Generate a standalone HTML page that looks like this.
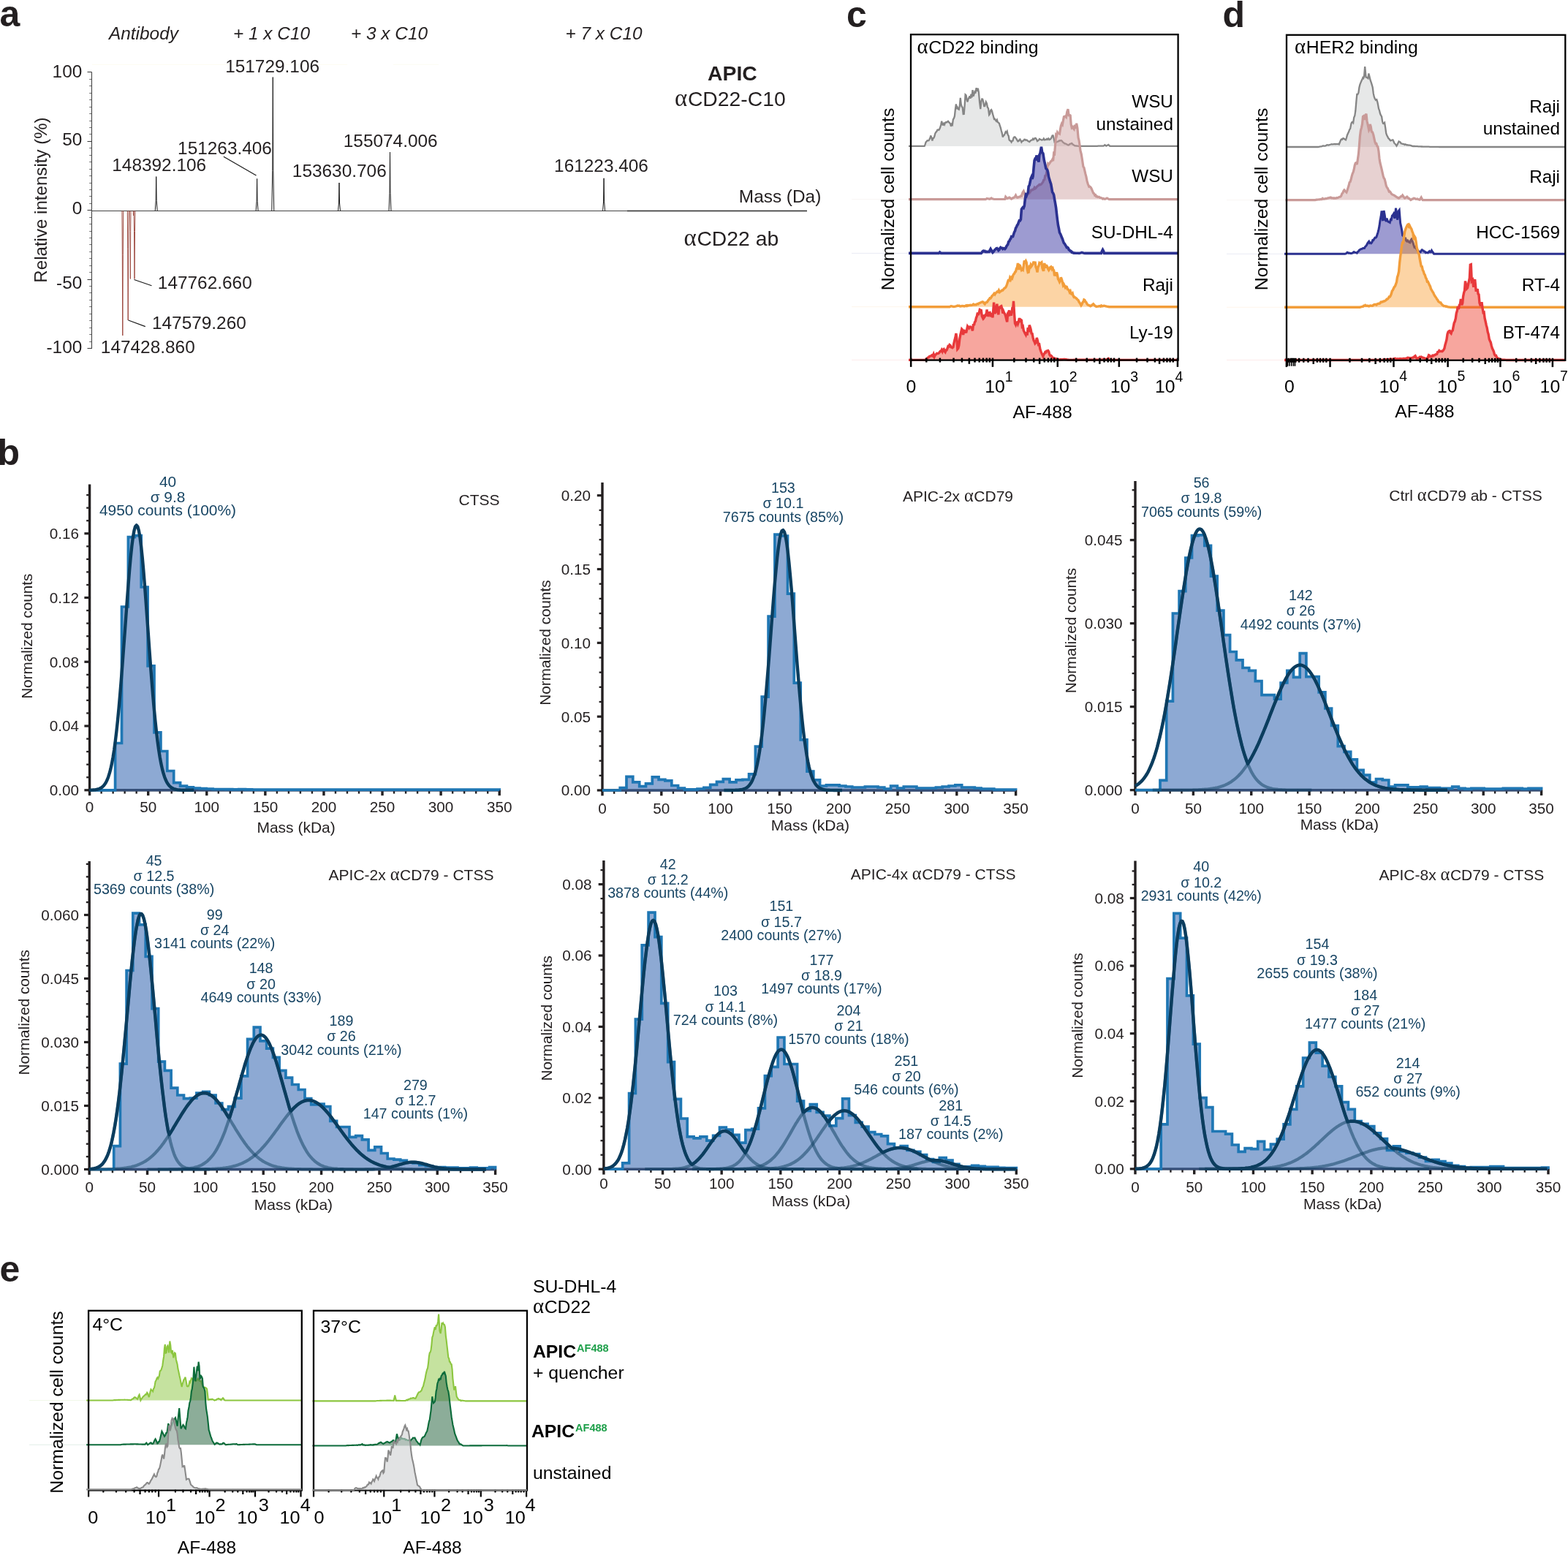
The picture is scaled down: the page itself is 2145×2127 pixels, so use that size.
<!DOCTYPE html>
<html lang="en"><head><meta charset="utf-8"><title>Figure</title>
<style>
html,body{margin:0;padding:0;background:#fff;}
svg{display:block;font-family:"Liberation Sans",sans-serif;}
</style></head>
<body>
<svg width="2145" height="2127" viewBox="0 0 2145 2127" fill="#231f20">
<rect x="0" y="0" width="2145" height="2127" fill="#ffffff"/>
<g id="panel-a">
<text transform="translate(-0.5 36.4) scale(1.00 1)" font-size="50.0" font-weight="bold" fill="#231f20">a</text>
<text x="149.0" y="54.3" font-size="24.40" font-style="italic">Antibody</text>
<text x="319.0" y="54.3" font-size="24.40" font-style="italic">+ 1 x C10</text>
<text x="480.0" y="54.3" font-size="24.40" font-style="italic">+ 3 x C10</text>
<text x="773.5" y="54.3" font-size="24.40" font-style="italic">+ 7 x C10</text>
<line x1="126.00" y1="88.30" x2="475.00" y2="88.30" stroke="#f6f2cf" stroke-width="1.00" stroke-opacity="0.3"/>
<line x1="538.00" y1="88.30" x2="600.00" y2="88.30" stroke="#f6f2cf" stroke-width="1.00" stroke-opacity="0.25"/>
<line x1="125.50" y1="98.50" x2="125.50" y2="477.00" stroke="#3a3a3a" stroke-width="1.00" />
<line x1="119.50" y1="98.50" x2="125.50" y2="98.50" stroke="#3a3a3a" stroke-width="1.00" />
<line x1="122.20" y1="108.50" x2="125.50" y2="108.50" stroke="#3a3a3a" stroke-width="0.90" stroke-opacity="0.8"/>
<line x1="122.20" y1="117.50" x2="125.50" y2="117.50" stroke="#3a3a3a" stroke-width="0.90" stroke-opacity="0.8"/>
<line x1="122.20" y1="127.50" x2="125.50" y2="127.50" stroke="#3a3a3a" stroke-width="0.90" stroke-opacity="0.8"/>
<line x1="122.20" y1="136.50" x2="125.50" y2="136.50" stroke="#3a3a3a" stroke-width="0.90" stroke-opacity="0.8"/>
<line x1="122.20" y1="146.50" x2="125.50" y2="146.50" stroke="#3a3a3a" stroke-width="0.90" stroke-opacity="0.8"/>
<line x1="122.20" y1="155.50" x2="125.50" y2="155.50" stroke="#3a3a3a" stroke-width="0.90" stroke-opacity="0.8"/>
<line x1="122.20" y1="165.50" x2="125.50" y2="165.50" stroke="#3a3a3a" stroke-width="0.90" stroke-opacity="0.8"/>
<line x1="122.20" y1="174.50" x2="125.50" y2="174.50" stroke="#3a3a3a" stroke-width="0.90" stroke-opacity="0.8"/>
<line x1="122.20" y1="183.50" x2="125.50" y2="183.50" stroke="#3a3a3a" stroke-width="0.90" stroke-opacity="0.8"/>
<line x1="119.50" y1="193.50" x2="125.50" y2="193.50" stroke="#3a3a3a" stroke-width="1.00" />
<line x1="122.20" y1="202.50" x2="125.50" y2="202.50" stroke="#3a3a3a" stroke-width="0.90" stroke-opacity="0.8"/>
<line x1="122.20" y1="212.50" x2="125.50" y2="212.50" stroke="#3a3a3a" stroke-width="0.90" stroke-opacity="0.8"/>
<line x1="122.20" y1="221.50" x2="125.50" y2="221.50" stroke="#3a3a3a" stroke-width="0.90" stroke-opacity="0.8"/>
<line x1="122.20" y1="231.50" x2="125.50" y2="231.50" stroke="#3a3a3a" stroke-width="0.90" stroke-opacity="0.8"/>
<line x1="122.20" y1="240.50" x2="125.50" y2="240.50" stroke="#3a3a3a" stroke-width="0.90" stroke-opacity="0.8"/>
<line x1="122.20" y1="250.50" x2="125.50" y2="250.50" stroke="#3a3a3a" stroke-width="0.90" stroke-opacity="0.8"/>
<line x1="122.20" y1="259.50" x2="125.50" y2="259.50" stroke="#3a3a3a" stroke-width="0.90" stroke-opacity="0.8"/>
<line x1="122.20" y1="268.50" x2="125.50" y2="268.50" stroke="#3a3a3a" stroke-width="0.90" stroke-opacity="0.8"/>
<line x1="122.20" y1="278.50" x2="125.50" y2="278.50" stroke="#3a3a3a" stroke-width="0.90" stroke-opacity="0.8"/>
<line x1="119.50" y1="287.50" x2="125.50" y2="287.50" stroke="#3a3a3a" stroke-width="1.00" />
<line x1="122.20" y1="297.50" x2="125.50" y2="297.50" stroke="#3a3a3a" stroke-width="0.90" stroke-opacity="0.8"/>
<line x1="122.20" y1="306.50" x2="125.50" y2="306.50" stroke="#3a3a3a" stroke-width="0.90" stroke-opacity="0.8"/>
<line x1="122.20" y1="316.50" x2="125.50" y2="316.50" stroke="#3a3a3a" stroke-width="0.90" stroke-opacity="0.8"/>
<line x1="122.20" y1="325.50" x2="125.50" y2="325.50" stroke="#3a3a3a" stroke-width="0.90" stroke-opacity="0.8"/>
<line x1="122.20" y1="334.50" x2="125.50" y2="334.50" stroke="#3a3a3a" stroke-width="0.90" stroke-opacity="0.8"/>
<line x1="122.20" y1="344.50" x2="125.50" y2="344.50" stroke="#3a3a3a" stroke-width="0.90" stroke-opacity="0.8"/>
<line x1="122.20" y1="353.50" x2="125.50" y2="353.50" stroke="#3a3a3a" stroke-width="0.90" stroke-opacity="0.8"/>
<line x1="122.20" y1="363.50" x2="125.50" y2="363.50" stroke="#3a3a3a" stroke-width="0.90" stroke-opacity="0.8"/>
<line x1="122.20" y1="372.50" x2="125.50" y2="372.50" stroke="#3a3a3a" stroke-width="0.90" stroke-opacity="0.8"/>
<line x1="119.50" y1="382.50" x2="125.50" y2="382.50" stroke="#3a3a3a" stroke-width="1.00" />
<line x1="122.20" y1="391.50" x2="125.50" y2="391.50" stroke="#3a3a3a" stroke-width="0.90" stroke-opacity="0.8"/>
<line x1="122.20" y1="400.50" x2="125.50" y2="400.50" stroke="#3a3a3a" stroke-width="0.90" stroke-opacity="0.8"/>
<line x1="122.20" y1="410.50" x2="125.50" y2="410.50" stroke="#3a3a3a" stroke-width="0.90" stroke-opacity="0.8"/>
<line x1="122.20" y1="419.50" x2="125.50" y2="419.50" stroke="#3a3a3a" stroke-width="0.90" stroke-opacity="0.8"/>
<line x1="122.20" y1="429.50" x2="125.50" y2="429.50" stroke="#3a3a3a" stroke-width="0.90" stroke-opacity="0.8"/>
<line x1="122.20" y1="438.50" x2="125.50" y2="438.50" stroke="#3a3a3a" stroke-width="0.90" stroke-opacity="0.8"/>
<line x1="122.20" y1="448.50" x2="125.50" y2="448.50" stroke="#3a3a3a" stroke-width="0.90" stroke-opacity="0.8"/>
<line x1="122.20" y1="457.50" x2="125.50" y2="457.50" stroke="#3a3a3a" stroke-width="0.90" stroke-opacity="0.8"/>
<line x1="122.20" y1="467.50" x2="125.50" y2="467.50" stroke="#3a3a3a" stroke-width="0.90" stroke-opacity="0.8"/>
<line x1="119.50" y1="476.50" x2="125.50" y2="476.50" stroke="#3a3a3a" stroke-width="1.00" />
<text x="112.3" y="106.3" font-size="24.40" text-anchor="end">100</text>
<text x="112.3" y="199.3" font-size="24.40" text-anchor="end">50</text>
<text x="112.3" y="293.2" font-size="24.40" text-anchor="end">0</text>
<text x="112.3" y="395.2" font-size="24.40" text-anchor="end">-50</text>
<text x="112.3" y="483.2" font-size="24.40" text-anchor="end">-100</text>
<text x="63.6" y="273.5" font-size="24.10" text-anchor="middle" transform="rotate(-90 63.6 273.5)">Relative intensity (%)</text>
<line x1="125.50" y1="288.50" x2="858.00" y2="288.50" stroke="#444" stroke-width="1.00" />
<line x1="858.00" y1="288.50" x2="1104.00" y2="288.50" stroke="#2a2a2a" stroke-width="1.40" />
<path d="M212.20 288.50 L213.20 274.43 L213.70 241.60 L214.20 274.43 L215.20 288.50" stroke="#1a1a1a" stroke-width="1.00" fill="none" stroke-linejoin="miter"/>
<path d="M350.10 288.50 L351.10 275.30 L351.60 244.50 L352.10 275.30 L353.10 288.50" stroke="#1a1a1a" stroke-width="1.00" fill="none" stroke-linejoin="miter"/>
<path d="M371.80 288.50 L372.80 233.63 L373.30 105.60 L373.80 233.63 L374.80 288.50" stroke="#1a1a1a" stroke-width="1.00" fill="none" stroke-linejoin="miter"/>
<path d="M462.50 288.50 L463.50 276.95 L464.00 250.00 L464.50 276.95 L465.50 288.50" stroke="#1a1a1a" stroke-width="1.00" fill="none" stroke-linejoin="miter"/>
<path d="M532.00 288.50 L533.00 264.35 L533.50 208.00 L534.00 264.35 L535.00 288.50" stroke="#1a1a1a" stroke-width="1.00" fill="none" stroke-linejoin="miter"/>
<path d="M824.60 288.50 L825.60 275.09 L826.10 243.80 L826.60 275.09 L827.60 288.50" stroke="#1a1a1a" stroke-width="1.00" fill="none" stroke-linejoin="miter"/>
<path d="M166.90 288.50 L167.30 348.18 L167.80 459.00 L168.30 348.18 L168.70 288.50" stroke="#963c32" stroke-width="0.90" fill="none" stroke-linejoin="miter"/>
<path d="M174.30 288.50 L174.70 340.82 L175.20 438.00 L175.70 340.82 L176.10 288.50" stroke="#963c32" stroke-width="0.90" fill="none" stroke-linejoin="miter"/>
<path d="M177.50 288.50 L177.90 316.40 L178.30 381.50 L178.70 316.40 L179.10 288.50" stroke="#963c32" stroke-width="0.80" fill="none" stroke-linejoin="miter"/>
<path d="M183.10 288.50 L183.50 316.40 L184.00 381.50 L184.50 316.40 L184.90 288.50" stroke="#963c32" stroke-width="0.90" fill="none" stroke-linejoin="miter"/>
<path d="M181.90 288.50 L182.20 290.45 L182.50 295.00 L182.80 290.45 L183.10 288.50" stroke="#963c32" stroke-width="0.70" fill="none" stroke-linejoin="miter"/>
<line x1="305.90" y1="214.30" x2="350.50" y2="240.00" stroke="#1a1a1a" stroke-width="1.20" />
<line x1="183.50" y1="382.50" x2="207.50" y2="390.70" stroke="#1a1a1a" stroke-width="1.20" />
<line x1="175.50" y1="438.00" x2="198.80" y2="446.60" stroke="#1a1a1a" stroke-width="1.20" />
<text x="372.6" y="98.8" font-size="24.40" text-anchor="middle">151729.106</text>
<text x="307.5" y="210.6" font-size="24.40" text-anchor="middle">151263.406</text>
<text x="217.7" y="233.5" font-size="24.40" text-anchor="middle">148392.106</text>
<text x="464.3" y="241.6" font-size="24.40" text-anchor="middle">153630.706</text>
<text x="534.2" y="201.2" font-size="24.40" text-anchor="middle">155074.006</text>
<text x="822.5" y="235.1" font-size="24.40" text-anchor="middle">161223.406</text>
<text x="280.3" y="395.0" font-size="24.40" text-anchor="middle">147762.660</text>
<text x="272.4" y="449.7" font-size="24.40" text-anchor="middle">147579.260</text>
<text x="202.3" y="482.9" font-size="24.40" text-anchor="middle">147428.860</text>
<text x="1001.9" y="110.2" font-size="28.30" text-anchor="middle" font-weight="bold">APIC</text>
<text x="998.8" y="145.3" font-size="28.30" text-anchor="middle"><tspan font-family="'Liberation Serif',serif" font-size="32.8" letter-spacing="0.8">α</tspan>CD22-C10</text>
<text x="1000.3" y="336.3" font-size="28.30" text-anchor="middle"><tspan font-family="'Liberation Serif',serif" font-size="32.8" letter-spacing="0.8">α</tspan>CD22 ab</text>
<text x="1123.3" y="277.3" font-size="24.40" text-anchor="end">Mass (Da)</text>
</g>
<g id="panel-b">
<text transform="translate(-3.6 636.3) scale(1.00 1)" font-size="50.0" font-weight="bold" fill="#231f20">b</text>
<g>
<line x1="122.60" y1="662.60" x2="122.60" y2="1082.50" stroke="#231f20" stroke-width="3.40" />
<line x1="120.90" y1="1080.80" x2="684.50" y2="1080.80" stroke="#231f20" stroke-width="3.40" />
<line x1="115.40" y1="1080.80" x2="122.60" y2="1080.80" stroke="#231f20" stroke-width="3.20" />
<text x="108.0" y="1088.1" font-size="20.70" text-anchor="end">0.00</text>
<line x1="118.20" y1="1063.25" x2="122.60" y2="1063.25" stroke="#231f20" stroke-width="2.30" />
<line x1="118.20" y1="1045.70" x2="122.60" y2="1045.70" stroke="#231f20" stroke-width="2.30" />
<line x1="118.20" y1="1028.14" x2="122.60" y2="1028.14" stroke="#231f20" stroke-width="2.30" />
<line x1="118.20" y1="1010.59" x2="122.60" y2="1010.59" stroke="#231f20" stroke-width="2.30" />
<line x1="115.40" y1="993.04" x2="122.60" y2="993.04" stroke="#231f20" stroke-width="3.20" />
<text x="108.0" y="1000.3" font-size="20.70" text-anchor="end">0.04</text>
<line x1="118.20" y1="975.49" x2="122.60" y2="975.49" stroke="#231f20" stroke-width="2.30" />
<line x1="118.20" y1="957.94" x2="122.60" y2="957.94" stroke="#231f20" stroke-width="2.30" />
<line x1="118.20" y1="940.38" x2="122.60" y2="940.38" stroke="#231f20" stroke-width="2.30" />
<line x1="118.20" y1="922.83" x2="122.60" y2="922.83" stroke="#231f20" stroke-width="2.30" />
<line x1="115.40" y1="905.28" x2="122.60" y2="905.28" stroke="#231f20" stroke-width="3.20" />
<text x="108.0" y="912.6" font-size="20.70" text-anchor="end">0.08</text>
<line x1="118.20" y1="887.73" x2="122.60" y2="887.73" stroke="#231f20" stroke-width="2.30" />
<line x1="118.20" y1="870.18" x2="122.60" y2="870.18" stroke="#231f20" stroke-width="2.30" />
<line x1="118.20" y1="852.62" x2="122.60" y2="852.62" stroke="#231f20" stroke-width="2.30" />
<line x1="118.20" y1="835.07" x2="122.60" y2="835.07" stroke="#231f20" stroke-width="2.30" />
<line x1="115.40" y1="817.52" x2="122.60" y2="817.52" stroke="#231f20" stroke-width="3.20" />
<text x="108.0" y="824.8" font-size="20.70" text-anchor="end">0.12</text>
<line x1="118.20" y1="799.97" x2="122.60" y2="799.97" stroke="#231f20" stroke-width="2.30" />
<line x1="118.20" y1="782.42" x2="122.60" y2="782.42" stroke="#231f20" stroke-width="2.30" />
<line x1="118.20" y1="764.86" x2="122.60" y2="764.86" stroke="#231f20" stroke-width="2.30" />
<line x1="118.20" y1="747.31" x2="122.60" y2="747.31" stroke="#231f20" stroke-width="2.30" />
<line x1="115.40" y1="729.76" x2="122.60" y2="729.76" stroke="#231f20" stroke-width="3.20" />
<text x="108.0" y="737.1" font-size="20.70" text-anchor="end">0.16</text>
<line x1="118.20" y1="712.21" x2="122.60" y2="712.21" stroke="#231f20" stroke-width="2.30" />
<line x1="118.20" y1="694.66" x2="122.60" y2="694.66" stroke="#231f20" stroke-width="2.30" />
<line x1="118.20" y1="677.10" x2="122.60" y2="677.10" stroke="#231f20" stroke-width="2.30" />
<line x1="122.60" y1="1080.80" x2="122.60" y2="1088.20" stroke="#231f20" stroke-width="3.40" />
<text x="122.6" y="1110.6" font-size="20.70" text-anchor="middle">0</text>
<line x1="138.62" y1="1080.80" x2="138.62" y2="1085.60" stroke="#231f20" stroke-width="2.40" />
<line x1="154.63" y1="1080.80" x2="154.63" y2="1085.60" stroke="#231f20" stroke-width="2.40" />
<line x1="170.65" y1="1080.80" x2="170.65" y2="1085.60" stroke="#231f20" stroke-width="2.40" />
<line x1="186.67" y1="1080.80" x2="186.67" y2="1085.60" stroke="#231f20" stroke-width="2.40" />
<line x1="202.69" y1="1080.80" x2="202.69" y2="1088.20" stroke="#231f20" stroke-width="3.40" />
<text x="202.7" y="1110.6" font-size="20.70" text-anchor="middle">50</text>
<line x1="218.70" y1="1080.80" x2="218.70" y2="1085.60" stroke="#231f20" stroke-width="2.40" />
<line x1="234.72" y1="1080.80" x2="234.72" y2="1085.60" stroke="#231f20" stroke-width="2.40" />
<line x1="250.74" y1="1080.80" x2="250.74" y2="1085.60" stroke="#231f20" stroke-width="2.40" />
<line x1="266.75" y1="1080.80" x2="266.75" y2="1085.60" stroke="#231f20" stroke-width="2.40" />
<line x1="282.77" y1="1080.80" x2="282.77" y2="1088.20" stroke="#231f20" stroke-width="3.40" />
<text x="282.8" y="1110.6" font-size="20.70" text-anchor="middle">100</text>
<line x1="298.79" y1="1080.80" x2="298.79" y2="1085.60" stroke="#231f20" stroke-width="2.40" />
<line x1="314.81" y1="1080.80" x2="314.81" y2="1085.60" stroke="#231f20" stroke-width="2.40" />
<line x1="330.82" y1="1080.80" x2="330.82" y2="1085.60" stroke="#231f20" stroke-width="2.40" />
<line x1="346.84" y1="1080.80" x2="346.84" y2="1085.60" stroke="#231f20" stroke-width="2.40" />
<line x1="362.86" y1="1080.80" x2="362.86" y2="1088.20" stroke="#231f20" stroke-width="3.40" />
<text x="362.9" y="1110.6" font-size="20.70" text-anchor="middle">150</text>
<line x1="378.87" y1="1080.80" x2="378.87" y2="1085.60" stroke="#231f20" stroke-width="2.40" />
<line x1="394.89" y1="1080.80" x2="394.89" y2="1085.60" stroke="#231f20" stroke-width="2.40" />
<line x1="410.91" y1="1080.80" x2="410.91" y2="1085.60" stroke="#231f20" stroke-width="2.40" />
<line x1="426.93" y1="1080.80" x2="426.93" y2="1085.60" stroke="#231f20" stroke-width="2.40" />
<line x1="442.94" y1="1080.80" x2="442.94" y2="1088.20" stroke="#231f20" stroke-width="3.40" />
<text x="442.9" y="1110.6" font-size="20.70" text-anchor="middle">200</text>
<line x1="458.96" y1="1080.80" x2="458.96" y2="1085.60" stroke="#231f20" stroke-width="2.40" />
<line x1="474.98" y1="1080.80" x2="474.98" y2="1085.60" stroke="#231f20" stroke-width="2.40" />
<line x1="490.99" y1="1080.80" x2="490.99" y2="1085.60" stroke="#231f20" stroke-width="2.40" />
<line x1="507.01" y1="1080.80" x2="507.01" y2="1085.60" stroke="#231f20" stroke-width="2.40" />
<line x1="523.03" y1="1080.80" x2="523.03" y2="1088.20" stroke="#231f20" stroke-width="3.40" />
<text x="523.0" y="1110.6" font-size="20.70" text-anchor="middle">250</text>
<line x1="539.05" y1="1080.80" x2="539.05" y2="1085.60" stroke="#231f20" stroke-width="2.40" />
<line x1="555.06" y1="1080.80" x2="555.06" y2="1085.60" stroke="#231f20" stroke-width="2.40" />
<line x1="571.08" y1="1080.80" x2="571.08" y2="1085.60" stroke="#231f20" stroke-width="2.40" />
<line x1="587.10" y1="1080.80" x2="587.10" y2="1085.60" stroke="#231f20" stroke-width="2.40" />
<line x1="603.11" y1="1080.80" x2="603.11" y2="1088.20" stroke="#231f20" stroke-width="3.40" />
<text x="603.1" y="1110.6" font-size="20.70" text-anchor="middle">300</text>
<line x1="619.13" y1="1080.80" x2="619.13" y2="1085.60" stroke="#231f20" stroke-width="2.40" />
<line x1="635.15" y1="1080.80" x2="635.15" y2="1085.60" stroke="#231f20" stroke-width="2.40" />
<line x1="651.17" y1="1080.80" x2="651.17" y2="1085.60" stroke="#231f20" stroke-width="2.40" />
<line x1="667.18" y1="1080.80" x2="667.18" y2="1085.60" stroke="#231f20" stroke-width="2.40" />
<line x1="683.20" y1="1080.80" x2="683.20" y2="1088.20" stroke="#231f20" stroke-width="3.40" />
<text x="683.2" y="1110.6" font-size="20.70" text-anchor="middle">350</text>
<path d="M157.6 1082.5 L157.6 1016.5 L166.5 1016.5 L166.5 830.0 L175.4 830.0 L175.4 734.6 L184.3 734.6 L184.3 732.6 L193.2 732.6 L193.2 803.0 L202.1 803.0 L202.1 910.8 L211.0 910.8 L211.0 1001.8 L219.9 1001.8 L219.9 1027.5 L228.8 1027.5 L228.8 1054.5 L237.7 1054.5 L237.7 1070.7 L246.6 1070.7 L246.6 1075.1 L255.5 1075.1 L255.5 1076.9 L264.4 1076.9 L264.4 1078.2 L273.3 1078.2 L273.3 1078.6 L282.2 1078.6 L282.2 1079.0 L291.1 1079.0 L291.1 1079.5 L300.0 1079.5 L300.0 1079.5 L308.9 1079.5 L308.9 1079.7 L317.8 1079.7 L317.8 1079.9 L326.7 1079.9 L326.7 1079.5 L335.6 1079.5 L335.6 1079.9 L344.5 1079.9 L344.5 1080.1 L353.4 1080.1 L353.4 1080.1 L362.3 1080.1 L362.3 1080.1 L371.2 1080.1 L371.2 1080.1 L380.1 1080.1 L380.1 1080.1 L389.0 1080.1 L389.0 1080.1 L397.9 1080.1 L397.9 1080.1 L406.8 1080.1 L406.8 1080.1 L415.7 1080.1 L415.7 1080.1 L424.6 1080.1 L424.6 1080.1 L433.5 1080.1 L433.5 1080.1 L442.4 1080.1 L442.4 1080.1 L451.3 1080.1 L451.3 1080.1 L460.2 1080.1 L460.2 1080.1 L469.1 1080.1 L469.1 1080.1 L478.0 1080.1 L478.0 1080.1 L486.9 1080.1 L486.9 1080.1 L495.8 1080.1 L495.8 1080.1 L504.7 1080.1 L504.7 1080.1 L513.6 1080.1 L513.6 1080.1 L522.5 1080.1 L522.5 1080.1 L531.4 1080.1 L531.4 1080.1 L540.3 1080.1 L540.3 1080.1 L549.2 1080.1 L549.2 1080.1 L558.1 1080.1 L558.1 1080.1 L567.0 1080.1 L567.0 1080.1 L575.9 1080.1 L575.9 1080.1 L584.8 1080.1 L584.8 1080.1 L593.7 1080.1 L593.7 1080.1 L602.6 1080.1 L602.6 1080.1 L611.5 1080.1 L611.5 1080.1 L620.4 1080.1 L620.4 1080.1 L629.3 1080.1 L629.3 1080.1 L638.2 1080.1 L638.2 1080.1 L647.1 1080.1 L647.1 1080.1 L656.0 1080.1 L656.0 1080.1 L664.9 1080.1 L664.9 1080.1 L673.8 1080.1 L673.8 1080.1 L682.7 1080.1 L682.7 1080.1 L683.2 1080.1 L683.2 1082.5Z" stroke="none" stroke-width="0.00" fill="#4170b6" fill-opacity="0.6"/>
<path d="M122.6 1080.8 L157.6 1080.8 L157.6 1016.5 L166.5 1016.5 L166.5 830.0 L175.4 830.0 L175.4 734.6 L184.3 734.6 L184.3 732.6 L193.2 732.6 L193.2 803.0 L202.1 803.0 L202.1 910.8 L211.0 910.8 L211.0 1001.8 L219.9 1001.8 L219.9 1027.5 L228.8 1027.5 L228.8 1054.5 L237.7 1054.5 L237.7 1070.7 L246.6 1070.7 L246.6 1075.1 L255.5 1075.1 L255.5 1076.9 L264.4 1076.9 L264.4 1078.2 L273.3 1078.2 L273.3 1078.6 L282.2 1078.6 L282.2 1079.0 L291.1 1079.0 L291.1 1079.5 L300.0 1079.5 L300.0 1079.5 L308.9 1079.5 L308.9 1079.7 L317.8 1079.7 L317.8 1079.9 L326.7 1079.9 L326.7 1079.5 L335.6 1079.5 L335.6 1079.9 L344.5 1079.9 L344.5 1080.1 L353.4 1080.1 L353.4 1080.1 L362.3 1080.1 L362.3 1080.1 L371.2 1080.1 L371.2 1080.1 L380.1 1080.1 L380.1 1080.1 L389.0 1080.1 L389.0 1080.1 L397.9 1080.1 L397.9 1080.1 L406.8 1080.1 L406.8 1080.1 L415.7 1080.1 L415.7 1080.1 L424.6 1080.1 L424.6 1080.1 L433.5 1080.1 L433.5 1080.1 L442.4 1080.1 L442.4 1080.1 L451.3 1080.1 L451.3 1080.1 L460.2 1080.1 L460.2 1080.1 L469.1 1080.1 L469.1 1080.1 L478.0 1080.1 L478.0 1080.1 L486.9 1080.1 L486.9 1080.1 L495.8 1080.1 L495.8 1080.1 L504.7 1080.1 L504.7 1080.1 L513.6 1080.1 L513.6 1080.1 L522.5 1080.1 L522.5 1080.1 L531.4 1080.1 L531.4 1080.1 L540.3 1080.1 L540.3 1080.1 L549.2 1080.1 L549.2 1080.1 L558.1 1080.1 L558.1 1080.1 L567.0 1080.1 L567.0 1080.1 L575.9 1080.1 L575.9 1080.1 L584.8 1080.1 L584.8 1080.1 L593.7 1080.1 L593.7 1080.1 L602.6 1080.1 L602.6 1080.1 L611.5 1080.1 L611.5 1080.1 L620.4 1080.1 L620.4 1080.1 L629.3 1080.1 L629.3 1080.1 L638.2 1080.1 L638.2 1080.1 L647.1 1080.1 L647.1 1080.1 L656.0 1080.1 L656.0 1080.1 L664.9 1080.1 L664.9 1080.1 L673.8 1080.1 L673.8 1080.1 L682.7 1080.1 L682.7 1080.1 L683.2 1080.1 L683.2 1080.8" stroke="#1f77b4" stroke-width="3.70" fill="none" stroke-linejoin="miter"/>
<path d="M122.6 1080.7 L124.2 1080.7 L125.8 1080.6 L127.4 1080.5 L129.0 1080.4 L130.6 1080.2 L132.2 1079.9 L133.8 1079.5 L135.4 1079.0 L137.0 1078.4 L138.6 1077.5 L140.2 1076.3 L141.8 1074.7 L143.4 1072.7 L145.0 1070.1 L146.6 1066.8 L148.2 1062.7 L149.8 1057.7 L151.4 1051.6 L153.0 1044.3 L154.6 1035.6 L156.2 1025.5 L157.8 1013.7 L159.4 1000.3 L161.0 985.2 L162.6 968.5 L164.2 950.2 L165.8 930.4 L167.4 909.5 L169.0 887.8 L170.7 865.4 L172.3 843.1 L173.9 821.1 L175.5 800.0 L177.1 780.3 L178.7 762.6 L180.3 747.3 L181.9 734.9 L183.5 725.8 L185.1 720.2 L186.7 718.4 L188.3 720.2 L189.9 725.8 L191.5 734.9 L193.1 747.3 L194.7 762.6 L196.3 780.3 L197.9 800.0 L199.5 821.1 L201.1 843.1 L202.7 865.4 L204.3 887.8 L205.9 909.5 L207.5 930.4 L209.1 950.2 L210.7 968.5 L212.3 985.2 L213.9 1000.3 L215.5 1013.7 L217.1 1025.5 L218.7 1035.6 L220.3 1044.3 L221.9 1051.6 L223.5 1057.7 L225.1 1062.7 L226.7 1066.8 L228.3 1070.1 L229.9 1072.7 L231.5 1074.7 L233.1 1076.3 L234.7 1077.5 L236.3 1078.4 L237.9 1079.0 L239.5 1079.5 L241.1 1079.9 L242.7 1080.2 L244.3 1080.4 L245.9 1080.5 L247.5 1080.6 L249.1 1080.7 L250.7 1080.7 L252.3 1080.7 L253.9 1080.8 L255.5 1080.8 L257.1 1080.8 L258.7 1080.8 L260.3 1080.8 L261.9 1080.8 L263.6 1080.8 L265.2 1080.8" stroke="#0b3d5e" stroke-width="4.40" fill="none" stroke-linejoin="round" stroke-linecap="butt"/>
<text x="229.5" y="665.6" font-size="20.90" text-anchor="middle" fill="#174564">40</text>
<text x="229.5" y="686.9" font-size="20.90" text-anchor="middle" fill="#174564">σ 9.8</text>
<text x="229.5" y="705.0" font-size="20.90" text-anchor="middle" fill="#174564">4950 counts (100%)</text>
<text x="683.5" y="691.3" font-size="21.00" text-anchor="end">CTSS</text>
<text x="44.0" y="870.2" font-size="20.70" text-anchor="middle" transform="rotate(-90 44.0 870.2)">Normalized counts</text>
<text x="405.1" y="1138.6" font-size="21.00" text-anchor="middle">Mass (kDa)</text>
</g>
<g>
<line x1="824.00" y1="660.00" x2="824.00" y2="1082.70" stroke="#231f20" stroke-width="3.40" />
<line x1="822.30" y1="1081.00" x2="1390.90" y2="1081.00" stroke="#231f20" stroke-width="3.40" />
<line x1="816.80" y1="1081.00" x2="824.00" y2="1081.00" stroke="#231f20" stroke-width="3.20" />
<text x="808.0" y="1088.3" font-size="20.70" text-anchor="end">0.00</text>
<line x1="819.60" y1="1060.84" x2="824.00" y2="1060.84" stroke="#231f20" stroke-width="2.30" />
<line x1="819.60" y1="1040.67" x2="824.00" y2="1040.67" stroke="#231f20" stroke-width="2.30" />
<line x1="819.60" y1="1020.50" x2="824.00" y2="1020.50" stroke="#231f20" stroke-width="2.30" />
<line x1="819.60" y1="1000.34" x2="824.00" y2="1000.34" stroke="#231f20" stroke-width="2.30" />
<line x1="816.80" y1="980.17" x2="824.00" y2="980.17" stroke="#231f20" stroke-width="3.20" />
<text x="808.0" y="987.5" font-size="20.70" text-anchor="end">0.05</text>
<line x1="819.60" y1="960.01" x2="824.00" y2="960.01" stroke="#231f20" stroke-width="2.30" />
<line x1="819.60" y1="939.85" x2="824.00" y2="939.85" stroke="#231f20" stroke-width="2.30" />
<line x1="819.60" y1="919.68" x2="824.00" y2="919.68" stroke="#231f20" stroke-width="2.30" />
<line x1="819.60" y1="899.51" x2="824.00" y2="899.51" stroke="#231f20" stroke-width="2.30" />
<line x1="816.80" y1="879.35" x2="824.00" y2="879.35" stroke="#231f20" stroke-width="3.20" />
<text x="808.0" y="886.6" font-size="20.70" text-anchor="end">0.10</text>
<line x1="819.60" y1="859.18" x2="824.00" y2="859.18" stroke="#231f20" stroke-width="2.30" />
<line x1="819.60" y1="839.02" x2="824.00" y2="839.02" stroke="#231f20" stroke-width="2.30" />
<line x1="819.60" y1="818.86" x2="824.00" y2="818.86" stroke="#231f20" stroke-width="2.30" />
<line x1="819.60" y1="798.69" x2="824.00" y2="798.69" stroke="#231f20" stroke-width="2.30" />
<line x1="816.80" y1="778.53" x2="824.00" y2="778.53" stroke="#231f20" stroke-width="3.20" />
<text x="808.0" y="785.8" font-size="20.70" text-anchor="end">0.15</text>
<line x1="819.60" y1="758.36" x2="824.00" y2="758.36" stroke="#231f20" stroke-width="2.30" />
<line x1="819.60" y1="738.19" x2="824.00" y2="738.19" stroke="#231f20" stroke-width="2.30" />
<line x1="819.60" y1="718.03" x2="824.00" y2="718.03" stroke="#231f20" stroke-width="2.30" />
<line x1="819.60" y1="697.87" x2="824.00" y2="697.87" stroke="#231f20" stroke-width="2.30" />
<line x1="816.80" y1="677.70" x2="824.00" y2="677.70" stroke="#231f20" stroke-width="3.20" />
<text x="808.0" y="685.0" font-size="20.70" text-anchor="end">0.20</text>
<line x1="824.00" y1="1081.00" x2="824.00" y2="1088.40" stroke="#231f20" stroke-width="3.40" />
<text x="824.0" y="1112.8" font-size="20.70" text-anchor="middle">0</text>
<line x1="840.16" y1="1081.00" x2="840.16" y2="1085.80" stroke="#231f20" stroke-width="2.40" />
<line x1="856.32" y1="1081.00" x2="856.32" y2="1085.80" stroke="#231f20" stroke-width="2.40" />
<line x1="872.48" y1="1081.00" x2="872.48" y2="1085.80" stroke="#231f20" stroke-width="2.40" />
<line x1="888.64" y1="1081.00" x2="888.64" y2="1085.80" stroke="#231f20" stroke-width="2.40" />
<line x1="904.80" y1="1081.00" x2="904.80" y2="1088.40" stroke="#231f20" stroke-width="3.40" />
<text x="904.8" y="1112.8" font-size="20.70" text-anchor="middle">50</text>
<line x1="920.96" y1="1081.00" x2="920.96" y2="1085.80" stroke="#231f20" stroke-width="2.40" />
<line x1="937.12" y1="1081.00" x2="937.12" y2="1085.80" stroke="#231f20" stroke-width="2.40" />
<line x1="953.28" y1="1081.00" x2="953.28" y2="1085.80" stroke="#231f20" stroke-width="2.40" />
<line x1="969.44" y1="1081.00" x2="969.44" y2="1085.80" stroke="#231f20" stroke-width="2.40" />
<line x1="985.60" y1="1081.00" x2="985.60" y2="1088.40" stroke="#231f20" stroke-width="3.40" />
<text x="985.6" y="1112.8" font-size="20.70" text-anchor="middle">100</text>
<line x1="1001.76" y1="1081.00" x2="1001.76" y2="1085.80" stroke="#231f20" stroke-width="2.40" />
<line x1="1017.92" y1="1081.00" x2="1017.92" y2="1085.80" stroke="#231f20" stroke-width="2.40" />
<line x1="1034.08" y1="1081.00" x2="1034.08" y2="1085.80" stroke="#231f20" stroke-width="2.40" />
<line x1="1050.24" y1="1081.00" x2="1050.24" y2="1085.80" stroke="#231f20" stroke-width="2.40" />
<line x1="1066.40" y1="1081.00" x2="1066.40" y2="1088.40" stroke="#231f20" stroke-width="3.40" />
<text x="1066.4" y="1112.8" font-size="20.70" text-anchor="middle">150</text>
<line x1="1082.56" y1="1081.00" x2="1082.56" y2="1085.80" stroke="#231f20" stroke-width="2.40" />
<line x1="1098.72" y1="1081.00" x2="1098.72" y2="1085.80" stroke="#231f20" stroke-width="2.40" />
<line x1="1114.88" y1="1081.00" x2="1114.88" y2="1085.80" stroke="#231f20" stroke-width="2.40" />
<line x1="1131.04" y1="1081.00" x2="1131.04" y2="1085.80" stroke="#231f20" stroke-width="2.40" />
<line x1="1147.20" y1="1081.00" x2="1147.20" y2="1088.40" stroke="#231f20" stroke-width="3.40" />
<text x="1147.2" y="1112.8" font-size="20.70" text-anchor="middle">200</text>
<line x1="1163.36" y1="1081.00" x2="1163.36" y2="1085.80" stroke="#231f20" stroke-width="2.40" />
<line x1="1179.52" y1="1081.00" x2="1179.52" y2="1085.80" stroke="#231f20" stroke-width="2.40" />
<line x1="1195.68" y1="1081.00" x2="1195.68" y2="1085.80" stroke="#231f20" stroke-width="2.40" />
<line x1="1211.84" y1="1081.00" x2="1211.84" y2="1085.80" stroke="#231f20" stroke-width="2.40" />
<line x1="1228.00" y1="1081.00" x2="1228.00" y2="1088.40" stroke="#231f20" stroke-width="3.40" />
<text x="1228.0" y="1112.8" font-size="20.70" text-anchor="middle">250</text>
<line x1="1244.16" y1="1081.00" x2="1244.16" y2="1085.80" stroke="#231f20" stroke-width="2.40" />
<line x1="1260.32" y1="1081.00" x2="1260.32" y2="1085.80" stroke="#231f20" stroke-width="2.40" />
<line x1="1276.48" y1="1081.00" x2="1276.48" y2="1085.80" stroke="#231f20" stroke-width="2.40" />
<line x1="1292.64" y1="1081.00" x2="1292.64" y2="1085.80" stroke="#231f20" stroke-width="2.40" />
<line x1="1308.80" y1="1081.00" x2="1308.80" y2="1088.40" stroke="#231f20" stroke-width="3.40" />
<text x="1308.8" y="1112.8" font-size="20.70" text-anchor="middle">300</text>
<line x1="1324.96" y1="1081.00" x2="1324.96" y2="1085.80" stroke="#231f20" stroke-width="2.40" />
<line x1="1341.12" y1="1081.00" x2="1341.12" y2="1085.80" stroke="#231f20" stroke-width="2.40" />
<line x1="1357.28" y1="1081.00" x2="1357.28" y2="1085.80" stroke="#231f20" stroke-width="2.40" />
<line x1="1373.44" y1="1081.00" x2="1373.44" y2="1085.80" stroke="#231f20" stroke-width="2.40" />
<line x1="1389.60" y1="1081.00" x2="1389.60" y2="1088.40" stroke="#231f20" stroke-width="3.40" />
<text x="1389.6" y="1112.8" font-size="20.70" text-anchor="middle">350</text>
<path d="M848.2 1082.7 L848.2 1077.6 L857.0 1077.6 L857.0 1062.4 L865.8 1062.4 L865.8 1069.9 L874.7 1069.9 L874.7 1075.6 L883.5 1075.6 L883.5 1071.9 L892.3 1071.9 L892.3 1062.9 L901.1 1062.9 L901.1 1066.3 L909.9 1066.3 L909.9 1067.9 L918.8 1067.9 L918.8 1074.5 L927.6 1074.5 L927.6 1078.0 L936.4 1078.0 L936.4 1079.8 L945.2 1079.8 L945.2 1079.8 L954.0 1079.8 L954.0 1079.0 L962.9 1079.0 L962.9 1077.4 L971.7 1077.4 L971.7 1073.3 L980.5 1073.3 L980.5 1069.3 L989.3 1069.3 L989.3 1065.7 L998.1 1065.7 L998.1 1069.9 L1007.0 1069.9 L1007.0 1066.9 L1015.8 1066.9 L1015.8 1066.3 L1024.6 1066.3 L1024.6 1058.8 L1033.4 1058.8 L1033.4 1021.1 L1042.2 1021.1 L1042.2 953.2 L1051.1 953.2 L1051.1 843.1 L1059.9 843.1 L1059.9 731.1 L1068.7 731.1 L1068.7 733.0 L1077.5 733.0 L1077.5 812.2 L1086.3 812.2 L1086.3 934.2 L1095.2 934.2 L1095.2 1011.8 L1104.0 1011.8 L1104.0 1055.2 L1112.8 1055.2 L1112.8 1066.9 L1121.6 1066.9 L1121.6 1075.0 L1130.4 1075.0 L1130.4 1073.9 L1139.3 1073.9 L1139.3 1073.9 L1148.1 1073.9 L1148.1 1075.0 L1156.9 1075.0 L1156.9 1076.0 L1165.7 1076.0 L1165.7 1077.0 L1174.5 1077.0 L1174.5 1077.0 L1183.4 1077.0 L1183.4 1076.0 L1192.2 1076.0 L1192.2 1076.0 L1201.0 1076.0 L1201.0 1077.0 L1209.8 1077.0 L1209.8 1079.0 L1218.6 1079.0 L1218.6 1075.0 L1227.5 1075.0 L1227.5 1078.0 L1236.3 1078.0 L1236.3 1076.0 L1245.1 1076.0 L1245.1 1076.0 L1253.9 1076.0 L1253.9 1078.0 L1262.7 1078.0 L1262.7 1078.0 L1271.6 1078.0 L1271.6 1078.0 L1280.4 1078.0 L1280.4 1077.0 L1289.2 1077.0 L1289.2 1076.0 L1298.0 1076.0 L1298.0 1075.0 L1306.8 1075.0 L1306.8 1073.9 L1315.7 1073.9 L1315.7 1077.0 L1324.5 1077.0 L1324.5 1077.0 L1333.3 1077.0 L1333.3 1078.0 L1342.1 1078.0 L1342.1 1079.0 L1350.9 1079.0 L1350.9 1079.0 L1359.8 1079.0 L1359.8 1080.0 L1368.6 1080.0 L1368.6 1080.0 L1377.4 1080.0 L1377.4 1080.0 L1386.2 1080.0 L1386.2 1080.0 L1389.6 1080.0 L1389.6 1082.7Z" stroke="none" stroke-width="0.00" fill="#4170b6" fill-opacity="0.6"/>
<path d="M824.0 1081.0 L848.2 1081.0 L848.2 1077.6 L857.0 1077.6 L857.0 1062.4 L865.8 1062.4 L865.8 1069.9 L874.7 1069.9 L874.7 1075.6 L883.5 1075.6 L883.5 1071.9 L892.3 1071.9 L892.3 1062.9 L901.1 1062.9 L901.1 1066.3 L909.9 1066.3 L909.9 1067.9 L918.8 1067.9 L918.8 1074.5 L927.6 1074.5 L927.6 1078.0 L936.4 1078.0 L936.4 1079.8 L945.2 1079.8 L945.2 1079.8 L954.0 1079.8 L954.0 1079.0 L962.9 1079.0 L962.9 1077.4 L971.7 1077.4 L971.7 1073.3 L980.5 1073.3 L980.5 1069.3 L989.3 1069.3 L989.3 1065.7 L998.1 1065.7 L998.1 1069.9 L1007.0 1069.9 L1007.0 1066.9 L1015.8 1066.9 L1015.8 1066.3 L1024.6 1066.3 L1024.6 1058.8 L1033.4 1058.8 L1033.4 1021.1 L1042.2 1021.1 L1042.2 953.2 L1051.1 953.2 L1051.1 843.1 L1059.9 843.1 L1059.9 731.1 L1068.7 731.1 L1068.7 733.0 L1077.5 733.0 L1077.5 812.2 L1086.3 812.2 L1086.3 934.2 L1095.2 934.2 L1095.2 1011.8 L1104.0 1011.8 L1104.0 1055.2 L1112.8 1055.2 L1112.8 1066.9 L1121.6 1066.9 L1121.6 1075.0 L1130.4 1075.0 L1130.4 1073.9 L1139.3 1073.9 L1139.3 1073.9 L1148.1 1073.9 L1148.1 1075.0 L1156.9 1075.0 L1156.9 1076.0 L1165.7 1076.0 L1165.7 1077.0 L1174.5 1077.0 L1174.5 1077.0 L1183.4 1077.0 L1183.4 1076.0 L1192.2 1076.0 L1192.2 1076.0 L1201.0 1076.0 L1201.0 1077.0 L1209.8 1077.0 L1209.8 1079.0 L1218.6 1079.0 L1218.6 1075.0 L1227.5 1075.0 L1227.5 1078.0 L1236.3 1078.0 L1236.3 1076.0 L1245.1 1076.0 L1245.1 1076.0 L1253.9 1076.0 L1253.9 1078.0 L1262.7 1078.0 L1262.7 1078.0 L1271.6 1078.0 L1271.6 1078.0 L1280.4 1078.0 L1280.4 1077.0 L1289.2 1077.0 L1289.2 1076.0 L1298.0 1076.0 L1298.0 1075.0 L1306.8 1075.0 L1306.8 1073.9 L1315.7 1073.9 L1315.7 1077.0 L1324.5 1077.0 L1324.5 1077.0 L1333.3 1077.0 L1333.3 1078.0 L1342.1 1078.0 L1342.1 1079.0 L1350.9 1079.0 L1350.9 1079.0 L1359.8 1079.0 L1359.8 1080.0 L1368.6 1080.0 L1368.6 1080.0 L1377.4 1080.0 L1377.4 1080.0 L1386.2 1080.0 L1386.2 1080.0 L1389.6 1080.0 L1389.6 1081.0" stroke="#1f77b4" stroke-width="3.70" fill="none" stroke-linejoin="miter"/>
<path d="M990.4 1081.0 L992.1 1081.0 L993.7 1081.0 L995.3 1081.0 L996.9 1081.0 L998.5 1081.0 L1000.1 1081.0 L1001.8 1081.0 L1003.4 1080.9 L1005.0 1080.9 L1006.6 1080.8 L1008.2 1080.8 L1009.8 1080.7 L1011.5 1080.5 L1013.1 1080.3 L1014.7 1080.1 L1016.3 1079.7 L1017.9 1079.2 L1019.5 1078.5 L1021.2 1077.6 L1022.8 1076.4 L1024.4 1074.9 L1026.0 1072.9 L1027.6 1070.5 L1029.2 1067.4 L1030.8 1063.5 L1032.5 1058.8 L1034.1 1053.1 L1035.7 1046.3 L1037.3 1038.3 L1038.9 1028.9 L1040.5 1018.0 L1042.2 1005.6 L1043.8 991.7 L1045.4 976.2 L1047.0 959.3 L1048.6 941.0 L1050.2 921.5 L1051.9 901.0 L1053.5 880.0 L1055.1 858.6 L1056.7 837.4 L1058.3 816.7 L1059.9 797.1 L1061.6 779.0 L1063.2 762.9 L1064.8 749.2 L1066.4 738.3 L1068.0 730.5 L1069.6 726.0 L1071.2 725.0 L1072.9 727.4 L1074.5 733.2 L1076.1 742.3 L1077.7 754.4 L1079.3 769.1 L1080.9 786.0 L1082.6 804.8 L1084.2 824.9 L1085.8 845.8 L1087.4 867.1 L1089.0 888.4 L1090.6 909.3 L1092.3 929.4 L1093.9 948.5 L1095.5 966.2 L1097.1 982.6 L1098.7 997.5 L1100.3 1010.8 L1102.0 1022.5 L1103.6 1032.8 L1105.2 1041.7 L1106.8 1049.2 L1108.4 1055.5 L1110.0 1060.8 L1111.6 1065.2 L1113.3 1068.7 L1114.9 1071.5 L1116.5 1073.8 L1118.1 1075.5 L1119.7 1076.9 L1121.3 1078.0 L1123.0 1078.8 L1124.6 1079.4 L1126.2 1079.8 L1127.8 1080.2 L1129.4 1080.4 L1131.0 1080.6 L1132.7 1080.7 L1134.3 1080.8 L1135.9 1080.9 L1137.5 1080.9 L1139.1 1080.9 L1140.7 1081.0 L1142.4 1081.0 L1144.0 1081.0 L1145.6 1081.0 L1147.2 1081.0 L1148.8 1081.0 L1150.4 1081.0 L1152.0 1081.0" stroke="#0b3d5e" stroke-width="4.40" fill="none" stroke-linejoin="round" stroke-linecap="butt"/>
<text x="1071.4" y="674.1" font-size="19.70" text-anchor="middle" fill="#174564">153</text>
<text x="1071.4" y="695.4" font-size="19.70" text-anchor="middle" fill="#174564">σ 10.1</text>
<text x="1071.4" y="713.5" font-size="19.70" text-anchor="middle" fill="#174564">7675 counts (85%)</text>
<text x="1386.0" y="686.0" font-size="21.00" text-anchor="end">APIC-2x <tspan font-family="'Liberation Serif',serif" font-size="24.4" letter-spacing="0.6">α</tspan>CD79</text>
<text x="752.5" y="879.0" font-size="20.70" text-anchor="middle" transform="rotate(-90 752.5 879.0)">Normalized counts</text>
<text x="1108.4" y="1136.4" font-size="21.00" text-anchor="middle">Mass (kDa)</text>
</g>
<g>
<line x1="1553.00" y1="658.00" x2="1553.00" y2="1082.40" stroke="#231f20" stroke-width="3.40" />
<line x1="1551.30" y1="1080.70" x2="2109.90" y2="1080.70" stroke="#231f20" stroke-width="3.40" />
<line x1="1545.80" y1="1080.70" x2="1553.00" y2="1080.70" stroke="#231f20" stroke-width="3.20" />
<text x="1535.6" y="1088.0" font-size="20.70" text-anchor="end">0.000</text>
<line x1="1548.60" y1="1057.90" x2="1553.00" y2="1057.90" stroke="#231f20" stroke-width="2.30" />
<line x1="1548.60" y1="1035.10" x2="1553.00" y2="1035.10" stroke="#231f20" stroke-width="2.30" />
<line x1="1548.60" y1="1012.30" x2="1553.00" y2="1012.30" stroke="#231f20" stroke-width="2.30" />
<line x1="1548.60" y1="989.50" x2="1553.00" y2="989.50" stroke="#231f20" stroke-width="2.30" />
<line x1="1545.80" y1="966.70" x2="1553.00" y2="966.70" stroke="#231f20" stroke-width="3.20" />
<text x="1535.6" y="974.0" font-size="20.70" text-anchor="end">0.015</text>
<line x1="1548.60" y1="943.90" x2="1553.00" y2="943.90" stroke="#231f20" stroke-width="2.30" />
<line x1="1548.60" y1="921.10" x2="1553.00" y2="921.10" stroke="#231f20" stroke-width="2.30" />
<line x1="1548.60" y1="898.30" x2="1553.00" y2="898.30" stroke="#231f20" stroke-width="2.30" />
<line x1="1548.60" y1="875.50" x2="1553.00" y2="875.50" stroke="#231f20" stroke-width="2.30" />
<line x1="1545.80" y1="852.70" x2="1553.00" y2="852.70" stroke="#231f20" stroke-width="3.20" />
<text x="1535.6" y="860.0" font-size="20.70" text-anchor="end">0.030</text>
<line x1="1548.60" y1="829.90" x2="1553.00" y2="829.90" stroke="#231f20" stroke-width="2.30" />
<line x1="1548.60" y1="807.10" x2="1553.00" y2="807.10" stroke="#231f20" stroke-width="2.30" />
<line x1="1548.60" y1="784.30" x2="1553.00" y2="784.30" stroke="#231f20" stroke-width="2.30" />
<line x1="1548.60" y1="761.50" x2="1553.00" y2="761.50" stroke="#231f20" stroke-width="2.30" />
<line x1="1545.80" y1="738.70" x2="1553.00" y2="738.70" stroke="#231f20" stroke-width="3.20" />
<text x="1535.6" y="746.0" font-size="20.70" text-anchor="end">0.045</text>
<line x1="1548.60" y1="715.90" x2="1553.00" y2="715.90" stroke="#231f20" stroke-width="2.30" />
<line x1="1548.60" y1="693.10" x2="1553.00" y2="693.10" stroke="#231f20" stroke-width="2.30" />
<line x1="1548.60" y1="670.30" x2="1553.00" y2="670.30" stroke="#231f20" stroke-width="2.30" />
<line x1="1553.00" y1="1080.70" x2="1553.00" y2="1088.10" stroke="#231f20" stroke-width="3.40" />
<text x="1553.0" y="1112.6" font-size="20.70" text-anchor="middle">0</text>
<line x1="1568.87" y1="1080.70" x2="1568.87" y2="1085.50" stroke="#231f20" stroke-width="2.40" />
<line x1="1584.75" y1="1080.70" x2="1584.75" y2="1085.50" stroke="#231f20" stroke-width="2.40" />
<line x1="1600.62" y1="1080.70" x2="1600.62" y2="1085.50" stroke="#231f20" stroke-width="2.40" />
<line x1="1616.50" y1="1080.70" x2="1616.50" y2="1085.50" stroke="#231f20" stroke-width="2.40" />
<line x1="1632.37" y1="1080.70" x2="1632.37" y2="1088.10" stroke="#231f20" stroke-width="3.40" />
<text x="1632.4" y="1112.6" font-size="20.70" text-anchor="middle">50</text>
<line x1="1648.25" y1="1080.70" x2="1648.25" y2="1085.50" stroke="#231f20" stroke-width="2.40" />
<line x1="1664.12" y1="1080.70" x2="1664.12" y2="1085.50" stroke="#231f20" stroke-width="2.40" />
<line x1="1679.99" y1="1080.70" x2="1679.99" y2="1085.50" stroke="#231f20" stroke-width="2.40" />
<line x1="1695.87" y1="1080.70" x2="1695.87" y2="1085.50" stroke="#231f20" stroke-width="2.40" />
<line x1="1711.74" y1="1080.70" x2="1711.74" y2="1088.10" stroke="#231f20" stroke-width="3.40" />
<text x="1711.7" y="1112.6" font-size="20.70" text-anchor="middle">100</text>
<line x1="1727.62" y1="1080.70" x2="1727.62" y2="1085.50" stroke="#231f20" stroke-width="2.40" />
<line x1="1743.49" y1="1080.70" x2="1743.49" y2="1085.50" stroke="#231f20" stroke-width="2.40" />
<line x1="1759.37" y1="1080.70" x2="1759.37" y2="1085.50" stroke="#231f20" stroke-width="2.40" />
<line x1="1775.24" y1="1080.70" x2="1775.24" y2="1085.50" stroke="#231f20" stroke-width="2.40" />
<line x1="1791.11" y1="1080.70" x2="1791.11" y2="1088.10" stroke="#231f20" stroke-width="3.40" />
<text x="1791.1" y="1112.6" font-size="20.70" text-anchor="middle">150</text>
<line x1="1806.99" y1="1080.70" x2="1806.99" y2="1085.50" stroke="#231f20" stroke-width="2.40" />
<line x1="1822.86" y1="1080.70" x2="1822.86" y2="1085.50" stroke="#231f20" stroke-width="2.40" />
<line x1="1838.74" y1="1080.70" x2="1838.74" y2="1085.50" stroke="#231f20" stroke-width="2.40" />
<line x1="1854.61" y1="1080.70" x2="1854.61" y2="1085.50" stroke="#231f20" stroke-width="2.40" />
<line x1="1870.49" y1="1080.70" x2="1870.49" y2="1088.10" stroke="#231f20" stroke-width="3.40" />
<text x="1870.5" y="1112.6" font-size="20.70" text-anchor="middle">200</text>
<line x1="1886.36" y1="1080.70" x2="1886.36" y2="1085.50" stroke="#231f20" stroke-width="2.40" />
<line x1="1902.23" y1="1080.70" x2="1902.23" y2="1085.50" stroke="#231f20" stroke-width="2.40" />
<line x1="1918.11" y1="1080.70" x2="1918.11" y2="1085.50" stroke="#231f20" stroke-width="2.40" />
<line x1="1933.98" y1="1080.70" x2="1933.98" y2="1085.50" stroke="#231f20" stroke-width="2.40" />
<line x1="1949.86" y1="1080.70" x2="1949.86" y2="1088.10" stroke="#231f20" stroke-width="3.40" />
<text x="1949.9" y="1112.6" font-size="20.70" text-anchor="middle">250</text>
<line x1="1965.73" y1="1080.70" x2="1965.73" y2="1085.50" stroke="#231f20" stroke-width="2.40" />
<line x1="1981.61" y1="1080.70" x2="1981.61" y2="1085.50" stroke="#231f20" stroke-width="2.40" />
<line x1="1997.48" y1="1080.70" x2="1997.48" y2="1085.50" stroke="#231f20" stroke-width="2.40" />
<line x1="2013.35" y1="1080.70" x2="2013.35" y2="1085.50" stroke="#231f20" stroke-width="2.40" />
<line x1="2029.23" y1="1080.70" x2="2029.23" y2="1088.10" stroke="#231f20" stroke-width="3.40" />
<text x="2029.2" y="1112.6" font-size="20.70" text-anchor="middle">300</text>
<line x1="2045.10" y1="1080.70" x2="2045.10" y2="1085.50" stroke="#231f20" stroke-width="2.40" />
<line x1="2060.98" y1="1080.70" x2="2060.98" y2="1085.50" stroke="#231f20" stroke-width="2.40" />
<line x1="2076.85" y1="1080.70" x2="2076.85" y2="1085.50" stroke="#231f20" stroke-width="2.40" />
<line x1="2092.73" y1="1080.70" x2="2092.73" y2="1085.50" stroke="#231f20" stroke-width="2.40" />
<line x1="2108.60" y1="1080.70" x2="2108.60" y2="1088.10" stroke="#231f20" stroke-width="3.40" />
<text x="2108.6" y="1112.6" font-size="20.70" text-anchor="middle">350</text>
<path d="M1587.0 1082.4 L1587.0 1067.3 L1595.7 1067.3 L1595.7 959.1 L1604.4 959.1 L1604.4 839.0 L1613.1 839.0 L1613.1 808.6 L1621.8 808.6 L1621.8 763.0 L1630.5 763.0 L1630.5 732.6 L1639.1 732.6 L1639.1 731.9 L1647.8 731.9 L1647.8 746.3 L1656.5 746.3 L1656.5 788.1 L1665.2 788.1 L1665.2 835.2 L1673.9 835.2 L1673.9 868.7 L1682.6 868.7 L1682.6 891.5 L1691.3 891.5 L1691.3 902.9 L1700.0 902.9 L1700.0 913.5 L1708.7 913.5 L1708.7 917.3 L1717.4 917.3 L1717.3 931.7 L1726.0 931.7 L1726.0 950.7 L1734.7 950.7 L1734.7 950.7 L1743.4 950.7 L1743.4 956.1 L1752.1 956.1 L1752.1 934.0 L1760.8 934.0 L1760.8 917.3 L1769.5 917.3 L1769.5 926.4 L1778.2 926.4 L1778.2 893.7 L1786.9 893.7 L1786.9 925.7 L1795.6 925.7 L1795.6 925.7 L1804.2 925.7 L1804.2 946.9 L1812.9 946.9 L1812.9 969.0 L1821.6 969.0 L1821.6 992.5 L1830.3 992.5 L1830.3 1020.7 L1839.0 1020.7 L1839.0 1028.3 L1847.7 1028.3 L1847.7 1038.9 L1856.4 1038.9 L1856.4 1053.3 L1865.1 1053.3 L1865.1 1060.2 L1873.8 1060.2 L1873.8 1070.1 L1882.5 1070.1 L1882.5 1065.5 L1891.2 1065.5 L1891.2 1067.0 L1899.8 1067.0 L1899.8 1076.1 L1908.5 1076.1 L1908.5 1073.9 L1917.2 1073.9 L1917.2 1073.9 L1925.9 1073.9 L1925.9 1076.9 L1934.6 1076.9 L1934.6 1076.9 L1943.3 1076.9 L1943.3 1076.1 L1952.0 1076.1 L1952.0 1077.7 L1960.7 1077.7 L1960.7 1077.7 L1969.4 1077.7 L1969.4 1078.4 L1978.0 1078.4 L1978.0 1078.4 L1986.7 1078.4 L1986.7 1076.1 L1995.4 1076.1 L1995.4 1078.4 L2004.1 1078.4 L2004.1 1079.2 L2012.8 1079.2 L2012.8 1078.4 L2021.5 1078.4 L2021.5 1078.4 L2030.2 1078.4 L2030.2 1079.2 L2038.9 1079.2 L2038.9 1079.2 L2047.6 1079.2 L2047.6 1079.2 L2056.3 1079.2 L2056.3 1078.4 L2065.0 1078.4 L2064.9 1078.4 L2073.6 1078.4 L2073.6 1078.4 L2082.3 1078.4 L2082.3 1079.2 L2091.0 1079.2 L2091.0 1078.4 L2099.7 1078.4 L2099.7 1078.4 L2108.4 1078.4 L2108.4 1078.4 L2108.6 1078.4 L2108.6 1082.4Z" stroke="none" stroke-width="0.00" fill="#4170b6" fill-opacity="0.6"/>
<path d="M1553.0 1080.7 L1587.0 1080.7 L1587.0 1067.3 L1595.7 1067.3 L1595.7 959.1 L1604.4 959.1 L1604.4 839.0 L1613.1 839.0 L1613.1 808.6 L1621.8 808.6 L1621.8 763.0 L1630.5 763.0 L1630.5 732.6 L1639.1 732.6 L1639.1 731.9 L1647.8 731.9 L1647.8 746.3 L1656.5 746.3 L1656.5 788.1 L1665.2 788.1 L1665.2 835.2 L1673.9 835.2 L1673.9 868.7 L1682.6 868.7 L1682.6 891.5 L1691.3 891.5 L1691.3 902.9 L1700.0 902.9 L1700.0 913.5 L1708.7 913.5 L1708.7 917.3 L1717.4 917.3 L1717.3 931.7 L1726.0 931.7 L1726.0 950.7 L1734.7 950.7 L1734.7 950.7 L1743.4 950.7 L1743.4 956.1 L1752.1 956.1 L1752.1 934.0 L1760.8 934.0 L1760.8 917.3 L1769.5 917.3 L1769.5 926.4 L1778.2 926.4 L1778.2 893.7 L1786.9 893.7 L1786.9 925.7 L1795.6 925.7 L1795.6 925.7 L1804.2 925.7 L1804.2 946.9 L1812.9 946.9 L1812.9 969.0 L1821.6 969.0 L1821.6 992.5 L1830.3 992.5 L1830.3 1020.7 L1839.0 1020.7 L1839.0 1028.3 L1847.7 1028.3 L1847.7 1038.9 L1856.4 1038.9 L1856.4 1053.3 L1865.1 1053.3 L1865.1 1060.2 L1873.8 1060.2 L1873.8 1070.1 L1882.5 1070.1 L1882.5 1065.5 L1891.2 1065.5 L1891.2 1067.0 L1899.8 1067.0 L1899.8 1076.1 L1908.5 1076.1 L1908.5 1073.9 L1917.2 1073.9 L1917.2 1073.9 L1925.9 1073.9 L1925.9 1076.9 L1934.6 1076.9 L1934.6 1076.9 L1943.3 1076.9 L1943.3 1076.1 L1952.0 1076.1 L1952.0 1077.7 L1960.7 1077.7 L1960.7 1077.7 L1969.4 1077.7 L1969.4 1078.4 L1978.0 1078.4 L1978.0 1078.4 L1986.7 1078.4 L1986.7 1076.1 L1995.4 1076.1 L1995.4 1078.4 L2004.1 1078.4 L2004.1 1079.2 L2012.8 1079.2 L2012.8 1078.4 L2021.5 1078.4 L2021.5 1078.4 L2030.2 1078.4 L2030.2 1079.2 L2038.9 1079.2 L2038.9 1079.2 L2047.6 1079.2 L2047.6 1079.2 L2056.3 1079.2 L2056.3 1078.4 L2065.0 1078.4 L2064.9 1078.4 L2073.6 1078.4 L2073.6 1078.4 L2082.3 1078.4 L2082.3 1079.2 L2091.0 1079.2 L2091.0 1078.4 L2099.7 1078.4 L2099.7 1078.4 L2108.4 1078.4 L2108.4 1078.4 L2108.6 1078.4 L2108.6 1080.7" stroke="#1f77b4" stroke-width="3.70" fill="none" stroke-linejoin="miter"/>
<path d="M1553.0 1075.1 L1554.6 1074.2 L1556.2 1073.1 L1557.8 1072.0 L1559.3 1070.7 L1560.9 1069.2 L1562.5 1067.6 L1564.1 1065.7 L1565.7 1063.6 L1567.3 1061.3 L1568.9 1058.8 L1570.5 1056.0 L1572.0 1052.9 L1573.6 1049.4 L1575.2 1045.7 L1576.8 1041.6 L1578.4 1037.2 L1580.0 1032.4 L1581.6 1027.2 L1583.2 1021.5 L1584.7 1015.5 L1586.3 1009.1 L1587.9 1002.2 L1589.5 994.9 L1591.1 987.2 L1592.7 979.1 L1594.3 970.5 L1595.9 961.6 L1597.4 952.2 L1599.0 942.5 L1600.6 932.5 L1602.2 922.2 L1603.8 911.6 L1605.4 900.7 L1607.0 889.7 L1608.6 878.6 L1610.1 867.4 L1611.7 856.2 L1613.3 845.0 L1614.9 833.9 L1616.5 823.0 L1618.1 812.4 L1619.7 802.0 L1621.3 792.1 L1622.8 782.5 L1624.4 773.5 L1626.0 765.1 L1627.6 757.3 L1629.2 750.1 L1630.8 743.8 L1632.4 738.2 L1634.0 733.5 L1635.5 729.7 L1637.1 726.7 L1638.7 724.7 L1640.3 723.7 L1641.9 723.6 L1643.5 724.4 L1645.1 726.3 L1646.7 729.0 L1648.2 732.7 L1649.8 737.2 L1651.4 742.6 L1653.0 748.8 L1654.6 755.8 L1656.2 763.5 L1657.8 771.8 L1659.4 780.7 L1660.9 790.1 L1662.5 800.0 L1664.1 810.3 L1665.7 820.9 L1667.3 831.7 L1668.9 842.8 L1670.5 854.0 L1672.1 865.2 L1673.6 876.4 L1675.2 887.5 L1676.8 898.6 L1678.4 909.4 L1680.0 920.1 L1681.6 930.5 L1683.2 940.5 L1684.8 950.3 L1686.3 959.7 L1687.9 968.8 L1689.5 977.4 L1691.1 985.6 L1692.7 993.4 L1694.3 1000.8 L1695.9 1007.7 L1697.5 1014.3 L1699.0 1020.4 L1700.6 1026.1 L1702.2 1031.3 L1703.8 1036.2 L1705.4 1040.8 L1707.0 1044.9 L1708.6 1048.7 L1710.2 1052.2 L1711.7 1055.4 L1713.3 1058.2 L1714.9 1060.8 L1716.5 1063.2 L1718.1 1065.3 L1719.7 1067.2 L1721.3 1068.9 L1722.9 1070.4 L1724.4 1071.7 L1726.0 1072.9 L1727.6 1074.0 L1729.2 1074.9 L1730.8 1075.7 L1732.4 1076.4 L1734.0 1077.0 L1735.6 1077.6 L1737.1 1078.0 L1738.7 1078.4 L1740.3 1078.8 L1741.9 1079.1 L1743.5 1079.3 L1745.1 1079.6 L1746.7 1079.7 L1748.3 1079.9 L1749.8 1080.0 L1751.4 1080.1 L1753.0 1080.2 L1754.6 1080.3 L1756.2 1080.4 L1757.8 1080.4 L1759.4 1080.5 L1761.0 1080.5 L1762.5 1080.6 L1764.1 1080.6 L1765.7 1080.6 L1767.3 1080.6 L1768.9 1080.6 L1770.5 1080.7 L1772.1 1080.7 L1773.7 1080.7 L1775.2 1080.7 L1776.8 1080.7 L1778.4 1080.7 L1780.0 1080.7 L1781.6 1080.7 L1783.2 1080.7 L1784.8 1080.7 L1786.4 1080.7 L1787.9 1080.7 L1789.5 1080.7 L1791.1 1080.7 L1792.7 1080.7 L1794.3 1080.7" stroke="#0b3d5e" stroke-width="4.20" fill="none" stroke-opacity="0.5" stroke-linejoin="round"/>
<path d="M1576.8 1080.7 L1578.4 1080.7 L1580.0 1080.7 L1581.6 1080.7 L1583.2 1080.7 L1584.7 1080.7 L1586.3 1080.7 L1587.9 1080.7 L1589.5 1080.7 L1591.1 1080.7 L1592.7 1080.7 L1594.3 1080.7 L1595.9 1080.7 L1597.4 1080.7 L1599.0 1080.7 L1600.6 1080.7 L1602.2 1080.7 L1603.8 1080.7 L1605.4 1080.7 L1607.0 1080.7 L1608.6 1080.7 L1610.1 1080.7 L1611.7 1080.7 L1613.3 1080.7 L1614.9 1080.7 L1616.5 1080.6 L1618.1 1080.6 L1619.7 1080.6 L1621.3 1080.6 L1622.8 1080.6 L1624.4 1080.6 L1626.0 1080.6 L1627.6 1080.5 L1629.2 1080.5 L1630.8 1080.5 L1632.4 1080.4 L1634.0 1080.4 L1635.5 1080.4 L1637.1 1080.3 L1638.7 1080.3 L1640.3 1080.2 L1641.9 1080.1 L1643.5 1080.0 L1645.1 1079.9 L1646.7 1079.8 L1648.2 1079.7 L1649.8 1079.6 L1651.4 1079.5 L1653.0 1079.3 L1654.6 1079.1 L1656.2 1078.9 L1657.8 1078.7 L1659.4 1078.4 L1660.9 1078.2 L1662.5 1077.9 L1664.1 1077.5 L1665.7 1077.2 L1667.3 1076.7 L1668.9 1076.3 L1670.5 1075.8 L1672.1 1075.3 L1673.6 1074.7 L1675.2 1074.1 L1676.8 1073.4 L1678.4 1072.6 L1680.0 1071.8 L1681.6 1070.9 L1683.2 1070.0 L1684.8 1068.9 L1686.3 1067.8 L1687.9 1066.6 L1689.5 1065.4 L1691.1 1064.0 L1692.7 1062.5 L1694.3 1061.0 L1695.9 1059.3 L1697.5 1057.6 L1699.0 1055.7 L1700.6 1053.7 L1702.2 1051.6 L1703.8 1049.4 L1705.4 1047.1 L1707.0 1044.7 L1708.6 1042.1 L1710.2 1039.4 L1711.7 1036.7 L1713.3 1033.7 L1714.9 1030.7 L1716.5 1027.6 L1718.1 1024.4 L1719.7 1021.0 L1721.3 1017.6 L1722.9 1014.0 L1724.4 1010.4 L1726.0 1006.7 L1727.6 1002.9 L1729.2 999.0 L1730.8 995.1 L1732.4 991.1 L1734.0 987.1 L1735.6 983.1 L1737.1 979.0 L1738.7 974.9 L1740.3 970.9 L1741.9 966.8 L1743.5 962.8 L1745.1 958.9 L1746.7 955.0 L1748.3 951.1 L1749.8 947.4 L1751.4 943.8 L1753.0 940.3 L1754.6 936.9 L1756.2 933.6 L1757.8 930.5 L1759.4 927.6 L1761.0 924.9 L1762.5 922.4 L1764.1 920.0 L1765.7 917.9 L1767.3 916.0 L1768.9 914.4 L1770.5 913.0 L1772.1 911.8 L1773.7 910.9 L1775.2 910.2 L1776.8 909.8 L1778.4 909.7 L1780.0 909.8 L1781.6 910.2 L1783.2 910.9 L1784.8 911.8 L1786.4 913.0 L1787.9 914.4 L1789.5 916.0 L1791.1 917.9 L1792.7 920.0 L1794.3 922.4 L1795.9 924.9 L1797.5 927.6 L1799.1 930.5 L1800.6 933.6 L1802.2 936.9 L1803.8 940.3 L1805.4 943.8 L1807.0 947.4 L1808.6 951.1 L1810.2 955.0 L1811.8 958.9 L1813.3 962.8 L1814.9 966.8 L1816.5 970.9 L1818.1 974.9 L1819.7 979.0 L1821.3 983.1 L1822.9 987.1 L1824.5 991.1 L1826.0 995.1 L1827.6 999.0 L1829.2 1002.9 L1830.8 1006.7 L1832.4 1010.4 L1834.0 1014.0 L1835.6 1017.6 L1837.1 1021.0 L1838.7 1024.4 L1840.3 1027.6 L1841.9 1030.7 L1843.5 1033.7 L1845.1 1036.7 L1846.7 1039.4 L1848.3 1042.1 L1849.8 1044.7 L1851.4 1047.1 L1853.0 1049.4 L1854.6 1051.6 L1856.2 1053.7 L1857.8 1055.7 L1859.4 1057.6 L1861.0 1059.3 L1862.5 1061.0 L1864.1 1062.5 L1865.7 1064.0 L1867.3 1065.4 L1868.9 1066.6 L1870.5 1067.8 L1872.1 1068.9 L1873.7 1070.0 L1875.2 1070.9 L1876.8 1071.8 L1878.4 1072.6 L1880.0 1073.4 L1881.6 1074.1 L1883.2 1074.7 L1884.8 1075.3 L1886.4 1075.8 L1887.9 1076.3 L1889.5 1076.7 L1891.1 1077.2 L1892.7 1077.5 L1894.3 1077.9 L1895.9 1078.2 L1897.5 1078.4 L1899.1 1078.7 L1900.6 1078.9 L1902.2 1079.1 L1903.8 1079.3 L1905.4 1079.5 L1907.0 1079.6 L1908.6 1079.7 L1910.2 1079.8 L1911.8 1079.9 L1913.3 1080.0 L1914.9 1080.1 L1916.5 1080.2 L1918.1 1080.3 L1919.7 1080.3 L1921.3 1080.4 L1922.9 1080.4 L1924.5 1080.4 L1926.0 1080.5 L1927.6 1080.5 L1929.2 1080.5 L1930.8 1080.6 L1932.4 1080.6 L1934.0 1080.6 L1935.6 1080.6 L1937.2 1080.6 L1938.7 1080.6 L1940.3 1080.6 L1941.9 1080.7 L1943.5 1080.7 L1945.1 1080.7 L1946.7 1080.7 L1948.3 1080.7 L1949.9 1080.7 L1951.4 1080.7 L1953.0 1080.7 L1954.6 1080.7 L1956.2 1080.7 L1957.8 1080.7 L1959.4 1080.7 L1961.0 1080.7 L1962.6 1080.7 L1964.1 1080.7 L1965.7 1080.7 L1967.3 1080.7 L1968.9 1080.7 L1970.5 1080.7 L1972.1 1080.7 L1973.7 1080.7 L1975.3 1080.7 L1976.8 1080.7 L1978.4 1080.7 L1980.0 1080.7" stroke="#0b3d5e" stroke-width="4.20" fill="none" stroke-opacity="0.5" stroke-linejoin="round"/>
<path d="M1553.0 1075.1 L1554.6 1074.2 L1556.2 1073.1 L1557.8 1072.0 L1559.3 1070.7 L1560.9 1069.2 L1562.5 1067.6 L1564.1 1065.7 L1565.7 1063.6 L1567.3 1061.3 L1568.9 1058.8 L1570.5 1056.0 L1572.0 1052.9 L1573.6 1049.4 L1575.2 1045.7 L1576.8 1041.6 L1578.4 1037.2 L1580.0 1032.4 L1581.6 1027.2 L1583.2 1021.5 L1584.7 1015.5 L1586.3 1009.1 L1587.9 1002.2 L1589.5 994.9 L1591.1 987.2 L1592.7 979.1 L1594.3 970.5 L1595.9 961.6 L1597.4 952.2 L1599.0 942.5 L1600.6 932.5 L1602.2 922.2 L1603.8 911.6 L1605.4 900.7 L1607.0 889.7 L1608.6 878.6 L1610.1 867.4 L1611.7 856.2 L1613.3 845.0 L1614.9 833.9 L1616.5 823.0 L1618.1 812.4 L1619.7 802.0 L1621.3 792.1 L1622.8 782.5 L1624.4 773.5 L1626.0 765.1 L1627.6 757.3 L1629.2 750.1 L1630.8 743.8 L1632.4 738.2 L1634.0 733.5 L1635.5 729.7 L1637.1 726.7 L1638.7 724.7 L1640.3 723.7 L1641.9 723.6 L1643.5 724.4 L1645.1 726.3 L1646.7 729.0 L1648.2 732.7 L1649.8 737.2 L1651.4 742.6 L1653.0 748.8 L1654.6 755.8 L1656.2 763.5 L1657.8 771.8 L1659.4 780.7 L1660.9 790.1 L1662.5 800.0 L1664.1 810.3 L1665.7 820.9 L1667.3 831.7 L1668.9 842.8 L1670.5 854.0 L1672.1 865.2 L1673.6 876.4 L1675.2 887.5 L1676.8 898.6 L1678.4 909.4 L1680.0 920.1 L1681.6 930.5 L1683.2 940.5 L1684.8 950.3 L1686.3 959.7 L1687.9 968.8 L1689.5 977.4 L1691.1 985.6 L1692.7 993.4 L1694.3 1000.8 L1695.9 1007.7 L1697.5 1014.3 L1699.0 1020.4 L1700.6 1026.1 L1702.2 1031.3 L1703.8 1036.2 L1705.4 1040.8 L1707.0 1044.7 L1708.6 1042.1 L1710.2 1039.4 L1711.7 1036.7 L1713.3 1033.7 L1714.9 1030.7 L1716.5 1027.6 L1718.1 1024.4 L1719.7 1021.0 L1721.3 1017.6 L1722.9 1014.0 L1724.4 1010.4 L1726.0 1006.7 L1727.6 1002.9 L1729.2 999.0 L1730.8 995.1 L1732.4 991.1 L1734.0 987.1 L1735.6 983.1 L1737.1 979.0 L1738.7 974.9 L1740.3 970.9 L1741.9 966.8 L1743.5 962.8 L1745.1 958.9 L1746.7 955.0 L1748.3 951.1 L1749.8 947.4 L1751.4 943.8 L1753.0 940.3 L1754.6 936.9 L1756.2 933.6 L1757.8 930.5 L1759.4 927.6 L1761.0 924.9 L1762.5 922.4 L1764.1 920.0 L1765.7 917.9 L1767.3 916.0 L1768.9 914.4 L1770.5 913.0 L1772.1 911.8 L1773.7 910.9 L1775.2 910.2 L1776.8 909.8 L1778.4 909.7 L1780.0 909.8 L1781.6 910.2 L1783.2 910.9 L1784.8 911.8 L1786.4 913.0 L1787.9 914.4 L1789.5 916.0 L1791.1 917.9 L1792.7 920.0 L1794.3 922.4 L1795.9 924.9 L1797.5 927.6 L1799.1 930.5 L1800.6 933.6 L1802.2 936.9 L1803.8 940.3 L1805.4 943.8 L1807.0 947.4 L1808.6 951.1 L1810.2 955.0 L1811.8 958.9 L1813.3 962.8 L1814.9 966.8 L1816.5 970.9 L1818.1 974.9 L1819.7 979.0 L1821.3 983.1 L1822.9 987.1 L1824.5 991.1 L1826.0 995.1 L1827.6 999.0 L1829.2 1002.9 L1830.8 1006.7 L1832.4 1010.4 L1834.0 1014.0 L1835.6 1017.6 L1837.1 1021.0 L1838.7 1024.4 L1840.3 1027.6 L1841.9 1030.7 L1843.5 1033.7 L1845.1 1036.7 L1846.7 1039.4 L1848.3 1042.1 L1849.8 1044.7 L1851.4 1047.1 L1853.0 1049.4 L1854.6 1051.6 L1856.2 1053.7 L1857.8 1055.7 L1859.4 1057.6 L1861.0 1059.3 L1862.5 1061.0 L1864.1 1062.5 L1865.7 1064.0 L1867.3 1065.4 L1868.9 1066.6 L1870.5 1067.8 L1872.1 1068.9 L1873.7 1070.0 L1875.2 1070.9 L1876.8 1071.8 L1878.4 1072.6 L1880.0 1073.4 L1881.6 1074.1 L1883.2 1074.7 L1884.8 1075.3 L1886.4 1075.8 L1887.9 1076.3 L1889.5 1076.7 L1891.1 1077.2 L1892.7 1077.5 L1894.3 1077.9 L1895.9 1078.2 L1897.5 1078.4 L1899.1 1078.7 L1900.6 1078.9 L1902.2 1079.1 L1903.8 1079.3 L1905.4 1079.5 L1907.0 1079.6 L1908.6 1079.7 L1910.2 1079.8 L1911.8 1079.9 L1913.3 1080.0 L1914.9 1080.1 L1916.5 1080.2 L1918.1 1080.3 L1919.7 1080.3 L1921.3 1080.4 L1922.9 1080.4 L1924.5 1080.4 L1926.0 1080.5 L1927.6 1080.5 L1929.2 1080.5 L1930.8 1080.6 L1932.4 1080.6 L1934.0 1080.6 L1935.6 1080.6 L1937.2 1080.6 L1938.7 1080.6 L1940.3 1080.6 L1941.9 1080.7 L1943.5 1080.7 L1945.1 1080.7 L1946.7 1080.7 L1948.3 1080.7 L1949.9 1080.7 L1951.4 1080.7 L1953.0 1080.7 L1954.6 1080.7 L1956.2 1080.7 L1957.8 1080.7 L1959.4 1080.7 L1961.0 1080.7 L1962.6 1080.7 L1964.1 1080.7 L1965.7 1080.7 L1967.3 1080.7 L1968.9 1080.7 L1970.5 1080.7 L1972.1 1080.7 L1973.7 1080.7 L1975.3 1080.7 L1976.8 1080.7 L1978.4 1080.7 L1980.0 1080.7" stroke="#0b3d5e" stroke-width="4.40" fill="none" stroke-linejoin="round" stroke-linecap="butt"/>
<text x="1643.6" y="667.1" font-size="19.70" text-anchor="middle" fill="#174564">56</text>
<text x="1643.6" y="688.4" font-size="19.70" text-anchor="middle" fill="#174564">σ 19.8</text>
<text x="1643.6" y="706.5" font-size="19.70" text-anchor="middle" fill="#174564">7065 counts (59%)</text>
<text x="1779.4" y="821.1" font-size="19.70" text-anchor="middle" fill="#174564">142</text>
<text x="1779.4" y="842.4" font-size="19.70" text-anchor="middle" fill="#174564">σ 26</text>
<text x="1779.4" y="860.5" font-size="19.70" text-anchor="middle" fill="#174564">4492 counts (37%)</text>
<text x="2109.7" y="684.5" font-size="21.00" text-anchor="end">Ctrl <tspan font-family="'Liberation Serif',serif" font-size="24.4" letter-spacing="0.6">α</tspan>CD79 ab - CTSS</text>
<text x="1472.0" y="862.6" font-size="20.70" text-anchor="middle" transform="rotate(-90 1472.0 862.6)">Normalized counts</text>
<text x="1832.3" y="1135.3" font-size="21.00" text-anchor="middle">Mass (kDa)</text>
</g>
<g>
<line x1="122.20" y1="1178.00" x2="122.20" y2="1601.20" stroke="#231f20" stroke-width="3.40" />
<line x1="120.50" y1="1599.50" x2="678.90" y2="1599.50" stroke="#231f20" stroke-width="3.40" />
<line x1="115.00" y1="1599.50" x2="122.20" y2="1599.50" stroke="#231f20" stroke-width="3.20" />
<text x="108.0" y="1606.8" font-size="20.70" text-anchor="end">0.000</text>
<line x1="117.80" y1="1582.10" x2="122.20" y2="1582.10" stroke="#231f20" stroke-width="2.30" />
<line x1="117.80" y1="1564.70" x2="122.20" y2="1564.70" stroke="#231f20" stroke-width="2.30" />
<line x1="117.80" y1="1547.30" x2="122.20" y2="1547.30" stroke="#231f20" stroke-width="2.30" />
<line x1="117.80" y1="1529.90" x2="122.20" y2="1529.90" stroke="#231f20" stroke-width="2.30" />
<line x1="115.00" y1="1512.50" x2="122.20" y2="1512.50" stroke="#231f20" stroke-width="3.20" />
<text x="108.0" y="1519.8" font-size="20.70" text-anchor="end">0.015</text>
<line x1="117.80" y1="1495.10" x2="122.20" y2="1495.10" stroke="#231f20" stroke-width="2.30" />
<line x1="117.80" y1="1477.70" x2="122.20" y2="1477.70" stroke="#231f20" stroke-width="2.30" />
<line x1="117.80" y1="1460.30" x2="122.20" y2="1460.30" stroke="#231f20" stroke-width="2.30" />
<line x1="117.80" y1="1442.90" x2="122.20" y2="1442.90" stroke="#231f20" stroke-width="2.30" />
<line x1="115.00" y1="1425.50" x2="122.20" y2="1425.50" stroke="#231f20" stroke-width="3.20" />
<text x="108.0" y="1432.8" font-size="20.70" text-anchor="end">0.030</text>
<line x1="117.80" y1="1408.10" x2="122.20" y2="1408.10" stroke="#231f20" stroke-width="2.30" />
<line x1="117.80" y1="1390.70" x2="122.20" y2="1390.70" stroke="#231f20" stroke-width="2.30" />
<line x1="117.80" y1="1373.30" x2="122.20" y2="1373.30" stroke="#231f20" stroke-width="2.30" />
<line x1="117.80" y1="1355.90" x2="122.20" y2="1355.90" stroke="#231f20" stroke-width="2.30" />
<line x1="115.00" y1="1338.50" x2="122.20" y2="1338.50" stroke="#231f20" stroke-width="3.20" />
<text x="108.0" y="1345.8" font-size="20.70" text-anchor="end">0.045</text>
<line x1="117.80" y1="1321.10" x2="122.20" y2="1321.10" stroke="#231f20" stroke-width="2.30" />
<line x1="117.80" y1="1303.70" x2="122.20" y2="1303.70" stroke="#231f20" stroke-width="2.30" />
<line x1="117.80" y1="1286.30" x2="122.20" y2="1286.30" stroke="#231f20" stroke-width="2.30" />
<line x1="117.80" y1="1268.90" x2="122.20" y2="1268.90" stroke="#231f20" stroke-width="2.30" />
<line x1="115.00" y1="1251.50" x2="122.20" y2="1251.50" stroke="#231f20" stroke-width="3.20" />
<text x="108.0" y="1258.8" font-size="20.70" text-anchor="end">0.060</text>
<line x1="117.80" y1="1234.10" x2="122.20" y2="1234.10" stroke="#231f20" stroke-width="2.30" />
<line x1="117.80" y1="1216.70" x2="122.20" y2="1216.70" stroke="#231f20" stroke-width="2.30" />
<line x1="117.80" y1="1199.30" x2="122.20" y2="1199.30" stroke="#231f20" stroke-width="2.30" />
<line x1="117.80" y1="1181.90" x2="122.20" y2="1181.90" stroke="#231f20" stroke-width="2.30" />
<line x1="122.20" y1="1599.50" x2="122.20" y2="1606.90" stroke="#231f20" stroke-width="3.40" />
<text x="122.2" y="1630.8" font-size="20.70" text-anchor="middle">0</text>
<line x1="138.07" y1="1599.50" x2="138.07" y2="1604.30" stroke="#231f20" stroke-width="2.40" />
<line x1="153.94" y1="1599.50" x2="153.94" y2="1604.30" stroke="#231f20" stroke-width="2.40" />
<line x1="169.81" y1="1599.50" x2="169.81" y2="1604.30" stroke="#231f20" stroke-width="2.40" />
<line x1="185.67" y1="1599.50" x2="185.67" y2="1604.30" stroke="#231f20" stroke-width="2.40" />
<line x1="201.54" y1="1599.50" x2="201.54" y2="1606.90" stroke="#231f20" stroke-width="3.40" />
<text x="201.5" y="1630.8" font-size="20.70" text-anchor="middle">50</text>
<line x1="217.41" y1="1599.50" x2="217.41" y2="1604.30" stroke="#231f20" stroke-width="2.40" />
<line x1="233.28" y1="1599.50" x2="233.28" y2="1604.30" stroke="#231f20" stroke-width="2.40" />
<line x1="249.15" y1="1599.50" x2="249.15" y2="1604.30" stroke="#231f20" stroke-width="2.40" />
<line x1="265.02" y1="1599.50" x2="265.02" y2="1604.30" stroke="#231f20" stroke-width="2.40" />
<line x1="280.89" y1="1599.50" x2="280.89" y2="1606.90" stroke="#231f20" stroke-width="3.40" />
<text x="280.9" y="1630.8" font-size="20.70" text-anchor="middle">100</text>
<line x1="296.75" y1="1599.50" x2="296.75" y2="1604.30" stroke="#231f20" stroke-width="2.40" />
<line x1="312.62" y1="1599.50" x2="312.62" y2="1604.30" stroke="#231f20" stroke-width="2.40" />
<line x1="328.49" y1="1599.50" x2="328.49" y2="1604.30" stroke="#231f20" stroke-width="2.40" />
<line x1="344.36" y1="1599.50" x2="344.36" y2="1604.30" stroke="#231f20" stroke-width="2.40" />
<line x1="360.23" y1="1599.50" x2="360.23" y2="1606.90" stroke="#231f20" stroke-width="3.40" />
<text x="360.2" y="1630.8" font-size="20.70" text-anchor="middle">150</text>
<line x1="376.10" y1="1599.50" x2="376.10" y2="1604.30" stroke="#231f20" stroke-width="2.40" />
<line x1="391.97" y1="1599.50" x2="391.97" y2="1604.30" stroke="#231f20" stroke-width="2.40" />
<line x1="407.83" y1="1599.50" x2="407.83" y2="1604.30" stroke="#231f20" stroke-width="2.40" />
<line x1="423.70" y1="1599.50" x2="423.70" y2="1604.30" stroke="#231f20" stroke-width="2.40" />
<line x1="439.57" y1="1599.50" x2="439.57" y2="1606.90" stroke="#231f20" stroke-width="3.40" />
<text x="439.6" y="1630.8" font-size="20.70" text-anchor="middle">200</text>
<line x1="455.44" y1="1599.50" x2="455.44" y2="1604.30" stroke="#231f20" stroke-width="2.40" />
<line x1="471.31" y1="1599.50" x2="471.31" y2="1604.30" stroke="#231f20" stroke-width="2.40" />
<line x1="487.18" y1="1599.50" x2="487.18" y2="1604.30" stroke="#231f20" stroke-width="2.40" />
<line x1="503.05" y1="1599.50" x2="503.05" y2="1604.30" stroke="#231f20" stroke-width="2.40" />
<line x1="518.91" y1="1599.50" x2="518.91" y2="1606.90" stroke="#231f20" stroke-width="3.40" />
<text x="518.9" y="1630.8" font-size="20.70" text-anchor="middle">250</text>
<line x1="534.78" y1="1599.50" x2="534.78" y2="1604.30" stroke="#231f20" stroke-width="2.40" />
<line x1="550.65" y1="1599.50" x2="550.65" y2="1604.30" stroke="#231f20" stroke-width="2.40" />
<line x1="566.52" y1="1599.50" x2="566.52" y2="1604.30" stroke="#231f20" stroke-width="2.40" />
<line x1="582.39" y1="1599.50" x2="582.39" y2="1604.30" stroke="#231f20" stroke-width="2.40" />
<line x1="598.26" y1="1599.50" x2="598.26" y2="1606.90" stroke="#231f20" stroke-width="3.40" />
<text x="598.3" y="1630.8" font-size="20.70" text-anchor="middle">300</text>
<line x1="614.13" y1="1599.50" x2="614.13" y2="1604.30" stroke="#231f20" stroke-width="2.40" />
<line x1="629.99" y1="1599.50" x2="629.99" y2="1604.30" stroke="#231f20" stroke-width="2.40" />
<line x1="645.86" y1="1599.50" x2="645.86" y2="1604.30" stroke="#231f20" stroke-width="2.40" />
<line x1="661.73" y1="1599.50" x2="661.73" y2="1604.30" stroke="#231f20" stroke-width="2.40" />
<line x1="677.60" y1="1599.50" x2="677.60" y2="1606.90" stroke="#231f20" stroke-width="3.40" />
<text x="677.6" y="1630.8" font-size="20.70" text-anchor="middle">350</text>
<path d="M155.7 1601.2 L155.7 1567.6 L164.4 1567.6 L164.4 1455.1 L173.1 1455.1 L173.1 1327.5 L181.8 1327.5 L181.8 1249.2 L190.5 1249.2 L190.5 1264.8 L199.2 1264.8 L199.2 1308.3 L208.0 1308.3 L208.0 1379.7 L216.7 1379.7 L216.7 1452.2 L225.4 1452.2 L225.4 1464.4 L234.1 1464.4 L234.1 1488.1 L242.8 1488.1 L242.8 1498.0 L251.5 1498.0 L251.5 1502.6 L260.2 1502.6 L260.2 1502.1 L268.9 1502.1 L268.9 1495.1 L277.6 1495.1 L277.6 1493.4 L286.3 1493.4 L286.4 1498.0 L295.1 1498.0 L295.1 1509.0 L303.8 1509.0 L303.8 1517.7 L312.5 1517.7 L312.5 1513.7 L321.2 1513.7 L321.2 1502.1 L329.9 1502.1 L329.9 1471.9 L338.6 1471.9 L338.6 1421.4 L347.3 1421.4 L347.3 1405.2 L356.0 1405.2 L356.0 1423.8 L364.7 1423.8 L364.7 1434.2 L373.4 1434.2 L373.5 1446.4 L382.2 1446.4 L382.2 1464.4 L390.9 1464.4 L390.9 1474.2 L399.6 1474.2 L399.6 1483.5 L408.3 1483.5 L408.3 1490.5 L417.0 1490.5 L417.0 1502.6 L425.7 1502.6 L425.7 1510.8 L434.4 1510.8 L434.4 1510.2 L443.1 1510.2 L443.1 1513.7 L451.8 1513.7 L451.8 1533.4 L460.6 1533.4 L460.6 1541.5 L469.3 1541.5 L469.3 1541.5 L478.0 1541.5 L478.0 1555.4 L486.7 1555.4 L486.7 1553.7 L495.4 1553.7 L495.4 1558.9 L504.1 1558.9 L504.1 1573.4 L512.8 1573.4 L512.8 1568.8 L521.5 1568.8 L521.5 1577.5 L530.2 1577.5 L530.2 1585.0 L538.9 1585.0 L538.9 1586.2 L547.7 1586.2 L547.7 1587.3 L556.4 1587.3 L556.4 1590.2 L565.1 1590.2 L565.1 1590.8 L573.8 1590.8 L573.8 1593.7 L582.5 1593.7 L582.5 1594.9 L591.2 1594.9 L591.2 1596.6 L599.9 1596.6 L599.9 1596.6 L608.6 1596.6 L608.6 1597.2 L617.3 1597.2 L617.3 1597.2 L626.0 1597.2 L626.0 1597.8 L634.8 1597.8 L634.8 1597.8 L643.5 1597.8 L643.5 1597.2 L652.2 1597.2 L652.2 1597.8 L660.9 1597.8 L660.9 1597.8 L669.6 1597.8 L669.6 1596.6 L677.6 1596.6 L677.6 1601.2Z" stroke="none" stroke-width="0.00" fill="#4170b6" fill-opacity="0.6"/>
<path d="M122.2 1599.5 L155.7 1599.5 L155.7 1567.6 L164.4 1567.6 L164.4 1455.1 L173.1 1455.1 L173.1 1327.5 L181.8 1327.5 L181.8 1249.2 L190.5 1249.2 L190.5 1264.8 L199.2 1264.8 L199.2 1308.3 L208.0 1308.3 L208.0 1379.7 L216.7 1379.7 L216.7 1452.2 L225.4 1452.2 L225.4 1464.4 L234.1 1464.4 L234.1 1488.1 L242.8 1488.1 L242.8 1498.0 L251.5 1498.0 L251.5 1502.6 L260.2 1502.6 L260.2 1502.1 L268.9 1502.1 L268.9 1495.1 L277.6 1495.1 L277.6 1493.4 L286.3 1493.4 L286.4 1498.0 L295.1 1498.0 L295.1 1509.0 L303.8 1509.0 L303.8 1517.7 L312.5 1517.7 L312.5 1513.7 L321.2 1513.7 L321.2 1502.1 L329.9 1502.1 L329.9 1471.9 L338.6 1471.9 L338.6 1421.4 L347.3 1421.4 L347.3 1405.2 L356.0 1405.2 L356.0 1423.8 L364.7 1423.8 L364.7 1434.2 L373.4 1434.2 L373.5 1446.4 L382.2 1446.4 L382.2 1464.4 L390.9 1464.4 L390.9 1474.2 L399.6 1474.2 L399.6 1483.5 L408.3 1483.5 L408.3 1490.5 L417.0 1490.5 L417.0 1502.6 L425.7 1502.6 L425.7 1510.8 L434.4 1510.8 L434.4 1510.2 L443.1 1510.2 L443.1 1513.7 L451.8 1513.7 L451.8 1533.4 L460.6 1533.4 L460.6 1541.5 L469.3 1541.5 L469.3 1541.5 L478.0 1541.5 L478.0 1555.4 L486.7 1555.4 L486.7 1553.7 L495.4 1553.7 L495.4 1558.9 L504.1 1558.9 L504.1 1573.4 L512.8 1573.4 L512.8 1568.8 L521.5 1568.8 L521.5 1577.5 L530.2 1577.5 L530.2 1585.0 L538.9 1585.0 L538.9 1586.2 L547.7 1586.2 L547.7 1587.3 L556.4 1587.3 L556.4 1590.2 L565.1 1590.2 L565.1 1590.8 L573.8 1590.8 L573.8 1593.7 L582.5 1593.7 L582.5 1594.9 L591.2 1594.9 L591.2 1596.6 L599.9 1596.6 L599.9 1596.6 L608.6 1596.6 L608.6 1597.2 L617.3 1597.2 L617.3 1597.2 L626.0 1597.2 L626.0 1597.8 L634.8 1597.8 L634.8 1597.8 L643.5 1597.8 L643.5 1597.2 L652.2 1597.2 L652.2 1597.8 L660.9 1597.8 L660.9 1597.8 L669.6 1597.8 L669.6 1596.6 L677.6 1596.6 L677.6 1599.5" stroke="#1f77b4" stroke-width="3.70" fill="none" stroke-linejoin="miter"/>
<path d="M122.2 1599.1 L123.8 1599.0 L125.4 1598.9 L127.0 1598.6 L128.5 1598.4 L130.1 1598.0 L131.7 1597.5 L133.3 1596.9 L134.9 1596.2 L136.5 1595.2 L138.1 1594.0 L139.7 1592.6 L141.2 1590.8 L142.8 1588.6 L144.4 1586.0 L146.0 1582.8 L147.6 1579.1 L149.2 1574.7 L150.8 1569.5 L152.4 1563.6 L153.9 1556.7 L155.5 1548.9 L157.1 1540.1 L158.7 1530.3 L160.3 1519.4 L161.9 1507.4 L163.5 1494.3 L165.0 1480.2 L166.6 1465.2 L168.2 1449.3 L169.8 1432.7 L171.4 1415.5 L173.0 1398.0 L174.6 1380.3 L176.2 1362.7 L177.7 1345.5 L179.3 1329.0 L180.9 1313.3 L182.5 1298.9 L184.1 1285.8 L185.7 1274.5 L187.3 1265.1 L188.8 1257.9 L190.4 1252.9 L192.0 1250.2 L193.6 1250.0 L195.2 1252.1 L196.8 1256.7 L198.4 1263.5 L200.0 1272.5 L201.5 1283.4 L203.1 1296.1 L204.7 1310.3 L206.3 1325.8 L207.9 1342.2 L209.5 1359.3 L211.1 1376.8 L212.7 1394.4 L214.2 1412.0 L215.8 1429.3 L217.4 1446.0 L219.0 1462.0 L220.6 1477.3 L222.2 1491.6 L223.8 1504.8 L225.3 1517.1 L226.9 1528.2 L228.5 1538.2 L230.1 1547.3 L231.7 1555.2 L233.3 1562.3 L234.9 1568.4 L236.5 1573.7 L238.0 1578.2 L239.6 1582.1 L241.2 1585.4 L242.8 1588.1 L244.4 1590.4 L246.0 1592.2 L247.6 1593.8 L249.1 1595.0 L250.7 1596.0 L252.3 1596.8 L253.9 1597.4 L255.5 1597.9 L257.1 1598.3 L258.7 1598.6 L260.3 1598.8 L261.8 1599.0 L263.4 1599.1 L265.0 1599.2 L266.6 1599.3 L268.2 1599.4 L269.8 1599.4 L271.4 1599.4 L273.0 1599.4 L274.5 1599.5 L276.1 1599.5 L277.7 1599.5 L279.3 1599.5 L280.9 1599.5 L282.5 1599.5 L284.1 1599.5 L285.6 1599.5 L287.2 1599.5" stroke="#0b3d5e" stroke-width="4.20" fill="none" stroke-opacity="0.5" stroke-linejoin="round"/>
<path d="M122.2 1599.5 L123.8 1599.5 L125.4 1599.5 L127.0 1599.5 L128.5 1599.5 L130.1 1599.5 L131.7 1599.4 L133.3 1599.4 L134.9 1599.4 L136.5 1599.4 L138.1 1599.4 L139.7 1599.4 L141.2 1599.4 L142.8 1599.3 L144.4 1599.3 L146.0 1599.3 L147.6 1599.2 L149.2 1599.2 L150.8 1599.1 L152.4 1599.1 L153.9 1599.0 L155.5 1599.0 L157.1 1598.9 L158.7 1598.8 L160.3 1598.7 L161.9 1598.6 L163.5 1598.5 L165.0 1598.3 L166.6 1598.2 L168.2 1598.0 L169.8 1597.8 L171.4 1597.6 L173.0 1597.4 L174.6 1597.1 L176.2 1596.8 L177.7 1596.5 L179.3 1596.2 L180.9 1595.8 L182.5 1595.4 L184.1 1594.9 L185.7 1594.4 L187.3 1593.9 L188.8 1593.3 L190.4 1592.6 L192.0 1591.9 L193.6 1591.2 L195.2 1590.4 L196.8 1589.5 L198.4 1588.6 L200.0 1587.6 L201.5 1586.5 L203.1 1585.4 L204.7 1584.2 L206.3 1582.9 L207.9 1581.5 L209.5 1580.1 L211.1 1578.5 L212.7 1576.9 L214.2 1575.2 L215.8 1573.5 L217.4 1571.6 L219.0 1569.7 L220.6 1567.7 L222.2 1565.6 L223.8 1563.5 L225.3 1561.2 L226.9 1558.9 L228.5 1556.6 L230.1 1554.2 L231.7 1551.7 L233.3 1549.2 L234.9 1546.6 L236.5 1544.1 L238.0 1541.4 L239.6 1538.8 L241.2 1536.2 L242.8 1533.5 L244.4 1530.9 L246.0 1528.3 L247.6 1525.7 L249.1 1523.2 L250.7 1520.7 L252.3 1518.3 L253.9 1515.9 L255.5 1513.6 L257.1 1511.4 L258.7 1509.3 L260.3 1507.4 L261.8 1505.5 L263.4 1503.8 L265.0 1502.2 L266.6 1500.7 L268.2 1499.4 L269.8 1498.3 L271.4 1497.3 L273.0 1496.5 L274.5 1495.9 L276.1 1495.5 L277.7 1495.2 L279.3 1495.1 L280.9 1495.2 L282.5 1495.5 L284.1 1495.9 L285.6 1496.5 L287.2 1497.3 L288.8 1498.3 L290.4 1499.4 L292.0 1500.7 L293.6 1502.2 L295.2 1503.8 L296.8 1505.5 L298.3 1507.4 L299.9 1509.3 L301.5 1511.4 L303.1 1513.6 L304.7 1515.9 L306.3 1518.3 L307.9 1520.7 L309.4 1523.2 L311.0 1525.7 L312.6 1528.3 L314.2 1530.9 L315.8 1533.5 L317.4 1536.2 L319.0 1538.8 L320.6 1541.4 L322.1 1544.1 L323.7 1546.6 L325.3 1549.2 L326.9 1551.7 L328.5 1554.2 L330.1 1556.6 L331.7 1558.9 L333.3 1561.2 L334.8 1563.5 L336.4 1565.6 L338.0 1567.7 L339.6 1569.7 L341.2 1571.6 L342.8 1573.5 L344.4 1575.2 L345.9 1576.9 L347.5 1578.5 L349.1 1580.1 L350.7 1581.5 L352.3 1582.9 L353.9 1584.2 L355.5 1585.4 L357.1 1586.5 L358.6 1587.6 L360.2 1588.6 L361.8 1589.5 L363.4 1590.4 L365.0 1591.2 L366.6 1591.9 L368.2 1592.6 L369.7 1593.3 L371.3 1593.9 L372.9 1594.4 L374.5 1594.9 L376.1 1595.4 L377.7 1595.8 L379.3 1596.2 L380.9 1596.5 L382.4 1596.8 L384.0 1597.1 L385.6 1597.4 L387.2 1597.6 L388.8 1597.8 L390.4 1598.0 L392.0 1598.2 L393.6 1598.3 L395.1 1598.5 L396.7 1598.6 L398.3 1598.7 L399.9 1598.8 L401.5 1598.9 L403.1 1599.0 L404.7 1599.0 L406.2 1599.1 L407.8 1599.1 L409.4 1599.2 L411.0 1599.2 L412.6 1599.3 L414.2 1599.3 L415.8 1599.3 L417.4 1599.4 L418.9 1599.4 L420.5 1599.4 L422.1 1599.4 L423.7 1599.4 L425.3 1599.4 L426.9 1599.4 L428.5 1599.5 L430.1 1599.5 L431.6 1599.5 L433.2 1599.5 L434.8 1599.5 L436.4 1599.5 L438.0 1599.5 L439.6 1599.5 L441.2 1599.5 L442.7 1599.5 L444.3 1599.5 L445.9 1599.5 L447.5 1599.5 L449.1 1599.5 L450.7 1599.5 L452.3 1599.5 L453.9 1599.5 L455.4 1599.5 L457.0 1599.5 L458.6 1599.5 L460.2 1599.5 L461.8 1599.5 L463.4 1599.5 L465.0 1599.5 L466.5 1599.5 L468.1 1599.5 L469.7 1599.5" stroke="#0b3d5e" stroke-width="4.20" fill="none" stroke-opacity="0.5" stroke-linejoin="round"/>
<path d="M201.5 1599.5 L203.1 1599.5 L204.7 1599.5 L206.3 1599.5 L207.9 1599.5 L209.5 1599.5 L211.1 1599.5 L212.7 1599.5 L214.2 1599.5 L215.8 1599.5 L217.4 1599.5 L219.0 1599.5 L220.6 1599.5 L222.2 1599.5 L223.8 1599.5 L225.3 1599.5 L226.9 1599.5 L228.5 1599.5 L230.1 1599.5 L231.7 1599.4 L233.3 1599.4 L234.9 1599.4 L236.5 1599.4 L238.0 1599.4 L239.6 1599.4 L241.2 1599.3 L242.8 1599.3 L244.4 1599.2 L246.0 1599.2 L247.6 1599.1 L249.1 1599.1 L250.7 1599.0 L252.3 1598.9 L253.9 1598.7 L255.5 1598.6 L257.1 1598.5 L258.7 1598.3 L260.3 1598.1 L261.8 1597.8 L263.4 1597.5 L265.0 1597.2 L266.6 1596.8 L268.2 1596.4 L269.8 1595.9 L271.4 1595.4 L273.0 1594.7 L274.5 1594.1 L276.1 1593.3 L277.7 1592.4 L279.3 1591.4 L280.9 1590.3 L282.5 1589.1 L284.1 1587.8 L285.6 1586.3 L287.2 1584.7 L288.8 1582.9 L290.4 1581.0 L292.0 1578.9 L293.6 1576.6 L295.2 1574.1 L296.8 1571.4 L298.3 1568.6 L299.9 1565.5 L301.5 1562.2 L303.1 1558.7 L304.7 1554.9 L306.3 1551.0 L307.9 1546.9 L309.4 1542.5 L311.0 1538.0 L312.6 1533.2 L314.2 1528.3 L315.8 1523.2 L317.4 1518.0 L319.0 1512.6 L320.6 1507.1 L322.1 1501.6 L323.7 1495.9 L325.3 1490.3 L326.9 1484.6 L328.5 1478.9 L330.1 1473.3 L331.7 1467.7 L333.3 1462.3 L334.8 1457.0 L336.4 1451.9 L338.0 1447.1 L339.6 1442.4 L341.2 1438.1 L342.8 1434.0 L344.4 1430.3 L345.9 1427.0 L347.5 1424.1 L349.1 1421.5 L350.7 1419.4 L352.3 1417.8 L353.9 1416.6 L355.5 1415.9 L357.1 1415.6 L358.6 1415.9 L360.2 1416.6 L361.8 1417.8 L363.4 1419.4 L365.0 1421.5 L366.6 1424.1 L368.2 1427.0 L369.7 1430.3 L371.3 1434.0 L372.9 1438.1 L374.5 1442.4 L376.1 1447.1 L377.7 1451.9 L379.3 1457.0 L380.9 1462.3 L382.4 1467.7 L384.0 1473.3 L385.6 1478.9 L387.2 1484.6 L388.8 1490.3 L390.4 1495.9 L392.0 1501.6 L393.6 1507.1 L395.1 1512.6 L396.7 1518.0 L398.3 1523.2 L399.9 1528.3 L401.5 1533.2 L403.1 1538.0 L404.7 1542.5 L406.2 1546.9 L407.8 1551.0 L409.4 1554.9 L411.0 1558.7 L412.6 1562.2 L414.2 1565.5 L415.8 1568.6 L417.4 1571.4 L418.9 1574.1 L420.5 1576.6 L422.1 1578.9 L423.7 1581.0 L425.3 1582.9 L426.9 1584.7 L428.5 1586.3 L430.1 1587.8 L431.6 1589.1 L433.2 1590.3 L434.8 1591.4 L436.4 1592.4 L438.0 1593.3 L439.6 1594.1 L441.2 1594.7 L442.7 1595.4 L444.3 1595.9 L445.9 1596.4 L447.5 1596.8 L449.1 1597.2 L450.7 1597.5 L452.3 1597.8 L453.9 1598.1 L455.4 1598.3 L457.0 1598.5 L458.6 1598.6 L460.2 1598.7 L461.8 1598.9 L463.4 1599.0 L465.0 1599.1 L466.5 1599.1 L468.1 1599.2 L469.7 1599.2 L471.3 1599.3 L472.9 1599.3 L474.5 1599.4 L476.1 1599.4 L477.7 1599.4 L479.2 1599.4 L480.8 1599.4 L482.4 1599.4 L484.0 1599.5 L485.6 1599.5 L487.2 1599.5 L488.8 1599.5 L490.4 1599.5 L491.9 1599.5 L493.5 1599.5 L495.1 1599.5 L496.7 1599.5 L498.3 1599.5 L499.9 1599.5 L501.5 1599.5 L503.0 1599.5 L504.6 1599.5 L506.2 1599.5 L507.8 1599.5 L509.4 1599.5 L511.0 1599.5 L512.6 1599.5" stroke="#0b3d5e" stroke-width="4.20" fill="none" stroke-opacity="0.5" stroke-linejoin="round"/>
<path d="M215.8 1599.5 L217.4 1599.5 L219.0 1599.5 L220.6 1599.5 L222.2 1599.5 L223.8 1599.5 L225.3 1599.5 L226.9 1599.5 L228.5 1599.5 L230.1 1599.5 L231.7 1599.5 L233.3 1599.5 L234.9 1599.5 L236.5 1599.5 L238.0 1599.5 L239.6 1599.5 L241.2 1599.5 L242.8 1599.5 L244.4 1599.5 L246.0 1599.5 L247.6 1599.5 L249.1 1599.5 L250.7 1599.5 L252.3 1599.5 L253.9 1599.5 L255.5 1599.5 L257.1 1599.5 L258.7 1599.5 L260.3 1599.5 L261.8 1599.5 L263.4 1599.4 L265.0 1599.4 L266.6 1599.4 L268.2 1599.4 L269.8 1599.4 L271.4 1599.4 L273.0 1599.4 L274.5 1599.3 L276.1 1599.3 L277.7 1599.3 L279.3 1599.3 L280.9 1599.2 L282.5 1599.2 L284.1 1599.1 L285.6 1599.1 L287.2 1599.0 L288.8 1599.0 L290.4 1598.9 L292.0 1598.8 L293.6 1598.8 L295.2 1598.7 L296.8 1598.6 L298.3 1598.4 L299.9 1598.3 L301.5 1598.2 L303.1 1598.0 L304.7 1597.9 L306.3 1597.7 L307.9 1597.5 L309.4 1597.2 L311.0 1597.0 L312.6 1596.7 L314.2 1596.4 L315.8 1596.1 L317.4 1595.7 L319.0 1595.3 L320.6 1594.9 L322.1 1594.5 L323.7 1594.0 L325.3 1593.5 L326.9 1592.9 L328.5 1592.3 L330.1 1591.6 L331.7 1591.0 L333.3 1590.2 L334.8 1589.4 L336.4 1588.6 L338.0 1587.7 L339.6 1586.7 L341.2 1585.7 L342.8 1584.6 L344.4 1583.5 L345.9 1582.3 L347.5 1581.0 L349.1 1579.7 L350.7 1578.4 L352.3 1576.9 L353.9 1575.4 L355.5 1573.9 L357.1 1572.2 L358.6 1570.5 L360.2 1568.8 L361.8 1567.0 L363.4 1565.2 L365.0 1563.2 L366.6 1561.3 L368.2 1559.3 L369.7 1557.3 L371.3 1555.2 L372.9 1553.1 L374.5 1550.9 L376.1 1548.7 L377.7 1546.6 L379.3 1544.4 L380.9 1542.2 L382.4 1540.0 L384.0 1537.8 L385.6 1535.6 L387.2 1533.4 L388.8 1531.3 L390.4 1529.2 L392.0 1527.1 L393.6 1525.1 L395.1 1523.2 L396.7 1521.3 L398.3 1519.5 L399.9 1517.7 L401.5 1516.1 L403.1 1514.5 L404.7 1513.1 L406.2 1511.7 L407.8 1510.5 L409.4 1509.3 L411.0 1508.3 L412.6 1507.4 L414.2 1506.7 L415.8 1506.1 L417.4 1505.6 L418.9 1505.2 L420.5 1505.0 L422.1 1505.0 L423.7 1505.0 L425.3 1505.2 L426.9 1505.6 L428.5 1506.1 L430.1 1506.7 L431.6 1507.4 L433.2 1508.3 L434.8 1509.3 L436.4 1510.5 L438.0 1511.7 L439.6 1513.1 L441.2 1514.5 L442.7 1516.1 L444.3 1517.7 L445.9 1519.5 L447.5 1521.3 L449.1 1523.2 L450.7 1525.1 L452.3 1527.1 L453.9 1529.2 L455.4 1531.3 L457.0 1533.4 L458.6 1535.6 L460.2 1537.8 L461.8 1540.0 L463.4 1542.2 L465.0 1544.4 L466.5 1546.6 L468.1 1548.7 L469.7 1550.9 L471.3 1553.1 L472.9 1555.2 L474.5 1557.3 L476.1 1559.3 L477.7 1561.3 L479.2 1563.2 L480.8 1565.2 L482.4 1567.0 L484.0 1568.8 L485.6 1570.5 L487.2 1572.2 L488.8 1573.9 L490.4 1575.4 L491.9 1576.9 L493.5 1578.4 L495.1 1579.7 L496.7 1581.0 L498.3 1582.3 L499.9 1583.5 L501.5 1584.6 L503.0 1585.7 L504.6 1586.7 L506.2 1587.7 L507.8 1588.6 L509.4 1589.4 L511.0 1590.2 L512.6 1591.0 L514.2 1591.6 L515.7 1592.3 L517.3 1592.9 L518.9 1593.5 L520.5 1594.0 L522.1 1594.5 L523.7 1594.9 L525.3 1595.3 L526.8 1595.7 L528.4 1596.1 L530.0 1596.4 L531.6 1596.7 L533.2 1597.0 L534.8 1597.2 L536.4 1597.5 L538.0 1597.7 L539.5 1597.9 L541.1 1598.0 L542.7 1598.2 L544.3 1598.3 L545.9 1598.4 L547.5 1598.6 L549.1 1598.7 L550.7 1598.8 L552.2 1598.8 L553.8 1598.9 L555.4 1599.0 L557.0 1599.0 L558.6 1599.1 L560.2 1599.1 L561.8 1599.2 L563.3 1599.2 L564.9 1599.3 L566.5 1599.3 L568.1 1599.3 L569.7 1599.3 L571.3 1599.4 L572.9 1599.4 L574.5 1599.4 L576.0 1599.4 L577.6 1599.4 L579.2 1599.4 L580.8 1599.4 L582.4 1599.5 L584.0 1599.5 L585.6 1599.5 L587.1 1599.5 L588.7 1599.5 L590.3 1599.5 L591.9 1599.5 L593.5 1599.5 L595.1 1599.5 L596.7 1599.5 L598.3 1599.5 L599.8 1599.5 L601.4 1599.5 L603.0 1599.5 L604.6 1599.5 L606.2 1599.5 L607.8 1599.5 L609.4 1599.5 L611.0 1599.5 L612.5 1599.5 L614.1 1599.5 L615.7 1599.5 L617.3 1599.5 L618.9 1599.5 L620.5 1599.5 L622.1 1599.5 L623.6 1599.5 L625.2 1599.5 L626.8 1599.5 L628.4 1599.5" stroke="#0b3d5e" stroke-width="4.20" fill="none" stroke-opacity="0.5" stroke-linejoin="round"/>
<path d="M465.0 1599.5 L466.5 1599.5 L468.1 1599.5 L469.7 1599.5 L471.3 1599.5 L472.9 1599.5 L474.5 1599.5 L476.1 1599.5 L477.7 1599.5 L479.2 1599.5 L480.8 1599.5 L482.4 1599.5 L484.0 1599.5 L485.6 1599.5 L487.2 1599.5 L488.8 1599.5 L490.4 1599.5 L491.9 1599.5 L493.5 1599.5 L495.1 1599.5 L496.7 1599.5 L498.3 1599.5 L499.9 1599.4 L501.5 1599.4 L503.0 1599.4 L504.6 1599.4 L506.2 1599.4 L507.8 1599.3 L509.4 1599.3 L511.0 1599.2 L512.6 1599.2 L514.2 1599.1 L515.7 1599.0 L517.3 1598.9 L518.9 1598.8 L520.5 1598.6 L522.1 1598.5 L523.7 1598.3 L525.3 1598.1 L526.8 1597.8 L528.4 1597.6 L530.0 1597.3 L531.6 1597.0 L533.2 1596.6 L534.8 1596.3 L536.4 1595.9 L538.0 1595.5 L539.5 1595.0 L541.1 1594.6 L542.7 1594.1 L544.3 1593.7 L545.9 1593.2 L547.5 1592.7 L549.1 1592.3 L550.7 1591.8 L552.2 1591.4 L553.8 1591.0 L555.4 1590.7 L557.0 1590.4 L558.6 1590.1 L560.2 1589.9 L561.8 1589.8 L563.3 1589.7 L564.9 1589.6 L566.5 1589.7 L568.1 1589.8 L569.7 1589.9 L571.3 1590.1 L572.9 1590.4 L574.5 1590.7 L576.0 1591.0 L577.6 1591.4 L579.2 1591.8 L580.8 1592.3 L582.4 1592.7 L584.0 1593.2 L585.6 1593.7 L587.1 1594.1 L588.7 1594.6 L590.3 1595.0 L591.9 1595.5 L593.5 1595.9 L595.1 1596.3 L596.7 1596.6 L598.3 1597.0 L599.8 1597.3 L601.4 1597.6 L603.0 1597.8 L604.6 1598.1 L606.2 1598.3 L607.8 1598.5 L609.4 1598.6 L611.0 1598.8 L612.5 1598.9 L614.1 1599.0 L615.7 1599.1 L617.3 1599.2 L618.9 1599.2 L620.5 1599.3 L622.1 1599.3 L623.6 1599.4 L625.2 1599.4 L626.8 1599.4 L628.4 1599.4 L630.0 1599.4 L631.6 1599.5 L633.2 1599.5 L634.8 1599.5 L636.3 1599.5 L637.9 1599.5 L639.5 1599.5 L641.1 1599.5 L642.7 1599.5 L644.3 1599.5 L645.9 1599.5 L647.4 1599.5 L649.0 1599.5 L650.6 1599.5 L652.2 1599.5 L653.8 1599.5 L655.4 1599.5 L657.0 1599.5 L658.6 1599.5 L660.1 1599.5 L661.7 1599.5 L663.3 1599.5 L664.9 1599.5" stroke="#0b3d5e" stroke-width="4.20" fill="none" stroke-opacity="0.5" stroke-linejoin="round"/>
<path d="M122.2 1599.1 L123.8 1599.0 L125.4 1598.9 L127.0 1598.6 L128.5 1598.4 L130.1 1598.0 L131.7 1597.5 L133.3 1596.9 L134.9 1596.2 L136.5 1595.2 L138.1 1594.0 L139.7 1592.6 L141.2 1590.8 L142.8 1588.6 L144.4 1586.0 L146.0 1582.8 L147.6 1579.1 L149.2 1574.7 L150.8 1569.5 L152.4 1563.6 L153.9 1556.7 L155.5 1548.9 L157.1 1540.1 L158.7 1530.3 L160.3 1519.4 L161.9 1507.4 L163.5 1494.3 L165.0 1480.2 L166.6 1465.2 L168.2 1449.3 L169.8 1432.7 L171.4 1415.5 L173.0 1398.0 L174.6 1380.3 L176.2 1362.7 L177.7 1345.5 L179.3 1329.0 L180.9 1313.3 L182.5 1298.9 L184.1 1285.8 L185.7 1274.5 L187.3 1265.1 L188.8 1257.9 L190.4 1252.9 L192.0 1250.2 L193.6 1250.0 L195.2 1252.1 L196.8 1256.7 L198.4 1263.5 L200.0 1272.5 L201.5 1283.4 L203.1 1296.1 L204.7 1310.3 L206.3 1325.8 L207.9 1342.2 L209.5 1359.3 L211.1 1376.8 L212.7 1394.4 L214.2 1412.0 L215.8 1429.3 L217.4 1446.0 L219.0 1462.0 L220.6 1477.3 L222.2 1491.6 L223.8 1504.8 L225.3 1517.1 L226.9 1528.2 L228.5 1538.2 L230.1 1547.3 L231.7 1551.7 L233.3 1549.2 L234.9 1546.6 L236.5 1544.1 L238.0 1541.4 L239.6 1538.8 L241.2 1536.2 L242.8 1533.5 L244.4 1530.9 L246.0 1528.3 L247.6 1525.7 L249.1 1523.2 L250.7 1520.7 L252.3 1518.3 L253.9 1515.9 L255.5 1513.6 L257.1 1511.4 L258.7 1509.3 L260.3 1507.4 L261.8 1505.5 L263.4 1503.8 L265.0 1502.2 L266.6 1500.7 L268.2 1499.4 L269.8 1498.3 L271.4 1497.3 L273.0 1496.5 L274.5 1495.9 L276.1 1495.5 L277.7 1495.2 L279.3 1495.1 L280.9 1495.2 L282.5 1495.5 L284.1 1495.9 L285.6 1496.5 L287.2 1497.3 L288.8 1498.3 L290.4 1499.4 L292.0 1500.7 L293.6 1502.2 L295.2 1503.8 L296.8 1505.5 L298.3 1507.4 L299.9 1509.3 L301.5 1511.4 L303.1 1513.6 L304.7 1515.9 L306.3 1518.3 L307.9 1520.7 L309.4 1523.2 L311.0 1525.7 L312.6 1528.3 L314.2 1528.3 L315.8 1523.2 L317.4 1518.0 L319.0 1512.6 L320.6 1507.1 L322.1 1501.6 L323.7 1495.9 L325.3 1490.3 L326.9 1484.6 L328.5 1478.9 L330.1 1473.3 L331.7 1467.7 L333.3 1462.3 L334.8 1457.0 L336.4 1451.9 L338.0 1447.1 L339.6 1442.4 L341.2 1438.1 L342.8 1434.0 L344.4 1430.3 L345.9 1427.0 L347.5 1424.1 L349.1 1421.5 L350.7 1419.4 L352.3 1417.8 L353.9 1416.6 L355.5 1415.9 L357.1 1415.6 L358.6 1415.9 L360.2 1416.6 L361.8 1417.8 L363.4 1419.4 L365.0 1421.5 L366.6 1424.1 L368.2 1427.0 L369.7 1430.3 L371.3 1434.0 L372.9 1438.1 L374.5 1442.4 L376.1 1447.1 L377.7 1451.9 L379.3 1457.0 L380.9 1462.3 L382.4 1467.7 L384.0 1473.3 L385.6 1478.9 L387.2 1484.6 L388.8 1490.3 L390.4 1495.9 L392.0 1501.6 L393.6 1507.1 L395.1 1512.6 L396.7 1518.0 L398.3 1519.5 L399.9 1517.7 L401.5 1516.1 L403.1 1514.5 L404.7 1513.1 L406.2 1511.7 L407.8 1510.5 L409.4 1509.3 L411.0 1508.3 L412.6 1507.4 L414.2 1506.7 L415.8 1506.1 L417.4 1505.6 L418.9 1505.2 L420.5 1505.0 L422.1 1505.0 L423.7 1505.0 L425.3 1505.2 L426.9 1505.6 L428.5 1506.1 L430.1 1506.7 L431.6 1507.4 L433.2 1508.3 L434.8 1509.3 L436.4 1510.5 L438.0 1511.7 L439.6 1513.1 L441.2 1514.5 L442.7 1516.1 L444.3 1517.7 L445.9 1519.5 L447.5 1521.3 L449.1 1523.2 L450.7 1525.1 L452.3 1527.1 L453.9 1529.2 L455.4 1531.3 L457.0 1533.4 L458.6 1535.6 L460.2 1537.8 L461.8 1540.0 L463.4 1542.2 L465.0 1544.4 L466.5 1546.6 L468.1 1548.7 L469.7 1550.9 L471.3 1553.1 L472.9 1555.2 L474.5 1557.3 L476.1 1559.3 L477.7 1561.3 L479.2 1563.2 L480.8 1565.2 L482.4 1567.0 L484.0 1568.8 L485.6 1570.5 L487.2 1572.2 L488.8 1573.9 L490.4 1575.4 L491.9 1576.9 L493.5 1578.4 L495.1 1579.7 L496.7 1581.0 L498.3 1582.3 L499.9 1583.5 L501.5 1584.6 L503.0 1585.7 L504.6 1586.7 L506.2 1587.7 L507.8 1588.6 L509.4 1589.4 L511.0 1590.2 L512.6 1591.0 L514.2 1591.6 L515.7 1592.3 L517.3 1592.9 L518.9 1593.5 L520.5 1594.0 L522.1 1594.5 L523.7 1594.9 L525.3 1595.3 L526.8 1595.7 L528.4 1596.1 L530.0 1596.4 L531.6 1596.7 L533.2 1596.6 L534.8 1596.3 L536.4 1595.9 L538.0 1595.5 L539.5 1595.0 L541.1 1594.6 L542.7 1594.1 L544.3 1593.7 L545.9 1593.2 L547.5 1592.7 L549.1 1592.3 L550.7 1591.8 L552.2 1591.4 L553.8 1591.0 L555.4 1590.7 L557.0 1590.4 L558.6 1590.1 L560.2 1589.9 L561.8 1589.8 L563.3 1589.7 L564.9 1589.6 L566.5 1589.7 L568.1 1589.8 L569.7 1589.9 L571.3 1590.1 L572.9 1590.4 L574.5 1590.7 L576.0 1591.0 L577.6 1591.4 L579.2 1591.8 L580.8 1592.3 L582.4 1592.7 L584.0 1593.2 L585.6 1593.7 L587.1 1594.1 L588.7 1594.6 L590.3 1595.0 L591.9 1595.5 L593.5 1595.9 L595.1 1596.3 L596.7 1596.6 L598.3 1597.0 L599.8 1597.3 L601.4 1597.6 L603.0 1597.8 L604.6 1598.1 L606.2 1598.3 L607.8 1598.5 L609.4 1598.6 L611.0 1598.8 L612.5 1598.9 L614.1 1599.0 L615.7 1599.1 L617.3 1599.2 L618.9 1599.2 L620.5 1599.3 L622.1 1599.3 L623.6 1599.4 L625.2 1599.4 L626.8 1599.4 L628.4 1599.4 L630.0 1599.4 L631.6 1599.5 L633.2 1599.5 L634.8 1599.5 L636.3 1599.5 L637.9 1599.5 L639.5 1599.5 L641.1 1599.5 L642.7 1599.5 L644.3 1599.5 L645.9 1599.5 L647.4 1599.5 L649.0 1599.5 L650.6 1599.5 L652.2 1599.5 L653.8 1599.5 L655.4 1599.5 L657.0 1599.5 L658.6 1599.5 L660.1 1599.5 L661.7 1599.5 L663.3 1599.5 L664.9 1599.5" stroke="#0b3d5e" stroke-width="4.40" fill="none" stroke-linejoin="round" stroke-linecap="butt"/>
<text x="210.6" y="1184.0" font-size="19.70" text-anchor="middle" fill="#174564">45</text>
<text x="210.6" y="1205.3" font-size="19.70" text-anchor="middle" fill="#174564">σ 12.5</text>
<text x="210.6" y="1223.4" font-size="19.70" text-anchor="middle" fill="#174564">5369 counts (38%)</text>
<text x="293.7" y="1257.8" font-size="19.70" text-anchor="middle" fill="#174564">99</text>
<text x="293.7" y="1279.1" font-size="19.70" text-anchor="middle" fill="#174564">σ 24</text>
<text x="293.7" y="1297.2" font-size="19.70" text-anchor="middle" fill="#174564">3141 counts (22%)</text>
<text x="357.1" y="1331.2" font-size="19.70" text-anchor="middle" fill="#174564">148</text>
<text x="357.1" y="1352.5" font-size="19.70" text-anchor="middle" fill="#174564">σ 20</text>
<text x="357.1" y="1370.6" font-size="19.70" text-anchor="middle" fill="#174564">4649 counts (33%)</text>
<text x="467.0" y="1403.1" font-size="19.70" text-anchor="middle" fill="#174564">189</text>
<text x="467.0" y="1424.4" font-size="19.70" text-anchor="middle" fill="#174564">σ 26</text>
<text x="467.0" y="1442.5" font-size="19.70" text-anchor="middle" fill="#174564">3042 counts (21%)</text>
<text x="568.4" y="1490.7" font-size="19.70" text-anchor="middle" fill="#174564">279</text>
<text x="568.4" y="1512.0" font-size="19.70" text-anchor="middle" fill="#174564">σ 12.7</text>
<text x="568.4" y="1530.1" font-size="19.70" text-anchor="middle" fill="#174564">147 counts (1%)</text>
<text x="675.4" y="1204.0" font-size="21.00" text-anchor="end">APIC-2x <tspan font-family="'Liberation Serif',serif" font-size="24.4" letter-spacing="0.6">α</tspan>CD79 - CTSS</text>
<text x="40.0" y="1384.8" font-size="20.70" text-anchor="middle" transform="rotate(-90 40.0 1384.8)">Normalized counts</text>
<text x="401.4" y="1655.0" font-size="21.00" text-anchor="middle">Mass (kDa)</text>
</g>
<g>
<line x1="825.90" y1="1177.00" x2="825.90" y2="1600.90" stroke="#231f20" stroke-width="3.40" />
<line x1="824.20" y1="1599.20" x2="1391.60" y2="1599.20" stroke="#231f20" stroke-width="3.40" />
<line x1="818.70" y1="1599.20" x2="825.90" y2="1599.20" stroke="#231f20" stroke-width="3.20" />
<text x="809.5" y="1606.5" font-size="20.70" text-anchor="end">0.00</text>
<line x1="821.50" y1="1579.72" x2="825.90" y2="1579.72" stroke="#231f20" stroke-width="2.30" />
<line x1="821.50" y1="1560.24" x2="825.90" y2="1560.24" stroke="#231f20" stroke-width="2.30" />
<line x1="821.50" y1="1540.76" x2="825.90" y2="1540.76" stroke="#231f20" stroke-width="2.30" />
<line x1="821.50" y1="1521.28" x2="825.90" y2="1521.28" stroke="#231f20" stroke-width="2.30" />
<line x1="818.70" y1="1501.80" x2="825.90" y2="1501.80" stroke="#231f20" stroke-width="3.20" />
<text x="809.5" y="1509.1" font-size="20.70" text-anchor="end">0.02</text>
<line x1="821.50" y1="1482.32" x2="825.90" y2="1482.32" stroke="#231f20" stroke-width="2.30" />
<line x1="821.50" y1="1462.84" x2="825.90" y2="1462.84" stroke="#231f20" stroke-width="2.30" />
<line x1="821.50" y1="1443.36" x2="825.90" y2="1443.36" stroke="#231f20" stroke-width="2.30" />
<line x1="821.50" y1="1423.88" x2="825.90" y2="1423.88" stroke="#231f20" stroke-width="2.30" />
<line x1="818.70" y1="1404.40" x2="825.90" y2="1404.40" stroke="#231f20" stroke-width="3.20" />
<text x="809.5" y="1411.7" font-size="20.70" text-anchor="end">0.04</text>
<line x1="821.50" y1="1384.92" x2="825.90" y2="1384.92" stroke="#231f20" stroke-width="2.30" />
<line x1="821.50" y1="1365.44" x2="825.90" y2="1365.44" stroke="#231f20" stroke-width="2.30" />
<line x1="821.50" y1="1345.96" x2="825.90" y2="1345.96" stroke="#231f20" stroke-width="2.30" />
<line x1="821.50" y1="1326.48" x2="825.90" y2="1326.48" stroke="#231f20" stroke-width="2.30" />
<line x1="818.70" y1="1307.00" x2="825.90" y2="1307.00" stroke="#231f20" stroke-width="3.20" />
<text x="809.5" y="1314.3" font-size="20.70" text-anchor="end">0.06</text>
<line x1="821.50" y1="1287.52" x2="825.90" y2="1287.52" stroke="#231f20" stroke-width="2.30" />
<line x1="821.50" y1="1268.04" x2="825.90" y2="1268.04" stroke="#231f20" stroke-width="2.30" />
<line x1="821.50" y1="1248.56" x2="825.90" y2="1248.56" stroke="#231f20" stroke-width="2.30" />
<line x1="821.50" y1="1229.08" x2="825.90" y2="1229.08" stroke="#231f20" stroke-width="2.30" />
<line x1="818.70" y1="1209.60" x2="825.90" y2="1209.60" stroke="#231f20" stroke-width="3.20" />
<text x="809.5" y="1216.9" font-size="20.70" text-anchor="end">0.08</text>
<line x1="821.50" y1="1190.12" x2="825.90" y2="1190.12" stroke="#231f20" stroke-width="2.30" />
<line x1="825.90" y1="1599.20" x2="825.90" y2="1606.60" stroke="#231f20" stroke-width="3.40" />
<text x="825.9" y="1626.4" font-size="20.70" text-anchor="middle">0</text>
<line x1="842.03" y1="1599.20" x2="842.03" y2="1604.00" stroke="#231f20" stroke-width="2.40" />
<line x1="858.15" y1="1599.20" x2="858.15" y2="1604.00" stroke="#231f20" stroke-width="2.40" />
<line x1="874.28" y1="1599.20" x2="874.28" y2="1604.00" stroke="#231f20" stroke-width="2.40" />
<line x1="890.40" y1="1599.20" x2="890.40" y2="1604.00" stroke="#231f20" stroke-width="2.40" />
<line x1="906.53" y1="1599.20" x2="906.53" y2="1606.60" stroke="#231f20" stroke-width="3.40" />
<text x="906.5" y="1626.4" font-size="20.70" text-anchor="middle">50</text>
<line x1="922.65" y1="1599.20" x2="922.65" y2="1604.00" stroke="#231f20" stroke-width="2.40" />
<line x1="938.78" y1="1599.20" x2="938.78" y2="1604.00" stroke="#231f20" stroke-width="2.40" />
<line x1="954.91" y1="1599.20" x2="954.91" y2="1604.00" stroke="#231f20" stroke-width="2.40" />
<line x1="971.03" y1="1599.20" x2="971.03" y2="1604.00" stroke="#231f20" stroke-width="2.40" />
<line x1="987.16" y1="1599.20" x2="987.16" y2="1606.60" stroke="#231f20" stroke-width="3.40" />
<text x="987.2" y="1626.4" font-size="20.70" text-anchor="middle">100</text>
<line x1="1003.28" y1="1599.20" x2="1003.28" y2="1604.00" stroke="#231f20" stroke-width="2.40" />
<line x1="1019.41" y1="1599.20" x2="1019.41" y2="1604.00" stroke="#231f20" stroke-width="2.40" />
<line x1="1035.53" y1="1599.20" x2="1035.53" y2="1604.00" stroke="#231f20" stroke-width="2.40" />
<line x1="1051.66" y1="1599.20" x2="1051.66" y2="1604.00" stroke="#231f20" stroke-width="2.40" />
<line x1="1067.79" y1="1599.20" x2="1067.79" y2="1606.60" stroke="#231f20" stroke-width="3.40" />
<text x="1067.8" y="1626.4" font-size="20.70" text-anchor="middle">150</text>
<line x1="1083.91" y1="1599.20" x2="1083.91" y2="1604.00" stroke="#231f20" stroke-width="2.40" />
<line x1="1100.04" y1="1599.20" x2="1100.04" y2="1604.00" stroke="#231f20" stroke-width="2.40" />
<line x1="1116.16" y1="1599.20" x2="1116.16" y2="1604.00" stroke="#231f20" stroke-width="2.40" />
<line x1="1132.29" y1="1599.20" x2="1132.29" y2="1604.00" stroke="#231f20" stroke-width="2.40" />
<line x1="1148.41" y1="1599.20" x2="1148.41" y2="1606.60" stroke="#231f20" stroke-width="3.40" />
<text x="1148.4" y="1626.4" font-size="20.70" text-anchor="middle">200</text>
<line x1="1164.54" y1="1599.20" x2="1164.54" y2="1604.00" stroke="#231f20" stroke-width="2.40" />
<line x1="1180.67" y1="1599.20" x2="1180.67" y2="1604.00" stroke="#231f20" stroke-width="2.40" />
<line x1="1196.79" y1="1599.20" x2="1196.79" y2="1604.00" stroke="#231f20" stroke-width="2.40" />
<line x1="1212.92" y1="1599.20" x2="1212.92" y2="1604.00" stroke="#231f20" stroke-width="2.40" />
<line x1="1229.04" y1="1599.20" x2="1229.04" y2="1606.60" stroke="#231f20" stroke-width="3.40" />
<text x="1229.0" y="1626.4" font-size="20.70" text-anchor="middle">250</text>
<line x1="1245.17" y1="1599.20" x2="1245.17" y2="1604.00" stroke="#231f20" stroke-width="2.40" />
<line x1="1261.29" y1="1599.20" x2="1261.29" y2="1604.00" stroke="#231f20" stroke-width="2.40" />
<line x1="1277.42" y1="1599.20" x2="1277.42" y2="1604.00" stroke="#231f20" stroke-width="2.40" />
<line x1="1293.55" y1="1599.20" x2="1293.55" y2="1604.00" stroke="#231f20" stroke-width="2.40" />
<line x1="1309.67" y1="1599.20" x2="1309.67" y2="1606.60" stroke="#231f20" stroke-width="3.40" />
<text x="1309.7" y="1626.4" font-size="20.70" text-anchor="middle">300</text>
<line x1="1325.80" y1="1599.20" x2="1325.80" y2="1604.00" stroke="#231f20" stroke-width="2.40" />
<line x1="1341.92" y1="1599.20" x2="1341.92" y2="1604.00" stroke="#231f20" stroke-width="2.40" />
<line x1="1358.05" y1="1599.20" x2="1358.05" y2="1604.00" stroke="#231f20" stroke-width="2.40" />
<line x1="1374.17" y1="1599.20" x2="1374.17" y2="1604.00" stroke="#231f20" stroke-width="2.40" />
<line x1="1390.30" y1="1599.20" x2="1390.30" y2="1606.60" stroke="#231f20" stroke-width="3.40" />
<text x="1390.3" y="1626.4" font-size="20.70" text-anchor="middle">350</text>
<path d="M851.7 1600.9 L851.7 1590.9 L860.6 1590.9 L860.6 1495.5 L869.4 1495.5 L869.4 1394.2 L878.3 1394.2 L878.2 1292.9 L887.1 1292.9 L887.1 1248.1 L896.0 1248.1 L896.0 1281.7 L904.8 1281.7 L904.8 1372.3 L913.7 1372.3 L913.7 1452.6 L922.5 1452.6 L922.5 1503.3 L931.4 1503.3 L931.4 1530.0 L940.2 1530.0 L940.2 1554.9 L949.1 1554.9 L949.1 1556.8 L957.9 1556.8 L957.9 1554.9 L966.8 1554.9 L966.8 1560.2 L975.6 1560.2 L975.6 1553.4 L984.5 1553.4 L984.5 1542.2 L993.3 1542.2 L993.3 1545.1 L1002.2 1545.1 L1002.2 1552.4 L1011.0 1552.4 L1011.0 1563.2 L1019.9 1563.2 L1019.9 1545.6 L1028.7 1545.6 L1028.7 1544.2 L1037.5 1544.2 L1037.5 1515.9 L1046.4 1515.9 L1046.4 1471.6 L1055.2 1471.6 L1055.2 1459.4 L1064.1 1459.4 L1064.1 1419.0 L1072.9 1419.0 L1073.0 1455.5 L1081.8 1455.5 L1081.8 1455.5 L1090.6 1455.5 L1090.7 1506.2 L1099.5 1506.2 L1099.5 1519.3 L1108.3 1519.3 L1108.3 1510.6 L1117.2 1510.6 L1117.2 1521.3 L1126.0 1521.3 L1126.0 1526.2 L1134.9 1526.2 L1134.9 1539.8 L1143.8 1539.8 L1143.8 1529.6 L1152.6 1529.6 L1152.6 1502.8 L1161.4 1502.8 L1161.5 1525.7 L1170.3 1525.7 L1170.3 1535.4 L1179.1 1535.4 L1179.2 1541.2 L1188.0 1541.2 L1188.0 1548.6 L1196.8 1548.6 L1196.8 1551.5 L1205.7 1551.5 L1205.7 1553.9 L1214.5 1553.9 L1214.5 1564.6 L1223.4 1564.6 L1223.4 1570.0 L1232.2 1570.0 L1232.2 1567.5 L1241.1 1567.5 L1241.1 1573.4 L1249.9 1573.4 L1250.0 1575.3 L1258.8 1575.3 L1258.8 1579.7 L1267.6 1579.7 L1267.7 1585.6 L1276.5 1585.6 L1276.5 1589.5 L1285.3 1589.5 L1285.3 1583.6 L1294.2 1583.6 L1294.2 1587.0 L1303.0 1587.0 L1303.0 1592.4 L1311.9 1592.4 L1311.9 1595.8 L1320.8 1595.8 L1320.8 1595.8 L1329.6 1595.8 L1329.6 1594.3 L1338.4 1594.3 L1338.5 1595.3 L1347.3 1595.3 L1347.3 1596.3 L1356.1 1596.3 L1356.2 1596.3 L1365.0 1596.3 L1365.0 1597.3 L1373.8 1597.3 L1373.8 1597.7 L1382.7 1597.7 L1382.7 1597.7 L1390.3 1597.7 L1390.3 1600.9Z" stroke="none" stroke-width="0.00" fill="#4170b6" fill-opacity="0.6"/>
<path d="M825.9 1599.2 L851.7 1599.2 L851.7 1590.9 L860.6 1590.9 L860.6 1495.5 L869.4 1495.5 L869.4 1394.2 L878.3 1394.2 L878.2 1292.9 L887.1 1292.9 L887.1 1248.1 L896.0 1248.1 L896.0 1281.7 L904.8 1281.7 L904.8 1372.3 L913.7 1372.3 L913.7 1452.6 L922.5 1452.6 L922.5 1503.3 L931.4 1503.3 L931.4 1530.0 L940.2 1530.0 L940.2 1554.9 L949.1 1554.9 L949.1 1556.8 L957.9 1556.8 L957.9 1554.9 L966.8 1554.9 L966.8 1560.2 L975.6 1560.2 L975.6 1553.4 L984.5 1553.4 L984.5 1542.2 L993.3 1542.2 L993.3 1545.1 L1002.2 1545.1 L1002.2 1552.4 L1011.0 1552.4 L1011.0 1563.2 L1019.9 1563.2 L1019.9 1545.6 L1028.7 1545.6 L1028.7 1544.2 L1037.5 1544.2 L1037.5 1515.9 L1046.4 1515.9 L1046.4 1471.6 L1055.2 1471.6 L1055.2 1459.4 L1064.1 1459.4 L1064.1 1419.0 L1072.9 1419.0 L1073.0 1455.5 L1081.8 1455.5 L1081.8 1455.5 L1090.6 1455.5 L1090.7 1506.2 L1099.5 1506.2 L1099.5 1519.3 L1108.3 1519.3 L1108.3 1510.6 L1117.2 1510.6 L1117.2 1521.3 L1126.0 1521.3 L1126.0 1526.2 L1134.9 1526.2 L1134.9 1539.8 L1143.8 1539.8 L1143.8 1529.6 L1152.6 1529.6 L1152.6 1502.8 L1161.4 1502.8 L1161.5 1525.7 L1170.3 1525.7 L1170.3 1535.4 L1179.1 1535.4 L1179.2 1541.2 L1188.0 1541.2 L1188.0 1548.6 L1196.8 1548.6 L1196.8 1551.5 L1205.7 1551.5 L1205.7 1553.9 L1214.5 1553.9 L1214.5 1564.6 L1223.4 1564.6 L1223.4 1570.0 L1232.2 1570.0 L1232.2 1567.5 L1241.1 1567.5 L1241.1 1573.4 L1249.9 1573.4 L1250.0 1575.3 L1258.8 1575.3 L1258.8 1579.7 L1267.6 1579.7 L1267.7 1585.6 L1276.5 1585.6 L1276.5 1589.5 L1285.3 1589.5 L1285.3 1583.6 L1294.2 1583.6 L1294.2 1587.0 L1303.0 1587.0 L1303.0 1592.4 L1311.9 1592.4 L1311.9 1595.8 L1320.8 1595.8 L1320.8 1595.8 L1329.6 1595.8 L1329.6 1594.3 L1338.4 1594.3 L1338.5 1595.3 L1347.3 1595.3 L1347.3 1596.3 L1356.1 1596.3 L1356.2 1596.3 L1365.0 1596.3 L1365.0 1597.3 L1373.8 1597.3 L1373.8 1597.7 L1382.7 1597.7 L1382.7 1597.7 L1390.3 1597.7 L1390.3 1599.2" stroke="#1f77b4" stroke-width="3.70" fill="none" stroke-linejoin="miter"/>
<path d="M825.9 1598.7 L827.5 1598.5 L829.1 1598.3 L830.7 1598.0 L832.4 1597.6 L834.0 1597.1 L835.6 1596.4 L837.2 1595.6 L838.8 1594.6 L840.4 1593.2 L842.0 1591.6 L843.6 1589.6 L845.3 1587.2 L846.9 1584.2 L848.5 1580.7 L850.1 1576.5 L851.7 1571.6 L853.3 1565.8 L854.9 1559.2 L856.5 1551.5 L858.2 1542.8 L859.8 1533.1 L861.4 1522.2 L863.0 1510.2 L864.6 1497.1 L866.2 1482.9 L867.8 1467.7 L869.4 1451.7 L871.1 1434.9 L872.7 1417.5 L874.3 1399.8 L875.9 1382.1 L877.5 1364.4 L879.1 1347.3 L880.7 1330.8 L882.3 1315.5 L884.0 1301.4 L885.6 1289.0 L887.2 1278.4 L888.8 1270.0 L890.4 1263.8 L892.0 1260.0 L893.6 1258.8 L895.2 1260.0 L896.9 1263.8 L898.5 1270.0 L900.1 1278.4 L901.7 1289.0 L903.3 1301.4 L904.9 1315.5 L906.5 1330.8 L908.1 1347.3 L909.8 1364.4 L911.4 1382.1 L913.0 1399.8 L914.6 1417.5 L916.2 1434.9 L917.8 1451.7 L919.4 1467.7 L921.0 1482.9 L922.7 1497.1 L924.3 1510.2 L925.9 1522.2 L927.5 1533.1 L929.1 1542.8 L930.7 1551.5 L932.3 1559.2 L933.9 1565.8 L935.6 1571.6 L937.2 1576.5 L938.8 1580.7 L940.4 1584.2 L942.0 1587.2 L943.6 1589.6 L945.2 1591.6 L946.8 1593.2 L948.5 1594.6 L950.1 1595.6 L951.7 1596.4 L953.3 1597.1 L954.9 1597.6 L956.5 1598.0 L958.1 1598.3 L959.7 1598.5 L961.4 1598.7 L963.0 1598.8 L964.6 1598.9 L966.2 1599.0 L967.8 1599.1 L969.4 1599.1 L971.0 1599.1 L972.6 1599.2 L974.3 1599.2 L975.9 1599.2 L977.5 1599.2 L979.1 1599.2 L980.7 1599.2 L982.3 1599.2 L983.9 1599.2 L985.5 1599.2 L987.2 1599.2" stroke="#0b3d5e" stroke-width="4.20" fill="none" stroke-opacity="0.5" stroke-linejoin="round"/>
<path d="M882.3 1599.2 L884.0 1599.2 L885.6 1599.2 L887.2 1599.2 L888.8 1599.2 L890.4 1599.2 L892.0 1599.2 L893.6 1599.2 L895.2 1599.2 L896.9 1599.2 L898.5 1599.2 L900.1 1599.2 L901.7 1599.2 L903.3 1599.2 L904.9 1599.2 L906.5 1599.2 L908.1 1599.2 L909.8 1599.2 L911.4 1599.1 L913.0 1599.1 L914.6 1599.1 L916.2 1599.1 L917.8 1599.0 L919.4 1599.0 L921.0 1598.9 L922.7 1598.8 L924.3 1598.7 L925.9 1598.6 L927.5 1598.5 L929.1 1598.3 L930.7 1598.1 L932.3 1597.9 L933.9 1597.6 L935.6 1597.2 L937.2 1596.8 L938.8 1596.3 L940.4 1595.8 L942.0 1595.1 L943.6 1594.4 L945.2 1593.6 L946.8 1592.7 L948.5 1591.6 L950.1 1590.4 L951.7 1589.2 L953.3 1587.7 L954.9 1586.2 L956.5 1584.5 L958.1 1582.7 L959.7 1580.8 L961.4 1578.8 L963.0 1576.7 L964.6 1574.5 L966.2 1572.2 L967.8 1569.9 L969.4 1567.6 L971.0 1565.3 L972.6 1562.9 L974.3 1560.7 L975.9 1558.5 L977.5 1556.5 L979.1 1554.5 L980.7 1552.8 L982.3 1551.2 L983.9 1549.9 L985.5 1548.8 L987.2 1548.0 L988.8 1547.4 L990.4 1547.1 L992.0 1547.1 L993.6 1547.4 L995.2 1548.0 L996.8 1548.8 L998.4 1549.9 L1000.1 1551.2 L1001.7 1552.8 L1003.3 1554.5 L1004.9 1556.5 L1006.5 1558.5 L1008.1 1560.7 L1009.7 1562.9 L1011.3 1565.3 L1013.0 1567.6 L1014.6 1569.9 L1016.2 1572.2 L1017.8 1574.5 L1019.4 1576.7 L1021.0 1578.8 L1022.6 1580.8 L1024.2 1582.7 L1025.9 1584.5 L1027.5 1586.2 L1029.1 1587.7 L1030.7 1589.2 L1032.3 1590.4 L1033.9 1591.6 L1035.5 1592.7 L1037.1 1593.6 L1038.8 1594.4 L1040.4 1595.1 L1042.0 1595.8 L1043.6 1596.3 L1045.2 1596.8 L1046.8 1597.2 L1048.4 1597.6 L1050.0 1597.9 L1051.7 1598.1 L1053.3 1598.3 L1054.9 1598.5 L1056.5 1598.6 L1058.1 1598.7 L1059.7 1598.8 L1061.3 1598.9 L1062.9 1599.0 L1064.6 1599.0 L1066.2 1599.1 L1067.8 1599.1 L1069.4 1599.1 L1071.0 1599.1 L1072.6 1599.2 L1074.2 1599.2 L1075.8 1599.2 L1077.5 1599.2 L1079.1 1599.2 L1080.7 1599.2 L1082.3 1599.2 L1083.9 1599.2 L1085.5 1599.2 L1087.1 1599.2 L1088.7 1599.2 L1090.4 1599.2 L1092.0 1599.2 L1093.6 1599.2 L1095.2 1599.2 L1096.8 1599.2 L1098.4 1599.2 L1100.0 1599.2" stroke="#0b3d5e" stroke-width="4.20" fill="none" stroke-opacity="0.5" stroke-linejoin="round"/>
<path d="M946.8 1599.2 L948.5 1599.2 L950.1 1599.2 L951.7 1599.2 L953.3 1599.2 L954.9 1599.2 L956.5 1599.2 L958.1 1599.2 L959.7 1599.2 L961.4 1599.2 L963.0 1599.2 L964.6 1599.2 L966.2 1599.2 L967.8 1599.2 L969.4 1599.2 L971.0 1599.1 L972.6 1599.1 L974.3 1599.1 L975.9 1599.1 L977.5 1599.0 L979.1 1599.0 L980.7 1598.9 L982.3 1598.9 L983.9 1598.8 L985.5 1598.7 L987.2 1598.6 L988.8 1598.4 L990.4 1598.2 L992.0 1598.0 L993.6 1597.7 L995.2 1597.4 L996.8 1597.0 L998.4 1596.5 L1000.1 1596.0 L1001.7 1595.3 L1003.3 1594.6 L1004.9 1593.7 L1006.5 1592.7 L1008.1 1591.5 L1009.7 1590.2 L1011.3 1588.7 L1013.0 1586.9 L1014.6 1585.0 L1016.2 1582.8 L1017.8 1580.3 L1019.4 1577.6 L1021.0 1574.6 L1022.6 1571.3 L1024.2 1567.7 L1025.9 1563.8 L1027.5 1559.6 L1029.1 1555.0 L1030.7 1550.2 L1032.3 1545.0 L1033.9 1539.6 L1035.5 1533.9 L1037.1 1527.9 L1038.8 1521.8 L1040.4 1515.5 L1042.0 1509.1 L1043.6 1502.6 L1045.2 1496.0 L1046.8 1489.5 L1048.4 1483.1 L1050.0 1476.9 L1051.7 1470.9 L1053.3 1465.2 L1054.9 1459.8 L1056.5 1454.8 L1058.1 1450.3 L1059.7 1446.3 L1061.3 1442.9 L1062.9 1440.1 L1064.6 1437.9 L1066.2 1436.5 L1067.8 1435.7 L1069.4 1435.6 L1071.0 1436.3 L1072.6 1437.6 L1074.2 1439.6 L1075.8 1442.3 L1077.5 1445.6 L1079.1 1449.4 L1080.7 1453.9 L1082.3 1458.7 L1083.9 1464.0 L1085.5 1469.7 L1087.1 1475.7 L1088.7 1481.9 L1090.4 1488.3 L1092.0 1494.7 L1093.6 1501.3 L1095.2 1507.8 L1096.8 1514.2 L1098.4 1520.6 L1100.0 1526.7 L1101.6 1532.7 L1103.3 1538.5 L1104.9 1544.0 L1106.5 1549.2 L1108.1 1554.1 L1109.7 1558.7 L1111.3 1563.0 L1112.9 1567.0 L1114.6 1570.6 L1116.2 1574.0 L1117.8 1577.1 L1119.4 1579.8 L1121.0 1582.3 L1122.6 1584.6 L1124.2 1586.6 L1125.8 1588.3 L1127.5 1589.9 L1129.1 1591.3 L1130.7 1592.5 L1132.3 1593.5 L1133.9 1594.4 L1135.5 1595.2 L1137.1 1595.9 L1138.7 1596.4 L1140.4 1596.9 L1142.0 1597.3 L1143.6 1597.6 L1145.2 1597.9 L1146.8 1598.2 L1148.4 1598.4 L1150.0 1598.5 L1151.6 1598.7 L1153.3 1598.8 L1154.9 1598.9 L1156.5 1598.9 L1158.1 1599.0 L1159.7 1599.0 L1161.3 1599.1 L1162.9 1599.1 L1164.5 1599.1 L1166.2 1599.1 L1167.8 1599.2 L1169.4 1599.2 L1171.0 1599.2 L1172.6 1599.2 L1174.2 1599.2 L1175.8 1599.2 L1177.4 1599.2 L1179.1 1599.2 L1180.7 1599.2 L1182.3 1599.2 L1183.9 1599.2 L1185.5 1599.2 L1187.1 1599.2 L1188.7 1599.2 L1190.3 1599.2" stroke="#0b3d5e" stroke-width="4.20" fill="none" stroke-opacity="0.5" stroke-linejoin="round"/>
<path d="M966.2 1599.2 L967.8 1599.2 L969.4 1599.2 L971.0 1599.2 L972.6 1599.2 L974.3 1599.2 L975.9 1599.2 L977.5 1599.2 L979.1 1599.2 L980.7 1599.2 L982.3 1599.2 L983.9 1599.2 L985.5 1599.2 L987.2 1599.2 L988.8 1599.2 L990.4 1599.2 L992.0 1599.2 L993.6 1599.2 L995.2 1599.2 L996.8 1599.2 L998.4 1599.2 L1000.1 1599.1 L1001.7 1599.1 L1003.3 1599.1 L1004.9 1599.1 L1006.5 1599.1 L1008.1 1599.0 L1009.7 1599.0 L1011.3 1599.0 L1013.0 1598.9 L1014.6 1598.9 L1016.2 1598.8 L1017.8 1598.7 L1019.4 1598.6 L1021.0 1598.5 L1022.6 1598.4 L1024.2 1598.3 L1025.9 1598.1 L1027.5 1597.9 L1029.1 1597.7 L1030.7 1597.4 L1032.3 1597.1 L1033.9 1596.8 L1035.5 1596.4 L1037.1 1596.0 L1038.8 1595.5 L1040.4 1595.0 L1042.0 1594.3 L1043.6 1593.7 L1045.2 1592.9 L1046.8 1592.1 L1048.4 1591.1 L1050.0 1590.1 L1051.7 1589.0 L1053.3 1587.8 L1054.9 1586.5 L1056.5 1585.0 L1058.1 1583.5 L1059.7 1581.9 L1061.3 1580.1 L1062.9 1578.2 L1064.6 1576.2 L1066.2 1574.1 L1067.8 1571.8 L1069.4 1569.5 L1071.0 1567.1 L1072.6 1564.6 L1074.2 1562.0 L1075.8 1559.3 L1077.5 1556.5 L1079.1 1553.8 L1080.7 1550.9 L1082.3 1548.1 L1083.9 1545.3 L1085.5 1542.4 L1087.1 1539.7 L1088.7 1536.9 L1090.4 1534.3 L1092.0 1531.7 L1093.6 1529.3 L1095.2 1527.0 L1096.8 1524.8 L1098.4 1522.9 L1100.0 1521.1 L1101.6 1519.5 L1103.3 1518.1 L1104.9 1517.0 L1106.5 1516.1 L1108.1 1515.5 L1109.7 1515.1 L1111.3 1514.9 L1112.9 1515.1 L1114.6 1515.5 L1116.2 1516.1 L1117.8 1517.0 L1119.4 1518.1 L1121.0 1519.5 L1122.6 1521.1 L1124.2 1522.9 L1125.8 1524.8 L1127.5 1527.0 L1129.1 1529.3 L1130.7 1531.7 L1132.3 1534.3 L1133.9 1536.9 L1135.5 1539.7 L1137.1 1542.4 L1138.7 1545.3 L1140.4 1548.1 L1142.0 1550.9 L1143.6 1553.8 L1145.2 1556.5 L1146.8 1559.3 L1148.4 1562.0 L1150.0 1564.6 L1151.6 1567.1 L1153.3 1569.5 L1154.9 1571.8 L1156.5 1574.1 L1158.1 1576.2 L1159.7 1578.2 L1161.3 1580.1 L1162.9 1581.9 L1164.5 1583.5 L1166.2 1585.0 L1167.8 1586.5 L1169.4 1587.8 L1171.0 1589.0 L1172.6 1590.1 L1174.2 1591.1 L1175.8 1592.1 L1177.4 1592.9 L1179.1 1593.7 L1180.7 1594.3 L1182.3 1595.0 L1183.9 1595.5 L1185.5 1596.0 L1187.1 1596.4 L1188.7 1596.8 L1190.3 1597.1 L1192.0 1597.4 L1193.6 1597.7 L1195.2 1597.9 L1196.8 1598.1 L1198.4 1598.3 L1200.0 1598.4 L1201.6 1598.5 L1203.2 1598.6 L1204.9 1598.7 L1206.5 1598.8 L1208.1 1598.9 L1209.7 1598.9 L1211.3 1599.0 L1212.9 1599.0 L1214.5 1599.0 L1216.1 1599.1 L1217.8 1599.1 L1219.4 1599.1 L1221.0 1599.1 L1222.6 1599.1 L1224.2 1599.2 L1225.8 1599.2 L1227.4 1599.2 L1229.0 1599.2 L1230.7 1599.2 L1232.3 1599.2 L1233.9 1599.2 L1235.5 1599.2 L1237.1 1599.2 L1238.7 1599.2 L1240.3 1599.2 L1241.9 1599.2 L1243.6 1599.2 L1245.2 1599.2 L1246.8 1599.2 L1248.4 1599.2 L1250.0 1599.2 L1251.6 1599.2 L1253.2 1599.2 L1254.8 1599.2 L1256.5 1599.2" stroke="#0b3d5e" stroke-width="4.20" fill="none" stroke-opacity="0.5" stroke-linejoin="round"/>
<path d="M990.4 1599.2 L992.0 1599.2 L993.6 1599.2 L995.2 1599.2 L996.8 1599.2 L998.4 1599.2 L1000.1 1599.2 L1001.7 1599.2 L1003.3 1599.2 L1004.9 1599.2 L1006.5 1599.2 L1008.1 1599.2 L1009.7 1599.2 L1011.3 1599.2 L1013.0 1599.2 L1014.6 1599.2 L1016.2 1599.2 L1017.8 1599.2 L1019.4 1599.2 L1021.0 1599.2 L1022.6 1599.2 L1024.2 1599.2 L1025.9 1599.2 L1027.5 1599.2 L1029.1 1599.1 L1030.7 1599.1 L1032.3 1599.1 L1033.9 1599.1 L1035.5 1599.1 L1037.1 1599.1 L1038.8 1599.0 L1040.4 1599.0 L1042.0 1599.0 L1043.6 1598.9 L1045.2 1598.9 L1046.8 1598.8 L1048.4 1598.8 L1050.0 1598.7 L1051.7 1598.6 L1053.3 1598.5 L1054.9 1598.4 L1056.5 1598.2 L1058.1 1598.1 L1059.7 1597.9 L1061.3 1597.7 L1062.9 1597.5 L1064.6 1597.3 L1066.2 1597.0 L1067.8 1596.7 L1069.4 1596.4 L1071.0 1596.0 L1072.6 1595.6 L1074.2 1595.1 L1075.8 1594.6 L1077.5 1594.0 L1079.1 1593.4 L1080.7 1592.8 L1082.3 1592.0 L1083.9 1591.2 L1085.5 1590.3 L1087.1 1589.4 L1088.7 1588.4 L1090.4 1587.3 L1092.0 1586.1 L1093.6 1584.9 L1095.2 1583.5 L1096.8 1582.1 L1098.4 1580.6 L1100.0 1579.0 L1101.6 1577.3 L1103.3 1575.6 L1104.9 1573.7 L1106.5 1571.8 L1108.1 1569.8 L1109.7 1567.8 L1111.3 1565.7 L1112.9 1563.5 L1114.6 1561.2 L1116.2 1559.0 L1117.8 1556.6 L1119.4 1554.3 L1121.0 1551.9 L1122.6 1549.6 L1124.2 1547.2 L1125.8 1544.9 L1127.5 1542.6 L1129.1 1540.3 L1130.7 1538.1 L1132.3 1535.9 L1133.9 1533.9 L1135.5 1531.9 L1137.1 1530.0 L1138.7 1528.3 L1140.4 1526.7 L1142.0 1525.2 L1143.6 1523.9 L1145.2 1522.7 L1146.8 1521.7 L1148.4 1520.8 L1150.0 1520.2 L1151.6 1519.7 L1153.3 1519.4 L1154.9 1519.3 L1156.5 1519.4 L1158.1 1519.7 L1159.7 1520.2 L1161.3 1520.8 L1162.9 1521.7 L1164.5 1522.7 L1166.2 1523.9 L1167.8 1525.2 L1169.4 1526.7 L1171.0 1528.3 L1172.6 1530.0 L1174.2 1531.9 L1175.8 1533.9 L1177.4 1535.9 L1179.1 1538.1 L1180.7 1540.3 L1182.3 1542.6 L1183.9 1544.9 L1185.5 1547.2 L1187.1 1549.6 L1188.7 1551.9 L1190.3 1554.3 L1192.0 1556.6 L1193.6 1559.0 L1195.2 1561.2 L1196.8 1563.5 L1198.4 1565.7 L1200.0 1567.8 L1201.6 1569.8 L1203.2 1571.8 L1204.9 1573.7 L1206.5 1575.6 L1208.1 1577.3 L1209.7 1579.0 L1211.3 1580.6 L1212.9 1582.1 L1214.5 1583.5 L1216.1 1584.9 L1217.8 1586.1 L1219.4 1587.3 L1221.0 1588.4 L1222.6 1589.4 L1224.2 1590.3 L1225.8 1591.2 L1227.4 1592.0 L1229.0 1592.8 L1230.7 1593.4 L1232.3 1594.0 L1233.9 1594.6 L1235.5 1595.1 L1237.1 1595.6 L1238.7 1596.0 L1240.3 1596.4 L1241.9 1596.7 L1243.6 1597.0 L1245.2 1597.3 L1246.8 1597.5 L1248.4 1597.7 L1250.0 1597.9 L1251.6 1598.1 L1253.2 1598.2 L1254.8 1598.4 L1256.5 1598.5 L1258.1 1598.6 L1259.7 1598.7 L1261.3 1598.8 L1262.9 1598.8 L1264.5 1598.9 L1266.1 1598.9 L1267.7 1599.0 L1269.4 1599.0 L1271.0 1599.0 L1272.6 1599.1 L1274.2 1599.1 L1275.8 1599.1 L1277.4 1599.1 L1279.0 1599.1 L1280.6 1599.1 L1282.3 1599.2 L1283.9 1599.2 L1285.5 1599.2 L1287.1 1599.2 L1288.7 1599.2 L1290.3 1599.2 L1291.9 1599.2 L1293.5 1599.2 L1295.2 1599.2 L1296.8 1599.2 L1298.4 1599.2 L1300.0 1599.2 L1301.6 1599.2 L1303.2 1599.2 L1304.8 1599.2 L1306.4 1599.2 L1308.1 1599.2 L1309.7 1599.2 L1311.3 1599.2 L1312.9 1599.2 L1314.5 1599.2 L1316.1 1599.2 L1317.7 1599.2 L1319.3 1599.2" stroke="#0b3d5e" stroke-width="4.20" fill="none" stroke-opacity="0.5" stroke-linejoin="round"/>
<path d="M1069.4 1599.2 L1071.0 1599.2 L1072.6 1599.2 L1074.2 1599.2 L1075.8 1599.2 L1077.5 1599.2 L1079.1 1599.2 L1080.7 1599.2 L1082.3 1599.2 L1083.9 1599.2 L1085.5 1599.2 L1087.1 1599.2 L1088.7 1599.2 L1090.4 1599.2 L1092.0 1599.2 L1093.6 1599.2 L1095.2 1599.2 L1096.8 1599.2 L1098.4 1599.2 L1100.0 1599.2 L1101.6 1599.2 L1103.3 1599.2 L1104.9 1599.2 L1106.5 1599.2 L1108.1 1599.2 L1109.7 1599.2 L1111.3 1599.2 L1112.9 1599.2 L1114.6 1599.2 L1116.2 1599.1 L1117.8 1599.1 L1119.4 1599.1 L1121.0 1599.1 L1122.6 1599.1 L1124.2 1599.1 L1125.8 1599.1 L1127.5 1599.0 L1129.1 1599.0 L1130.7 1599.0 L1132.3 1598.9 L1133.9 1598.9 L1135.5 1598.8 L1137.1 1598.8 L1138.7 1598.7 L1140.4 1598.6 L1142.0 1598.5 L1143.6 1598.4 L1145.2 1598.3 L1146.8 1598.2 L1148.4 1598.1 L1150.0 1597.9 L1151.6 1597.7 L1153.3 1597.6 L1154.9 1597.4 L1156.5 1597.1 L1158.1 1596.9 L1159.7 1596.6 L1161.3 1596.3 L1162.9 1596.0 L1164.5 1595.6 L1166.2 1595.2 L1167.8 1594.8 L1169.4 1594.4 L1171.0 1593.9 L1172.6 1593.4 L1174.2 1592.9 L1175.8 1592.3 L1177.4 1591.7 L1179.1 1591.1 L1180.7 1590.4 L1182.3 1589.7 L1183.9 1589.0 L1185.5 1588.2 L1187.1 1587.5 L1188.7 1586.6 L1190.3 1585.8 L1192.0 1585.0 L1193.6 1584.1 L1195.2 1583.2 L1196.8 1582.4 L1198.4 1581.5 L1200.0 1580.6 L1201.6 1579.7 L1203.2 1578.8 L1204.9 1578.0 L1206.5 1577.1 L1208.1 1576.3 L1209.7 1575.5 L1211.3 1574.8 L1212.9 1574.1 L1214.5 1573.4 L1216.1 1572.8 L1217.8 1572.2 L1219.4 1571.7 L1221.0 1571.3 L1222.6 1570.9 L1224.2 1570.6 L1225.8 1570.3 L1227.4 1570.1 L1229.0 1570.0 L1230.7 1570.0 L1232.3 1570.0 L1233.9 1570.1 L1235.5 1570.3 L1237.1 1570.6 L1238.7 1570.9 L1240.3 1571.3 L1241.9 1571.7 L1243.6 1572.2 L1245.2 1572.8 L1246.8 1573.4 L1248.4 1574.1 L1250.0 1574.8 L1251.6 1575.5 L1253.2 1576.3 L1254.8 1577.1 L1256.5 1578.0 L1258.1 1578.8 L1259.7 1579.7 L1261.3 1580.6 L1262.9 1581.5 L1264.5 1582.4 L1266.1 1583.2 L1267.7 1584.1 L1269.4 1585.0 L1271.0 1585.8 L1272.6 1586.6 L1274.2 1587.5 L1275.8 1588.2 L1277.4 1589.0 L1279.0 1589.7 L1280.6 1590.4 L1282.3 1591.1 L1283.9 1591.7 L1285.5 1592.3 L1287.1 1592.9 L1288.7 1593.4 L1290.3 1593.9 L1291.9 1594.4 L1293.5 1594.8 L1295.2 1595.2 L1296.8 1595.6 L1298.4 1596.0 L1300.0 1596.3 L1301.6 1596.6 L1303.2 1596.9 L1304.8 1597.1 L1306.4 1597.4 L1308.1 1597.6 L1309.7 1597.7 L1311.3 1597.9 L1312.9 1598.1 L1314.5 1598.2 L1316.1 1598.3 L1317.7 1598.4 L1319.3 1598.5 L1321.0 1598.6 L1322.6 1598.7 L1324.2 1598.8 L1325.8 1598.8 L1327.4 1598.9 L1329.0 1598.9 L1330.6 1599.0 L1332.2 1599.0 L1333.9 1599.0 L1335.5 1599.1 L1337.1 1599.1 L1338.7 1599.1 L1340.3 1599.1 L1341.9 1599.1 L1343.5 1599.1 L1345.1 1599.1 L1346.8 1599.2 L1348.4 1599.2 L1350.0 1599.2 L1351.6 1599.2 L1353.2 1599.2 L1354.8 1599.2 L1356.4 1599.2 L1358.0 1599.2 L1359.7 1599.2 L1361.3 1599.2 L1362.9 1599.2 L1364.5 1599.2 L1366.1 1599.2 L1367.7 1599.2 L1369.3 1599.2 L1370.9 1599.2 L1372.6 1599.2 L1374.2 1599.2 L1375.8 1599.2 L1377.4 1599.2 L1379.0 1599.2 L1380.6 1599.2 L1382.2 1599.2 L1383.8 1599.2 L1385.5 1599.2 L1387.1 1599.2 L1388.7 1599.2 L1390.3 1599.2" stroke="#0b3d5e" stroke-width="4.20" fill="none" stroke-opacity="0.5" stroke-linejoin="round"/>
<path d="M1162.9 1599.2 L1164.5 1599.2 L1166.2 1599.2 L1167.8 1599.2 L1169.4 1599.2 L1171.0 1599.2 L1172.6 1599.2 L1174.2 1599.2 L1175.8 1599.2 L1177.4 1599.2 L1179.1 1599.2 L1180.7 1599.2 L1182.3 1599.2 L1183.9 1599.2 L1185.5 1599.2 L1187.1 1599.2 L1188.7 1599.2 L1190.3 1599.2 L1192.0 1599.2 L1193.6 1599.2 L1195.2 1599.2 L1196.8 1599.2 L1198.4 1599.2 L1200.0 1599.2 L1201.6 1599.1 L1203.2 1599.1 L1204.9 1599.1 L1206.5 1599.1 L1208.1 1599.1 L1209.7 1599.1 L1211.3 1599.0 L1212.9 1599.0 L1214.5 1598.9 L1216.1 1598.9 L1217.8 1598.8 L1219.4 1598.7 L1221.0 1598.6 L1222.6 1598.5 L1224.2 1598.4 L1225.8 1598.3 L1227.4 1598.1 L1229.0 1598.0 L1230.7 1597.8 L1232.3 1597.6 L1233.9 1597.3 L1235.5 1597.0 L1237.1 1596.8 L1238.7 1596.4 L1240.3 1596.1 L1241.9 1595.7 L1243.6 1595.3 L1245.2 1594.9 L1246.8 1594.5 L1248.4 1594.0 L1250.0 1593.6 L1251.6 1593.1 L1253.2 1592.6 L1254.8 1592.1 L1256.5 1591.6 L1258.1 1591.1 L1259.7 1590.6 L1261.3 1590.1 L1262.9 1589.6 L1264.5 1589.2 L1266.1 1588.7 L1267.7 1588.4 L1269.4 1588.0 L1271.0 1587.7 L1272.6 1587.5 L1274.2 1587.3 L1275.8 1587.1 L1277.4 1587.1 L1279.0 1587.0 L1280.6 1587.1 L1282.3 1587.1 L1283.9 1587.3 L1285.5 1587.5 L1287.1 1587.7 L1288.7 1588.0 L1290.3 1588.4 L1291.9 1588.7 L1293.5 1589.2 L1295.2 1589.6 L1296.8 1590.1 L1298.4 1590.6 L1300.0 1591.1 L1301.6 1591.6 L1303.2 1592.1 L1304.8 1592.6 L1306.4 1593.1 L1308.1 1593.6 L1309.7 1594.0 L1311.3 1594.5 L1312.9 1594.9 L1314.5 1595.3 L1316.1 1595.7 L1317.7 1596.1 L1319.3 1596.4 L1321.0 1596.8 L1322.6 1597.0 L1324.2 1597.3 L1325.8 1597.6 L1327.4 1597.8 L1329.0 1598.0 L1330.6 1598.1 L1332.2 1598.3 L1333.9 1598.4 L1335.5 1598.5 L1337.1 1598.6 L1338.7 1598.7 L1340.3 1598.8 L1341.9 1598.9 L1343.5 1598.9 L1345.1 1599.0 L1346.8 1599.0 L1348.4 1599.1 L1350.0 1599.1 L1351.6 1599.1 L1353.2 1599.1 L1354.8 1599.1 L1356.4 1599.1 L1358.0 1599.2 L1359.7 1599.2 L1361.3 1599.2 L1362.9 1599.2 L1364.5 1599.2 L1366.1 1599.2 L1367.7 1599.2 L1369.3 1599.2 L1370.9 1599.2 L1372.6 1599.2 L1374.2 1599.2 L1375.8 1599.2 L1377.4 1599.2 L1379.0 1599.2 L1380.6 1599.2 L1382.2 1599.2 L1383.8 1599.2 L1385.5 1599.2 L1387.1 1599.2 L1388.7 1599.2 L1390.3 1599.2" stroke="#0b3d5e" stroke-width="4.20" fill="none" stroke-opacity="0.5" stroke-linejoin="round"/>
<path d="M825.9 1598.7 L827.5 1598.5 L829.1 1598.3 L830.7 1598.0 L832.4 1597.6 L834.0 1597.1 L835.6 1596.4 L837.2 1595.6 L838.8 1594.6 L840.4 1593.2 L842.0 1591.6 L843.6 1589.6 L845.3 1587.2 L846.9 1584.2 L848.5 1580.7 L850.1 1576.5 L851.7 1571.6 L853.3 1565.8 L854.9 1559.2 L856.5 1551.5 L858.2 1542.8 L859.8 1533.1 L861.4 1522.2 L863.0 1510.2 L864.6 1497.1 L866.2 1482.9 L867.8 1467.7 L869.4 1451.7 L871.1 1434.9 L872.7 1417.5 L874.3 1399.8 L875.9 1382.1 L877.5 1364.4 L879.1 1347.3 L880.7 1330.8 L882.3 1315.5 L884.0 1301.4 L885.6 1289.0 L887.2 1278.4 L888.8 1270.0 L890.4 1263.8 L892.0 1260.0 L893.6 1258.8 L895.2 1260.0 L896.9 1263.8 L898.5 1270.0 L900.1 1278.4 L901.7 1289.0 L903.3 1301.4 L904.9 1315.5 L906.5 1330.8 L908.1 1347.3 L909.8 1364.4 L911.4 1382.1 L913.0 1399.8 L914.6 1417.5 L916.2 1434.9 L917.8 1451.7 L919.4 1467.7 L921.0 1482.9 L922.7 1497.1 L924.3 1510.2 L925.9 1522.2 L927.5 1533.1 L929.1 1542.8 L930.7 1551.5 L932.3 1559.2 L933.9 1565.8 L935.6 1571.6 L937.2 1576.5 L938.8 1580.7 L940.4 1584.2 L942.0 1587.2 L943.6 1589.6 L945.2 1591.6 L946.8 1592.7 L948.5 1591.6 L950.1 1590.4 L951.7 1589.2 L953.3 1587.7 L954.9 1586.2 L956.5 1584.5 L958.1 1582.7 L959.7 1580.8 L961.4 1578.8 L963.0 1576.7 L964.6 1574.5 L966.2 1572.2 L967.8 1569.9 L969.4 1567.6 L971.0 1565.3 L972.6 1562.9 L974.3 1560.7 L975.9 1558.5 L977.5 1556.5 L979.1 1554.5 L980.7 1552.8 L982.3 1551.2 L983.9 1549.9 L985.5 1548.8 L987.2 1548.0 L988.8 1547.4 L990.4 1547.1 L992.0 1547.1 L993.6 1547.4 L995.2 1548.0 L996.8 1548.8 L998.4 1549.9 L1000.1 1551.2 L1001.7 1552.8 L1003.3 1554.5 L1004.9 1556.5 L1006.5 1558.5 L1008.1 1560.7 L1009.7 1562.9 L1011.3 1565.3 L1013.0 1567.6 L1014.6 1569.9 L1016.2 1572.2 L1017.8 1574.5 L1019.4 1576.7 L1021.0 1574.6 L1022.6 1571.3 L1024.2 1567.7 L1025.9 1563.8 L1027.5 1559.6 L1029.1 1555.0 L1030.7 1550.2 L1032.3 1545.0 L1033.9 1539.6 L1035.5 1533.9 L1037.1 1527.9 L1038.8 1521.8 L1040.4 1515.5 L1042.0 1509.1 L1043.6 1502.6 L1045.2 1496.0 L1046.8 1489.5 L1048.4 1483.1 L1050.0 1476.9 L1051.7 1470.9 L1053.3 1465.2 L1054.9 1459.8 L1056.5 1454.8 L1058.1 1450.3 L1059.7 1446.3 L1061.3 1442.9 L1062.9 1440.1 L1064.6 1437.9 L1066.2 1436.5 L1067.8 1435.7 L1069.4 1435.6 L1071.0 1436.3 L1072.6 1437.6 L1074.2 1439.6 L1075.8 1442.3 L1077.5 1445.6 L1079.1 1449.4 L1080.7 1453.9 L1082.3 1458.7 L1083.9 1464.0 L1085.5 1469.7 L1087.1 1475.7 L1088.7 1481.9 L1090.4 1488.3 L1092.0 1494.7 L1093.6 1501.3 L1095.2 1507.8 L1096.8 1514.2 L1098.4 1520.6 L1100.0 1521.1 L1101.6 1519.5 L1103.3 1518.1 L1104.9 1517.0 L1106.5 1516.1 L1108.1 1515.5 L1109.7 1515.1 L1111.3 1514.9 L1112.9 1515.1 L1114.6 1515.5 L1116.2 1516.1 L1117.8 1517.0 L1119.4 1518.1 L1121.0 1519.5 L1122.6 1521.1 L1124.2 1522.9 L1125.8 1524.8 L1127.5 1527.0 L1129.1 1529.3 L1130.7 1531.7 L1132.3 1534.3 L1133.9 1533.9 L1135.5 1531.9 L1137.1 1530.0 L1138.7 1528.3 L1140.4 1526.7 L1142.0 1525.2 L1143.6 1523.9 L1145.2 1522.7 L1146.8 1521.7 L1148.4 1520.8 L1150.0 1520.2 L1151.6 1519.7 L1153.3 1519.4 L1154.9 1519.3 L1156.5 1519.4 L1158.1 1519.7 L1159.7 1520.2 L1161.3 1520.8 L1162.9 1521.7 L1164.5 1522.7 L1166.2 1523.9 L1167.8 1525.2 L1169.4 1526.7 L1171.0 1528.3 L1172.6 1530.0 L1174.2 1531.9 L1175.8 1533.9 L1177.4 1535.9 L1179.1 1538.1 L1180.7 1540.3 L1182.3 1542.6 L1183.9 1544.9 L1185.5 1547.2 L1187.1 1549.6 L1188.7 1551.9 L1190.3 1554.3 L1192.0 1556.6 L1193.6 1559.0 L1195.2 1561.2 L1196.8 1563.5 L1198.4 1565.7 L1200.0 1567.8 L1201.6 1569.8 L1203.2 1571.8 L1204.9 1573.7 L1206.5 1575.6 L1208.1 1576.3 L1209.7 1575.5 L1211.3 1574.8 L1212.9 1574.1 L1214.5 1573.4 L1216.1 1572.8 L1217.8 1572.2 L1219.4 1571.7 L1221.0 1571.3 L1222.6 1570.9 L1224.2 1570.6 L1225.8 1570.3 L1227.4 1570.1 L1229.0 1570.0 L1230.7 1570.0 L1232.3 1570.0 L1233.9 1570.1 L1235.5 1570.3 L1237.1 1570.6 L1238.7 1570.9 L1240.3 1571.3 L1241.9 1571.7 L1243.6 1572.2 L1245.2 1572.8 L1246.8 1573.4 L1248.4 1574.1 L1250.0 1574.8 L1251.6 1575.5 L1253.2 1576.3 L1254.8 1577.1 L1256.5 1578.0 L1258.1 1578.8 L1259.7 1579.7 L1261.3 1580.6 L1262.9 1581.5 L1264.5 1582.4 L1266.1 1583.2 L1267.7 1584.1 L1269.4 1585.0 L1271.0 1585.8 L1272.6 1586.6 L1274.2 1587.3 L1275.8 1587.1 L1277.4 1587.1 L1279.0 1587.0 L1280.6 1587.1 L1282.3 1587.1 L1283.9 1587.3 L1285.5 1587.5 L1287.1 1587.7 L1288.7 1588.0 L1290.3 1588.4 L1291.9 1588.7 L1293.5 1589.2 L1295.2 1589.6 L1296.8 1590.1 L1298.4 1590.6 L1300.0 1591.1 L1301.6 1591.6 L1303.2 1592.1 L1304.8 1592.6 L1306.4 1593.1 L1308.1 1593.6 L1309.7 1594.0 L1311.3 1594.5 L1312.9 1594.9 L1314.5 1595.3 L1316.1 1595.7 L1317.7 1596.1 L1319.3 1596.4 L1321.0 1596.8 L1322.6 1597.0 L1324.2 1597.3 L1325.8 1597.6 L1327.4 1597.8 L1329.0 1598.0 L1330.6 1598.1 L1332.2 1598.3 L1333.9 1598.4 L1335.5 1598.5 L1337.1 1598.6 L1338.7 1598.7 L1340.3 1598.8 L1341.9 1598.9 L1343.5 1598.9 L1345.1 1599.0 L1346.8 1599.0 L1348.4 1599.1 L1350.0 1599.1 L1351.6 1599.1 L1353.2 1599.1 L1354.8 1599.1 L1356.4 1599.1 L1358.0 1599.2 L1359.7 1599.2 L1361.3 1599.2 L1362.9 1599.2 L1364.5 1599.2 L1366.1 1599.2 L1367.7 1599.2 L1369.3 1599.2 L1370.9 1599.2 L1372.6 1599.2 L1374.2 1599.2 L1375.8 1599.2 L1377.4 1599.2 L1379.0 1599.2 L1380.6 1599.2 L1382.2 1599.2 L1383.8 1599.2 L1385.5 1599.2 L1387.1 1599.2 L1388.7 1599.2 L1390.3 1599.2" stroke="#0b3d5e" stroke-width="4.40" fill="none" stroke-linejoin="round" stroke-linecap="butt"/>
<text x="913.8" y="1188.5" font-size="19.70" text-anchor="middle" fill="#174564">42</text>
<text x="913.8" y="1209.8" font-size="19.70" text-anchor="middle" fill="#174564">σ 12.2</text>
<text x="913.8" y="1227.9" font-size="19.70" text-anchor="middle" fill="#174564">3878 counts (44%)</text>
<text x="1068.9" y="1246.4" font-size="19.70" text-anchor="middle" fill="#174564">151</text>
<text x="1068.9" y="1267.7" font-size="19.70" text-anchor="middle" fill="#174564">σ 15.7</text>
<text x="1068.9" y="1285.8" font-size="19.70" text-anchor="middle" fill="#174564">2400 counts (27%)</text>
<text x="1124.0" y="1320.0" font-size="19.70" text-anchor="middle" fill="#174564">177</text>
<text x="1124.0" y="1341.3" font-size="19.70" text-anchor="middle" fill="#174564">σ 18.9</text>
<text x="1124.0" y="1359.4" font-size="19.70" text-anchor="middle" fill="#174564">1497 counts (17%)</text>
<text x="992.5" y="1362.4" font-size="19.70" text-anchor="middle" fill="#174564">103</text>
<text x="992.5" y="1383.7" font-size="19.70" text-anchor="middle" fill="#174564">σ 14.1</text>
<text x="992.5" y="1401.8" font-size="19.70" text-anchor="middle" fill="#174564">724 counts (8%)</text>
<text x="1161.0" y="1388.8" font-size="19.70" text-anchor="middle" fill="#174564">204</text>
<text x="1161.0" y="1410.1" font-size="19.70" text-anchor="middle" fill="#174564">σ 21</text>
<text x="1161.0" y="1428.2" font-size="19.70" text-anchor="middle" fill="#174564">1570 counts (18%)</text>
<text x="1239.9" y="1457.7" font-size="19.70" text-anchor="middle" fill="#174564">251</text>
<text x="1239.9" y="1479.0" font-size="19.70" text-anchor="middle" fill="#174564">σ 20</text>
<text x="1239.9" y="1497.1" font-size="19.70" text-anchor="middle" fill="#174564">546 counts (6%)</text>
<text x="1300.8" y="1518.5" font-size="19.70" text-anchor="middle" fill="#174564">281</text>
<text x="1300.8" y="1539.8" font-size="19.70" text-anchor="middle" fill="#174564">σ 14.5</text>
<text x="1300.8" y="1557.9" font-size="19.70" text-anchor="middle" fill="#174564">187 counts (2%)</text>
<text x="1389.6" y="1203.3" font-size="21.00" text-anchor="end">APIC-4x <tspan font-family="'Liberation Serif',serif" font-size="24.4" letter-spacing="0.6">α</tspan>CD79 - CTSS</text>
<text x="755.0" y="1392.8" font-size="20.70" text-anchor="middle" transform="rotate(-90 755.0 1392.8)">Normalized counts</text>
<text x="1109.5" y="1650.0" font-size="21.00" text-anchor="middle">Mass (kDa)</text>
</g>
<g>
<line x1="1553.00" y1="1177.40" x2="1553.00" y2="1600.60" stroke="#231f20" stroke-width="3.40" />
<line x1="1551.30" y1="1598.90" x2="2119.30" y2="1598.90" stroke="#231f20" stroke-width="3.40" />
<line x1="1545.80" y1="1598.90" x2="1553.00" y2="1598.90" stroke="#231f20" stroke-width="3.20" />
<text x="1537.8" y="1606.2" font-size="20.70" text-anchor="end">0.00</text>
<line x1="1548.60" y1="1580.38" x2="1553.00" y2="1580.38" stroke="#231f20" stroke-width="2.30" />
<line x1="1548.60" y1="1561.86" x2="1553.00" y2="1561.86" stroke="#231f20" stroke-width="2.30" />
<line x1="1548.60" y1="1543.34" x2="1553.00" y2="1543.34" stroke="#231f20" stroke-width="2.30" />
<line x1="1548.60" y1="1524.82" x2="1553.00" y2="1524.82" stroke="#231f20" stroke-width="2.30" />
<line x1="1545.80" y1="1506.30" x2="1553.00" y2="1506.30" stroke="#231f20" stroke-width="3.20" />
<text x="1537.8" y="1513.6" font-size="20.70" text-anchor="end">0.02</text>
<line x1="1548.60" y1="1487.78" x2="1553.00" y2="1487.78" stroke="#231f20" stroke-width="2.30" />
<line x1="1548.60" y1="1469.26" x2="1553.00" y2="1469.26" stroke="#231f20" stroke-width="2.30" />
<line x1="1548.60" y1="1450.74" x2="1553.00" y2="1450.74" stroke="#231f20" stroke-width="2.30" />
<line x1="1548.60" y1="1432.22" x2="1553.00" y2="1432.22" stroke="#231f20" stroke-width="2.30" />
<line x1="1545.80" y1="1413.70" x2="1553.00" y2="1413.70" stroke="#231f20" stroke-width="3.20" />
<text x="1537.8" y="1421.0" font-size="20.70" text-anchor="end">0.04</text>
<line x1="1548.60" y1="1395.18" x2="1553.00" y2="1395.18" stroke="#231f20" stroke-width="2.30" />
<line x1="1548.60" y1="1376.66" x2="1553.00" y2="1376.66" stroke="#231f20" stroke-width="2.30" />
<line x1="1548.60" y1="1358.14" x2="1553.00" y2="1358.14" stroke="#231f20" stroke-width="2.30" />
<line x1="1548.60" y1="1339.62" x2="1553.00" y2="1339.62" stroke="#231f20" stroke-width="2.30" />
<line x1="1545.80" y1="1321.10" x2="1553.00" y2="1321.10" stroke="#231f20" stroke-width="3.20" />
<text x="1537.8" y="1328.4" font-size="20.70" text-anchor="end">0.06</text>
<line x1="1548.60" y1="1302.58" x2="1553.00" y2="1302.58" stroke="#231f20" stroke-width="2.30" />
<line x1="1548.60" y1="1284.06" x2="1553.00" y2="1284.06" stroke="#231f20" stroke-width="2.30" />
<line x1="1548.60" y1="1265.54" x2="1553.00" y2="1265.54" stroke="#231f20" stroke-width="2.30" />
<line x1="1548.60" y1="1247.02" x2="1553.00" y2="1247.02" stroke="#231f20" stroke-width="2.30" />
<line x1="1545.80" y1="1228.50" x2="1553.00" y2="1228.50" stroke="#231f20" stroke-width="3.20" />
<text x="1537.8" y="1235.8" font-size="20.70" text-anchor="end">0.08</text>
<line x1="1548.60" y1="1209.98" x2="1553.00" y2="1209.98" stroke="#231f20" stroke-width="2.30" />
<line x1="1548.60" y1="1191.46" x2="1553.00" y2="1191.46" stroke="#231f20" stroke-width="2.30" />
<line x1="1553.00" y1="1598.90" x2="1553.00" y2="1606.30" stroke="#231f20" stroke-width="3.40" />
<text x="1553.0" y="1630.7" font-size="20.70" text-anchor="middle">0</text>
<line x1="1569.14" y1="1598.90" x2="1569.14" y2="1603.70" stroke="#231f20" stroke-width="2.40" />
<line x1="1585.29" y1="1598.90" x2="1585.29" y2="1603.70" stroke="#231f20" stroke-width="2.40" />
<line x1="1601.43" y1="1598.90" x2="1601.43" y2="1603.70" stroke="#231f20" stroke-width="2.40" />
<line x1="1617.57" y1="1598.90" x2="1617.57" y2="1603.70" stroke="#231f20" stroke-width="2.40" />
<line x1="1633.71" y1="1598.90" x2="1633.71" y2="1606.30" stroke="#231f20" stroke-width="3.40" />
<text x="1633.7" y="1630.7" font-size="20.70" text-anchor="middle">50</text>
<line x1="1649.86" y1="1598.90" x2="1649.86" y2="1603.70" stroke="#231f20" stroke-width="2.40" />
<line x1="1666.00" y1="1598.90" x2="1666.00" y2="1603.70" stroke="#231f20" stroke-width="2.40" />
<line x1="1682.14" y1="1598.90" x2="1682.14" y2="1603.70" stroke="#231f20" stroke-width="2.40" />
<line x1="1698.29" y1="1598.90" x2="1698.29" y2="1603.70" stroke="#231f20" stroke-width="2.40" />
<line x1="1714.43" y1="1598.90" x2="1714.43" y2="1606.30" stroke="#231f20" stroke-width="3.40" />
<text x="1714.4" y="1630.7" font-size="20.70" text-anchor="middle">100</text>
<line x1="1730.57" y1="1598.90" x2="1730.57" y2="1603.70" stroke="#231f20" stroke-width="2.40" />
<line x1="1746.71" y1="1598.90" x2="1746.71" y2="1603.70" stroke="#231f20" stroke-width="2.40" />
<line x1="1762.86" y1="1598.90" x2="1762.86" y2="1603.70" stroke="#231f20" stroke-width="2.40" />
<line x1="1779.00" y1="1598.90" x2="1779.00" y2="1603.70" stroke="#231f20" stroke-width="2.40" />
<line x1="1795.14" y1="1598.90" x2="1795.14" y2="1606.30" stroke="#231f20" stroke-width="3.40" />
<text x="1795.1" y="1630.7" font-size="20.70" text-anchor="middle">150</text>
<line x1="1811.29" y1="1598.90" x2="1811.29" y2="1603.70" stroke="#231f20" stroke-width="2.40" />
<line x1="1827.43" y1="1598.90" x2="1827.43" y2="1603.70" stroke="#231f20" stroke-width="2.40" />
<line x1="1843.57" y1="1598.90" x2="1843.57" y2="1603.70" stroke="#231f20" stroke-width="2.40" />
<line x1="1859.71" y1="1598.90" x2="1859.71" y2="1603.70" stroke="#231f20" stroke-width="2.40" />
<line x1="1875.86" y1="1598.90" x2="1875.86" y2="1606.30" stroke="#231f20" stroke-width="3.40" />
<text x="1875.9" y="1630.7" font-size="20.70" text-anchor="middle">200</text>
<line x1="1892.00" y1="1598.90" x2="1892.00" y2="1603.70" stroke="#231f20" stroke-width="2.40" />
<line x1="1908.14" y1="1598.90" x2="1908.14" y2="1603.70" stroke="#231f20" stroke-width="2.40" />
<line x1="1924.29" y1="1598.90" x2="1924.29" y2="1603.70" stroke="#231f20" stroke-width="2.40" />
<line x1="1940.43" y1="1598.90" x2="1940.43" y2="1603.70" stroke="#231f20" stroke-width="2.40" />
<line x1="1956.57" y1="1598.90" x2="1956.57" y2="1606.30" stroke="#231f20" stroke-width="3.40" />
<text x="1956.6" y="1630.7" font-size="20.70" text-anchor="middle">250</text>
<line x1="1972.71" y1="1598.90" x2="1972.71" y2="1603.70" stroke="#231f20" stroke-width="2.40" />
<line x1="1988.86" y1="1598.90" x2="1988.86" y2="1603.70" stroke="#231f20" stroke-width="2.40" />
<line x1="2005.00" y1="1598.90" x2="2005.00" y2="1603.70" stroke="#231f20" stroke-width="2.40" />
<line x1="2021.14" y1="1598.90" x2="2021.14" y2="1603.70" stroke="#231f20" stroke-width="2.40" />
<line x1="2037.29" y1="1598.90" x2="2037.29" y2="1606.30" stroke="#231f20" stroke-width="3.40" />
<text x="2037.3" y="1630.7" font-size="20.70" text-anchor="middle">300</text>
<line x1="2053.43" y1="1598.90" x2="2053.43" y2="1603.70" stroke="#231f20" stroke-width="2.40" />
<line x1="2069.57" y1="1598.90" x2="2069.57" y2="1603.70" stroke="#231f20" stroke-width="2.40" />
<line x1="2085.71" y1="1598.90" x2="2085.71" y2="1603.70" stroke="#231f20" stroke-width="2.40" />
<line x1="2101.86" y1="1598.90" x2="2101.86" y2="1603.70" stroke="#231f20" stroke-width="2.40" />
<line x1="2118.00" y1="1598.90" x2="2118.00" y2="1606.30" stroke="#231f20" stroke-width="3.40" />
<text x="2118.0" y="1630.7" font-size="20.70" text-anchor="middle">350</text>
<path d="M1588.2 1600.6 L1588.2 1537.8 L1597.0 1537.8 L1597.0 1338.7 L1605.9 1338.7 L1605.9 1249.3 L1614.7 1249.3 L1614.7 1283.1 L1623.5 1283.1 L1623.5 1361.8 L1632.4 1361.8 L1632.4 1428.1 L1641.2 1428.1 L1641.2 1501.7 L1650.1 1501.7 L1650.1 1514.6 L1658.9 1514.6 L1658.9 1547.5 L1667.7 1547.5 L1667.7 1547.5 L1676.6 1547.5 L1676.6 1551.2 L1685.4 1551.2 L1685.4 1566.0 L1694.2 1566.0 L1694.2 1575.3 L1703.1 1575.3 L1703.1 1570.7 L1711.9 1570.7 L1711.9 1571.6 L1720.7 1571.6 L1720.7 1561.4 L1729.6 1561.4 L1729.6 1572.5 L1738.4 1572.5 L1738.4 1565.1 L1747.2 1565.1 L1747.2 1558.2 L1756.1 1558.2 L1756.1 1537.8 L1764.9 1537.8 L1764.9 1517.4 L1773.8 1517.4 L1773.8 1485.9 L1782.6 1485.9 L1782.6 1447.0 L1791.4 1447.0 L1791.4 1426.2 L1800.3 1426.2 L1800.3 1440.1 L1809.1 1440.1 L1809.1 1458.1 L1817.9 1458.1 L1817.9 1473.0 L1826.8 1473.0 L1826.8 1485.9 L1835.6 1485.9 L1835.6 1507.7 L1844.4 1507.7 L1844.4 1517.4 L1853.3 1517.4 L1853.3 1533.6 L1862.1 1533.6 L1862.1 1537.3 L1871.0 1537.3 L1871.0 1540.6 L1879.8 1540.6 L1879.8 1549.8 L1888.6 1549.8 L1888.6 1557.7 L1897.5 1557.7 L1897.5 1573.4 L1906.3 1573.4 L1906.3 1567.9 L1915.1 1567.9 L1915.1 1574.8 L1924.0 1574.8 L1924.0 1577.1 L1932.8 1577.1 L1932.8 1578.5 L1941.6 1578.5 L1941.6 1583.2 L1950.5 1583.2 L1950.5 1588.3 L1959.3 1588.3 L1959.3 1586.4 L1968.1 1586.4 L1968.1 1588.7 L1977.0 1588.7 L1977.0 1591.0 L1985.8 1591.0 L1985.8 1594.3 L1994.7 1594.3 L1994.7 1595.7 L2003.5 1595.7 L2003.5 1597.0 L2012.3 1597.0 L2012.3 1596.6 L2021.2 1596.6 L2021.2 1596.6 L2030.0 1596.6 L2030.0 1596.6 L2038.8 1596.6 L2038.8 1595.7 L2047.7 1595.7 L2047.7 1595.7 L2056.5 1595.7 L2056.5 1597.5 L2065.3 1597.5 L2065.3 1597.5 L2074.2 1597.5 L2074.2 1597.5 L2083.0 1597.5 L2083.0 1597.5 L2091.9 1597.5 L2091.9 1597.5 L2100.7 1597.5 L2100.7 1597.5 L2109.5 1597.5 L2109.5 1597.0 L2118.0 1597.0 L2118.0 1600.6Z" stroke="none" stroke-width="0.00" fill="#4170b6" fill-opacity="0.6"/>
<path d="M1553.0 1598.9 L1588.2 1598.9 L1588.2 1537.8 L1597.0 1537.8 L1597.0 1338.7 L1605.9 1338.7 L1605.9 1249.3 L1614.7 1249.3 L1614.7 1283.1 L1623.5 1283.1 L1623.5 1361.8 L1632.4 1361.8 L1632.4 1428.1 L1641.2 1428.1 L1641.2 1501.7 L1650.1 1501.7 L1650.1 1514.6 L1658.9 1514.6 L1658.9 1547.5 L1667.7 1547.5 L1667.7 1547.5 L1676.6 1547.5 L1676.6 1551.2 L1685.4 1551.2 L1685.4 1566.0 L1694.2 1566.0 L1694.2 1575.3 L1703.1 1575.3 L1703.1 1570.7 L1711.9 1570.7 L1711.9 1571.6 L1720.7 1571.6 L1720.7 1561.4 L1729.6 1561.4 L1729.6 1572.5 L1738.4 1572.5 L1738.4 1565.1 L1747.2 1565.1 L1747.2 1558.2 L1756.1 1558.2 L1756.1 1537.8 L1764.9 1537.8 L1764.9 1517.4 L1773.8 1517.4 L1773.8 1485.9 L1782.6 1485.9 L1782.6 1447.0 L1791.4 1447.0 L1791.4 1426.2 L1800.3 1426.2 L1800.3 1440.1 L1809.1 1440.1 L1809.1 1458.1 L1817.9 1458.1 L1817.9 1473.0 L1826.8 1473.0 L1826.8 1485.9 L1835.6 1485.9 L1835.6 1507.7 L1844.4 1507.7 L1844.4 1517.4 L1853.3 1517.4 L1853.3 1533.6 L1862.1 1533.6 L1862.1 1537.3 L1871.0 1537.3 L1871.0 1540.6 L1879.8 1540.6 L1879.8 1549.8 L1888.6 1549.8 L1888.6 1557.7 L1897.5 1557.7 L1897.5 1573.4 L1906.3 1573.4 L1906.3 1567.9 L1915.1 1567.9 L1915.1 1574.8 L1924.0 1574.8 L1924.0 1577.1 L1932.8 1577.1 L1932.8 1578.5 L1941.6 1578.5 L1941.6 1583.2 L1950.5 1583.2 L1950.5 1588.3 L1959.3 1588.3 L1959.3 1586.4 L1968.1 1586.4 L1968.1 1588.7 L1977.0 1588.7 L1977.0 1591.0 L1985.8 1591.0 L1985.8 1594.3 L1994.7 1594.3 L1994.7 1595.7 L2003.5 1595.7 L2003.5 1597.0 L2012.3 1597.0 L2012.3 1596.6 L2021.2 1596.6 L2021.2 1596.6 L2030.0 1596.6 L2030.0 1596.6 L2038.8 1596.6 L2038.8 1595.7 L2047.7 1595.7 L2047.7 1595.7 L2056.5 1595.7 L2056.5 1597.5 L2065.3 1597.5 L2065.3 1597.5 L2074.2 1597.5 L2074.2 1597.5 L2083.0 1597.5 L2083.0 1597.5 L2091.9 1597.5 L2091.9 1597.5 L2100.7 1597.5 L2100.7 1597.5 L2109.5 1597.5 L2109.5 1597.0 L2118.0 1597.0 L2118.0 1598.9" stroke="#1f77b4" stroke-width="3.70" fill="none" stroke-linejoin="miter"/>
<path d="M1553.0 1598.8 L1554.6 1598.7 L1556.2 1598.7 L1557.8 1598.6 L1559.5 1598.4 L1561.1 1598.2 L1562.7 1597.9 L1564.3 1597.5 L1565.9 1596.9 L1567.5 1596.1 L1569.1 1595.1 L1570.8 1593.8 L1572.4 1592.1 L1574.0 1589.9 L1575.6 1587.1 L1577.2 1583.6 L1578.8 1579.3 L1580.4 1574.0 L1582.1 1567.6 L1583.7 1560.0 L1585.3 1551.1 L1586.9 1540.7 L1588.5 1528.7 L1590.1 1515.2 L1591.7 1500.2 L1593.4 1483.6 L1595.0 1465.6 L1596.6 1446.5 L1598.2 1426.4 L1599.8 1405.6 L1601.4 1384.7 L1603.0 1363.9 L1604.7 1343.7 L1606.3 1324.7 L1607.9 1307.3 L1609.5 1292.1 L1611.1 1279.3 L1612.7 1269.5 L1614.3 1263.0 L1616.0 1259.8 L1617.6 1260.2 L1619.2 1264.0 L1620.8 1271.3 L1622.4 1281.7 L1624.0 1294.9 L1625.6 1310.6 L1627.3 1328.4 L1628.9 1347.7 L1630.5 1368.0 L1632.1 1388.9 L1633.7 1409.8 L1635.3 1430.5 L1636.9 1450.4 L1638.6 1469.3 L1640.2 1487.0 L1641.8 1503.3 L1643.4 1518.1 L1645.0 1531.2 L1646.6 1542.9 L1648.2 1553.0 L1649.9 1561.6 L1651.5 1569.0 L1653.1 1575.1 L1654.7 1580.2 L1656.3 1584.4 L1657.9 1587.7 L1659.5 1590.4 L1661.2 1592.5 L1662.8 1594.1 L1664.4 1595.4 L1666.0 1596.3 L1667.6 1597.0 L1669.2 1597.6 L1670.8 1597.9 L1672.5 1598.2 L1674.1 1598.4 L1675.7 1598.6 L1677.3 1598.7 L1678.9 1598.8 L1680.5 1598.8 L1682.1 1598.8 L1683.8 1598.9 L1685.4 1598.9 L1687.0 1598.9 L1688.6 1598.9 L1690.2 1598.9 L1691.8 1598.9 L1693.4 1598.9 L1695.1 1598.9" stroke="#0b3d5e" stroke-width="4.20" fill="none" stroke-opacity="0.5" stroke-linejoin="round"/>
<path d="M1648.2 1598.9 L1649.9 1598.9 L1651.5 1598.9 L1653.1 1598.9 L1654.7 1598.9 L1656.3 1598.9 L1657.9 1598.9 L1659.5 1598.9 L1661.2 1598.9 L1662.8 1598.9 L1664.4 1598.9 L1666.0 1598.9 L1667.6 1598.9 L1669.2 1598.9 L1670.8 1598.9 L1672.5 1598.9 L1674.1 1598.9 L1675.7 1598.9 L1677.3 1598.9 L1678.9 1598.8 L1680.5 1598.8 L1682.1 1598.8 L1683.8 1598.8 L1685.4 1598.8 L1687.0 1598.7 L1688.6 1598.7 L1690.2 1598.7 L1691.8 1598.6 L1693.4 1598.6 L1695.1 1598.5 L1696.7 1598.4 L1698.3 1598.3 L1699.9 1598.2 L1701.5 1598.1 L1703.1 1598.0 L1704.7 1597.8 L1706.4 1597.6 L1708.0 1597.4 L1709.6 1597.1 L1711.2 1596.8 L1712.8 1596.4 L1714.4 1596.0 L1716.0 1595.6 L1717.7 1595.0 L1719.3 1594.5 L1720.9 1593.8 L1722.5 1593.0 L1724.1 1592.2 L1725.7 1591.3 L1727.3 1590.2 L1729.0 1589.0 L1730.6 1587.7 L1732.2 1586.3 L1733.8 1584.7 L1735.4 1583.0 L1737.0 1581.1 L1738.6 1579.1 L1740.3 1576.8 L1741.9 1574.4 L1743.5 1571.8 L1745.1 1569.0 L1746.7 1566.0 L1748.3 1562.8 L1749.9 1559.4 L1751.6 1555.8 L1753.2 1552.0 L1754.8 1548.1 L1756.4 1543.9 L1758.0 1539.5 L1759.6 1535.0 L1761.2 1530.3 L1762.9 1525.5 L1764.5 1520.6 L1766.1 1515.5 L1767.7 1510.4 L1769.3 1505.2 L1770.9 1500.1 L1772.5 1494.9 L1774.2 1489.7 L1775.8 1484.6 L1777.4 1479.6 L1779.0 1474.7 L1780.6 1469.9 L1782.2 1465.4 L1783.8 1461.1 L1785.5 1457.0 L1787.1 1453.2 L1788.7 1449.7 L1790.3 1446.6 L1791.9 1443.9 L1793.5 1441.5 L1795.1 1439.5 L1796.8 1437.9 L1798.4 1436.8 L1800.0 1436.1 L1801.6 1435.9 L1803.2 1436.1 L1804.8 1436.8 L1806.4 1437.9 L1808.1 1439.5 L1809.7 1441.5 L1811.3 1443.9 L1812.9 1446.6 L1814.5 1449.7 L1816.1 1453.2 L1817.7 1457.0 L1819.4 1461.1 L1821.0 1465.4 L1822.6 1469.9 L1824.2 1474.7 L1825.8 1479.6 L1827.4 1484.6 L1829.0 1489.7 L1830.7 1494.9 L1832.3 1500.1 L1833.9 1505.2 L1835.5 1510.4 L1837.1 1515.5 L1838.7 1520.6 L1840.3 1525.5 L1842.0 1530.3 L1843.6 1535.0 L1845.2 1539.5 L1846.8 1543.9 L1848.4 1548.1 L1850.0 1552.0 L1851.6 1555.8 L1853.3 1559.4 L1854.9 1562.8 L1856.5 1566.0 L1858.1 1569.0 L1859.7 1571.8 L1861.3 1574.4 L1862.9 1576.8 L1864.6 1579.1 L1866.2 1581.1 L1867.8 1583.0 L1869.4 1584.7 L1871.0 1586.3 L1872.6 1587.7 L1874.2 1589.0 L1875.9 1590.2 L1877.5 1591.3 L1879.1 1592.2 L1880.7 1593.0 L1882.3 1593.8 L1883.9 1594.5 L1885.5 1595.0 L1887.2 1595.6 L1888.8 1596.0 L1890.4 1596.4 L1892.0 1596.8 L1893.6 1597.1 L1895.2 1597.4 L1896.8 1597.6 L1898.5 1597.8 L1900.1 1598.0 L1901.7 1598.1 L1903.3 1598.2 L1904.9 1598.3 L1906.5 1598.4 L1908.1 1598.5 L1909.8 1598.6 L1911.4 1598.6 L1913.0 1598.7 L1914.6 1598.7 L1916.2 1598.7 L1917.8 1598.8 L1919.4 1598.8 L1921.1 1598.8 L1922.7 1598.8 L1924.3 1598.8 L1925.9 1598.9 L1927.5 1598.9 L1929.1 1598.9 L1930.7 1598.9 L1932.4 1598.9 L1934.0 1598.9 L1935.6 1598.9 L1937.2 1598.9 L1938.8 1598.9 L1940.4 1598.9 L1942.0 1598.9 L1943.7 1598.9 L1945.3 1598.9 L1946.9 1598.9 L1948.5 1598.9 L1950.1 1598.9 L1951.7 1598.9 L1953.3 1598.9 L1955.0 1598.9" stroke="#0b3d5e" stroke-width="4.20" fill="none" stroke-opacity="0.5" stroke-linejoin="round"/>
<path d="M1640.2 1598.9 L1641.8 1598.9 L1643.4 1598.9 L1645.0 1598.9 L1646.6 1598.9 L1648.2 1598.9 L1649.9 1598.9 L1651.5 1598.9 L1653.1 1598.9 L1654.7 1598.9 L1656.3 1598.9 L1657.9 1598.9 L1659.5 1598.9 L1661.2 1598.9 L1662.8 1598.9 L1664.4 1598.9 L1666.0 1598.9 L1667.6 1598.9 L1669.2 1598.9 L1670.8 1598.9 L1672.5 1598.9 L1674.1 1598.9 L1675.7 1598.9 L1677.3 1598.9 L1678.9 1598.9 L1680.5 1598.9 L1682.1 1598.9 L1683.8 1598.9 L1685.4 1598.9 L1687.0 1598.9 L1688.6 1598.9 L1690.2 1598.9 L1691.8 1598.8 L1693.4 1598.8 L1695.1 1598.8 L1696.7 1598.8 L1698.3 1598.8 L1699.9 1598.8 L1701.5 1598.8 L1703.1 1598.8 L1704.7 1598.7 L1706.4 1598.7 L1708.0 1598.7 L1709.6 1598.7 L1711.2 1598.6 L1712.8 1598.6 L1714.4 1598.5 L1716.0 1598.5 L1717.7 1598.4 L1719.3 1598.4 L1720.9 1598.3 L1722.5 1598.3 L1724.1 1598.2 L1725.7 1598.1 L1727.3 1598.0 L1729.0 1597.9 L1730.6 1597.8 L1732.2 1597.6 L1733.8 1597.5 L1735.4 1597.3 L1737.0 1597.2 L1738.6 1597.0 L1740.3 1596.8 L1741.9 1596.5 L1743.5 1596.3 L1745.1 1596.0 L1746.7 1595.7 L1748.3 1595.4 L1749.9 1595.1 L1751.6 1594.7 L1753.2 1594.3 L1754.8 1593.9 L1756.4 1593.5 L1758.0 1593.0 L1759.6 1592.5 L1761.2 1591.9 L1762.9 1591.3 L1764.5 1590.7 L1766.1 1590.1 L1767.7 1589.4 L1769.3 1588.6 L1770.9 1587.8 L1772.5 1587.0 L1774.2 1586.2 L1775.8 1585.3 L1777.4 1584.3 L1779.0 1583.3 L1780.6 1582.3 L1782.2 1581.2 L1783.8 1580.1 L1785.5 1578.9 L1787.1 1577.7 L1788.7 1576.5 L1790.3 1575.2 L1791.9 1573.9 L1793.5 1572.5 L1795.1 1571.1 L1796.8 1569.7 L1798.4 1568.3 L1800.0 1566.8 L1801.6 1565.3 L1803.2 1563.9 L1804.8 1562.3 L1806.4 1560.8 L1808.1 1559.3 L1809.7 1557.8 L1811.3 1556.3 L1812.9 1554.8 L1814.5 1553.3 L1816.1 1551.8 L1817.7 1550.3 L1819.4 1548.9 L1821.0 1547.5 L1822.6 1546.2 L1824.2 1544.9 L1825.8 1543.6 L1827.4 1542.4 L1829.0 1541.3 L1830.7 1540.2 L1832.3 1539.2 L1833.9 1538.3 L1835.5 1537.4 L1837.1 1536.6 L1838.7 1535.9 L1840.3 1535.3 L1842.0 1534.8 L1843.6 1534.4 L1845.2 1534.1 L1846.8 1533.8 L1848.4 1533.7 L1850.0 1533.6 L1851.6 1533.7 L1853.3 1533.8 L1854.9 1534.1 L1856.5 1534.4 L1858.1 1534.8 L1859.7 1535.3 L1861.3 1535.9 L1862.9 1536.6 L1864.6 1537.4 L1866.2 1538.3 L1867.8 1539.2 L1869.4 1540.2 L1871.0 1541.3 L1872.6 1542.4 L1874.2 1543.6 L1875.9 1544.9 L1877.5 1546.2 L1879.1 1547.5 L1880.7 1548.9 L1882.3 1550.3 L1883.9 1551.8 L1885.5 1553.3 L1887.2 1554.8 L1888.8 1556.3 L1890.4 1557.8 L1892.0 1559.3 L1893.6 1560.8 L1895.2 1562.3 L1896.8 1563.9 L1898.5 1565.3 L1900.1 1566.8 L1901.7 1568.3 L1903.3 1569.7 L1904.9 1571.1 L1906.5 1572.5 L1908.1 1573.9 L1909.8 1575.2 L1911.4 1576.5 L1913.0 1577.7 L1914.6 1578.9 L1916.2 1580.1 L1917.8 1581.2 L1919.4 1582.3 L1921.1 1583.3 L1922.7 1584.3 L1924.3 1585.3 L1925.9 1586.2 L1927.5 1587.0 L1929.1 1587.8 L1930.7 1588.6 L1932.4 1589.4 L1934.0 1590.1 L1935.6 1590.7 L1937.2 1591.3 L1938.8 1591.9 L1940.4 1592.5 L1942.0 1593.0 L1943.7 1593.5 L1945.3 1593.9 L1946.9 1594.3 L1948.5 1594.7 L1950.1 1595.1 L1951.7 1595.4 L1953.3 1595.7 L1955.0 1596.0 L1956.6 1596.3 L1958.2 1596.5 L1959.8 1596.8 L1961.4 1597.0 L1963.0 1597.2 L1964.6 1597.3 L1966.3 1597.5 L1967.9 1597.6 L1969.5 1597.8 L1971.1 1597.9 L1972.7 1598.0 L1974.3 1598.1 L1975.9 1598.2 L1977.6 1598.3 L1979.2 1598.3 L1980.8 1598.4 L1982.4 1598.4 L1984.0 1598.5 L1985.6 1598.5 L1987.2 1598.6 L1988.9 1598.6 L1990.5 1598.7 L1992.1 1598.7 L1993.7 1598.7 L1995.3 1598.7 L1996.9 1598.8 L1998.5 1598.8 L2000.2 1598.8 L2001.8 1598.8 L2003.4 1598.8 L2005.0 1598.8 L2006.6 1598.8 L2008.2 1598.8 L2009.8 1598.9 L2011.5 1598.9 L2013.1 1598.9 L2014.7 1598.9 L2016.3 1598.9 L2017.9 1598.9 L2019.5 1598.9 L2021.1 1598.9 L2022.8 1598.9 L2024.4 1598.9 L2026.0 1598.9 L2027.6 1598.9 L2029.2 1598.9 L2030.8 1598.9 L2032.4 1598.9 L2034.1 1598.9 L2035.7 1598.9 L2037.3 1598.9 L2038.9 1598.9 L2040.5 1598.9 L2042.1 1598.9 L2043.7 1598.9 L2045.4 1598.9 L2047.0 1598.9 L2048.6 1598.9 L2050.2 1598.9 L2051.8 1598.9 L2053.4 1598.9 L2055.0 1598.9 L2056.7 1598.9 L2058.3 1598.9 L2059.9 1598.9" stroke="#0b3d5e" stroke-width="4.20" fill="none" stroke-opacity="0.5" stroke-linejoin="round"/>
<path d="M1680.5 1598.9 L1682.1 1598.9 L1683.8 1598.9 L1685.4 1598.9 L1687.0 1598.9 L1688.6 1598.9 L1690.2 1598.9 L1691.8 1598.9 L1693.4 1598.9 L1695.1 1598.9 L1696.7 1598.9 L1698.3 1598.9 L1699.9 1598.9 L1701.5 1598.9 L1703.1 1598.9 L1704.7 1598.9 L1706.4 1598.9 L1708.0 1598.9 L1709.6 1598.9 L1711.2 1598.9 L1712.8 1598.9 L1714.4 1598.9 L1716.0 1598.9 L1717.7 1598.9 L1719.3 1598.9 L1720.9 1598.9 L1722.5 1598.9 L1724.1 1598.9 L1725.7 1598.9 L1727.3 1598.9 L1729.0 1598.9 L1730.6 1598.9 L1732.2 1598.9 L1733.8 1598.9 L1735.4 1598.9 L1737.0 1598.9 L1738.6 1598.9 L1740.3 1598.9 L1741.9 1598.9 L1743.5 1598.8 L1745.1 1598.8 L1746.7 1598.8 L1748.3 1598.8 L1749.9 1598.8 L1751.6 1598.8 L1753.2 1598.8 L1754.8 1598.8 L1756.4 1598.8 L1758.0 1598.7 L1759.6 1598.7 L1761.2 1598.7 L1762.9 1598.7 L1764.5 1598.6 L1766.1 1598.6 L1767.7 1598.6 L1769.3 1598.5 L1770.9 1598.5 L1772.5 1598.5 L1774.2 1598.4 L1775.8 1598.4 L1777.4 1598.3 L1779.0 1598.2 L1780.6 1598.2 L1782.2 1598.1 L1783.8 1598.0 L1785.5 1597.9 L1787.1 1597.8 L1788.7 1597.7 L1790.3 1597.6 L1791.9 1597.5 L1793.5 1597.3 L1795.1 1597.2 L1796.8 1597.0 L1798.4 1596.8 L1800.0 1596.7 L1801.6 1596.5 L1803.2 1596.3 L1804.8 1596.0 L1806.4 1595.8 L1808.1 1595.6 L1809.7 1595.3 L1811.3 1595.0 L1812.9 1594.7 L1814.5 1594.4 L1816.1 1594.1 L1817.7 1593.7 L1819.4 1593.4 L1821.0 1593.0 L1822.6 1592.6 L1824.2 1592.2 L1825.8 1591.7 L1827.4 1591.3 L1829.0 1590.8 L1830.7 1590.3 L1832.3 1589.8 L1833.9 1589.3 L1835.5 1588.8 L1837.1 1588.2 L1838.7 1587.7 L1840.3 1587.1 L1842.0 1586.5 L1843.6 1585.9 L1845.2 1585.3 L1846.8 1584.7 L1848.4 1584.1 L1850.0 1583.4 L1851.6 1582.8 L1853.3 1582.1 L1854.9 1581.5 L1856.5 1580.8 L1858.1 1580.2 L1859.7 1579.6 L1861.3 1578.9 L1862.9 1578.3 L1864.6 1577.7 L1866.2 1577.1 L1867.8 1576.5 L1869.4 1575.9 L1871.0 1575.4 L1872.6 1574.8 L1874.2 1574.3 L1875.9 1573.8 L1877.5 1573.3 L1879.1 1572.9 L1880.7 1572.5 L1882.3 1572.1 L1883.9 1571.7 L1885.5 1571.4 L1887.2 1571.1 L1888.8 1570.9 L1890.4 1570.7 L1892.0 1570.5 L1893.6 1570.4 L1895.2 1570.3 L1896.8 1570.2 L1898.5 1570.2 L1900.1 1570.2 L1901.7 1570.3 L1903.3 1570.4 L1904.9 1570.5 L1906.5 1570.7 L1908.1 1570.9 L1909.8 1571.1 L1911.4 1571.4 L1913.0 1571.7 L1914.6 1572.1 L1916.2 1572.5 L1917.8 1572.9 L1919.4 1573.3 L1921.1 1573.8 L1922.7 1574.3 L1924.3 1574.8 L1925.9 1575.4 L1927.5 1575.9 L1929.1 1576.5 L1930.7 1577.1 L1932.4 1577.7 L1934.0 1578.3 L1935.6 1578.9 L1937.2 1579.6 L1938.8 1580.2 L1940.4 1580.8 L1942.0 1581.5 L1943.7 1582.1 L1945.3 1582.8 L1946.9 1583.4 L1948.5 1584.1 L1950.1 1584.7 L1951.7 1585.3 L1953.3 1585.9 L1955.0 1586.5 L1956.6 1587.1 L1958.2 1587.7 L1959.8 1588.2 L1961.4 1588.8 L1963.0 1589.3 L1964.6 1589.8 L1966.3 1590.3 L1967.9 1590.8 L1969.5 1591.3 L1971.1 1591.7 L1972.7 1592.2 L1974.3 1592.6 L1975.9 1593.0 L1977.6 1593.4 L1979.2 1593.7 L1980.8 1594.1 L1982.4 1594.4 L1984.0 1594.7 L1985.6 1595.0 L1987.2 1595.3 L1988.9 1595.6 L1990.5 1595.8 L1992.1 1596.0 L1993.7 1596.3 L1995.3 1596.5 L1996.9 1596.7 L1998.5 1596.8 L2000.2 1597.0 L2001.8 1597.2 L2003.4 1597.3 L2005.0 1597.5 L2006.6 1597.6 L2008.2 1597.7 L2009.8 1597.8 L2011.5 1597.9 L2013.1 1598.0 L2014.7 1598.1 L2016.3 1598.2 L2017.9 1598.2 L2019.5 1598.3 L2021.1 1598.4 L2022.8 1598.4 L2024.4 1598.5 L2026.0 1598.5 L2027.6 1598.5 L2029.2 1598.6 L2030.8 1598.6 L2032.4 1598.6 L2034.1 1598.7 L2035.7 1598.7 L2037.3 1598.7 L2038.9 1598.7 L2040.5 1598.8 L2042.1 1598.8 L2043.7 1598.8 L2045.4 1598.8 L2047.0 1598.8 L2048.6 1598.8 L2050.2 1598.8 L2051.8 1598.8 L2053.4 1598.8 L2055.0 1598.9 L2056.7 1598.9 L2058.3 1598.9 L2059.9 1598.9 L2061.5 1598.9 L2063.1 1598.9 L2064.7 1598.9 L2066.3 1598.9 L2068.0 1598.9 L2069.6 1598.9 L2071.2 1598.9 L2072.8 1598.9 L2074.4 1598.9 L2076.0 1598.9 L2077.6 1598.9 L2079.3 1598.9 L2080.9 1598.9 L2082.5 1598.9 L2084.1 1598.9 L2085.7 1598.9 L2087.3 1598.9 L2088.9 1598.9 L2090.6 1598.9 L2092.2 1598.9 L2093.8 1598.9 L2095.4 1598.9 L2097.0 1598.9 L2098.6 1598.9 L2100.2 1598.9 L2101.9 1598.9 L2103.5 1598.9 L2105.1 1598.9 L2106.7 1598.9 L2108.3 1598.9 L2109.9 1598.9 L2111.5 1598.9 L2113.2 1598.9 L2114.8 1598.9 L2116.4 1598.9" stroke="#0b3d5e" stroke-width="4.20" fill="none" stroke-opacity="0.5" stroke-linejoin="round"/>
<path d="M1553.0 1598.8 L1554.6 1598.7 L1556.2 1598.7 L1557.8 1598.6 L1559.5 1598.4 L1561.1 1598.2 L1562.7 1597.9 L1564.3 1597.5 L1565.9 1596.9 L1567.5 1596.1 L1569.1 1595.1 L1570.8 1593.8 L1572.4 1592.1 L1574.0 1589.9 L1575.6 1587.1 L1577.2 1583.6 L1578.8 1579.3 L1580.4 1574.0 L1582.1 1567.6 L1583.7 1560.0 L1585.3 1551.1 L1586.9 1540.7 L1588.5 1528.7 L1590.1 1515.2 L1591.7 1500.2 L1593.4 1483.6 L1595.0 1465.6 L1596.6 1446.5 L1598.2 1426.4 L1599.8 1405.6 L1601.4 1384.7 L1603.0 1363.9 L1604.7 1343.7 L1606.3 1324.7 L1607.9 1307.3 L1609.5 1292.1 L1611.1 1279.3 L1612.7 1269.5 L1614.3 1263.0 L1616.0 1259.8 L1617.6 1260.2 L1619.2 1264.0 L1620.8 1271.3 L1622.4 1281.7 L1624.0 1294.9 L1625.6 1310.6 L1627.3 1328.4 L1628.9 1347.7 L1630.5 1368.0 L1632.1 1388.9 L1633.7 1409.8 L1635.3 1430.5 L1636.9 1450.4 L1638.6 1469.3 L1640.2 1487.0 L1641.8 1503.3 L1643.4 1518.1 L1645.0 1531.2 L1646.6 1542.9 L1648.2 1553.0 L1649.9 1561.6 L1651.5 1569.0 L1653.1 1575.1 L1654.7 1580.2 L1656.3 1584.4 L1657.9 1587.7 L1659.5 1590.4 L1661.2 1592.5 L1662.8 1594.1 L1664.4 1595.4 L1666.0 1596.3 L1667.6 1597.0 L1669.2 1597.6 L1670.8 1597.9 L1672.5 1598.2 L1674.1 1598.4 L1675.7 1598.6 L1677.3 1598.7 L1678.9 1598.8 L1680.5 1598.8 L1682.1 1598.8 L1683.8 1598.8 L1685.4 1598.8 L1687.0 1598.7 L1688.6 1598.7 L1690.2 1598.7 L1691.8 1598.6 L1693.4 1598.6 L1695.1 1598.5 L1696.7 1598.4 L1698.3 1598.3 L1699.9 1598.2 L1701.5 1598.1 L1703.1 1598.0 L1704.7 1597.8 L1706.4 1597.6 L1708.0 1597.4 L1709.6 1597.1 L1711.2 1596.8 L1712.8 1596.4 L1714.4 1596.0 L1716.0 1595.6 L1717.7 1595.0 L1719.3 1594.5 L1720.9 1593.8 L1722.5 1593.0 L1724.1 1592.2 L1725.7 1591.3 L1727.3 1590.2 L1729.0 1589.0 L1730.6 1587.7 L1732.2 1586.3 L1733.8 1584.7 L1735.4 1583.0 L1737.0 1581.1 L1738.6 1579.1 L1740.3 1576.8 L1741.9 1574.4 L1743.5 1571.8 L1745.1 1569.0 L1746.7 1566.0 L1748.3 1562.8 L1749.9 1559.4 L1751.6 1555.8 L1753.2 1552.0 L1754.8 1548.1 L1756.4 1543.9 L1758.0 1539.5 L1759.6 1535.0 L1761.2 1530.3 L1762.9 1525.5 L1764.5 1520.6 L1766.1 1515.5 L1767.7 1510.4 L1769.3 1505.2 L1770.9 1500.1 L1772.5 1494.9 L1774.2 1489.7 L1775.8 1484.6 L1777.4 1479.6 L1779.0 1474.7 L1780.6 1469.9 L1782.2 1465.4 L1783.8 1461.1 L1785.5 1457.0 L1787.1 1453.2 L1788.7 1449.7 L1790.3 1446.6 L1791.9 1443.9 L1793.5 1441.5 L1795.1 1439.5 L1796.8 1437.9 L1798.4 1436.8 L1800.0 1436.1 L1801.6 1435.9 L1803.2 1436.1 L1804.8 1436.8 L1806.4 1437.9 L1808.1 1439.5 L1809.7 1441.5 L1811.3 1443.9 L1812.9 1446.6 L1814.5 1449.7 L1816.1 1453.2 L1817.7 1457.0 L1819.4 1461.1 L1821.0 1465.4 L1822.6 1469.9 L1824.2 1474.7 L1825.8 1479.6 L1827.4 1484.6 L1829.0 1489.7 L1830.7 1494.9 L1832.3 1500.1 L1833.9 1505.2 L1835.5 1510.4 L1837.1 1515.5 L1838.7 1520.6 L1840.3 1525.5 L1842.0 1530.3 L1843.6 1534.4 L1845.2 1534.1 L1846.8 1533.8 L1848.4 1533.7 L1850.0 1533.6 L1851.6 1533.7 L1853.3 1533.8 L1854.9 1534.1 L1856.5 1534.4 L1858.1 1534.8 L1859.7 1535.3 L1861.3 1535.9 L1862.9 1536.6 L1864.6 1537.4 L1866.2 1538.3 L1867.8 1539.2 L1869.4 1540.2 L1871.0 1541.3 L1872.6 1542.4 L1874.2 1543.6 L1875.9 1544.9 L1877.5 1546.2 L1879.1 1547.5 L1880.7 1548.9 L1882.3 1550.3 L1883.9 1551.8 L1885.5 1553.3 L1887.2 1554.8 L1888.8 1556.3 L1890.4 1557.8 L1892.0 1559.3 L1893.6 1560.8 L1895.2 1562.3 L1896.8 1563.9 L1898.5 1565.3 L1900.1 1566.8 L1901.7 1568.3 L1903.3 1569.7 L1904.9 1570.5 L1906.5 1570.7 L1908.1 1570.9 L1909.8 1571.1 L1911.4 1571.4 L1913.0 1571.7 L1914.6 1572.1 L1916.2 1572.5 L1917.8 1572.9 L1919.4 1573.3 L1921.1 1573.8 L1922.7 1574.3 L1924.3 1574.8 L1925.9 1575.4 L1927.5 1575.9 L1929.1 1576.5 L1930.7 1577.1 L1932.4 1577.7 L1934.0 1578.3 L1935.6 1578.9 L1937.2 1579.6 L1938.8 1580.2 L1940.4 1580.8 L1942.0 1581.5 L1943.7 1582.1 L1945.3 1582.8 L1946.9 1583.4 L1948.5 1584.1 L1950.1 1584.7 L1951.7 1585.3 L1953.3 1585.9 L1955.0 1586.5 L1956.6 1587.1 L1958.2 1587.7 L1959.8 1588.2 L1961.4 1588.8 L1963.0 1589.3 L1964.6 1589.8 L1966.3 1590.3 L1967.9 1590.8 L1969.5 1591.3 L1971.1 1591.7 L1972.7 1592.2 L1974.3 1592.6 L1975.9 1593.0 L1977.6 1593.4 L1979.2 1593.7 L1980.8 1594.1 L1982.4 1594.4 L1984.0 1594.7 L1985.6 1595.0 L1987.2 1595.3 L1988.9 1595.6 L1990.5 1595.8 L1992.1 1596.0 L1993.7 1596.3 L1995.3 1596.5 L1996.9 1596.7 L1998.5 1596.8 L2000.2 1597.0 L2001.8 1597.2 L2003.4 1597.3 L2005.0 1597.5 L2006.6 1597.6 L2008.2 1597.7 L2009.8 1597.8 L2011.5 1597.9 L2013.1 1598.0 L2014.7 1598.1 L2016.3 1598.2 L2017.9 1598.2 L2019.5 1598.3 L2021.1 1598.4 L2022.8 1598.4 L2024.4 1598.5 L2026.0 1598.5 L2027.6 1598.5 L2029.2 1598.6 L2030.8 1598.6 L2032.4 1598.6 L2034.1 1598.7 L2035.7 1598.7 L2037.3 1598.7 L2038.9 1598.7 L2040.5 1598.8 L2042.1 1598.8 L2043.7 1598.8 L2045.4 1598.8 L2047.0 1598.8 L2048.6 1598.8 L2050.2 1598.8 L2051.8 1598.8 L2053.4 1598.8 L2055.0 1598.9 L2056.7 1598.9 L2058.3 1598.9 L2059.9 1598.9 L2061.5 1598.9 L2063.1 1598.9 L2064.7 1598.9 L2066.3 1598.9 L2068.0 1598.9 L2069.6 1598.9 L2071.2 1598.9 L2072.8 1598.9 L2074.4 1598.9 L2076.0 1598.9 L2077.6 1598.9 L2079.3 1598.9 L2080.9 1598.9 L2082.5 1598.9 L2084.1 1598.9 L2085.7 1598.9 L2087.3 1598.9 L2088.9 1598.9 L2090.6 1598.9 L2092.2 1598.9 L2093.8 1598.9 L2095.4 1598.9 L2097.0 1598.9 L2098.6 1598.9 L2100.2 1598.9 L2101.9 1598.9 L2103.5 1598.9 L2105.1 1598.9 L2106.7 1598.9 L2108.3 1598.9 L2109.9 1598.9 L2111.5 1598.9 L2113.2 1598.9 L2114.8 1598.9 L2116.4 1598.9" stroke="#0b3d5e" stroke-width="4.40" fill="none" stroke-linejoin="round" stroke-linecap="butt"/>
<text x="1643.3" y="1192.4" font-size="19.70" text-anchor="middle" fill="#174564">40</text>
<text x="1643.3" y="1213.7" font-size="19.70" text-anchor="middle" fill="#174564">σ 10.2</text>
<text x="1643.3" y="1231.8" font-size="19.70" text-anchor="middle" fill="#174564">2931 counts (42%)</text>
<text x="1802.0" y="1298.2" font-size="19.70" text-anchor="middle" fill="#174564">154</text>
<text x="1802.0" y="1319.5" font-size="19.70" text-anchor="middle" fill="#174564">σ 19.3</text>
<text x="1802.0" y="1337.6" font-size="19.70" text-anchor="middle" fill="#174564">2655 counts (38%)</text>
<text x="1867.7" y="1367.9" font-size="19.70" text-anchor="middle" fill="#174564">184</text>
<text x="1867.7" y="1389.2" font-size="19.70" text-anchor="middle" fill="#174564">σ 27</text>
<text x="1867.7" y="1407.3" font-size="19.70" text-anchor="middle" fill="#174564">1477 counts (21%)</text>
<text x="1926.1" y="1461.0" font-size="19.70" text-anchor="middle" fill="#174564">214</text>
<text x="1926.1" y="1482.3" font-size="19.70" text-anchor="middle" fill="#174564">σ 27</text>
<text x="1926.1" y="1500.4" font-size="19.70" text-anchor="middle" fill="#174564">652 counts (9%)</text>
<text x="2112.3" y="1203.6" font-size="21.00" text-anchor="end">APIC-8x <tspan font-family="'Liberation Serif',serif" font-size="24.4" letter-spacing="0.6">α</tspan>CD79 - CTSS</text>
<text x="1481.0" y="1389.0" font-size="20.70" text-anchor="middle" transform="rotate(-90 1481.0 1389.0)">Normalized counts</text>
<text x="1836.7" y="1653.6" font-size="21.00" text-anchor="middle">Mass (kDa)</text>
</g>
</g>
<g id="panel-c" fill="#000">
<text transform="translate(1158.0 36.6) scale(1.00 1)" font-size="50.0" font-weight="bold" fill="#231f20">c</text>
<line x1="1165.00" y1="272.70" x2="1246.00" y2="272.70" stroke="#c99a98" stroke-width="1.00" stroke-opacity="0.10"/>
<line x1="1165.00" y1="346.40" x2="1246.00" y2="346.40" stroke="#2b3190" stroke-width="1.00" stroke-opacity="0.10"/>
<line x1="1165.00" y1="419.70" x2="1246.00" y2="419.70" stroke="#f29d3a" stroke-width="1.00" stroke-opacity="0.10"/>
<line x1="1165.00" y1="492.40" x2="1246.00" y2="492.40" stroke="#e8393b" stroke-width="1.00" stroke-opacity="0.10"/>
<path d="M1264.6 199.9 L1264.6 199.9 L1265.6 197.6 L1266.6 194.4 L1267.5 193.4 L1268.5 192.2 L1269.5 192.4 L1270.5 192.2 L1271.5 190.5 L1272.5 188.1 L1273.4 185.5 L1274.4 188.6 L1275.4 192.4 L1276.4 189.1 L1277.4 188.6 L1278.4 186.3 L1279.3 182.6 L1280.3 180.8 L1281.3 180.0 L1282.3 177.7 L1283.3 177.4 L1284.3 177.8 L1285.2 176.7 L1286.2 174.2 L1287.2 170.8 L1288.2 165.8 L1289.2 170.3 L1290.2 170.7 L1291.1 168.8 L1292.1 170.4 L1293.1 167.7 L1294.1 167.1 L1295.1 167.5 L1296.1 166.5 L1297.0 165.9 L1298.0 167.1 L1299.0 168.1 L1300.0 169.2 L1301.0 172.8 L1302.0 169.7 L1302.9 170.7 L1303.9 163.2 L1304.9 161.9 L1305.9 158.9 L1306.9 149.3 L1307.9 142.3 L1308.8 149.0 L1309.8 146.9 L1310.8 149.2 L1311.8 149.7 L1312.8 145.1 L1313.8 133.9 L1314.7 142.3 L1315.7 145.9 L1316.7 146.8 L1317.7 156.1 L1318.7 156.0 L1319.7 143.7 L1320.6 129.5 L1321.6 130.4 L1322.6 136.4 L1323.6 139.3 L1324.6 135.4 L1325.6 133.7 L1326.5 131.4 L1327.5 134.8 L1328.5 128.7 L1329.5 133.5 L1330.5 123.1 L1331.5 131.7 L1332.4 129.5 L1333.5 125.1 L1334.6 125.9 L1335.6 120.3 L1336.7 124.9 L1337.8 120.6 L1338.9 126.4 L1340.1 140.0 L1341.3 149.2 L1342.3 138.3 L1343.3 135.4 L1344.2 135.7 L1345.2 139.8 L1346.2 145.2 L1347.2 145.2 L1348.8 139.3 L1349.9 141.4 L1350.9 146.8 L1352.0 148.3 L1353.1 157.0 L1354.1 155.7 L1355.1 151.0 L1356.1 150.1 L1357.0 152.0 L1358.0 155.8 L1359.0 159.3 L1360.0 162.9 L1361.0 162.8 L1362.0 164.7 L1362.9 165.8 L1363.9 163.9 L1364.9 167.1 L1365.9 167.8 L1366.9 168.7 L1367.9 172.2 L1368.8 174.7 L1369.8 178.7 L1370.8 182.2 L1371.8 187.5 L1372.8 185.5 L1373.8 184.7 L1374.7 182.8 L1375.7 180.3 L1376.7 181.3 L1377.7 179.6 L1378.7 184.3 L1379.7 185.8 L1380.6 191.4 L1381.6 192.3 L1382.6 192.9 L1383.6 194.4 L1384.6 192.5 L1385.6 192.4 L1386.5 188.5 L1387.5 187.5 L1388.5 187.5 L1389.5 188.8 L1390.5 189.9 L1391.5 191.9 L1392.4 193.4 L1393.4 193.0 L1394.4 191.5 L1395.4 190.5 L1396.4 192.2 L1397.4 194.4 L1398.3 193.1 L1399.3 192.6 L1400.3 192.2 L1401.3 190.7 L1402.3 190.9 L1403.3 191.9 L1404.2 191.4 L1405.2 191.7 L1406.2 193.1 L1407.2 193.4 L1408.2 194.1 L1409.2 193.2 L1410.1 192.1 L1411.1 191.5 L1412.1 191.4 L1413.1 189.7 L1414.1 190.9 L1415.1 189.5 L1416.0 188.9 L1417.0 189.3 L1418.0 190.8 L1419.0 193.1 L1420.0 192.4 L1421.0 191.5 L1421.9 190.1 L1422.9 190.6 L1423.9 190.9 L1424.9 191.6 L1425.9 191.4 L1426.9 191.1 L1427.8 189.6 L1428.8 191.4 L1430.0 190.9 L1431.1 191.1 L1432.2 189.9 L1433.3 190.9 L1434.4 189.4 L1435.6 191.1 L1436.7 190.5 L1437.7 189.6 L1438.7 187.4 L1439.6 185.5 L1440.6 185.5 L1441.6 189.5 L1442.6 194.4 L1443.7 193.9 L1444.8 194.8 L1445.9 193.9 L1447.0 193.6 L1448.1 193.2 L1449.2 192.3 L1450.3 192.5 L1451.4 192.0 L1452.4 192.4 L1453.4 193.7 L1454.4 194.8 L1455.4 195.4 L1456.4 196.4 L1457.3 196.5 L1458.3 196.7 L1459.3 197.5 L1460.3 197.8 L1461.3 198.5 L1462.3 198.3 L1463.2 197.2 L1464.2 196.6 L1465.2 196.6 L1466.2 196.0 L1467.2 197.0 L1468.2 198.1 L1469.2 198.4 L1470.1 199.3 L1471.1 199.4 L1472.1 199.5 L1473.1 199.6 L1474.1 199.7 L1475.1 199.8 L1476.0 199.9 L1477.1 199.9 L1478.1 199.9 L1479.2 199.9 L1480.2 199.9 L1481.3 199.9 L1482.3 199.9 L1483.3 199.9 L1484.4 199.9 L1485.4 199.8 L1486.5 199.8 L1487.5 199.8 L1488.6 199.8 L1489.6 199.8 L1490.7 199.8 L1491.7 199.8 L1492.8 199.8 L1493.8 199.8 L1494.8 199.8 L1495.9 199.8 L1496.9 199.8 L1498.0 199.8 L1499.0 199.8 L1500.1 199.8 L1501.1 199.8 L1502.2 199.7 L1503.2 199.7 L1504.2 199.7 L1505.3 199.7 L1506.3 199.7 L1507.4 199.7 L1508.4 199.7 L1509.5 199.7 L1510.5 199.0 L1511.4 198.3 L1512.4 199.0 L1513.4 199.7 L1514.4 199.1 L1515.4 198.5 L1516.4 197.9 L1517.3 198.9 L1518.3 199.9 L1518.3 199.9Z" stroke="none" stroke-width="0.00" fill="#cfd1d2" fill-opacity="0.50"/>
<path d="M1243.0 199.9 L1264.6 199.9 L1265.6 197.6 L1266.6 194.4 L1267.5 193.4 L1268.5 192.2 L1269.5 192.4 L1270.5 192.2 L1271.5 190.5 L1272.5 188.1 L1273.4 185.5 L1274.4 188.6 L1275.4 192.4 L1276.4 189.1 L1277.4 188.6 L1278.4 186.3 L1279.3 182.6 L1280.3 180.8 L1281.3 180.0 L1282.3 177.7 L1283.3 177.4 L1284.3 177.8 L1285.2 176.7 L1286.2 174.2 L1287.2 170.8 L1288.2 165.8 L1289.2 170.3 L1290.2 170.7 L1291.1 168.8 L1292.1 170.4 L1293.1 167.7 L1294.1 167.1 L1295.1 167.5 L1296.1 166.5 L1297.0 165.9 L1298.0 167.1 L1299.0 168.1 L1300.0 169.2 L1301.0 172.8 L1302.0 169.7 L1302.9 170.7 L1303.9 163.2 L1304.9 161.9 L1305.9 158.9 L1306.9 149.3 L1307.9 142.3 L1308.8 149.0 L1309.8 146.9 L1310.8 149.2 L1311.8 149.7 L1312.8 145.1 L1313.8 133.9 L1314.7 142.3 L1315.7 145.9 L1316.7 146.8 L1317.7 156.1 L1318.7 156.0 L1319.7 143.7 L1320.6 129.5 L1321.6 130.4 L1322.6 136.4 L1323.6 139.3 L1324.6 135.4 L1325.6 133.7 L1326.5 131.4 L1327.5 134.8 L1328.5 128.7 L1329.5 133.5 L1330.5 123.1 L1331.5 131.7 L1332.4 129.5 L1333.5 125.1 L1334.6 125.9 L1335.6 120.3 L1336.7 124.9 L1337.8 120.6 L1338.9 126.4 L1340.1 140.0 L1341.3 149.2 L1342.3 138.3 L1343.3 135.4 L1344.2 135.7 L1345.2 139.8 L1346.2 145.2 L1347.2 145.2 L1348.8 139.3 L1349.9 141.4 L1350.9 146.8 L1352.0 148.3 L1353.1 157.0 L1354.1 155.7 L1355.1 151.0 L1356.1 150.1 L1357.0 152.0 L1358.0 155.8 L1359.0 159.3 L1360.0 162.9 L1361.0 162.8 L1362.0 164.7 L1362.9 165.8 L1363.9 163.9 L1364.9 167.1 L1365.9 167.8 L1366.9 168.7 L1367.9 172.2 L1368.8 174.7 L1369.8 178.7 L1370.8 182.2 L1371.8 187.5 L1372.8 185.5 L1373.8 184.7 L1374.7 182.8 L1375.7 180.3 L1376.7 181.3 L1377.7 179.6 L1378.7 184.3 L1379.7 185.8 L1380.6 191.4 L1381.6 192.3 L1382.6 192.9 L1383.6 194.4 L1384.6 192.5 L1385.6 192.4 L1386.5 188.5 L1387.5 187.5 L1388.5 187.5 L1389.5 188.8 L1390.5 189.9 L1391.5 191.9 L1392.4 193.4 L1393.4 193.0 L1394.4 191.5 L1395.4 190.5 L1396.4 192.2 L1397.4 194.4 L1398.3 193.1 L1399.3 192.6 L1400.3 192.2 L1401.3 190.7 L1402.3 190.9 L1403.3 191.9 L1404.2 191.4 L1405.2 191.7 L1406.2 193.1 L1407.2 193.4 L1408.2 194.1 L1409.2 193.2 L1410.1 192.1 L1411.1 191.5 L1412.1 191.4 L1413.1 189.7 L1414.1 190.9 L1415.1 189.5 L1416.0 188.9 L1417.0 189.3 L1418.0 190.8 L1419.0 193.1 L1420.0 192.4 L1421.0 191.5 L1421.9 190.1 L1422.9 190.6 L1423.9 190.9 L1424.9 191.6 L1425.9 191.4 L1426.9 191.1 L1427.8 189.6 L1428.8 191.4 L1430.0 190.9 L1431.1 191.1 L1432.2 189.9 L1433.3 190.9 L1434.4 189.4 L1435.6 191.1 L1436.7 190.5 L1437.7 189.6 L1438.7 187.4 L1439.6 185.5 L1440.6 185.5 L1441.6 189.5 L1442.6 194.4 L1443.7 193.9 L1444.8 194.8 L1445.9 193.9 L1447.0 193.6 L1448.1 193.2 L1449.2 192.3 L1450.3 192.5 L1451.4 192.0 L1452.4 192.4 L1453.4 193.7 L1454.4 194.8 L1455.4 195.4 L1456.4 196.4 L1457.3 196.5 L1458.3 196.7 L1459.3 197.5 L1460.3 197.8 L1461.3 198.5 L1462.3 198.3 L1463.2 197.2 L1464.2 196.6 L1465.2 196.6 L1466.2 196.0 L1467.2 197.0 L1468.2 198.1 L1469.2 198.4 L1470.1 199.3 L1471.1 199.4 L1472.1 199.5 L1473.1 199.6 L1474.1 199.7 L1475.1 199.8 L1476.0 199.9 L1477.1 199.9 L1478.1 199.9 L1479.2 199.9 L1480.2 199.9 L1481.3 199.9 L1482.3 199.9 L1483.3 199.9 L1484.4 199.9 L1485.4 199.8 L1486.5 199.8 L1487.5 199.8 L1488.6 199.8 L1489.6 199.8 L1490.7 199.8 L1491.7 199.8 L1492.8 199.8 L1493.8 199.8 L1494.8 199.8 L1495.9 199.8 L1496.9 199.8 L1498.0 199.8 L1499.0 199.8 L1500.1 199.8 L1501.1 199.8 L1502.2 199.7 L1503.2 199.7 L1504.2 199.7 L1505.3 199.7 L1506.3 199.7 L1507.4 199.7 L1508.4 199.7 L1509.5 199.7 L1510.5 199.0 L1511.4 198.3 L1512.4 199.0 L1513.4 199.7 L1514.4 199.1 L1515.4 198.5 L1516.4 197.9 L1517.3 198.9 L1518.3 199.9 L1611.6 199.9" stroke="#858585" stroke-width="2.30" fill="none" stroke-linejoin="miter" stroke-miterlimit="3"/>
<path d="M1348.2 272.7 L1348.2 272.7 L1349.2 272.1 L1350.1 271.5 L1351.1 271.7 L1352.1 271.9 L1353.1 272.1 L1354.1 272.3 L1355.1 271.7 L1356.1 271.1 L1357.0 271.9 L1358.0 271.8 L1359.0 272.2 L1360.0 272.5 L1361.0 272.5 L1362.1 272.5 L1363.1 272.5 L1364.2 272.5 L1365.3 272.5 L1366.3 272.5 L1367.4 272.5 L1368.4 272.5 L1369.5 272.5 L1370.5 272.5 L1371.6 272.5 L1372.6 272.5 L1373.7 272.5 L1374.7 272.5 L1375.7 269.2 L1376.7 270.3 L1377.7 271.5 L1378.7 271.1 L1379.7 270.8 L1380.6 270.1 L1381.6 270.5 L1382.6 271.4 L1383.6 272.1 L1384.6 271.7 L1385.6 270.7 L1386.5 270.7 L1387.5 269.7 L1388.5 268.9 L1389.5 267.2 L1390.5 269.2 L1391.5 270.1 L1392.4 270.1 L1393.4 269.4 L1394.4 269.1 L1395.4 269.2 L1396.4 268.2 L1397.4 268.2 L1398.3 265.0 L1399.3 262.7 L1400.3 261.3 L1401.3 263.9 L1402.3 267.2 L1403.3 266.2 L1404.2 266.1 L1405.2 266.3 L1406.2 265.2 L1407.2 265.2 L1408.2 263.9 L1409.2 262.9 L1410.1 260.3 L1411.1 260.3 L1412.1 259.3 L1413.1 259.6 L1414.1 258.8 L1415.1 256.7 L1416.0 258.0 L1417.0 257.4 L1418.0 255.8 L1419.0 254.9 L1420.0 254.0 L1421.0 253.4 L1421.9 252.4 L1422.9 252.8 L1423.9 252.3 L1424.9 251.5 L1425.9 250.1 L1426.9 248.8 L1427.8 246.1 L1428.8 245.6 L1429.8 240.4 L1430.8 240.1 L1431.8 235.7 L1432.8 228.9 L1433.7 223.9 L1434.7 224.8 L1435.7 223.5 L1436.7 221.9 L1437.7 220.5 L1438.7 220.0 L1439.6 218.3 L1440.6 220.2 L1441.6 209.6 L1442.6 210.2 L1443.6 197.9 L1444.6 184.6 L1445.5 185.6 L1446.5 181.1 L1447.5 182.6 L1448.5 182.3 L1449.5 183.0 L1450.5 176.7 L1451.4 172.0 L1452.4 169.2 L1453.4 170.5 L1454.4 164.9 L1455.4 159.7 L1456.4 159.4 L1457.3 159.0 L1458.5 160.2 L1459.7 153.1 L1461.0 149.2 L1462.3 159.0 L1463.2 157.3 L1464.2 158.0 L1465.2 170.2 L1466.2 174.7 L1467.2 173.8 L1468.2 175.5 L1469.2 176.7 L1470.3 170.8 L1471.5 175.8 L1472.7 168.8 L1473.9 175.3 L1475.1 188.5 L1476.0 191.8 L1477.0 198.5 L1478.0 206.2 L1479.2 210.7 L1480.4 218.0 L1481.9 227.9 L1482.9 229.2 L1483.9 233.7 L1484.9 237.9 L1485.9 241.6 L1487.0 247.4 L1488.2 251.5 L1489.8 255.4 L1490.8 255.2 L1491.8 255.9 L1492.8 257.4 L1493.7 259.4 L1494.7 261.8 L1495.7 264.2 L1496.7 264.8 L1497.7 267.1 L1498.7 266.7 L1499.6 268.8 L1500.6 268.6 L1501.6 269.6 L1502.6 269.4 L1503.6 269.4 L1504.6 270.4 L1505.5 270.3 L1506.5 270.7 L1507.5 271.1 L1508.5 272.0 L1509.5 271.5 L1510.5 272.0 L1511.4 272.3 L1512.4 271.9 L1513.4 271.5 L1514.4 271.1 L1515.4 271.6 L1516.4 272.2 L1517.3 272.7 L1517.3 272.7Z" stroke="none" stroke-width="0.00" fill="#c99a98" fill-opacity="0.45"/>
<path d="M1243.0 272.7 L1348.2 272.7 L1349.2 272.1 L1350.1 271.5 L1351.1 271.7 L1352.1 271.9 L1353.1 272.1 L1354.1 272.3 L1355.1 271.7 L1356.1 271.1 L1357.0 271.9 L1358.0 271.8 L1359.0 272.2 L1360.0 272.5 L1361.0 272.5 L1362.1 272.5 L1363.1 272.5 L1364.2 272.5 L1365.3 272.5 L1366.3 272.5 L1367.4 272.5 L1368.4 272.5 L1369.5 272.5 L1370.5 272.5 L1371.6 272.5 L1372.6 272.5 L1373.7 272.5 L1374.7 272.5 L1375.7 269.2 L1376.7 270.3 L1377.7 271.5 L1378.7 271.1 L1379.7 270.8 L1380.6 270.1 L1381.6 270.5 L1382.6 271.4 L1383.6 272.1 L1384.6 271.7 L1385.6 270.7 L1386.5 270.7 L1387.5 269.7 L1388.5 268.9 L1389.5 267.2 L1390.5 269.2 L1391.5 270.1 L1392.4 270.1 L1393.4 269.4 L1394.4 269.1 L1395.4 269.2 L1396.4 268.2 L1397.4 268.2 L1398.3 265.0 L1399.3 262.7 L1400.3 261.3 L1401.3 263.9 L1402.3 267.2 L1403.3 266.2 L1404.2 266.1 L1405.2 266.3 L1406.2 265.2 L1407.2 265.2 L1408.2 263.9 L1409.2 262.9 L1410.1 260.3 L1411.1 260.3 L1412.1 259.3 L1413.1 259.6 L1414.1 258.8 L1415.1 256.7 L1416.0 258.0 L1417.0 257.4 L1418.0 255.8 L1419.0 254.9 L1420.0 254.0 L1421.0 253.4 L1421.9 252.4 L1422.9 252.8 L1423.9 252.3 L1424.9 251.5 L1425.9 250.1 L1426.9 248.8 L1427.8 246.1 L1428.8 245.6 L1429.8 240.4 L1430.8 240.1 L1431.8 235.7 L1432.8 228.9 L1433.7 223.9 L1434.7 224.8 L1435.7 223.5 L1436.7 221.9 L1437.7 220.5 L1438.7 220.0 L1439.6 218.3 L1440.6 220.2 L1441.6 209.6 L1442.6 210.2 L1443.6 197.9 L1444.6 184.6 L1445.5 185.6 L1446.5 181.1 L1447.5 182.6 L1448.5 182.3 L1449.5 183.0 L1450.5 176.7 L1451.4 172.0 L1452.4 169.2 L1453.4 170.5 L1454.4 164.9 L1455.4 159.7 L1456.4 159.4 L1457.3 159.0 L1458.5 160.2 L1459.7 153.1 L1461.0 149.2 L1462.3 159.0 L1463.2 157.3 L1464.2 158.0 L1465.2 170.2 L1466.2 174.7 L1467.2 173.8 L1468.2 175.5 L1469.2 176.7 L1470.3 170.8 L1471.5 175.8 L1472.7 168.8 L1473.9 175.3 L1475.1 188.5 L1476.0 191.8 L1477.0 198.5 L1478.0 206.2 L1479.2 210.7 L1480.4 218.0 L1481.9 227.9 L1482.9 229.2 L1483.9 233.7 L1484.9 237.9 L1485.9 241.6 L1487.0 247.4 L1488.2 251.5 L1489.8 255.4 L1490.8 255.2 L1491.8 255.9 L1492.8 257.4 L1493.7 259.4 L1494.7 261.8 L1495.7 264.2 L1496.7 264.8 L1497.7 267.1 L1498.7 266.7 L1499.6 268.8 L1500.6 268.6 L1501.6 269.6 L1502.6 269.4 L1503.6 269.4 L1504.6 270.4 L1505.5 270.3 L1506.5 270.7 L1507.5 271.1 L1508.5 272.0 L1509.5 271.5 L1510.5 272.0 L1511.4 272.3 L1512.4 271.9 L1513.4 271.5 L1514.4 271.1 L1515.4 271.6 L1516.4 272.2 L1517.3 272.7 L1611.6 272.7" stroke="#c99a98" stroke-width="3.20" fill="none" stroke-linejoin="miter" stroke-miterlimit="3"/>
<path d="M1284.3 346.4 L1284.3 346.4 L1285.6 345.0 L1287.2 346.4 L1288.3 346.4 L1289.3 346.4 L1290.4 346.4 L1291.4 346.4 L1292.5 346.4 L1293.6 346.4 L1294.6 346.4 L1295.7 346.4 L1296.7 346.4 L1297.8 346.4 L1298.9 346.4 L1299.9 346.4 L1301.0 346.4 L1302.0 346.4 L1303.1 346.4 L1304.2 346.4 L1305.2 346.4 L1306.3 346.4 L1307.3 346.4 L1308.4 346.4 L1309.4 346.4 L1310.5 346.4 L1311.6 346.4 L1312.6 346.4 L1313.7 346.4 L1314.7 346.4 L1315.8 346.4 L1316.9 346.4 L1317.9 346.4 L1319.0 346.4 L1320.0 346.4 L1321.1 346.4 L1322.2 346.4 L1323.2 346.4 L1324.3 346.4 L1325.3 346.4 L1326.4 346.4 L1327.5 346.4 L1328.5 346.4 L1329.6 346.4 L1330.6 346.4 L1331.7 346.4 L1332.7 346.4 L1333.8 346.4 L1334.9 346.4 L1335.9 346.4 L1337.0 346.4 L1338.0 346.4 L1339.1 346.4 L1340.2 346.4 L1341.2 346.4 L1342.3 346.4 L1343.3 345.1 L1344.2 343.8 L1345.2 343.2 L1346.2 343.8 L1347.2 343.4 L1348.2 344.4 L1349.2 344.1 L1350.1 344.6 L1351.1 344.4 L1352.1 344.4 L1353.1 344.4 L1354.1 342.3 L1355.1 340.5 L1356.1 342.2 L1357.0 343.9 L1358.0 345.4 L1359.0 344.3 L1360.0 342.8 L1361.0 341.5 L1362.0 340.9 L1362.9 339.8 L1363.9 339.5 L1364.9 340.7 L1365.9 342.5 L1366.9 341.6 L1367.9 339.5 L1368.8 338.5 L1369.8 339.2 L1370.8 339.3 L1371.8 340.5 L1372.8 339.6 L1373.8 339.7 L1374.7 340.5 L1375.7 339.5 L1376.7 337.2 L1377.7 335.6 L1378.7 334.4 L1379.7 330.6 L1380.6 330.1 L1381.6 327.7 L1382.6 326.5 L1383.6 323.6 L1384.6 323.8 L1385.6 323.7 L1386.5 320.8 L1387.5 317.7 L1388.5 315.9 L1389.5 312.0 L1390.5 310.5 L1391.5 308.0 L1392.4 307.0 L1393.4 304.1 L1394.4 301.7 L1395.4 301.8 L1396.4 300.2 L1397.4 286.4 L1398.3 284.9 L1399.3 283.7 L1400.3 284.4 L1401.3 281.7 L1402.3 272.6 L1403.3 266.7 L1404.2 267.7 L1405.2 264.8 L1406.2 263.6 L1407.2 254.9 L1408.2 253.4 L1409.2 249.0 L1410.1 244.3 L1411.1 242.0 L1412.1 244.8 L1413.1 241.2 L1414.1 229.7 L1415.1 219.5 L1416.0 217.3 L1417.0 217.6 L1418.0 212.5 L1419.0 215.6 L1420.0 218.6 L1421.0 221.5 L1421.9 211.7 L1422.9 209.7 L1424.5 200.8 L1425.7 208.3 L1426.9 209.7 L1428.4 219.5 L1429.8 225.4 L1430.8 230.4 L1431.8 231.3 L1432.8 232.5 L1433.7 236.0 L1434.7 242.2 L1435.7 245.4 L1436.7 249.0 L1437.7 251.7 L1438.7 257.4 L1439.6 262.8 L1440.6 264.1 L1441.6 266.5 L1442.6 272.6 L1443.6 278.0 L1444.6 284.1 L1445.5 292.3 L1446.5 300.6 L1447.5 308.0 L1448.5 312.5 L1449.5 318.2 L1450.5 319.8 L1451.4 321.9 L1452.4 324.6 L1453.4 326.7 L1454.4 329.7 L1455.4 332.5 L1456.4 333.3 L1457.3 335.1 L1458.3 336.6 L1459.3 338.5 L1460.3 338.4 L1461.3 339.4 L1462.3 341.6 L1463.2 342.1 L1464.2 343.4 L1465.2 343.5 L1466.2 345.1 L1467.2 345.1 L1468.2 346.0 L1469.3 346.1 L1470.4 346.1 L1471.5 346.2 L1472.7 346.2 L1473.8 346.3 L1474.9 346.3 L1476.0 346.4 L1477.0 346.2 L1478.0 345.9 L1479.0 345.7 L1480.0 345.4 L1481.0 345.7 L1481.9 345.9 L1482.9 346.2 L1483.9 346.4 L1484.9 346.4 L1486.0 346.4 L1487.0 346.4 L1488.0 346.4 L1489.0 346.4 L1490.1 346.4 L1491.1 346.4 L1492.1 346.4 L1493.2 346.4 L1494.2 346.4 L1495.2 346.4 L1496.2 346.4 L1497.3 346.4 L1498.3 346.4 L1499.3 346.4 L1500.4 346.4 L1501.4 346.4 L1502.4 346.4 L1503.4 346.4 L1504.5 346.4 L1505.5 346.4 L1506.5 346.4 L1507.5 343.4 L1508.5 341.5 L1509.5 343.3 L1510.5 346.4 L1510.5 346.4Z" stroke="none" stroke-width="0.00" fill="#2e2a9e" fill-opacity="0.47"/>
<path d="M1243.0 346.4 L1284.3 346.4 L1285.6 345.0 L1287.2 346.4 L1288.3 346.4 L1289.3 346.4 L1290.4 346.4 L1291.4 346.4 L1292.5 346.4 L1293.6 346.4 L1294.6 346.4 L1295.7 346.4 L1296.7 346.4 L1297.8 346.4 L1298.9 346.4 L1299.9 346.4 L1301.0 346.4 L1302.0 346.4 L1303.1 346.4 L1304.2 346.4 L1305.2 346.4 L1306.3 346.4 L1307.3 346.4 L1308.4 346.4 L1309.4 346.4 L1310.5 346.4 L1311.6 346.4 L1312.6 346.4 L1313.7 346.4 L1314.7 346.4 L1315.8 346.4 L1316.9 346.4 L1317.9 346.4 L1319.0 346.4 L1320.0 346.4 L1321.1 346.4 L1322.2 346.4 L1323.2 346.4 L1324.3 346.4 L1325.3 346.4 L1326.4 346.4 L1327.5 346.4 L1328.5 346.4 L1329.6 346.4 L1330.6 346.4 L1331.7 346.4 L1332.7 346.4 L1333.8 346.4 L1334.9 346.4 L1335.9 346.4 L1337.0 346.4 L1338.0 346.4 L1339.1 346.4 L1340.2 346.4 L1341.2 346.4 L1342.3 346.4 L1343.3 345.1 L1344.2 343.8 L1345.2 343.2 L1346.2 343.8 L1347.2 343.4 L1348.2 344.4 L1349.2 344.1 L1350.1 344.6 L1351.1 344.4 L1352.1 344.4 L1353.1 344.4 L1354.1 342.3 L1355.1 340.5 L1356.1 342.2 L1357.0 343.9 L1358.0 345.4 L1359.0 344.3 L1360.0 342.8 L1361.0 341.5 L1362.0 340.9 L1362.9 339.8 L1363.9 339.5 L1364.9 340.7 L1365.9 342.5 L1366.9 341.6 L1367.9 339.5 L1368.8 338.5 L1369.8 339.2 L1370.8 339.3 L1371.8 340.5 L1372.8 339.6 L1373.8 339.7 L1374.7 340.5 L1375.7 339.5 L1376.7 337.2 L1377.7 335.6 L1378.7 334.4 L1379.7 330.6 L1380.6 330.1 L1381.6 327.7 L1382.6 326.5 L1383.6 323.6 L1384.6 323.8 L1385.6 323.7 L1386.5 320.8 L1387.5 317.7 L1388.5 315.9 L1389.5 312.0 L1390.5 310.5 L1391.5 308.0 L1392.4 307.0 L1393.4 304.1 L1394.4 301.7 L1395.4 301.8 L1396.4 300.2 L1397.4 286.4 L1398.3 284.9 L1399.3 283.7 L1400.3 284.4 L1401.3 281.7 L1402.3 272.6 L1403.3 266.7 L1404.2 267.7 L1405.2 264.8 L1406.2 263.6 L1407.2 254.9 L1408.2 253.4 L1409.2 249.0 L1410.1 244.3 L1411.1 242.0 L1412.1 244.8 L1413.1 241.2 L1414.1 229.7 L1415.1 219.5 L1416.0 217.3 L1417.0 217.6 L1418.0 212.5 L1419.0 215.6 L1420.0 218.6 L1421.0 221.5 L1421.9 211.7 L1422.9 209.7 L1424.5 200.8 L1425.7 208.3 L1426.9 209.7 L1428.4 219.5 L1429.8 225.4 L1430.8 230.4 L1431.8 231.3 L1432.8 232.5 L1433.7 236.0 L1434.7 242.2 L1435.7 245.4 L1436.7 249.0 L1437.7 251.7 L1438.7 257.4 L1439.6 262.8 L1440.6 264.1 L1441.6 266.5 L1442.6 272.6 L1443.6 278.0 L1444.6 284.1 L1445.5 292.3 L1446.5 300.6 L1447.5 308.0 L1448.5 312.5 L1449.5 318.2 L1450.5 319.8 L1451.4 321.9 L1452.4 324.6 L1453.4 326.7 L1454.4 329.7 L1455.4 332.5 L1456.4 333.3 L1457.3 335.1 L1458.3 336.6 L1459.3 338.5 L1460.3 338.4 L1461.3 339.4 L1462.3 341.6 L1463.2 342.1 L1464.2 343.4 L1465.2 343.5 L1466.2 345.1 L1467.2 345.1 L1468.2 346.0 L1469.3 346.1 L1470.4 346.1 L1471.5 346.2 L1472.7 346.2 L1473.8 346.3 L1474.9 346.3 L1476.0 346.4 L1477.0 346.2 L1478.0 345.9 L1479.0 345.7 L1480.0 345.4 L1481.0 345.7 L1481.9 345.9 L1482.9 346.2 L1483.9 346.4 L1484.9 346.4 L1486.0 346.4 L1487.0 346.4 L1488.0 346.4 L1489.0 346.4 L1490.1 346.4 L1491.1 346.4 L1492.1 346.4 L1493.2 346.4 L1494.2 346.4 L1495.2 346.4 L1496.2 346.4 L1497.3 346.4 L1498.3 346.4 L1499.3 346.4 L1500.4 346.4 L1501.4 346.4 L1502.4 346.4 L1503.4 346.4 L1504.5 346.4 L1505.5 346.4 L1506.5 346.4 L1507.5 343.4 L1508.5 341.5 L1509.5 343.3 L1510.5 346.4 L1611.6 346.4" stroke="#2b3190" stroke-width="3.60" fill="none" stroke-linejoin="miter" stroke-miterlimit="3"/>
<path d="M1299.0 419.7 L1299.0 419.7 L1300.0 419.2 L1301.0 418.7 L1302.0 418.9 L1302.9 419.1 L1303.9 419.3 L1304.9 419.5 L1305.9 419.3 L1306.9 419.1 L1307.9 418.9 L1308.8 418.7 L1309.8 418.1 L1310.8 418.3 L1311.9 418.1 L1313.1 418.9 L1314.2 419.1 L1315.3 418.6 L1316.4 418.4 L1317.6 418.7 L1318.7 418.7 L1319.7 419.0 L1320.6 418.6 L1321.6 417.9 L1322.6 418.6 L1323.6 417.7 L1324.6 417.9 L1325.6 417.6 L1326.5 417.5 L1327.5 417.3 L1328.5 417.6 L1329.5 417.3 L1330.5 417.1 L1331.6 416.2 L1332.7 416.9 L1333.9 416.7 L1335.0 416.9 L1336.1 416.4 L1337.2 415.6 L1338.3 415.8 L1339.3 414.7 L1340.3 414.5 L1341.3 414.0 L1342.3 413.5 L1343.3 413.1 L1344.2 412.8 L1345.2 413.3 L1346.2 414.9 L1347.2 415.8 L1348.2 414.1 L1349.2 413.6 L1350.1 413.4 L1351.1 412.1 L1352.1 410.3 L1353.1 409.4 L1354.1 407.9 L1355.1 408.0 L1356.1 406.6 L1357.0 404.8 L1358.0 404.0 L1359.0 402.8 L1360.0 401.5 L1361.0 402.7 L1362.0 401.0 L1363.1 400.1 L1364.2 398.9 L1365.3 399.3 L1366.4 397.1 L1367.6 399.5 L1368.7 398.5 L1369.8 398.1 L1370.8 397.0 L1371.8 397.0 L1372.8 395.7 L1373.8 394.4 L1374.7 394.0 L1375.7 393.1 L1376.7 391.3 L1377.7 388.5 L1378.7 385.2 L1379.7 382.3 L1380.6 384.8 L1381.6 380.3 L1382.6 382.3 L1383.6 379.6 L1384.6 380.7 L1385.6 377.4 L1386.5 375.2 L1387.5 374.4 L1388.5 372.2 L1389.5 371.5 L1390.5 367.2 L1391.5 365.6 L1392.4 359.9 L1393.4 369.0 L1394.4 362.7 L1395.4 363.4 L1396.4 366.6 L1397.4 369.5 L1398.3 368.6 L1399.3 369.3 L1400.3 363.6 L1401.3 356.4 L1402.3 358.4 L1403.3 356.8 L1404.2 358.9 L1405.2 368.3 L1406.2 372.5 L1407.2 372.2 L1408.2 364.9 L1409.2 365.6 L1410.1 362.2 L1411.1 364.0 L1412.1 362.6 L1413.1 360.7 L1414.1 357.7 L1415.1 361.3 L1416.0 357.7 L1417.0 365.2 L1418.0 367.7 L1419.0 372.5 L1420.0 365.3 L1421.0 363.6 L1421.9 359.7 L1422.9 360.4 L1423.9 359.7 L1424.9 358.9 L1425.9 366.7 L1426.9 369.5 L1427.8 369.4 L1428.8 359.9 L1429.8 366.5 L1430.8 363.6 L1431.8 363.4 L1432.8 365.0 L1433.7 367.7 L1434.7 369.5 L1435.7 367.9 L1436.7 365.6 L1437.7 365.0 L1438.7 367.3 L1439.6 364.6 L1440.6 368.9 L1441.6 369.6 L1442.6 377.4 L1443.6 374.0 L1444.6 375.2 L1445.5 372.5 L1446.5 375.9 L1447.5 381.9 L1448.5 383.3 L1449.5 385.7 L1450.5 383.9 L1451.4 379.3 L1452.4 382.3 L1453.4 385.7 L1454.4 390.4 L1455.4 389.1 L1456.4 391.2 L1457.3 393.2 L1458.3 392.0 L1459.3 392.3 L1460.3 395.6 L1461.3 395.9 L1462.3 397.1 L1463.2 399.5 L1464.2 398.2 L1465.2 401.8 L1466.2 402.3 L1467.2 401.2 L1468.2 404.9 L1469.2 406.5 L1470.1 406.3 L1471.1 407.2 L1472.1 407.9 L1473.1 408.8 L1474.1 410.0 L1475.1 410.6 L1476.0 412.8 L1477.0 414.2 L1478.0 415.8 L1479.0 417.7 L1480.0 416.3 L1481.0 413.6 L1481.9 412.7 L1482.9 409.9 L1483.9 410.4 L1484.9 412.6 L1485.9 413.5 L1486.9 415.6 L1487.8 416.7 L1488.8 417.2 L1489.8 417.7 L1490.8 418.0 L1491.8 418.7 L1492.8 418.0 L1493.7 417.4 L1494.7 416.6 L1495.7 415.8 L1496.7 416.9 L1497.7 417.9 L1498.7 418.8 L1499.6 419.3 L1500.6 419.2 L1501.6 419.1 L1502.6 419.0 L1503.6 418.8 L1504.6 418.7 L1505.5 419.1 L1506.5 418.0 L1507.5 418.7 L1508.5 418.7 L1509.5 418.3 L1510.6 418.2 L1511.7 418.7 L1512.8 418.9 L1514.0 419.1 L1515.1 419.3 L1516.2 419.5 L1517.3 419.7 L1517.3 419.7Z" stroke="none" stroke-width="0.00" fill="#f7941d" fill-opacity="0.40"/>
<path d="M1243.0 419.7 L1299.0 419.7 L1300.0 419.2 L1301.0 418.7 L1302.0 418.9 L1302.9 419.1 L1303.9 419.3 L1304.9 419.5 L1305.9 419.3 L1306.9 419.1 L1307.9 418.9 L1308.8 418.7 L1309.8 418.1 L1310.8 418.3 L1311.9 418.1 L1313.1 418.9 L1314.2 419.1 L1315.3 418.6 L1316.4 418.4 L1317.6 418.7 L1318.7 418.7 L1319.7 419.0 L1320.6 418.6 L1321.6 417.9 L1322.6 418.6 L1323.6 417.7 L1324.6 417.9 L1325.6 417.6 L1326.5 417.5 L1327.5 417.3 L1328.5 417.6 L1329.5 417.3 L1330.5 417.1 L1331.6 416.2 L1332.7 416.9 L1333.9 416.7 L1335.0 416.9 L1336.1 416.4 L1337.2 415.6 L1338.3 415.8 L1339.3 414.7 L1340.3 414.5 L1341.3 414.0 L1342.3 413.5 L1343.3 413.1 L1344.2 412.8 L1345.2 413.3 L1346.2 414.9 L1347.2 415.8 L1348.2 414.1 L1349.2 413.6 L1350.1 413.4 L1351.1 412.1 L1352.1 410.3 L1353.1 409.4 L1354.1 407.9 L1355.1 408.0 L1356.1 406.6 L1357.0 404.8 L1358.0 404.0 L1359.0 402.8 L1360.0 401.5 L1361.0 402.7 L1362.0 401.0 L1363.1 400.1 L1364.2 398.9 L1365.3 399.3 L1366.4 397.1 L1367.6 399.5 L1368.7 398.5 L1369.8 398.1 L1370.8 397.0 L1371.8 397.0 L1372.8 395.7 L1373.8 394.4 L1374.7 394.0 L1375.7 393.1 L1376.7 391.3 L1377.7 388.5 L1378.7 385.2 L1379.7 382.3 L1380.6 384.8 L1381.6 380.3 L1382.6 382.3 L1383.6 379.6 L1384.6 380.7 L1385.6 377.4 L1386.5 375.2 L1387.5 374.4 L1388.5 372.2 L1389.5 371.5 L1390.5 367.2 L1391.5 365.6 L1392.4 359.9 L1393.4 369.0 L1394.4 362.7 L1395.4 363.4 L1396.4 366.6 L1397.4 369.5 L1398.3 368.6 L1399.3 369.3 L1400.3 363.6 L1401.3 356.4 L1402.3 358.4 L1403.3 356.8 L1404.2 358.9 L1405.2 368.3 L1406.2 372.5 L1407.2 372.2 L1408.2 364.9 L1409.2 365.6 L1410.1 362.2 L1411.1 364.0 L1412.1 362.6 L1413.1 360.7 L1414.1 357.7 L1415.1 361.3 L1416.0 357.7 L1417.0 365.2 L1418.0 367.7 L1419.0 372.5 L1420.0 365.3 L1421.0 363.6 L1421.9 359.7 L1422.9 360.4 L1423.9 359.7 L1424.9 358.9 L1425.9 366.7 L1426.9 369.5 L1427.8 369.4 L1428.8 359.9 L1429.8 366.5 L1430.8 363.6 L1431.8 363.4 L1432.8 365.0 L1433.7 367.7 L1434.7 369.5 L1435.7 367.9 L1436.7 365.6 L1437.7 365.0 L1438.7 367.3 L1439.6 364.6 L1440.6 368.9 L1441.6 369.6 L1442.6 377.4 L1443.6 374.0 L1444.6 375.2 L1445.5 372.5 L1446.5 375.9 L1447.5 381.9 L1448.5 383.3 L1449.5 385.7 L1450.5 383.9 L1451.4 379.3 L1452.4 382.3 L1453.4 385.7 L1454.4 390.4 L1455.4 389.1 L1456.4 391.2 L1457.3 393.2 L1458.3 392.0 L1459.3 392.3 L1460.3 395.6 L1461.3 395.9 L1462.3 397.1 L1463.2 399.5 L1464.2 398.2 L1465.2 401.8 L1466.2 402.3 L1467.2 401.2 L1468.2 404.9 L1469.2 406.5 L1470.1 406.3 L1471.1 407.2 L1472.1 407.9 L1473.1 408.8 L1474.1 410.0 L1475.1 410.6 L1476.0 412.8 L1477.0 414.2 L1478.0 415.8 L1479.0 417.7 L1480.0 416.3 L1481.0 413.6 L1481.9 412.7 L1482.9 409.9 L1483.9 410.4 L1484.9 412.6 L1485.9 413.5 L1486.9 415.6 L1487.8 416.7 L1488.8 417.2 L1489.8 417.7 L1490.8 418.0 L1491.8 418.7 L1492.8 418.0 L1493.7 417.4 L1494.7 416.6 L1495.7 415.8 L1496.7 416.9 L1497.7 417.9 L1498.7 418.8 L1499.6 419.3 L1500.6 419.2 L1501.6 419.1 L1502.6 419.0 L1503.6 418.8 L1504.6 418.7 L1505.5 419.1 L1506.5 418.0 L1507.5 418.7 L1508.5 418.7 L1509.5 418.3 L1510.6 418.2 L1511.7 418.7 L1512.8 418.9 L1514.0 419.1 L1515.1 419.3 L1516.2 419.5 L1517.3 419.7 L1611.6 419.7" stroke="#f29d3a" stroke-width="3.40" fill="none" stroke-linejoin="miter" stroke-miterlimit="3"/>
<path d="M1265.6 492.4 L1265.6 492.4 L1266.6 491.6 L1267.5 490.7 L1268.5 490.0 L1269.5 489.1 L1270.5 488.6 L1271.5 487.5 L1272.6 487.1 L1273.7 486.9 L1274.8 486.0 L1276.0 487.0 L1277.1 484.4 L1278.2 487.9 L1279.3 485.5 L1280.5 484.8 L1281.6 483.4 L1282.7 483.6 L1283.8 483.4 L1285.0 482.1 L1286.1 480.6 L1287.2 480.6 L1288.2 478.6 L1289.2 480.8 L1290.2 478.2 L1291.1 477.6 L1292.1 480.3 L1293.1 481.6 L1294.1 478.9 L1295.1 478.9 L1296.1 476.5 L1297.0 473.6 L1298.0 473.9 L1299.0 471.7 L1300.0 472.5 L1301.0 474.9 L1302.0 475.2 L1302.9 475.7 L1303.9 474.9 L1304.9 469.5 L1305.9 465.1 L1306.9 461.7 L1307.9 456.0 L1308.8 463.0 L1309.8 477.6 L1310.8 476.5 L1311.8 472.5 L1312.8 463.6 L1313.8 458.1 L1314.7 454.5 L1315.7 450.1 L1316.7 451.2 L1317.7 458.0 L1318.7 450.9 L1319.7 455.5 L1320.6 452.1 L1321.6 455.3 L1322.6 451.2 L1323.6 446.4 L1324.6 447.8 L1325.6 448.9 L1326.5 447.2 L1327.5 447.1 L1328.5 447.9 L1329.5 449.1 L1330.5 452.4 L1331.5 443.2 L1332.4 445.1 L1333.4 440.7 L1334.4 439.4 L1335.4 434.8 L1336.4 432.4 L1337.4 427.6 L1338.3 431.0 L1339.3 428.1 L1340.3 423.6 L1341.3 424.2 L1342.3 424.5 L1343.3 432.6 L1344.2 434.4 L1345.2 430.6 L1346.2 434.4 L1347.2 432.9 L1348.2 430.4 L1349.2 429.4 L1350.1 423.5 L1351.1 432.9 L1352.1 430.5 L1353.1 427.7 L1354.1 427.5 L1355.1 433.1 L1356.1 430.8 L1357.0 427.9 L1358.0 434.4 L1359.6 413.7 L1360.8 429.0 L1362.0 426.5 L1362.9 421.3 L1363.9 415.7 L1364.9 426.7 L1365.9 430.4 L1366.9 419.0 L1367.9 422.2 L1368.8 419.1 L1369.8 418.6 L1370.8 422.0 L1371.8 428.6 L1372.8 426.0 L1373.8 428.5 L1374.7 429.3 L1375.7 432.4 L1376.7 436.5 L1377.7 440.3 L1378.7 428.4 L1379.7 426.9 L1380.6 424.5 L1381.6 430.7 L1382.6 430.4 L1383.6 430.4 L1384.6 423.2 L1385.6 424.2 L1386.5 411.8 L1387.5 428.1 L1388.5 442.2 L1389.5 444.2 L1390.5 441.1 L1391.5 440.8 L1392.4 443.1 L1393.4 440.3 L1394.4 435.0 L1395.4 440.7 L1396.4 437.3 L1397.4 438.1 L1398.3 446.9 L1399.3 446.2 L1400.3 452.1 L1401.3 454.0 L1402.3 456.2 L1403.3 458.0 L1404.2 454.3 L1405.2 458.5 L1406.2 448.2 L1407.2 454.4 L1408.2 444.7 L1409.2 447.2 L1410.1 450.5 L1411.1 456.0 L1412.1 456.4 L1413.1 461.9 L1414.1 465.6 L1415.1 467.3 L1416.0 469.8 L1417.2 468.5 L1418.3 462.0 L1419.4 465.8 L1420.6 471.5 L1421.7 471.1 L1422.9 477.6 L1423.9 480.5 L1424.9 483.2 L1425.9 485.4 L1426.9 487.5 L1427.8 484.7 L1428.8 483.8 L1429.8 481.6 L1430.8 481.9 L1431.8 480.0 L1432.8 479.9 L1433.7 479.6 L1434.7 481.0 L1435.7 485.1 L1436.7 486.5 L1437.7 486.3 L1438.7 487.2 L1439.6 488.9 L1440.6 489.3 L1441.6 489.6 L1442.6 490.4 L1443.6 490.8 L1444.6 490.7 L1445.5 491.0 L1446.5 491.5 L1447.5 491.7 L1448.5 492.0 L1449.6 491.9 L1450.7 491.8 L1451.9 491.8 L1453.0 491.7 L1454.1 491.6 L1455.2 491.5 L1456.4 491.4 L1457.3 491.6 L1458.3 491.7 L1459.3 491.9 L1460.3 492.1 L1461.3 492.2 L1462.3 492.4 L1463.3 492.4 L1464.4 492.4 L1465.4 492.4 L1466.4 492.4 L1467.5 492.4 L1468.5 492.4 L1469.6 492.3 L1470.6 492.3 L1471.7 492.3 L1472.7 492.3 L1473.7 492.3 L1474.8 492.3 L1475.8 492.3 L1476.9 492.3 L1477.9 492.3 L1479.0 492.3 L1480.0 492.3 L1481.1 492.3 L1482.1 492.2 L1483.1 492.2 L1484.2 492.2 L1485.2 492.2 L1486.3 492.2 L1487.3 492.2 L1488.4 492.2 L1489.4 492.2 L1490.4 492.2 L1491.5 492.2 L1492.5 492.2 L1493.6 492.2 L1494.6 492.2 L1495.7 492.1 L1496.7 492.1 L1497.8 492.1 L1498.8 492.1 L1499.8 492.1 L1500.9 492.1 L1501.9 492.1 L1503.0 492.1 L1504.0 492.1 L1505.1 492.1 L1506.1 492.1 L1507.1 492.1 L1508.2 492.0 L1509.2 492.0 L1510.3 492.0 L1511.3 492.0 L1512.4 492.0 L1513.4 492.0 L1514.4 491.5 L1515.4 491.0 L1516.4 490.4 L1517.3 491.5 L1518.3 491.7 L1519.3 492.4 L1519.3 492.4Z" stroke="none" stroke-width="0.00" fill="#ef4130" fill-opacity="0.47"/>
<path d="M1243.0 492.4 L1265.6 492.4 L1266.6 491.6 L1267.5 490.7 L1268.5 490.0 L1269.5 489.1 L1270.5 488.6 L1271.5 487.5 L1272.6 487.1 L1273.7 486.9 L1274.8 486.0 L1276.0 487.0 L1277.1 484.4 L1278.2 487.9 L1279.3 485.5 L1280.5 484.8 L1281.6 483.4 L1282.7 483.6 L1283.8 483.4 L1285.0 482.1 L1286.1 480.6 L1287.2 480.6 L1288.2 478.6 L1289.2 480.8 L1290.2 478.2 L1291.1 477.6 L1292.1 480.3 L1293.1 481.6 L1294.1 478.9 L1295.1 478.9 L1296.1 476.5 L1297.0 473.6 L1298.0 473.9 L1299.0 471.7 L1300.0 472.5 L1301.0 474.9 L1302.0 475.2 L1302.9 475.7 L1303.9 474.9 L1304.9 469.5 L1305.9 465.1 L1306.9 461.7 L1307.9 456.0 L1308.8 463.0 L1309.8 477.6 L1310.8 476.5 L1311.8 472.5 L1312.8 463.6 L1313.8 458.1 L1314.7 454.5 L1315.7 450.1 L1316.7 451.2 L1317.7 458.0 L1318.7 450.9 L1319.7 455.5 L1320.6 452.1 L1321.6 455.3 L1322.6 451.2 L1323.6 446.4 L1324.6 447.8 L1325.6 448.9 L1326.5 447.2 L1327.5 447.1 L1328.5 447.9 L1329.5 449.1 L1330.5 452.4 L1331.5 443.2 L1332.4 445.1 L1333.4 440.7 L1334.4 439.4 L1335.4 434.8 L1336.4 432.4 L1337.4 427.6 L1338.3 431.0 L1339.3 428.1 L1340.3 423.6 L1341.3 424.2 L1342.3 424.5 L1343.3 432.6 L1344.2 434.4 L1345.2 430.6 L1346.2 434.4 L1347.2 432.9 L1348.2 430.4 L1349.2 429.4 L1350.1 423.5 L1351.1 432.9 L1352.1 430.5 L1353.1 427.7 L1354.1 427.5 L1355.1 433.1 L1356.1 430.8 L1357.0 427.9 L1358.0 434.4 L1359.6 413.7 L1360.8 429.0 L1362.0 426.5 L1362.9 421.3 L1363.9 415.7 L1364.9 426.7 L1365.9 430.4 L1366.9 419.0 L1367.9 422.2 L1368.8 419.1 L1369.8 418.6 L1370.8 422.0 L1371.8 428.6 L1372.8 426.0 L1373.8 428.5 L1374.7 429.3 L1375.7 432.4 L1376.7 436.5 L1377.7 440.3 L1378.7 428.4 L1379.7 426.9 L1380.6 424.5 L1381.6 430.7 L1382.6 430.4 L1383.6 430.4 L1384.6 423.2 L1385.6 424.2 L1386.5 411.8 L1387.5 428.1 L1388.5 442.2 L1389.5 444.2 L1390.5 441.1 L1391.5 440.8 L1392.4 443.1 L1393.4 440.3 L1394.4 435.0 L1395.4 440.7 L1396.4 437.3 L1397.4 438.1 L1398.3 446.9 L1399.3 446.2 L1400.3 452.1 L1401.3 454.0 L1402.3 456.2 L1403.3 458.0 L1404.2 454.3 L1405.2 458.5 L1406.2 448.2 L1407.2 454.4 L1408.2 444.7 L1409.2 447.2 L1410.1 450.5 L1411.1 456.0 L1412.1 456.4 L1413.1 461.9 L1414.1 465.6 L1415.1 467.3 L1416.0 469.8 L1417.2 468.5 L1418.3 462.0 L1419.4 465.8 L1420.6 471.5 L1421.7 471.1 L1422.9 477.6 L1423.9 480.5 L1424.9 483.2 L1425.9 485.4 L1426.9 487.5 L1427.8 484.7 L1428.8 483.8 L1429.8 481.6 L1430.8 481.9 L1431.8 480.0 L1432.8 479.9 L1433.7 479.6 L1434.7 481.0 L1435.7 485.1 L1436.7 486.5 L1437.7 486.3 L1438.7 487.2 L1439.6 488.9 L1440.6 489.3 L1441.6 489.6 L1442.6 490.4 L1443.6 490.8 L1444.6 490.7 L1445.5 491.0 L1446.5 491.5 L1447.5 491.7 L1448.5 492.0 L1449.6 491.9 L1450.7 491.8 L1451.9 491.8 L1453.0 491.7 L1454.1 491.6 L1455.2 491.5 L1456.4 491.4 L1457.3 491.6 L1458.3 491.7 L1459.3 491.9 L1460.3 492.1 L1461.3 492.2 L1462.3 492.4 L1463.3 492.4 L1464.4 492.4 L1465.4 492.4 L1466.4 492.4 L1467.5 492.4 L1468.5 492.4 L1469.6 492.3 L1470.6 492.3 L1471.7 492.3 L1472.7 492.3 L1473.7 492.3 L1474.8 492.3 L1475.8 492.3 L1476.9 492.3 L1477.9 492.3 L1479.0 492.3 L1480.0 492.3 L1481.1 492.3 L1482.1 492.2 L1483.1 492.2 L1484.2 492.2 L1485.2 492.2 L1486.3 492.2 L1487.3 492.2 L1488.4 492.2 L1489.4 492.2 L1490.4 492.2 L1491.5 492.2 L1492.5 492.2 L1493.6 492.2 L1494.6 492.2 L1495.7 492.1 L1496.7 492.1 L1497.8 492.1 L1498.8 492.1 L1499.8 492.1 L1500.9 492.1 L1501.9 492.1 L1503.0 492.1 L1504.0 492.1 L1505.1 492.1 L1506.1 492.1 L1507.1 492.1 L1508.2 492.0 L1509.2 492.0 L1510.3 492.0 L1511.3 492.0 L1512.4 492.0 L1513.4 492.0 L1514.4 491.5 L1515.4 491.0 L1516.4 490.4 L1517.3 491.5 L1518.3 491.7 L1519.3 492.4 L1611.6 492.4" stroke="#e8393b" stroke-width="3.40" fill="none" stroke-linejoin="miter" stroke-miterlimit="3"/>
<rect x="1246.0" y="47.2" width="365.6" height="445.4" fill="none" stroke="#000" stroke-width="2.3"/>
<line x1="1246.15" y1="489.60" x2="1246.15" y2="501.90" stroke="#000" stroke-width="2.50" />
<line x1="1357.95" y1="489.60" x2="1357.95" y2="501.90" stroke="#000" stroke-width="2.50" />
<line x1="1446.77" y1="489.60" x2="1446.77" y2="501.90" stroke="#000" stroke-width="2.50" />
<line x1="1530.83" y1="489.60" x2="1530.83" y2="501.90" stroke="#000" stroke-width="2.50" />
<line x1="1610.95" y1="489.60" x2="1610.95" y2="501.90" stroke="#000" stroke-width="2.50" />
<line x1="1325.86" y1="489.60" x2="1325.86" y2="497.80" stroke="#000" stroke-width="2.50" />
<line x1="1422.13" y1="489.60" x2="1422.13" y2="497.80" stroke="#000" stroke-width="2.50" />
<line x1="1504.33" y1="489.60" x2="1504.33" y2="497.80" stroke="#000" stroke-width="2.50" />
<line x1="1586.11" y1="489.60" x2="1586.11" y2="497.80" stroke="#000" stroke-width="2.50" />
<line x1="1267.27" y1="489.60" x2="1267.27" y2="495.60" stroke="#000" stroke-width="2.50" />
<line x1="1285.90" y1="489.60" x2="1285.90" y2="495.60" stroke="#000" stroke-width="2.50" />
<line x1="1304.53" y1="489.60" x2="1304.53" y2="495.60" stroke="#000" stroke-width="2.50" />
<line x1="1315.92" y1="489.60" x2="1315.92" y2="495.60" stroke="#000" stroke-width="2.50" />
<line x1="1333.52" y1="489.60" x2="1333.52" y2="495.60" stroke="#000" stroke-width="2.50" />
<line x1="1339.73" y1="489.60" x2="1339.73" y2="495.60" stroke="#000" stroke-width="2.50" />
<line x1="1344.91" y1="489.60" x2="1344.91" y2="495.60" stroke="#000" stroke-width="2.50" />
<line x1="1349.67" y1="489.60" x2="1349.67" y2="495.60" stroke="#000" stroke-width="2.50" />
<line x1="1353.81" y1="489.60" x2="1353.81" y2="495.60" stroke="#000" stroke-width="2.50" />
<line x1="1387.35" y1="489.60" x2="1387.35" y2="495.60" stroke="#000" stroke-width="2.50" />
<line x1="1403.50" y1="489.60" x2="1403.50" y2="495.60" stroke="#000" stroke-width="2.50" />
<line x1="1414.27" y1="489.60" x2="1414.27" y2="495.60" stroke="#000" stroke-width="2.50" />
<line x1="1428.76" y1="489.60" x2="1428.76" y2="495.60" stroke="#000" stroke-width="2.50" />
<line x1="1433.93" y1="489.60" x2="1433.93" y2="495.60" stroke="#000" stroke-width="2.50" />
<line x1="1438.07" y1="489.60" x2="1438.07" y2="495.60" stroke="#000" stroke-width="2.50" />
<line x1="1442.22" y1="489.60" x2="1442.22" y2="495.60" stroke="#000" stroke-width="2.50" />
<line x1="1472.24" y1="489.60" x2="1472.24" y2="495.60" stroke="#000" stroke-width="2.50" />
<line x1="1486.73" y1="489.60" x2="1486.73" y2="495.60" stroke="#000" stroke-width="2.50" />
<line x1="1497.08" y1="489.60" x2="1497.08" y2="495.60" stroke="#000" stroke-width="2.50" />
<line x1="1510.54" y1="489.60" x2="1510.54" y2="495.60" stroke="#000" stroke-width="2.50" />
<line x1="1515.71" y1="489.60" x2="1515.71" y2="495.60" stroke="#000" stroke-width="2.50" />
<line x1="1519.86" y1="489.60" x2="1519.86" y2="495.60" stroke="#000" stroke-width="2.50" />
<line x1="1524.00" y1="489.60" x2="1524.00" y2="495.60" stroke="#000" stroke-width="2.50" />
<line x1="1555.05" y1="489.60" x2="1555.05" y2="495.60" stroke="#000" stroke-width="2.50" />
<line x1="1569.54" y1="489.60" x2="1569.54" y2="495.60" stroke="#000" stroke-width="2.50" />
<line x1="1579.90" y1="489.60" x2="1579.90" y2="495.60" stroke="#000" stroke-width="2.50" />
<line x1="1591.90" y1="489.60" x2="1591.90" y2="495.60" stroke="#000" stroke-width="2.50" />
<line x1="1596.46" y1="489.60" x2="1596.46" y2="495.60" stroke="#000" stroke-width="2.50" />
<line x1="1600.60" y1="489.60" x2="1600.60" y2="495.60" stroke="#000" stroke-width="2.50" />
<line x1="1604.74" y1="489.60" x2="1604.74" y2="495.60" stroke="#000" stroke-width="2.50" />
<text x="1254.5" y="72.6" font-size="24.80"><tspan font-family="'Liberation Serif',serif" font-size="28.8" letter-spacing="0.7">α</tspan>CD22 binding</text>
<text x="1222.8" y="272.4" font-size="24.80" text-anchor="middle" transform="rotate(-90 1222.8 272.4)">Normalized cell counts</text>
<text x="1604.9" y="147.2" font-size="24.30" text-anchor="end">WSU</text>
<text x="1604.9" y="177.5" font-size="24.30" text-anchor="end">unstained</text>
<text x="1604.9" y="248.9" font-size="24.30" text-anchor="end">WSU</text>
<text x="1604.9" y="325.6" font-size="24.30" text-anchor="end">SU-DHL-4</text>
<text x="1604.9" y="397.6" font-size="24.30" text-anchor="end">Raji</text>
<text x="1604.9" y="462.7" font-size="24.30" text-anchor="end">Ly-19</text>
<text x="1246.5" y="537.3" font-size="24.80" text-anchor="middle">0</text>
<text x="1347.3" y="537.3" font-size="24.80">10</text>
<text x="1374.8" y="521.8" font-size="19.50">1</text>
<text x="1435.3" y="537.3" font-size="24.80">10</text>
<text x="1462.8" y="521.8" font-size="19.50">2</text>
<text x="1518.8" y="537.3" font-size="24.80">10</text>
<text x="1546.3" y="521.8" font-size="19.50">3</text>
<text x="1579.9" y="537.3" font-size="24.80">10</text>
<text x="1607.4" y="521.8" font-size="19.50">4</text>
<text x="1426.2" y="571.5" font-size="24.80" text-anchor="middle">AF-488</text>
</g>
<g id="panel-d" fill="#000">
<text transform="translate(1672.5 36.6) scale(1.00 1)" font-size="50.0" font-weight="bold" fill="#231f20">d</text>
<line x1="1678.00" y1="273.60" x2="1760.00" y2="273.60" stroke="#c99a98" stroke-width="1.00" stroke-opacity="0.10"/>
<line x1="1678.00" y1="347.30" x2="1760.00" y2="347.30" stroke="#2b3190" stroke-width="1.00" stroke-opacity="0.10"/>
<line x1="1678.00" y1="420.30" x2="1760.00" y2="420.30" stroke="#f29d3a" stroke-width="1.00" stroke-opacity="0.10"/>
<line x1="1678.00" y1="492.50" x2="1760.00" y2="492.50" stroke="#e8393b" stroke-width="1.00" stroke-opacity="0.10"/>
<path d="M1803.2 201.0 L1803.2 201.0 L1804.2 200.8 L1805.2 200.6 L1806.2 200.4 L1807.2 200.3 L1808.3 200.1 L1809.3 199.7 L1810.3 199.4 L1811.3 199.6 L1812.4 199.6 L1813.4 199.4 L1814.4 198.8 L1815.4 198.1 L1816.4 198.3 L1817.5 198.5 L1818.5 198.2 L1819.5 197.8 L1820.5 197.5 L1821.6 197.1 L1822.6 197.3 L1823.6 197.4 L1824.6 197.2 L1825.6 197.0 L1826.7 197.2 L1827.7 196.9 L1828.7 197.1 L1829.7 197.1 L1830.8 196.8 L1831.8 197.5 L1833.0 194.5 L1834.2 191.4 L1835.2 190.4 L1836.1 190.8 L1837.0 189.4 L1837.9 189.3 L1838.9 189.9 L1840.0 190.9 L1841.0 191.4 L1842.0 188.3 L1843.0 184.7 L1844.1 182.2 L1845.1 180.3 L1846.1 177.4 L1847.1 176.1 L1848.5 168.9 L1849.4 167.2 L1850.3 166.7 L1851.2 167.9 L1852.2 160.8 L1853.3 158.3 L1854.3 151.5 L1855.3 139.7 L1856.3 129.0 L1857.3 129.1 L1858.4 127.0 L1859.4 119.6 L1860.4 115.7 L1861.4 113.1 L1862.5 110.5 L1863.5 108.6 L1864.4 106.2 L1865.2 107.0 L1866.1 104.5 L1867.2 91.2 L1868.6 105.5 L1869.6 105.8 L1870.6 106.5 L1871.5 107.2 L1872.4 100.4 L1873.3 104.1 L1874.5 109.2 L1875.7 112.7 L1876.8 116.2 L1877.8 119.8 L1878.8 127.9 L1879.8 132.4 L1880.9 135.2 L1882.1 136.9 L1883.3 136.2 L1884.2 139.1 L1885.1 143.3 L1886.0 148.5 L1887.0 151.1 L1888.0 155.3 L1889.0 157.7 L1890.1 159.5 L1891.1 166.1 L1892.1 168.9 L1893.1 169.1 L1894.1 167.9 L1895.2 174.6 L1896.2 182.2 L1897.2 185.1 L1898.2 186.8 L1899.3 189.3 L1900.3 189.9 L1901.3 191.4 L1902.3 192.4 L1903.3 191.9 L1904.4 191.7 L1905.4 191.4 L1906.4 193.3 L1907.4 195.8 L1908.5 196.7 L1909.5 197.9 L1910.5 199.6 L1911.5 198.0 L1912.5 195.7 L1913.6 193.4 L1914.6 194.1 L1915.6 194.5 L1916.6 196.2 L1917.7 196.5 L1918.7 196.9 L1919.7 197.0 L1920.7 197.1 L1921.7 198.0 L1922.8 197.3 L1923.8 198.1 L1924.8 198.6 L1925.8 198.2 L1926.9 198.7 L1927.9 198.7 L1928.9 198.6 L1929.9 199.0 L1930.9 199.4 L1932.0 199.9 L1933.0 200.0 L1934.0 200.0 L1935.0 200.0 L1936.1 200.1 L1937.1 200.1 L1938.1 200.2 L1939.1 200.2 L1940.1 200.3 L1941.2 200.3 L1942.2 200.4 L1943.2 200.4 L1944.2 200.5 L1945.3 200.5 L1946.3 200.6 L1947.3 200.6 L1948.4 200.6 L1949.5 200.6 L1950.5 200.7 L1951.6 200.7 L1952.7 200.7 L1953.7 200.7 L1954.8 200.7 L1955.9 200.8 L1956.9 200.8 L1958.0 200.8 L1959.1 200.8 L1960.1 200.8 L1961.2 200.8 L1962.3 200.9 L1963.3 200.9 L1964.4 200.9 L1965.5 200.9 L1966.5 200.9 L1967.6 200.9 L1968.7 201.0 L1969.7 201.0 L1970.8 201.0 L1970.8 201.0Z" stroke="none" stroke-width="0.00" fill="#cfd1d2" fill-opacity="0.50"/>
<path d="M1759.5 201.0 L1803.2 201.0 L1804.2 200.8 L1805.2 200.6 L1806.2 200.4 L1807.2 200.3 L1808.3 200.1 L1809.3 199.7 L1810.3 199.4 L1811.3 199.6 L1812.4 199.6 L1813.4 199.4 L1814.4 198.8 L1815.4 198.1 L1816.4 198.3 L1817.5 198.5 L1818.5 198.2 L1819.5 197.8 L1820.5 197.5 L1821.6 197.1 L1822.6 197.3 L1823.6 197.4 L1824.6 197.2 L1825.6 197.0 L1826.7 197.2 L1827.7 196.9 L1828.7 197.1 L1829.7 197.1 L1830.8 196.8 L1831.8 197.5 L1833.0 194.5 L1834.2 191.4 L1835.2 190.4 L1836.1 190.8 L1837.0 189.4 L1837.9 189.3 L1838.9 189.9 L1840.0 190.9 L1841.0 191.4 L1842.0 188.3 L1843.0 184.7 L1844.1 182.2 L1845.1 180.3 L1846.1 177.4 L1847.1 176.1 L1848.5 168.9 L1849.4 167.2 L1850.3 166.7 L1851.2 167.9 L1852.2 160.8 L1853.3 158.3 L1854.3 151.5 L1855.3 139.7 L1856.3 129.0 L1857.3 129.1 L1858.4 127.0 L1859.4 119.6 L1860.4 115.7 L1861.4 113.1 L1862.5 110.5 L1863.5 108.6 L1864.4 106.2 L1865.2 107.0 L1866.1 104.5 L1867.2 91.2 L1868.6 105.5 L1869.6 105.8 L1870.6 106.5 L1871.5 107.2 L1872.4 100.4 L1873.3 104.1 L1874.5 109.2 L1875.7 112.7 L1876.8 116.2 L1877.8 119.8 L1878.8 127.9 L1879.8 132.4 L1880.9 135.2 L1882.1 136.9 L1883.3 136.2 L1884.2 139.1 L1885.1 143.3 L1886.0 148.5 L1887.0 151.1 L1888.0 155.3 L1889.0 157.7 L1890.1 159.5 L1891.1 166.1 L1892.1 168.9 L1893.1 169.1 L1894.1 167.9 L1895.2 174.6 L1896.2 182.2 L1897.2 185.1 L1898.2 186.8 L1899.3 189.3 L1900.3 189.9 L1901.3 191.4 L1902.3 192.4 L1903.3 191.9 L1904.4 191.7 L1905.4 191.4 L1906.4 193.3 L1907.4 195.8 L1908.5 196.7 L1909.5 197.9 L1910.5 199.6 L1911.5 198.0 L1912.5 195.7 L1913.6 193.4 L1914.6 194.1 L1915.6 194.5 L1916.6 196.2 L1917.7 196.5 L1918.7 196.9 L1919.7 197.0 L1920.7 197.1 L1921.7 198.0 L1922.8 197.3 L1923.8 198.1 L1924.8 198.6 L1925.8 198.2 L1926.9 198.7 L1927.9 198.7 L1928.9 198.6 L1929.9 199.0 L1930.9 199.4 L1932.0 199.9 L1933.0 200.0 L1934.0 200.0 L1935.0 200.0 L1936.1 200.1 L1937.1 200.1 L1938.1 200.2 L1939.1 200.2 L1940.1 200.3 L1941.2 200.3 L1942.2 200.4 L1943.2 200.4 L1944.2 200.5 L1945.3 200.5 L1946.3 200.6 L1947.3 200.6 L1948.4 200.6 L1949.5 200.6 L1950.5 200.7 L1951.6 200.7 L1952.7 200.7 L1953.7 200.7 L1954.8 200.7 L1955.9 200.8 L1956.9 200.8 L1958.0 200.8 L1959.1 200.8 L1960.1 200.8 L1961.2 200.8 L1962.3 200.9 L1963.3 200.9 L1964.4 200.9 L1965.5 200.9 L1966.5 200.9 L1967.6 200.9 L1968.7 201.0 L1969.7 201.0 L1970.8 201.0 L2141.3 201.0" stroke="#858585" stroke-width="2.30" fill="none" stroke-linejoin="miter" stroke-miterlimit="3"/>
<path d="M1799.1 273.6 L1799.1 273.6 L1800.1 273.4 L1801.1 273.2 L1802.1 273.1 L1803.2 273.0 L1804.2 272.9 L1805.2 272.8 L1806.2 272.7 L1807.2 272.4 L1808.3 272.5 L1809.3 271.4 L1810.3 272.1 L1811.3 272.2 L1812.4 271.9 L1813.4 271.6 L1814.4 271.6 L1815.4 271.5 L1816.4 270.9 L1817.5 270.9 L1818.5 270.3 L1819.5 270.4 L1820.5 270.1 L1821.6 270.8 L1822.6 270.8 L1823.6 270.8 L1824.6 271.3 L1825.6 270.9 L1826.7 271.1 L1827.7 271.1 L1828.7 270.5 L1829.7 270.7 L1830.8 270.2 L1831.8 269.6 L1832.8 269.2 L1833.8 269.1 L1834.8 267.7 L1835.9 264.8 L1836.9 263.9 L1837.9 261.2 L1838.9 259.9 L1840.0 261.1 L1841.0 262.1 L1842.0 263.0 L1843.0 260.5 L1844.1 256.9 L1845.1 253.8 L1846.1 249.4 L1847.1 248.8 L1848.1 245.6 L1849.2 240.9 L1850.2 237.6 L1851.2 235.4 L1852.2 231.7 L1853.3 225.9 L1854.3 223.1 L1855.3 222.5 L1856.3 225.1 L1857.3 218.4 L1858.4 210.8 L1859.4 199.5 L1860.4 186.3 L1861.4 178.6 L1862.5 174.6 L1863.5 169.9 L1864.5 159.4 L1865.5 158.7 L1866.9 163.8 L1868.0 158.7 L1869.0 155.6 L1870.0 165.5 L1871.0 169.9 L1871.9 174.1 L1872.7 178.1 L1873.5 176.6 L1874.3 169.9 L1875.3 173.4 L1876.4 180.2 L1877.6 180.8 L1878.8 184.3 L1879.8 189.1 L1880.9 194.0 L1881.9 196.5 L1882.9 196.4 L1883.9 199.9 L1884.9 200.6 L1886.0 207.0 L1887.0 217.0 L1888.0 223.0 L1889.0 226.8 L1890.1 231.3 L1891.1 235.9 L1892.1 240.4 L1893.1 243.5 L1894.1 244.9 L1895.2 249.2 L1896.2 253.8 L1897.2 256.2 L1898.2 257.4 L1899.3 259.9 L1900.3 262.1 L1901.3 261.9 L1902.3 263.2 L1903.3 265.0 L1904.4 265.8 L1905.4 266.4 L1906.4 266.8 L1907.4 267.3 L1908.5 268.1 L1909.5 268.8 L1910.5 269.6 L1911.5 270.0 L1912.5 270.7 L1913.6 271.1 L1914.6 270.1 L1915.6 269.5 L1916.6 268.6 L1917.7 268.5 L1918.7 267.1 L1919.7 268.6 L1920.7 269.9 L1921.7 271.1 L1922.8 270.6 L1923.8 269.8 L1924.8 269.1 L1925.8 270.1 L1926.9 271.4 L1927.9 271.5 L1928.9 272.7 L1929.9 273.6 L1930.9 273.0 L1932.0 272.1 L1933.0 271.9 L1934.0 271.1 L1935.0 271.2 L1936.1 271.9 L1937.1 272.3 L1938.1 272.2 L1939.1 272.0 L1940.1 272.7 L1941.2 272.9 L1942.2 273.2 L1943.2 271.7 L1944.2 270.1 L1945.3 272.3 L1946.3 273.6 L1946.3 273.6Z" stroke="none" stroke-width="0.00" fill="#c99a98" fill-opacity="0.45"/>
<path d="M1758.5 273.6 L1799.1 273.6 L1800.1 273.4 L1801.1 273.2 L1802.1 273.1 L1803.2 273.0 L1804.2 272.9 L1805.2 272.8 L1806.2 272.7 L1807.2 272.4 L1808.3 272.5 L1809.3 271.4 L1810.3 272.1 L1811.3 272.2 L1812.4 271.9 L1813.4 271.6 L1814.4 271.6 L1815.4 271.5 L1816.4 270.9 L1817.5 270.9 L1818.5 270.3 L1819.5 270.4 L1820.5 270.1 L1821.6 270.8 L1822.6 270.8 L1823.6 270.8 L1824.6 271.3 L1825.6 270.9 L1826.7 271.1 L1827.7 271.1 L1828.7 270.5 L1829.7 270.7 L1830.8 270.2 L1831.8 269.6 L1832.8 269.2 L1833.8 269.1 L1834.8 267.7 L1835.9 264.8 L1836.9 263.9 L1837.9 261.2 L1838.9 259.9 L1840.0 261.1 L1841.0 262.1 L1842.0 263.0 L1843.0 260.5 L1844.1 256.9 L1845.1 253.8 L1846.1 249.4 L1847.1 248.8 L1848.1 245.6 L1849.2 240.9 L1850.2 237.6 L1851.2 235.4 L1852.2 231.7 L1853.3 225.9 L1854.3 223.1 L1855.3 222.5 L1856.3 225.1 L1857.3 218.4 L1858.4 210.8 L1859.4 199.5 L1860.4 186.3 L1861.4 178.6 L1862.5 174.6 L1863.5 169.9 L1864.5 159.4 L1865.5 158.7 L1866.9 163.8 L1868.0 158.7 L1869.0 155.6 L1870.0 165.5 L1871.0 169.9 L1871.9 174.1 L1872.7 178.1 L1873.5 176.6 L1874.3 169.9 L1875.3 173.4 L1876.4 180.2 L1877.6 180.8 L1878.8 184.3 L1879.8 189.1 L1880.9 194.0 L1881.9 196.5 L1882.9 196.4 L1883.9 199.9 L1884.9 200.6 L1886.0 207.0 L1887.0 217.0 L1888.0 223.0 L1889.0 226.8 L1890.1 231.3 L1891.1 235.9 L1892.1 240.4 L1893.1 243.5 L1894.1 244.9 L1895.2 249.2 L1896.2 253.8 L1897.2 256.2 L1898.2 257.4 L1899.3 259.9 L1900.3 262.1 L1901.3 261.9 L1902.3 263.2 L1903.3 265.0 L1904.4 265.8 L1905.4 266.4 L1906.4 266.8 L1907.4 267.3 L1908.5 268.1 L1909.5 268.8 L1910.5 269.6 L1911.5 270.0 L1912.5 270.7 L1913.6 271.1 L1914.6 270.1 L1915.6 269.5 L1916.6 268.6 L1917.7 268.5 L1918.7 267.1 L1919.7 268.6 L1920.7 269.9 L1921.7 271.1 L1922.8 270.6 L1923.8 269.8 L1924.8 269.1 L1925.8 270.1 L1926.9 271.4 L1927.9 271.5 L1928.9 272.7 L1929.9 273.6 L1930.9 273.0 L1932.0 272.1 L1933.0 271.9 L1934.0 271.1 L1935.0 271.2 L1936.1 271.9 L1937.1 272.3 L1938.1 272.2 L1939.1 272.0 L1940.1 272.7 L1941.2 272.9 L1942.2 273.2 L1943.2 271.7 L1944.2 270.1 L1945.3 272.3 L1946.3 273.6 L2141.3 273.6" stroke="#c99a98" stroke-width="3.20" fill="none" stroke-linejoin="miter" stroke-miterlimit="3"/>
<path d="M1840.0 347.3 L1840.0 347.3 L1841.0 346.9 L1842.0 346.5 L1843.0 345.3 L1844.1 345.7 L1845.1 346.3 L1846.1 346.1 L1847.1 346.4 L1848.1 346.7 L1849.2 346.3 L1850.2 346.0 L1851.2 345.4 L1852.2 344.6 L1853.3 345.2 L1854.3 345.4 L1855.3 345.6 L1856.3 346.1 L1857.3 344.5 L1858.4 343.7 L1859.4 342.1 L1860.4 341.6 L1861.4 340.8 L1862.5 340.5 L1863.5 340.2 L1864.5 339.5 L1865.5 339.6 L1866.5 339.5 L1867.6 337.4 L1868.6 336.5 L1869.6 335.2 L1870.6 333.1 L1871.7 331.5 L1872.7 330.3 L1873.7 332.4 L1874.7 331.9 L1875.7 332.7 L1876.8 331.4 L1877.8 328.4 L1878.8 328.6 L1879.8 326.7 L1880.9 325.2 L1881.9 325.3 L1882.9 324.3 L1883.9 321.2 L1884.9 318.1 L1886.0 313.9 L1887.0 308.9 L1888.0 301.4 L1889.0 296.6 L1890.1 288.4 L1891.5 300.7 L1892.3 300.6 L1893.1 288.0 L1894.1 293.3 L1895.2 300.7 L1896.2 303.0 L1897.2 298.6 L1898.2 302.4 L1899.3 303.4 L1900.3 303.8 L1901.3 304.4 L1902.3 300.4 L1903.3 300.7 L1904.4 295.0 L1905.4 294.2 L1906.4 292.5 L1907.8 298.6 L1908.7 294.2 L1909.5 284.7 L1910.5 291.3 L1911.5 300.7 L1912.4 295.1 L1913.3 288.6 L1914.2 287.4 L1915.6 304.8 L1916.6 309.3 L1917.7 315.0 L1918.7 321.9 L1919.7 322.8 L1920.7 324.2 L1921.7 326.7 L1922.8 326.2 L1923.8 329.3 L1924.8 330.1 L1925.8 329.1 L1926.9 330.5 L1927.9 331.4 L1928.9 331.8 L1929.9 328.7 L1930.9 327.3 L1932.0 329.3 L1933.0 332.3 L1934.0 335.4 L1935.0 338.2 L1936.1 337.7 L1937.1 339.8 L1938.1 340.6 L1939.1 343.0 L1940.1 343.0 L1941.2 344.6 L1942.2 344.6 L1943.2 344.8 L1944.2 342.9 L1945.3 341.8 L1946.3 342.6 L1947.3 342.9 L1948.3 344.0 L1949.3 344.1 L1950.4 345.7 L1951.4 345.3 L1952.4 345.6 L1953.4 345.9 L1954.5 344.6 L1955.5 343.7 L1956.5 344.8 L1957.5 344.7 L1958.5 342.6 L1959.6 344.5 L1960.6 345.7 L1961.6 347.3 L1961.6 347.3Z" stroke="none" stroke-width="0.00" fill="#2e2a9e" fill-opacity="0.47"/>
<path d="M1757.0 347.3 L1840.0 347.3 L1841.0 346.9 L1842.0 346.5 L1843.0 345.3 L1844.1 345.7 L1845.1 346.3 L1846.1 346.1 L1847.1 346.4 L1848.1 346.7 L1849.2 346.3 L1850.2 346.0 L1851.2 345.4 L1852.2 344.6 L1853.3 345.2 L1854.3 345.4 L1855.3 345.6 L1856.3 346.1 L1857.3 344.5 L1858.4 343.7 L1859.4 342.1 L1860.4 341.6 L1861.4 340.8 L1862.5 340.5 L1863.5 340.2 L1864.5 339.5 L1865.5 339.6 L1866.5 339.5 L1867.6 337.4 L1868.6 336.5 L1869.6 335.2 L1870.6 333.1 L1871.7 331.5 L1872.7 330.3 L1873.7 332.4 L1874.7 331.9 L1875.7 332.7 L1876.8 331.4 L1877.8 328.4 L1878.8 328.6 L1879.8 326.7 L1880.9 325.2 L1881.9 325.3 L1882.9 324.3 L1883.9 321.2 L1884.9 318.1 L1886.0 313.9 L1887.0 308.9 L1888.0 301.4 L1889.0 296.6 L1890.1 288.4 L1891.5 300.7 L1892.3 300.6 L1893.1 288.0 L1894.1 293.3 L1895.2 300.7 L1896.2 303.0 L1897.2 298.6 L1898.2 302.4 L1899.3 303.4 L1900.3 303.8 L1901.3 304.4 L1902.3 300.4 L1903.3 300.7 L1904.4 295.0 L1905.4 294.2 L1906.4 292.5 L1907.8 298.6 L1908.7 294.2 L1909.5 284.7 L1910.5 291.3 L1911.5 300.7 L1912.4 295.1 L1913.3 288.6 L1914.2 287.4 L1915.6 304.8 L1916.6 309.3 L1917.7 315.0 L1918.7 321.9 L1919.7 322.8 L1920.7 324.2 L1921.7 326.7 L1922.8 326.2 L1923.8 329.3 L1924.8 330.1 L1925.8 329.1 L1926.9 330.5 L1927.9 331.4 L1928.9 331.8 L1929.9 328.7 L1930.9 327.3 L1932.0 329.3 L1933.0 332.3 L1934.0 335.4 L1935.0 338.2 L1936.1 337.7 L1937.1 339.8 L1938.1 340.6 L1939.1 343.0 L1940.1 343.0 L1941.2 344.6 L1942.2 344.6 L1943.2 344.8 L1944.2 342.9 L1945.3 341.8 L1946.3 342.6 L1947.3 342.9 L1948.3 344.0 L1949.3 344.1 L1950.4 345.7 L1951.4 345.3 L1952.4 345.6 L1953.4 345.9 L1954.5 344.6 L1955.5 343.7 L1956.5 344.8 L1957.5 344.7 L1958.5 342.6 L1959.6 344.5 L1960.6 345.7 L1961.6 347.3 L2141.3 347.3" stroke="#2b3190" stroke-width="3.00" fill="none" stroke-linejoin="miter" stroke-miterlimit="3"/>
<path d="M1860.4 420.3 L1860.4 420.3 L1861.4 420.0 L1862.5 419.6 L1863.5 419.4 L1864.5 419.4 L1865.5 418.2 L1866.5 418.3 L1867.6 417.4 L1868.6 418.3 L1869.6 418.2 L1870.6 418.3 L1871.7 418.5 L1872.7 418.9 L1873.7 418.3 L1874.7 418.0 L1875.7 418.1 L1876.8 418.3 L1877.8 418.1 L1878.8 417.2 L1879.8 416.7 L1880.9 416.5 L1881.9 416.4 L1882.9 417.0 L1883.9 416.0 L1884.9 415.6 L1886.0 415.2 L1887.0 415.2 L1888.0 414.7 L1889.0 413.1 L1890.1 413.0 L1891.1 413.1 L1892.1 412.3 L1893.1 412.0 L1894.1 411.8 L1895.2 411.1 L1896.2 410.4 L1897.2 409.1 L1898.2 409.0 L1899.3 407.8 L1900.3 406.0 L1901.3 406.0 L1902.3 404.5 L1903.3 401.9 L1904.4 397.9 L1905.4 396.8 L1906.4 394.5 L1907.4 392.6 L1908.5 391.4 L1909.5 388.6 L1910.5 385.9 L1911.5 379.2 L1912.5 376.3 L1913.6 371.5 L1914.6 360.0 L1915.6 351.1 L1916.6 344.6 L1917.7 335.5 L1918.7 331.6 L1919.7 331.6 L1920.7 323.2 L1921.7 317.1 L1922.8 313.6 L1923.8 310.9 L1924.8 308.8 L1925.8 307.2 L1926.9 306.8 L1927.9 311.9 L1928.9 309.8 L1929.9 311.9 L1930.9 313.2 L1932.0 316.9 L1933.0 319.1 L1934.0 328.1 L1935.0 323.4 L1936.1 325.2 L1937.1 330.5 L1938.1 338.3 L1939.1 341.6 L1940.1 345.6 L1941.2 347.6 L1942.2 353.9 L1943.2 359.1 L1944.2 364.1 L1945.3 364.7 L1946.3 369.5 L1947.3 371.2 L1948.3 374.7 L1949.3 376.0 L1950.4 379.9 L1951.4 381.5 L1952.4 385.2 L1953.4 385.2 L1954.5 387.6 L1955.5 389.9 L1956.5 391.7 L1957.5 395.2 L1958.5 396.8 L1959.6 398.9 L1960.6 400.1 L1961.6 402.6 L1962.6 404.3 L1963.7 406.0 L1964.7 407.3 L1965.7 409.2 L1966.7 410.2 L1967.7 412.4 L1968.8 413.1 L1969.8 413.8 L1970.8 413.9 L1971.8 415.6 L1972.9 416.9 L1973.9 417.6 L1974.9 418.5 L1975.9 418.6 L1976.9 418.7 L1978.0 419.2 L1979.0 419.1 L1980.0 419.6 L1981.0 419.9 L1982.1 420.0 L1983.1 420.1 L1984.1 420.2 L1985.1 420.3 L1985.1 420.3Z" stroke="none" stroke-width="0.00" fill="#f7941d" fill-opacity="0.40"/>
<path d="M1757.0 420.3 L1860.4 420.3 L1861.4 420.0 L1862.5 419.6 L1863.5 419.4 L1864.5 419.4 L1865.5 418.2 L1866.5 418.3 L1867.6 417.4 L1868.6 418.3 L1869.6 418.2 L1870.6 418.3 L1871.7 418.5 L1872.7 418.9 L1873.7 418.3 L1874.7 418.0 L1875.7 418.1 L1876.8 418.3 L1877.8 418.1 L1878.8 417.2 L1879.8 416.7 L1880.9 416.5 L1881.9 416.4 L1882.9 417.0 L1883.9 416.0 L1884.9 415.6 L1886.0 415.2 L1887.0 415.2 L1888.0 414.7 L1889.0 413.1 L1890.1 413.0 L1891.1 413.1 L1892.1 412.3 L1893.1 412.0 L1894.1 411.8 L1895.2 411.1 L1896.2 410.4 L1897.2 409.1 L1898.2 409.0 L1899.3 407.8 L1900.3 406.0 L1901.3 406.0 L1902.3 404.5 L1903.3 401.9 L1904.4 397.9 L1905.4 396.8 L1906.4 394.5 L1907.4 392.6 L1908.5 391.4 L1909.5 388.6 L1910.5 385.9 L1911.5 379.2 L1912.5 376.3 L1913.6 371.5 L1914.6 360.0 L1915.6 351.1 L1916.6 344.6 L1917.7 335.5 L1918.7 331.6 L1919.7 331.6 L1920.7 323.2 L1921.7 317.1 L1922.8 313.6 L1923.8 310.9 L1924.8 308.8 L1925.8 307.2 L1926.9 306.8 L1927.9 311.9 L1928.9 309.8 L1929.9 311.9 L1930.9 313.2 L1932.0 316.9 L1933.0 319.1 L1934.0 328.1 L1935.0 323.4 L1936.1 325.2 L1937.1 330.5 L1938.1 338.3 L1939.1 341.6 L1940.1 345.6 L1941.2 347.6 L1942.2 353.9 L1943.2 359.1 L1944.2 364.1 L1945.3 364.7 L1946.3 369.5 L1947.3 371.2 L1948.3 374.7 L1949.3 376.0 L1950.4 379.9 L1951.4 381.5 L1952.4 385.2 L1953.4 385.2 L1954.5 387.6 L1955.5 389.9 L1956.5 391.7 L1957.5 395.2 L1958.5 396.8 L1959.6 398.9 L1960.6 400.1 L1961.6 402.6 L1962.6 404.3 L1963.7 406.0 L1964.7 407.3 L1965.7 409.2 L1966.7 410.2 L1967.7 412.4 L1968.8 413.1 L1969.8 413.8 L1970.8 413.9 L1971.8 415.6 L1972.9 416.9 L1973.9 417.6 L1974.9 418.5 L1975.9 418.6 L1976.9 418.7 L1978.0 419.2 L1979.0 419.1 L1980.0 419.6 L1981.0 419.9 L1982.1 420.0 L1983.1 420.1 L1984.1 420.2 L1985.1 420.3 L2141.3 420.3" stroke="#f29d3a" stroke-width="3.40" fill="none" stroke-linejoin="miter" stroke-miterlimit="3"/>
<path d="M1891.1 492.5 L1891.1 492.5 L1892.1 492.2 L1893.1 491.9 L1894.1 491.8 L1895.2 491.8 L1896.2 491.7 L1897.2 491.7 L1898.2 491.6 L1899.3 491.6 L1900.3 491.5 L1901.3 492.0 L1902.3 491.0 L1903.3 491.3 L1904.4 491.5 L1905.4 491.3 L1906.4 490.9 L1907.4 491.5 L1908.5 490.4 L1909.5 490.9 L1910.5 491.1 L1911.5 490.8 L1912.5 491.4 L1913.6 490.8 L1914.6 490.6 L1915.6 490.6 L1916.6 490.7 L1917.7 490.9 L1918.7 491.1 L1919.7 490.5 L1920.7 491.0 L1921.7 490.4 L1922.8 490.5 L1923.8 490.5 L1924.8 489.8 L1925.8 489.3 L1926.9 489.4 L1927.9 489.8 L1928.9 489.8 L1929.9 489.6 L1930.9 489.7 L1932.0 489.4 L1933.0 488.9 L1934.0 488.8 L1935.0 487.6 L1936.1 486.8 L1937.1 488.8 L1938.1 490.5 L1939.1 490.0 L1940.1 490.0 L1941.2 489.4 L1942.2 488.3 L1943.2 488.4 L1944.2 488.1 L1945.3 488.7 L1946.3 489.2 L1947.3 489.4 L1948.3 489.7 L1949.3 490.3 L1950.4 490.7 L1951.4 490.4 L1952.4 490.9 L1953.4 488.8 L1954.5 485.8 L1955.5 486.2 L1956.5 487.7 L1957.5 487.8 L1958.5 487.5 L1959.6 486.3 L1960.6 486.8 L1961.6 485.9 L1962.6 485.8 L1963.7 485.1 L1964.7 484.7 L1965.7 484.4 L1966.7 481.5 L1967.7 481.4 L1968.8 479.6 L1969.8 480.5 L1970.8 480.6 L1971.8 480.3 L1972.9 480.6 L1973.9 479.8 L1974.9 478.4 L1975.9 476.6 L1976.9 472.0 L1978.0 468.1 L1979.0 464.3 L1980.0 457.2 L1981.0 454.1 L1982.1 452.9 L1983.1 452.6 L1984.1 455.1 L1985.1 456.1 L1986.1 452.8 L1987.2 452.0 L1988.2 446.8 L1989.2 441.8 L1990.2 439.8 L1991.3 435.7 L1992.3 428.4 L1993.3 425.4 L1994.3 419.3 L1995.3 422.9 L1996.4 417.3 L1997.4 416.1 L1998.4 409.1 L1999.8 417.3 L2000.7 414.6 L2001.6 405.4 L2002.5 400.9 L2003.5 397.4 L2004.5 384.5 L2005.6 389.5 L2006.6 394.8 L2007.6 393.7 L2008.6 388.6 L2009.5 384.5 L2010.4 380.1 L2011.3 362.1 L2012.3 361.7 L2013.3 384.5 L2014.6 383.0 L2015.8 392.7 L2016.8 383.4 L2017.8 383.5 L2019.1 397.0 L2020.3 396.8 L2021.2 395.3 L2022.1 402.2 L2023.0 402.9 L2024.0 414.5 L2025.0 417.3 L2026.0 417.1 L2027.0 413.2 L2028.1 421.8 L2029.1 427.5 L2030.1 427.1 L2031.1 435.2 L2032.2 439.8 L2033.2 444.6 L2034.2 448.3 L2035.2 454.1 L2036.2 457.3 L2037.3 464.0 L2038.3 466.3 L2039.3 468.4 L2040.3 472.9 L2041.4 476.6 L2042.4 478.5 L2043.4 480.9 L2044.4 484.7 L2045.4 486.2 L2046.5 486.2 L2047.5 488.7 L2048.5 489.8 L2049.5 490.4 L2050.6 491.6 L2051.6 491.0 L2052.6 491.9 L2053.6 492.0 L2054.6 492.0 L2055.7 492.1 L2056.7 492.2 L2057.7 492.3 L2058.7 492.3 L2059.8 492.4 L2060.8 492.5 L2060.8 492.5Z" stroke="none" stroke-width="0.00" fill="#ef4130" fill-opacity="0.47"/>
<path d="M1757.0 492.5 L1891.1 492.5 L1892.1 492.2 L1893.1 491.9 L1894.1 491.8 L1895.2 491.8 L1896.2 491.7 L1897.2 491.7 L1898.2 491.6 L1899.3 491.6 L1900.3 491.5 L1901.3 492.0 L1902.3 491.0 L1903.3 491.3 L1904.4 491.5 L1905.4 491.3 L1906.4 490.9 L1907.4 491.5 L1908.5 490.4 L1909.5 490.9 L1910.5 491.1 L1911.5 490.8 L1912.5 491.4 L1913.6 490.8 L1914.6 490.6 L1915.6 490.6 L1916.6 490.7 L1917.7 490.9 L1918.7 491.1 L1919.7 490.5 L1920.7 491.0 L1921.7 490.4 L1922.8 490.5 L1923.8 490.5 L1924.8 489.8 L1925.8 489.3 L1926.9 489.4 L1927.9 489.8 L1928.9 489.8 L1929.9 489.6 L1930.9 489.7 L1932.0 489.4 L1933.0 488.9 L1934.0 488.8 L1935.0 487.6 L1936.1 486.8 L1937.1 488.8 L1938.1 490.5 L1939.1 490.0 L1940.1 490.0 L1941.2 489.4 L1942.2 488.3 L1943.2 488.4 L1944.2 488.1 L1945.3 488.7 L1946.3 489.2 L1947.3 489.4 L1948.3 489.7 L1949.3 490.3 L1950.4 490.7 L1951.4 490.4 L1952.4 490.9 L1953.4 488.8 L1954.5 485.8 L1955.5 486.2 L1956.5 487.7 L1957.5 487.8 L1958.5 487.5 L1959.6 486.3 L1960.6 486.8 L1961.6 485.9 L1962.6 485.8 L1963.7 485.1 L1964.7 484.7 L1965.7 484.4 L1966.7 481.5 L1967.7 481.4 L1968.8 479.6 L1969.8 480.5 L1970.8 480.6 L1971.8 480.3 L1972.9 480.6 L1973.9 479.8 L1974.9 478.4 L1975.9 476.6 L1976.9 472.0 L1978.0 468.1 L1979.0 464.3 L1980.0 457.2 L1981.0 454.1 L1982.1 452.9 L1983.1 452.6 L1984.1 455.1 L1985.1 456.1 L1986.1 452.8 L1987.2 452.0 L1988.2 446.8 L1989.2 441.8 L1990.2 439.8 L1991.3 435.7 L1992.3 428.4 L1993.3 425.4 L1994.3 419.3 L1995.3 422.9 L1996.4 417.3 L1997.4 416.1 L1998.4 409.1 L1999.8 417.3 L2000.7 414.6 L2001.6 405.4 L2002.5 400.9 L2003.5 397.4 L2004.5 384.5 L2005.6 389.5 L2006.6 394.8 L2007.6 393.7 L2008.6 388.6 L2009.5 384.5 L2010.4 380.1 L2011.3 362.1 L2012.3 361.7 L2013.3 384.5 L2014.6 383.0 L2015.8 392.7 L2016.8 383.4 L2017.8 383.5 L2019.1 397.0 L2020.3 396.8 L2021.2 395.3 L2022.1 402.2 L2023.0 402.9 L2024.0 414.5 L2025.0 417.3 L2026.0 417.1 L2027.0 413.2 L2028.1 421.8 L2029.1 427.5 L2030.1 427.1 L2031.1 435.2 L2032.2 439.8 L2033.2 444.6 L2034.2 448.3 L2035.2 454.1 L2036.2 457.3 L2037.3 464.0 L2038.3 466.3 L2039.3 468.4 L2040.3 472.9 L2041.4 476.6 L2042.4 478.5 L2043.4 480.9 L2044.4 484.7 L2045.4 486.2 L2046.5 486.2 L2047.5 488.7 L2048.5 489.8 L2049.5 490.4 L2050.6 491.6 L2051.6 491.0 L2052.6 491.9 L2053.6 492.0 L2054.6 492.0 L2055.7 492.1 L2056.7 492.2 L2057.7 492.3 L2058.7 492.3 L2059.8 492.4 L2060.8 492.5 L2141.3 492.5" stroke="#e8393b" stroke-width="3.40" fill="none" stroke-linejoin="miter" stroke-miterlimit="3"/>
<rect x="1760.0" y="47.8" width="381.3" height="445.0" fill="none" stroke="#000" stroke-width="2.3"/>
<line x1="1759.91" y1="489.80" x2="1759.91" y2="502.10" stroke="#000" stroke-width="2.50" />
<line x1="1819.53" y1="489.80" x2="1819.53" y2="502.10" stroke="#000" stroke-width="2.50" />
<line x1="1906.49" y1="489.80" x2="1906.49" y2="502.10" stroke="#000" stroke-width="2.50" />
<line x1="1980.61" y1="489.80" x2="1980.61" y2="502.10" stroke="#000" stroke-width="2.50" />
<line x1="2052.45" y1="489.80" x2="2052.45" y2="502.10" stroke="#000" stroke-width="2.50" />
<line x1="2123.88" y1="489.80" x2="2123.88" y2="502.10" stroke="#000" stroke-width="2.50" />
<line x1="1796.76" y1="489.80" x2="1796.76" y2="498.00" stroke="#000" stroke-width="2.50" />
<line x1="1881.65" y1="489.80" x2="1881.65" y2="498.00" stroke="#000" stroke-width="2.50" />
<line x1="1958.25" y1="489.80" x2="1958.25" y2="498.00" stroke="#000" stroke-width="2.50" />
<line x1="2031.75" y1="489.80" x2="2031.75" y2="498.00" stroke="#000" stroke-width="2.50" />
<line x1="2101.11" y1="489.80" x2="2101.11" y2="498.00" stroke="#000" stroke-width="2.50" />
<line x1="1762.60" y1="489.80" x2="1762.60" y2="495.80" stroke="#000" stroke-width="2.50" />
<line x1="1765.70" y1="489.80" x2="1765.70" y2="495.80" stroke="#000" stroke-width="2.50" />
<line x1="1767.77" y1="489.80" x2="1767.77" y2="495.80" stroke="#000" stroke-width="2.50" />
<line x1="1769.84" y1="489.80" x2="1769.84" y2="495.80" stroke="#000" stroke-width="2.50" />
<line x1="1772.33" y1="489.80" x2="1772.33" y2="495.80" stroke="#000" stroke-width="2.50" />
<line x1="1777.09" y1="489.80" x2="1777.09" y2="495.80" stroke="#000" stroke-width="2.50" />
<line x1="1783.30" y1="489.80" x2="1783.30" y2="495.80" stroke="#000" stroke-width="2.50" />
<line x1="1789.51" y1="489.80" x2="1789.51" y2="495.80" stroke="#000" stroke-width="2.50" />
<line x1="1801.94" y1="489.80" x2="1801.94" y2="495.80" stroke="#000" stroke-width="2.50" />
<line x1="1806.08" y1="489.80" x2="1806.08" y2="495.80" stroke="#000" stroke-width="2.50" />
<line x1="1810.22" y1="489.80" x2="1810.22" y2="495.80" stroke="#000" stroke-width="2.50" />
<line x1="1814.36" y1="489.80" x2="1814.36" y2="495.80" stroke="#000" stroke-width="2.50" />
<line x1="1846.45" y1="489.80" x2="1846.45" y2="495.80" stroke="#000" stroke-width="2.50" />
<line x1="1863.01" y1="489.80" x2="1863.01" y2="495.80" stroke="#000" stroke-width="2.50" />
<line x1="1873.36" y1="489.80" x2="1873.36" y2="495.80" stroke="#000" stroke-width="2.50" />
<line x1="1887.86" y1="489.80" x2="1887.86" y2="495.80" stroke="#000" stroke-width="2.50" />
<line x1="1893.65" y1="489.80" x2="1893.65" y2="495.80" stroke="#000" stroke-width="2.50" />
<line x1="1898.21" y1="489.80" x2="1898.21" y2="495.80" stroke="#000" stroke-width="2.50" />
<line x1="1902.35" y1="489.80" x2="1902.35" y2="495.80" stroke="#000" stroke-width="2.50" />
<line x1="1929.27" y1="489.80" x2="1929.27" y2="495.80" stroke="#000" stroke-width="2.50" />
<line x1="1942.72" y1="489.80" x2="1942.72" y2="495.80" stroke="#000" stroke-width="2.50" />
<line x1="1952.04" y1="489.80" x2="1952.04" y2="495.80" stroke="#000" stroke-width="2.50" />
<line x1="1964.46" y1="489.80" x2="1964.46" y2="495.80" stroke="#000" stroke-width="2.50" />
<line x1="1968.60" y1="489.80" x2="1968.60" y2="495.80" stroke="#000" stroke-width="2.50" />
<line x1="1972.74" y1="489.80" x2="1972.74" y2="495.80" stroke="#000" stroke-width="2.50" />
<line x1="1976.88" y1="489.80" x2="1976.88" y2="495.80" stroke="#000" stroke-width="2.50" />
<line x1="2001.73" y1="489.80" x2="2001.73" y2="495.80" stroke="#000" stroke-width="2.50" />
<line x1="2014.15" y1="489.80" x2="2014.15" y2="495.80" stroke="#000" stroke-width="2.50" />
<line x1="2023.47" y1="489.80" x2="2023.47" y2="495.80" stroke="#000" stroke-width="2.50" />
<line x1="2036.93" y1="489.80" x2="2036.93" y2="495.80" stroke="#000" stroke-width="2.50" />
<line x1="2041.07" y1="489.80" x2="2041.07" y2="495.80" stroke="#000" stroke-width="2.50" />
<line x1="2045.21" y1="489.80" x2="2045.21" y2="495.80" stroke="#000" stroke-width="2.50" />
<line x1="2048.93" y1="489.80" x2="2048.93" y2="495.80" stroke="#000" stroke-width="2.50" />
<line x1="2074.19" y1="489.80" x2="2074.19" y2="495.80" stroke="#000" stroke-width="2.50" />
<line x1="2086.61" y1="489.80" x2="2086.61" y2="495.80" stroke="#000" stroke-width="2.50" />
<line x1="2094.90" y1="489.80" x2="2094.90" y2="495.80" stroke="#000" stroke-width="2.50" />
<line x1="2106.28" y1="489.80" x2="2106.28" y2="495.80" stroke="#000" stroke-width="2.50" />
<line x1="2111.46" y1="489.80" x2="2111.46" y2="495.80" stroke="#000" stroke-width="2.50" />
<line x1="2115.60" y1="489.80" x2="2115.60" y2="495.80" stroke="#000" stroke-width="2.50" />
<line x1="2119.74" y1="489.80" x2="2119.74" y2="495.80" stroke="#000" stroke-width="2.50" />
<line x1="1761.56" y1="492.80" x2="1761.56" y2="500.80" stroke="#000" stroke-width="1.60" />
<line x1="1764.05" y1="492.80" x2="1764.05" y2="500.80" stroke="#000" stroke-width="1.60" />
<line x1="1766.74" y1="492.80" x2="1766.74" y2="500.80" stroke="#000" stroke-width="1.60" />
<line x1="1769.43" y1="492.80" x2="1769.43" y2="500.80" stroke="#000" stroke-width="1.60" />
<line x1="1771.50" y1="492.80" x2="1771.50" y2="500.80" stroke="#000" stroke-width="1.60" />
<text x="1771.0" y="72.6" font-size="24.80"><tspan font-family="'Liberation Serif',serif" font-size="28.8" letter-spacing="0.7">α</tspan>HER2 binding</text>
<text x="1734.5" y="272.4" font-size="24.80" text-anchor="middle" transform="rotate(-90 1734.5 272.4)">Normalized cell counts</text>
<text x="2134.0" y="154.0" font-size="24.30" text-anchor="end">Raji</text>
<text x="2134.0" y="183.5" font-size="24.30" text-anchor="end">unstained</text>
<text x="2134.0" y="249.5" font-size="24.30" text-anchor="end">Raji</text>
<text x="2134.0" y="325.6" font-size="24.30" text-anchor="end">HCC-1569</text>
<text x="2134.0" y="397.6" font-size="24.30" text-anchor="end">RT-4</text>
<text x="2134.0" y="463.0" font-size="24.30" text-anchor="end">BT-474</text>
<text x="1764.0" y="536.5" font-size="24.80" text-anchor="middle">0</text>
<text x="1886.8" y="536.5" font-size="24.80">10</text>
<text x="1914.3" y="521.0" font-size="19.50">4</text>
<text x="1965.9" y="536.5" font-size="24.80">10</text>
<text x="1993.4" y="521.0" font-size="19.50">5</text>
<text x="2041.0" y="536.5" font-size="24.80">10</text>
<text x="2068.5" y="521.0" font-size="19.50">6</text>
<text x="2106.6" y="536.5" font-size="24.80">10</text>
<text x="2134.1" y="521.0" font-size="19.50">7</text>
<text x="1948.9" y="571.4" font-size="24.80" text-anchor="middle">AF-488</text>
</g>
<g id="panel-e" fill="#000">
<text transform="translate(-0.5 1753.4) scale(1.00 1)" font-size="50.0" font-weight="bold" fill="#231f20">e</text>
<line x1="40.00" y1="1915.50" x2="121.10" y2="1915.50" stroke="#8cc63f" stroke-width="1.00" stroke-opacity="0.12"/>
<line x1="40.00" y1="1976.20" x2="121.10" y2="1976.20" stroke="#0b6b3a" stroke-width="1.00" stroke-opacity="0.12"/>
<path d="M154.3 1915.5 L154.3 1915.5 L155.3 1915.3 L156.3 1915.1 L157.4 1915.1 L158.5 1915.1 L159.6 1915.0 L160.7 1915.0 L161.7 1914.9 L162.8 1914.9 L163.9 1914.9 L165.0 1914.8 L166.1 1914.8 L167.1 1914.7 L168.2 1914.7 L169.3 1914.7 L170.4 1914.6 L171.5 1914.7 L172.6 1914.8 L173.7 1914.8 L174.8 1914.9 L175.9 1915.0 L177.0 1915.0 L178.1 1915.1 L179.2 1915.1 L180.3 1914.2 L181.3 1913.5 L182.4 1913.1 L183.4 1911.6 L184.5 1911.1 L185.7 1911.9 L186.8 1912.7 L188.0 1913.7 L188.9 1911.6 L189.8 1908.9 L190.6 1907.6 L191.5 1911.2 L192.4 1915.5 L193.6 1913.3 L194.7 1912.1 L195.9 1910.2 L197.0 1909.4 L198.0 1908.6 L199.1 1907.2 L200.1 1907.5 L201.2 1904.9 L202.1 1906.1 L203.0 1909.0 L203.8 1911.1 L204.7 1907.5 L205.6 1903.5 L206.5 1900.5 L207.4 1901.7 L208.2 1902.1 L209.1 1903.2 L210.0 1899.6 L210.9 1898.6 L211.8 1894.4 L212.6 1889.6 L213.5 1888.3 L214.4 1885.6 L215.3 1884.2 L216.2 1885.7 L217.0 1883.8 L217.9 1881.7 L218.8 1875.4 L219.7 1875.0 L220.6 1873.5 L221.4 1871.0 L222.3 1868.0 L223.2 1860.8 L224.1 1855.7 L225.0 1843.7 L225.8 1838.9 L226.7 1850.8 L227.6 1850.4 L228.5 1841.8 L229.4 1840.7 L230.2 1844.8 L231.1 1850.4 L232.3 1834.5 L233.2 1839.6 L234.1 1849.5 L235.0 1850.6 L235.9 1846.9 L237.3 1857.4 L238.2 1853.2 L239.0 1850.4 L239.9 1851.2 L240.8 1859.2 L241.7 1862.9 L242.6 1866.2 L243.4 1872.1 L244.3 1875.9 L245.4 1881.3 L246.4 1885.6 L247.6 1891.8 L248.7 1897.0 L249.6 1893.0 L250.5 1890.3 L251.4 1887.3 L252.4 1886.2 L253.5 1883.8 L254.6 1889.1 L255.8 1896.1 L256.6 1896.5 L257.5 1896.3 L258.4 1894.4 L259.3 1889.8 L260.2 1890.9 L261.0 1888.2 L261.9 1885.4 L262.8 1886.5 L263.7 1885.6 L264.8 1887.0 L266.0 1887.3 L267.2 1889.1 L268.4 1888.9 L269.5 1887.7 L270.7 1885.6 L271.8 1887.2 L272.8 1888.8 L273.9 1889.0 L274.9 1889.1 L276.0 1892.6 L277.2 1895.5 L278.3 1896.9 L279.5 1897.9 L280.7 1897.9 L281.9 1898.6 L283.0 1899.7 L283.9 1906.5 L284.8 1914.6 L285.9 1914.7 L286.9 1914.1 L288.0 1914.1 L289.0 1914.4 L290.1 1913.7 L291.2 1914.2 L292.4 1914.9 L293.6 1915.5 L294.6 1915.0 L295.7 1914.9 L296.8 1913.7 L297.8 1913.5 L298.9 1912.9 L300.0 1913.7 L301.2 1913.7 L302.4 1915.1 L303.3 1913.7 L304.2 1913.1 L305.0 1912.3 L305.9 1913.2 L306.8 1914.7 L307.7 1915.5 L307.7 1915.5Z" stroke="none" stroke-width="0.00" fill="#8cc63f" fill-opacity="0.50"/>
<path d="M118.1 1915.5 L154.3 1915.5 L155.3 1915.3 L156.3 1915.1 L157.4 1915.1 L158.5 1915.1 L159.6 1915.0 L160.7 1915.0 L161.7 1914.9 L162.8 1914.9 L163.9 1914.9 L165.0 1914.8 L166.1 1914.8 L167.1 1914.7 L168.2 1914.7 L169.3 1914.7 L170.4 1914.6 L171.5 1914.7 L172.6 1914.8 L173.7 1914.8 L174.8 1914.9 L175.9 1915.0 L177.0 1915.0 L178.1 1915.1 L179.2 1915.1 L180.3 1914.2 L181.3 1913.5 L182.4 1913.1 L183.4 1911.6 L184.5 1911.1 L185.7 1911.9 L186.8 1912.7 L188.0 1913.7 L188.9 1911.6 L189.8 1908.9 L190.6 1907.6 L191.5 1911.2 L192.4 1915.5 L193.6 1913.3 L194.7 1912.1 L195.9 1910.2 L197.0 1909.4 L198.0 1908.6 L199.1 1907.2 L200.1 1907.5 L201.2 1904.9 L202.1 1906.1 L203.0 1909.0 L203.8 1911.1 L204.7 1907.5 L205.6 1903.5 L206.5 1900.5 L207.4 1901.7 L208.2 1902.1 L209.1 1903.2 L210.0 1899.6 L210.9 1898.6 L211.8 1894.4 L212.6 1889.6 L213.5 1888.3 L214.4 1885.6 L215.3 1884.2 L216.2 1885.7 L217.0 1883.8 L217.9 1881.7 L218.8 1875.4 L219.7 1875.0 L220.6 1873.5 L221.4 1871.0 L222.3 1868.0 L223.2 1860.8 L224.1 1855.7 L225.0 1843.7 L225.8 1838.9 L226.7 1850.8 L227.6 1850.4 L228.5 1841.8 L229.4 1840.7 L230.2 1844.8 L231.1 1850.4 L232.3 1834.5 L233.2 1839.6 L234.1 1849.5 L235.0 1850.6 L235.9 1846.9 L237.3 1857.4 L238.2 1853.2 L239.0 1850.4 L239.9 1851.2 L240.8 1859.2 L241.7 1862.9 L242.6 1866.2 L243.4 1872.1 L244.3 1875.9 L245.4 1881.3 L246.4 1885.6 L247.6 1891.8 L248.7 1897.0 L249.6 1893.0 L250.5 1890.3 L251.4 1887.3 L252.4 1886.2 L253.5 1883.8 L254.6 1889.1 L255.8 1896.1 L256.6 1896.5 L257.5 1896.3 L258.4 1894.4 L259.3 1889.8 L260.2 1890.9 L261.0 1888.2 L261.9 1885.4 L262.8 1886.5 L263.7 1885.6 L264.8 1887.0 L266.0 1887.3 L267.2 1889.1 L268.4 1888.9 L269.5 1887.7 L270.7 1885.6 L271.8 1887.2 L272.8 1888.8 L273.9 1889.0 L274.9 1889.1 L276.0 1892.6 L277.2 1895.5 L278.3 1896.9 L279.5 1897.9 L280.7 1897.9 L281.9 1898.6 L283.0 1899.7 L283.9 1906.5 L284.8 1914.6 L285.9 1914.7 L286.9 1914.1 L288.0 1914.1 L289.0 1914.4 L290.1 1913.7 L291.2 1914.2 L292.4 1914.9 L293.6 1915.5 L294.6 1915.0 L295.7 1914.9 L296.8 1913.7 L297.8 1913.5 L298.9 1912.9 L300.0 1913.7 L301.2 1913.7 L302.4 1915.1 L303.3 1913.7 L304.2 1913.1 L305.0 1912.3 L305.9 1913.2 L306.8 1914.7 L307.7 1915.5 L412.8 1915.5" stroke="#8cc63f" stroke-width="2.10" fill="none" stroke-linejoin="miter" stroke-miterlimit="3"/>
<path d="M164.9 1976.2 L164.9 1976.2 L165.9 1975.9 L166.9 1975.7 L167.9 1975.7 L168.9 1975.6 L170.0 1975.6 L171.0 1975.6 L172.1 1975.6 L173.1 1975.5 L174.1 1975.5 L175.2 1975.5 L176.2 1975.5 L177.2 1975.5 L178.3 1975.4 L179.3 1975.4 L180.3 1975.4 L181.4 1975.4 L182.4 1975.4 L183.4 1975.3 L184.5 1975.3 L185.6 1975.3 L186.6 1975.4 L187.7 1975.4 L188.8 1975.4 L189.9 1975.5 L191.0 1975.5 L192.1 1975.5 L193.1 1975.5 L194.2 1975.6 L195.3 1975.6 L196.4 1975.6 L197.5 1975.6 L198.6 1975.7 L199.4 1974.4 L200.3 1973.6 L201.2 1974.8 L202.1 1976.2 L203.3 1975.3 L204.4 1974.7 L205.6 1973.6 L206.8 1973.4 L207.9 1975.0 L209.1 1975.0 L210.3 1972.7 L211.5 1970.1 L212.6 1968.3 L213.5 1970.0 L214.4 1972.1 L215.3 1974.4 L216.2 1973.9 L217.0 1972.0 L217.9 1971.8 L219.1 1967.5 L220.3 1962.4 L221.4 1957.7 L222.6 1960.0 L223.8 1962.4 L225.0 1964.8 L226.1 1963.3 L227.3 1960.1 L228.5 1959.5 L229.4 1953.2 L230.2 1947.2 L231.1 1949.0 L232.0 1954.5 L232.9 1956.0 L234.0 1951.8 L235.2 1949.1 L236.4 1945.4 L237.6 1942.8 L238.7 1941.0 L239.9 1939.2 L240.8 1942.5 L241.7 1946.9 L242.6 1950.7 L243.4 1942.3 L244.3 1934.0 L245.2 1926.0 L246.3 1939.8 L247.5 1954.2 L248.5 1952.4 L249.5 1951.0 L250.5 1948.9 L251.6 1950.2 L252.8 1953.3 L254.0 1954.2 L254.9 1946.6 L255.8 1942.5 L256.6 1938.4 L257.5 1929.4 L258.4 1925.6 L259.3 1919.0 L260.2 1916.5 L261.0 1911.9 L261.9 1903.2 L262.8 1899.9 L263.7 1892.6 L264.6 1883.1 L265.4 1869.7 L266.3 1880.6 L267.2 1889.1 L268.1 1883.1 L269.0 1875.0 L269.8 1868.7 L270.7 1875.3 L271.6 1862.7 L272.5 1868.4 L273.4 1885.6 L274.2 1884.8 L275.1 1882.0 L276.0 1883.3 L276.9 1885.6 L277.8 1896.8 L278.6 1897.9 L279.5 1899.9 L280.4 1903.2 L281.3 1918.5 L282.2 1927.8 L283.0 1932.3 L283.9 1938.4 L284.8 1946.8 L285.7 1956.0 L286.6 1958.7 L287.4 1961.9 L288.3 1964.8 L289.2 1967.2 L290.1 1969.6 L291.0 1971.8 L291.8 1972.8 L292.7 1974.4 L293.6 1975.7 L294.8 1974.9 L295.9 1973.5 L297.1 1973.6 L298.3 1974.2 L299.5 1975.2 L300.6 1975.7 L301.7 1975.2 L302.7 1975.5 L303.8 1975.2 L304.9 1973.9 L305.9 1973.6 L306.8 1974.2 L307.7 1975.3 L308.6 1976.2 L309.6 1976.1 L310.7 1976.0 L311.8 1975.9 L312.8 1975.8 L313.9 1975.8 L315.0 1975.7 L316.0 1975.6 L317.1 1975.5 L318.2 1975.4 L319.2 1975.3 L320.3 1975.2 L321.4 1975.4 L322.4 1975.4 L323.5 1975.0 L324.4 1975.6 L325.3 1976.2 L326.3 1976.2 L327.3 1976.1 L328.4 1976.1 L329.4 1976.0 L330.4 1976.0 L331.5 1976.0 L332.5 1975.9 L333.5 1975.9 L334.6 1975.9 L335.6 1975.8 L336.6 1975.8 L337.7 1975.7 L338.7 1975.7 L339.7 1975.7 L340.8 1975.6 L341.8 1975.6 L342.8 1975.5 L343.9 1975.5 L344.9 1975.5 L345.9 1975.4 L347.0 1975.4 L348.0 1975.4 L349.0 1975.3 L349.9 1975.8 L350.8 1976.2 L350.8 1976.2Z" stroke="none" stroke-width="0.00" fill="#2d6a45" fill-opacity="0.55"/>
<path d="M118.1 1976.2 L164.9 1976.2 L165.9 1975.9 L166.9 1975.7 L167.9 1975.7 L168.9 1975.6 L170.0 1975.6 L171.0 1975.6 L172.1 1975.6 L173.1 1975.5 L174.1 1975.5 L175.2 1975.5 L176.2 1975.5 L177.2 1975.5 L178.3 1975.4 L179.3 1975.4 L180.3 1975.4 L181.4 1975.4 L182.4 1975.4 L183.4 1975.3 L184.5 1975.3 L185.6 1975.3 L186.6 1975.4 L187.7 1975.4 L188.8 1975.4 L189.9 1975.5 L191.0 1975.5 L192.1 1975.5 L193.1 1975.5 L194.2 1975.6 L195.3 1975.6 L196.4 1975.6 L197.5 1975.6 L198.6 1975.7 L199.4 1974.4 L200.3 1973.6 L201.2 1974.8 L202.1 1976.2 L203.3 1975.3 L204.4 1974.7 L205.6 1973.6 L206.8 1973.4 L207.9 1975.0 L209.1 1975.0 L210.3 1972.7 L211.5 1970.1 L212.6 1968.3 L213.5 1970.0 L214.4 1972.1 L215.3 1974.4 L216.2 1973.9 L217.0 1972.0 L217.9 1971.8 L219.1 1967.5 L220.3 1962.4 L221.4 1957.7 L222.6 1960.0 L223.8 1962.4 L225.0 1964.8 L226.1 1963.3 L227.3 1960.1 L228.5 1959.5 L229.4 1953.2 L230.2 1947.2 L231.1 1949.0 L232.0 1954.5 L232.9 1956.0 L234.0 1951.8 L235.2 1949.1 L236.4 1945.4 L237.6 1942.8 L238.7 1941.0 L239.9 1939.2 L240.8 1942.5 L241.7 1946.9 L242.6 1950.7 L243.4 1942.3 L244.3 1934.0 L245.2 1926.0 L246.3 1939.8 L247.5 1954.2 L248.5 1952.4 L249.5 1951.0 L250.5 1948.9 L251.6 1950.2 L252.8 1953.3 L254.0 1954.2 L254.9 1946.6 L255.8 1942.5 L256.6 1938.4 L257.5 1929.4 L258.4 1925.6 L259.3 1919.0 L260.2 1916.5 L261.0 1911.9 L261.9 1903.2 L262.8 1899.9 L263.7 1892.6 L264.6 1883.1 L265.4 1869.7 L266.3 1880.6 L267.2 1889.1 L268.1 1883.1 L269.0 1875.0 L269.8 1868.7 L270.7 1875.3 L271.6 1862.7 L272.5 1868.4 L273.4 1885.6 L274.2 1884.8 L275.1 1882.0 L276.0 1883.3 L276.9 1885.6 L277.8 1896.8 L278.6 1897.9 L279.5 1899.9 L280.4 1903.2 L281.3 1918.5 L282.2 1927.8 L283.0 1932.3 L283.9 1938.4 L284.8 1946.8 L285.7 1956.0 L286.6 1958.7 L287.4 1961.9 L288.3 1964.8 L289.2 1967.2 L290.1 1969.6 L291.0 1971.8 L291.8 1972.8 L292.7 1974.4 L293.6 1975.7 L294.8 1974.9 L295.9 1973.5 L297.1 1973.6 L298.3 1974.2 L299.5 1975.2 L300.6 1975.7 L301.7 1975.2 L302.7 1975.5 L303.8 1975.2 L304.9 1973.9 L305.9 1973.6 L306.8 1974.2 L307.7 1975.3 L308.6 1976.2 L309.6 1976.1 L310.7 1976.0 L311.8 1975.9 L312.8 1975.8 L313.9 1975.8 L315.0 1975.7 L316.0 1975.6 L317.1 1975.5 L318.2 1975.4 L319.2 1975.3 L320.3 1975.2 L321.4 1975.4 L322.4 1975.4 L323.5 1975.0 L324.4 1975.6 L325.3 1976.2 L326.3 1976.2 L327.3 1976.1 L328.4 1976.1 L329.4 1976.0 L330.4 1976.0 L331.5 1976.0 L332.5 1975.9 L333.5 1975.9 L334.6 1975.9 L335.6 1975.8 L336.6 1975.8 L337.7 1975.7 L338.7 1975.7 L339.7 1975.7 L340.8 1975.6 L341.8 1975.6 L342.8 1975.5 L343.9 1975.5 L344.9 1975.5 L345.9 1975.4 L347.0 1975.4 L348.0 1975.4 L349.0 1975.3 L349.9 1975.8 L350.8 1976.2 L412.8 1976.2" stroke="#0b6b3a" stroke-width="2.10" fill="none" stroke-linejoin="miter" stroke-miterlimit="3"/>
<path d="M513.6 1916.4 L513.6 1916.4 L514.6 1916.2 L515.6 1916.0 L516.6 1916.0 L517.7 1916.0 L518.7 1916.0 L519.7 1915.9 L520.8 1915.9 L521.8 1915.9 L522.8 1915.8 L523.9 1915.8 L524.9 1915.8 L525.9 1915.7 L527.0 1915.7 L528.0 1915.7 L529.1 1915.6 L530.1 1915.6 L531.1 1915.6 L532.2 1915.6 L533.2 1915.5 L534.3 1915.6 L535.3 1915.7 L536.4 1915.7 L537.4 1915.8 L538.5 1915.9 L539.4 1912.6 L540.2 1908.5 L541.1 1912.3 L542.0 1915.9 L543.0 1915.9 L544.0 1915.9 L545.1 1915.9 L546.1 1915.9 L547.1 1915.9 L548.2 1916.0 L549.2 1916.0 L550.2 1916.0 L551.2 1916.0 L552.3 1916.0 L553.3 1916.0 L554.3 1916.0 L555.4 1915.6 L556.4 1914.8 L557.5 1915.2 L558.5 1914.0 L559.6 1913.8 L560.7 1913.6 L561.7 1912.7 L562.8 1912.8 L563.8 1912.4 L564.9 1912.0 L566.0 1912.1 L567.2 1912.8 L568.4 1912.9 L569.6 1910.6 L570.7 1908.3 L571.9 1905.8 L573.1 1904.2 L574.3 1903.9 L575.4 1903.2 L576.6 1901.9 L577.8 1898.3 L579.0 1896.2 L579.8 1892.5 L580.7 1889.2 L581.6 1885.6 L582.5 1880.1 L583.4 1876.2 L584.2 1873.3 L585.1 1871.1 L586.0 1864.5 L586.9 1855.3 L587.8 1850.4 L588.6 1849.7 L589.5 1846.9 L590.4 1839.3 L591.3 1829.3 L592.2 1827.3 L593.0 1822.9 L593.9 1818.7 L594.8 1815.3 L595.7 1818.9 L596.6 1813.4 L597.4 1813.4 L598.3 1811.7 L599.2 1807.4 L600.1 1797.6 L601.5 1820.5 L602.7 1824.0 L603.6 1817.7 L604.5 1809.0 L605.4 1811.9 L606.2 1809.8 L607.1 1811.7 L608.0 1812.0 L608.9 1815.2 L609.8 1827.1 L610.6 1832.8 L611.5 1840.8 L612.4 1848.6 L613.3 1856.7 L614.2 1858.2 L615.0 1862.7 L615.9 1863.1 L616.8 1865.8 L617.7 1866.2 L618.6 1873.2 L619.4 1885.6 L620.3 1893.3 L621.2 1901.4 L622.1 1899.5 L623.0 1896.2 L623.8 1903.1 L624.7 1910.2 L625.6 1912.0 L626.5 1913.1 L627.4 1914.6 L628.5 1915.0 L629.6 1915.1 L630.7 1916.1 L631.8 1915.5 L632.8 1915.7 L633.9 1915.9 L634.9 1916.0 L636.0 1916.2 L637.0 1916.4 L637.0 1916.4Z" stroke="none" stroke-width="0.00" fill="#8cc63f" fill-opacity="0.50"/>
<path d="M427.5 1916.4 L513.6 1916.4 L514.6 1916.2 L515.6 1916.0 L516.6 1916.0 L517.7 1916.0 L518.7 1916.0 L519.7 1915.9 L520.8 1915.9 L521.8 1915.9 L522.8 1915.8 L523.9 1915.8 L524.9 1915.8 L525.9 1915.7 L527.0 1915.7 L528.0 1915.7 L529.1 1915.6 L530.1 1915.6 L531.1 1915.6 L532.2 1915.6 L533.2 1915.5 L534.3 1915.6 L535.3 1915.7 L536.4 1915.7 L537.4 1915.8 L538.5 1915.9 L539.4 1912.6 L540.2 1908.5 L541.1 1912.3 L542.0 1915.9 L543.0 1915.9 L544.0 1915.9 L545.1 1915.9 L546.1 1915.9 L547.1 1915.9 L548.2 1916.0 L549.2 1916.0 L550.2 1916.0 L551.2 1916.0 L552.3 1916.0 L553.3 1916.0 L554.3 1916.0 L555.4 1915.6 L556.4 1914.8 L557.5 1915.2 L558.5 1914.0 L559.6 1913.8 L560.7 1913.6 L561.7 1912.7 L562.8 1912.8 L563.8 1912.4 L564.9 1912.0 L566.0 1912.1 L567.2 1912.8 L568.4 1912.9 L569.6 1910.6 L570.7 1908.3 L571.9 1905.8 L573.1 1904.2 L574.3 1903.9 L575.4 1903.2 L576.6 1901.9 L577.8 1898.3 L579.0 1896.2 L579.8 1892.5 L580.7 1889.2 L581.6 1885.6 L582.5 1880.1 L583.4 1876.2 L584.2 1873.3 L585.1 1871.1 L586.0 1864.5 L586.9 1855.3 L587.8 1850.4 L588.6 1849.7 L589.5 1846.9 L590.4 1839.3 L591.3 1829.3 L592.2 1827.3 L593.0 1822.9 L593.9 1818.7 L594.8 1815.3 L595.7 1818.9 L596.6 1813.4 L597.4 1813.4 L598.3 1811.7 L599.2 1807.4 L600.1 1797.6 L601.5 1820.5 L602.7 1824.0 L603.6 1817.7 L604.5 1809.0 L605.4 1811.9 L606.2 1809.8 L607.1 1811.7 L608.0 1812.0 L608.9 1815.2 L609.8 1827.1 L610.6 1832.8 L611.5 1840.8 L612.4 1848.6 L613.3 1856.7 L614.2 1858.2 L615.0 1862.7 L615.9 1863.1 L616.8 1865.8 L617.7 1866.2 L618.6 1873.2 L619.4 1885.6 L620.3 1893.3 L621.2 1901.4 L622.1 1899.5 L623.0 1896.2 L623.8 1903.1 L624.7 1910.2 L625.6 1912.0 L626.5 1913.1 L627.4 1914.6 L628.5 1915.0 L629.6 1915.1 L630.7 1916.1 L631.8 1915.5 L632.8 1915.7 L633.9 1915.9 L634.9 1916.0 L636.0 1916.2 L637.0 1916.4 L721.0 1916.4" stroke="#8cc63f" stroke-width="2.10" fill="none" stroke-linejoin="miter" stroke-miterlimit="3"/>
<path d="M473.1 1977.5 L473.1 1977.5 L474.1 1977.3 L475.1 1977.1 L476.2 1977.1 L477.2 1977.1 L478.3 1977.0 L479.3 1977.0 L480.4 1977.0 L481.5 1976.9 L482.5 1976.9 L483.6 1976.9 L484.6 1976.8 L485.7 1976.8 L486.8 1976.7 L487.9 1976.5 L489.0 1976.8 L490.1 1976.4 L491.2 1976.1 L492.3 1976.6 L493.4 1976.0 L494.5 1975.7 L495.5 1975.2 L496.5 1976.5 L497.5 1976.4 L498.5 1976.3 L499.5 1977.1 L500.5 1976.6 L501.5 1976.8 L502.5 1976.7 L503.5 1976.6 L504.5 1976.6 L505.5 1976.5 L506.5 1976.2 L507.6 1976.4 L508.6 1976.3 L509.6 1976.6 L510.6 1976.1 L511.6 1976.3 L512.6 1975.9 L513.6 1975.9 L514.6 1975.9 L515.6 1975.7 L516.7 1975.4 L517.7 1974.1 L518.8 1973.9 L519.8 1973.1 L520.9 1972.7 L522.0 1973.4 L523.2 1974.4 L524.4 1975.0 L525.5 1974.2 L526.5 1973.7 L527.6 1973.0 L528.6 1972.4 L529.7 1971.9 L530.8 1972.6 L532.0 1973.0 L533.2 1973.6 L534.3 1972.8 L535.3 1971.8 L536.4 1971.8 L537.4 1970.3 L538.5 1970.1 L539.4 1972.0 L540.2 1972.3 L541.1 1972.7 L542.0 1967.0 L542.9 1961.3 L543.8 1964.6 L544.6 1966.9 L545.5 1970.1 L546.7 1969.9 L547.9 1968.5 L549.0 1966.6 L550.2 1968.0 L551.4 1967.8 L552.6 1968.3 L553.7 1968.0 L554.9 1969.5 L556.1 1969.2 L557.1 1969.9 L558.2 1970.4 L559.2 1969.9 L560.3 1970.4 L561.4 1971.0 L562.5 1969.2 L563.7 1968.5 L564.9 1966.6 L565.8 1966.8 L566.6 1967.0 L567.5 1966.6 L568.4 1968.6 L569.3 1970.3 L570.2 1971.9 L571.3 1972.8 L572.4 1974.7 L573.5 1974.7 L574.6 1976.3 L575.4 1973.3 L576.3 1969.5 L577.2 1967.5 L578.4 1965.9 L579.5 1965.6 L580.7 1964.8 L581.9 1962.2 L583.1 1959.4 L584.2 1957.8 L585.1 1954.1 L586.0 1949.0 L586.9 1944.3 L587.8 1941.9 L588.6 1935.7 L589.5 1929.6 L590.4 1919.5 L591.3 1910.3 L592.2 1915.6 L593.0 1919.1 L593.9 1918.2 L594.8 1917.3 L595.7 1911.9 L596.6 1903.2 L597.4 1900.0 L598.3 1892.7 L599.2 1890.0 L600.1 1886.8 L601.0 1887.4 L601.8 1884.8 L602.7 1887.4 L603.6 1882.1 L604.6 1880.9 L605.7 1878.6 L606.8 1878.9 L608.0 1876.0 L608.9 1879.4 L609.8 1882.1 L610.6 1890.8 L611.5 1896.2 L612.4 1900.8 L613.3 1903.2 L614.2 1908.7 L615.0 1915.5 L615.9 1923.6 L616.8 1930.7 L617.7 1938.4 L618.6 1943.6 L619.4 1948.7 L620.3 1952.5 L621.2 1956.3 L622.1 1960.6 L623.0 1963.1 L623.8 1965.2 L624.7 1967.7 L625.6 1970.1 L626.5 1971.6 L627.4 1972.6 L628.2 1974.5 L629.3 1975.4 L630.3 1975.3 L631.4 1976.0 L632.5 1976.9 L633.5 1977.5 L634.6 1977.5 L635.6 1977.5 L636.7 1977.5 L637.7 1977.5 L638.8 1977.5 L639.8 1977.5 L640.9 1977.5 L641.9 1977.5 L643.0 1977.4 L644.0 1977.4 L645.1 1977.4 L646.1 1977.4 L647.2 1977.4 L648.2 1977.4 L649.3 1977.4 L650.3 1977.4 L651.4 1977.4 L652.4 1977.4 L653.5 1977.4 L654.5 1977.4 L655.6 1977.4 L656.6 1977.4 L657.7 1977.4 L658.7 1977.4 L659.8 1977.3 L660.8 1977.3 L661.9 1977.3 L662.9 1977.3 L664.0 1977.3 L665.0 1977.3 L666.1 1977.3 L667.1 1977.3 L668.2 1977.3 L669.2 1977.3 L670.3 1977.3 L671.3 1977.3 L672.4 1977.3 L673.4 1977.3 L674.5 1977.3 L675.5 1977.3 L676.6 1977.2 L677.6 1977.2 L678.7 1977.2 L679.7 1977.2 L680.8 1977.2 L681.8 1977.2 L682.9 1977.2 L683.9 1977.2 L685.0 1977.2 L686.0 1977.2 L687.1 1977.2 L688.1 1977.2 L689.2 1977.2 L690.2 1977.2 L691.3 1977.2 L692.3 1977.2 L693.4 1977.1 L694.2 1977.3 L695.1 1977.5 L695.1 1977.5Z" stroke="none" stroke-width="0.00" fill="#2d6a45" fill-opacity="0.55"/>
<path d="M427.5 1977.5 L473.1 1977.5 L474.1 1977.3 L475.1 1977.1 L476.2 1977.1 L477.2 1977.1 L478.3 1977.0 L479.3 1977.0 L480.4 1977.0 L481.5 1976.9 L482.5 1976.9 L483.6 1976.9 L484.6 1976.8 L485.7 1976.8 L486.8 1976.7 L487.9 1976.5 L489.0 1976.8 L490.1 1976.4 L491.2 1976.1 L492.3 1976.6 L493.4 1976.0 L494.5 1975.7 L495.5 1975.2 L496.5 1976.5 L497.5 1976.4 L498.5 1976.3 L499.5 1977.1 L500.5 1976.6 L501.5 1976.8 L502.5 1976.7 L503.5 1976.6 L504.5 1976.6 L505.5 1976.5 L506.5 1976.2 L507.6 1976.4 L508.6 1976.3 L509.6 1976.6 L510.6 1976.1 L511.6 1976.3 L512.6 1975.9 L513.6 1975.9 L514.6 1975.9 L515.6 1975.7 L516.7 1975.4 L517.7 1974.1 L518.8 1973.9 L519.8 1973.1 L520.9 1972.7 L522.0 1973.4 L523.2 1974.4 L524.4 1975.0 L525.5 1974.2 L526.5 1973.7 L527.6 1973.0 L528.6 1972.4 L529.7 1971.9 L530.8 1972.6 L532.0 1973.0 L533.2 1973.6 L534.3 1972.8 L535.3 1971.8 L536.4 1971.8 L537.4 1970.3 L538.5 1970.1 L539.4 1972.0 L540.2 1972.3 L541.1 1972.7 L542.0 1967.0 L542.9 1961.3 L543.8 1964.6 L544.6 1966.9 L545.5 1970.1 L546.7 1969.9 L547.9 1968.5 L549.0 1966.6 L550.2 1968.0 L551.4 1967.8 L552.6 1968.3 L553.7 1968.0 L554.9 1969.5 L556.1 1969.2 L557.1 1969.9 L558.2 1970.4 L559.2 1969.9 L560.3 1970.4 L561.4 1971.0 L562.5 1969.2 L563.7 1968.5 L564.9 1966.6 L565.8 1966.8 L566.6 1967.0 L567.5 1966.6 L568.4 1968.6 L569.3 1970.3 L570.2 1971.9 L571.3 1972.8 L572.4 1974.7 L573.5 1974.7 L574.6 1976.3 L575.4 1973.3 L576.3 1969.5 L577.2 1967.5 L578.4 1965.9 L579.5 1965.6 L580.7 1964.8 L581.9 1962.2 L583.1 1959.4 L584.2 1957.8 L585.1 1954.1 L586.0 1949.0 L586.9 1944.3 L587.8 1941.9 L588.6 1935.7 L589.5 1929.6 L590.4 1919.5 L591.3 1910.3 L592.2 1915.6 L593.0 1919.1 L593.9 1918.2 L594.8 1917.3 L595.7 1911.9 L596.6 1903.2 L597.4 1900.0 L598.3 1892.7 L599.2 1890.0 L600.1 1886.8 L601.0 1887.4 L601.8 1884.8 L602.7 1887.4 L603.6 1882.1 L604.6 1880.9 L605.7 1878.6 L606.8 1878.9 L608.0 1876.0 L608.9 1879.4 L609.8 1882.1 L610.6 1890.8 L611.5 1896.2 L612.4 1900.8 L613.3 1903.2 L614.2 1908.7 L615.0 1915.5 L615.9 1923.6 L616.8 1930.7 L617.7 1938.4 L618.6 1943.6 L619.4 1948.7 L620.3 1952.5 L621.2 1956.3 L622.1 1960.6 L623.0 1963.1 L623.8 1965.2 L624.7 1967.7 L625.6 1970.1 L626.5 1971.6 L627.4 1972.6 L628.2 1974.5 L629.3 1975.4 L630.3 1975.3 L631.4 1976.0 L632.5 1976.9 L633.5 1977.5 L634.6 1977.5 L635.6 1977.5 L636.7 1977.5 L637.7 1977.5 L638.8 1977.5 L639.8 1977.5 L640.9 1977.5 L641.9 1977.5 L643.0 1977.4 L644.0 1977.4 L645.1 1977.4 L646.1 1977.4 L647.2 1977.4 L648.2 1977.4 L649.3 1977.4 L650.3 1977.4 L651.4 1977.4 L652.4 1977.4 L653.5 1977.4 L654.5 1977.4 L655.6 1977.4 L656.6 1977.4 L657.7 1977.4 L658.7 1977.4 L659.8 1977.3 L660.8 1977.3 L661.9 1977.3 L662.9 1977.3 L664.0 1977.3 L665.0 1977.3 L666.1 1977.3 L667.1 1977.3 L668.2 1977.3 L669.2 1977.3 L670.3 1977.3 L671.3 1977.3 L672.4 1977.3 L673.4 1977.3 L674.5 1977.3 L675.5 1977.3 L676.6 1977.2 L677.6 1977.2 L678.7 1977.2 L679.7 1977.2 L680.8 1977.2 L681.8 1977.2 L682.9 1977.2 L683.9 1977.2 L685.0 1977.2 L686.0 1977.2 L687.1 1977.2 L688.1 1977.2 L689.2 1977.2 L690.2 1977.2 L691.3 1977.2 L692.3 1977.2 L693.4 1977.1 L694.2 1977.3 L695.1 1977.5 L721.0 1977.5" stroke="#0b6b3a" stroke-width="2.10" fill="none" stroke-linejoin="miter" stroke-miterlimit="3"/>
<rect x="121.1" y="1792.8" width="291.7" height="245.7" fill="none" stroke="#000" stroke-width="2.3"/>
<rect x="429.0" y="1792.8" width="292.0" height="245.7" fill="none" stroke="#000" stroke-width="2.3"/>
<line x1="121.12" y1="2037.50" x2="121.12" y2="2047.50" stroke="#000" stroke-width="2.20" />
<line x1="217.04" y1="2037.50" x2="217.04" y2="2047.50" stroke="#000" stroke-width="2.20" />
<line x1="286.55" y1="2037.50" x2="286.55" y2="2047.50" stroke="#000" stroke-width="2.20" />
<line x1="349.03" y1="2037.50" x2="349.03" y2="2047.50" stroke="#000" stroke-width="2.20" />
<line x1="411.51" y1="2037.50" x2="411.51" y2="2047.50" stroke="#000" stroke-width="2.20" />
<line x1="191.52" y1="2037.50" x2="191.52" y2="2044.00" stroke="#000" stroke-width="2.20" />
<line x1="268.07" y1="2037.50" x2="268.07" y2="2044.00" stroke="#000" stroke-width="2.20" />
<line x1="332.31" y1="2037.50" x2="332.31" y2="2044.00" stroke="#000" stroke-width="2.20" />
<line x1="392.15" y1="2037.50" x2="392.15" y2="2044.00" stroke="#000" stroke-width="2.20" />
<line x1="141.36" y1="2037.50" x2="141.36" y2="2041.50" stroke="#000" stroke-width="2.20" />
<line x1="158.96" y1="2037.50" x2="158.96" y2="2041.50" stroke="#000" stroke-width="2.20" />
<line x1="172.16" y1="2037.50" x2="172.16" y2="2041.50" stroke="#000" stroke-width="2.20" />
<line x1="183.60" y1="2037.50" x2="183.60" y2="2041.50" stroke="#000" stroke-width="2.20" />
<line x1="198.56" y1="2037.50" x2="198.56" y2="2041.50" stroke="#000" stroke-width="2.20" />
<line x1="203.84" y1="2037.50" x2="203.84" y2="2041.50" stroke="#000" stroke-width="2.20" />
<line x1="208.24" y1="2037.50" x2="208.24" y2="2041.50" stroke="#000" stroke-width="2.20" />
<line x1="212.64" y1="2037.50" x2="212.64" y2="2041.50" stroke="#000" stroke-width="2.20" />
<line x1="239.92" y1="2037.50" x2="239.92" y2="2041.50" stroke="#000" stroke-width="2.20" />
<line x1="250.48" y1="2037.50" x2="250.48" y2="2041.50" stroke="#000" stroke-width="2.20" />
<line x1="261.03" y1="2037.50" x2="261.03" y2="2041.50" stroke="#000" stroke-width="2.20" />
<line x1="273.35" y1="2037.50" x2="273.35" y2="2041.50" stroke="#000" stroke-width="2.20" />
<line x1="276.87" y1="2037.50" x2="276.87" y2="2041.50" stroke="#000" stroke-width="2.20" />
<line x1="280.39" y1="2037.50" x2="280.39" y2="2041.50" stroke="#000" stroke-width="2.20" />
<line x1="283.91" y1="2037.50" x2="283.91" y2="2041.50" stroke="#000" stroke-width="2.20" />
<line x1="307.67" y1="2037.50" x2="307.67" y2="2041.50" stroke="#000" stroke-width="2.20" />
<line x1="318.23" y1="2037.50" x2="318.23" y2="2041.50" stroke="#000" stroke-width="2.20" />
<line x1="325.27" y1="2037.50" x2="325.27" y2="2041.50" stroke="#000" stroke-width="2.20" />
<line x1="337.59" y1="2037.50" x2="337.59" y2="2041.50" stroke="#000" stroke-width="2.20" />
<line x1="341.11" y1="2037.50" x2="341.11" y2="2041.50" stroke="#000" stroke-width="2.20" />
<line x1="343.75" y1="2037.50" x2="343.75" y2="2041.50" stroke="#000" stroke-width="2.20" />
<line x1="346.39" y1="2037.50" x2="346.39" y2="2041.50" stroke="#000" stroke-width="2.20" />
<line x1="367.51" y1="2037.50" x2="367.51" y2="2041.50" stroke="#000" stroke-width="2.20" />
<line x1="378.07" y1="2037.50" x2="378.07" y2="2041.50" stroke="#000" stroke-width="2.20" />
<line x1="385.99" y1="2037.50" x2="385.99" y2="2041.50" stroke="#000" stroke-width="2.20" />
<line x1="397.43" y1="2037.50" x2="397.43" y2="2041.50" stroke="#000" stroke-width="2.20" />
<line x1="401.83" y1="2037.50" x2="401.83" y2="2041.50" stroke="#000" stroke-width="2.20" />
<line x1="405.35" y1="2037.50" x2="405.35" y2="2041.50" stroke="#000" stroke-width="2.20" />
<line x1="408.34" y1="2037.50" x2="408.34" y2="2041.50" stroke="#000" stroke-width="2.20" />
<line x1="429.01" y1="2037.50" x2="429.01" y2="2047.50" stroke="#000" stroke-width="2.20" />
<line x1="525.28" y1="2037.50" x2="525.28" y2="2047.50" stroke="#000" stroke-width="2.20" />
<line x1="594.44" y1="2037.50" x2="594.44" y2="2047.50" stroke="#000" stroke-width="2.20" />
<line x1="657.80" y1="2037.50" x2="657.80" y2="2047.50" stroke="#000" stroke-width="2.20" />
<line x1="720.10" y1="2037.50" x2="720.10" y2="2047.50" stroke="#000" stroke-width="2.20" />
<line x1="500.11" y1="2037.50" x2="500.11" y2="2044.00" stroke="#000" stroke-width="2.20" />
<line x1="575.43" y1="2037.50" x2="575.43" y2="2044.00" stroke="#000" stroke-width="2.20" />
<line x1="640.55" y1="2037.50" x2="640.55" y2="2044.00" stroke="#000" stroke-width="2.20" />
<line x1="701.27" y1="2037.50" x2="701.27" y2="2044.00" stroke="#000" stroke-width="2.20" />
<line x1="449.60" y1="2037.50" x2="449.60" y2="2041.50" stroke="#000" stroke-width="2.20" />
<line x1="467.20" y1="2037.50" x2="467.20" y2="2041.50" stroke="#000" stroke-width="2.20" />
<line x1="480.40" y1="2037.50" x2="480.40" y2="2041.50" stroke="#000" stroke-width="2.20" />
<line x1="491.84" y1="2037.50" x2="491.84" y2="2041.50" stroke="#000" stroke-width="2.20" />
<line x1="506.80" y1="2037.50" x2="506.80" y2="2041.50" stroke="#000" stroke-width="2.20" />
<line x1="512.08" y1="2037.50" x2="512.08" y2="2041.50" stroke="#000" stroke-width="2.20" />
<line x1="516.48" y1="2037.50" x2="516.48" y2="2041.50" stroke="#000" stroke-width="2.20" />
<line x1="520.88" y1="2037.50" x2="520.88" y2="2041.50" stroke="#000" stroke-width="2.20" />
<line x1="548.16" y1="2037.50" x2="548.16" y2="2041.50" stroke="#000" stroke-width="2.20" />
<line x1="559.60" y1="2037.50" x2="559.60" y2="2041.50" stroke="#000" stroke-width="2.20" />
<line x1="568.39" y1="2037.50" x2="568.39" y2="2041.50" stroke="#000" stroke-width="2.20" />
<line x1="579.83" y1="2037.50" x2="579.83" y2="2041.50" stroke="#000" stroke-width="2.20" />
<line x1="584.23" y1="2037.50" x2="584.23" y2="2041.50" stroke="#000" stroke-width="2.20" />
<line x1="587.75" y1="2037.50" x2="587.75" y2="2041.50" stroke="#000" stroke-width="2.20" />
<line x1="591.27" y1="2037.50" x2="591.27" y2="2041.50" stroke="#000" stroke-width="2.20" />
<line x1="614.15" y1="2037.50" x2="614.15" y2="2041.50" stroke="#000" stroke-width="2.20" />
<line x1="625.59" y1="2037.50" x2="625.59" y2="2041.50" stroke="#000" stroke-width="2.20" />
<line x1="632.63" y1="2037.50" x2="632.63" y2="2041.50" stroke="#000" stroke-width="2.20" />
<line x1="644.95" y1="2037.50" x2="644.95" y2="2041.50" stroke="#000" stroke-width="2.20" />
<line x1="648.47" y1="2037.50" x2="648.47" y2="2041.50" stroke="#000" stroke-width="2.20" />
<line x1="651.99" y1="2037.50" x2="651.99" y2="2041.50" stroke="#000" stroke-width="2.20" />
<line x1="654.98" y1="2037.50" x2="654.98" y2="2041.50" stroke="#000" stroke-width="2.20" />
<line x1="677.51" y1="2037.50" x2="677.51" y2="2041.50" stroke="#000" stroke-width="2.20" />
<line x1="687.19" y1="2037.50" x2="687.19" y2="2041.50" stroke="#000" stroke-width="2.20" />
<line x1="694.23" y1="2037.50" x2="694.23" y2="2041.50" stroke="#000" stroke-width="2.20" />
<line x1="705.67" y1="2037.50" x2="705.67" y2="2041.50" stroke="#000" stroke-width="2.20" />
<line x1="709.19" y1="2037.50" x2="709.19" y2="2041.50" stroke="#000" stroke-width="2.20" />
<line x1="712.71" y1="2037.50" x2="712.71" y2="2041.50" stroke="#000" stroke-width="2.20" />
<line x1="716.58" y1="2037.50" x2="716.58" y2="2041.50" stroke="#000" stroke-width="2.20" />
<path d="M179.0 2037.4 L179.0 2037.4 L180.0 2037.1 L181.0 2036.9 L182.0 2036.4 L183.0 2036.4 L184.0 2035.7 L185.1 2035.0 L186.1 2034.9 L187.1 2034.2 L188.2 2035.1 L189.3 2035.8 L190.4 2035.7 L191.5 2036.3 L192.6 2035.7 L193.6 2035.0 L194.7 2034.4 L195.7 2034.2 L196.8 2032.5 L197.9 2031.4 L199.0 2030.7 L200.1 2029.3 L201.2 2028.1 L202.1 2028.0 L203.0 2029.5 L203.8 2029.8 L205.0 2027.9 L206.2 2025.3 L207.4 2023.7 L208.5 2021.5 L209.7 2019.0 L210.9 2016.6 L211.8 2018.7 L212.6 2019.7 L213.5 2020.2 L214.4 2019.1 L215.3 2014.8 L216.2 2013.1 L217.0 2009.7 L217.9 2009.0 L218.8 2006.1 L219.7 2001.6 L220.6 1997.3 L221.4 1992.0 L222.3 1989.6 L223.2 1993.1 L224.1 1995.5 L225.0 1989.3 L225.8 1981.5 L226.7 1976.2 L227.6 1974.4 L228.5 1979.1 L229.4 1977.9 L230.2 1962.5 L231.1 1949.8 L232.0 1951.8 L232.9 1956.8 L233.8 1949.7 L234.6 1942.7 L235.5 1940.2 L236.4 1941.8 L237.3 1940.0 L238.2 1944.5 L239.0 1948.8 L239.9 1953.3 L240.8 1955.8 L241.7 1956.8 L242.6 1961.0 L243.4 1969.1 L244.3 1974.0 L245.2 1979.7 L246.1 1981.3 L247.0 1981.2 L247.8 1986.7 L248.7 1995.9 L249.6 2006.1 L250.5 2005.5 L251.4 2006.3 L252.2 2004.3 L253.1 2010.4 L254.0 2016.9 L254.9 2023.7 L256.0 2023.0 L257.2 2022.7 L258.4 2022.8 L259.3 2025.0 L260.2 2027.9 L261.0 2030.7 L262.2 2031.8 L263.4 2032.8 L264.6 2034.2 L265.7 2034.7 L266.8 2035.0 L267.9 2035.2 L269.0 2035.1 L270.0 2035.4 L271.1 2036.3 L272.1 2036.3 L273.2 2036.5 L274.2 2036.9 L275.2 2036.8 L276.2 2036.7 L277.3 2036.6 L278.3 2036.6 L279.3 2036.5 L280.3 2036.4 L281.3 2036.3 L282.3 2036.6 L283.4 2036.8 L284.4 2037.0 L285.5 2037.2 L286.6 2037.4 L286.6 2037.4Z" stroke="none" stroke-width="0.00" fill="#cfd1d2" fill-opacity="0.60"/>
<path d="M118.1 2037.4 L179.0 2037.4 L180.0 2037.1 L181.0 2036.9 L182.0 2036.4 L183.0 2036.4 L184.0 2035.7 L185.1 2035.0 L186.1 2034.9 L187.1 2034.2 L188.2 2035.1 L189.3 2035.8 L190.4 2035.7 L191.5 2036.3 L192.6 2035.7 L193.6 2035.0 L194.7 2034.4 L195.7 2034.2 L196.8 2032.5 L197.9 2031.4 L199.0 2030.7 L200.1 2029.3 L201.2 2028.1 L202.1 2028.0 L203.0 2029.5 L203.8 2029.8 L205.0 2027.9 L206.2 2025.3 L207.4 2023.7 L208.5 2021.5 L209.7 2019.0 L210.9 2016.6 L211.8 2018.7 L212.6 2019.7 L213.5 2020.2 L214.4 2019.1 L215.3 2014.8 L216.2 2013.1 L217.0 2009.7 L217.9 2009.0 L218.8 2006.1 L219.7 2001.6 L220.6 1997.3 L221.4 1992.0 L222.3 1989.6 L223.2 1993.1 L224.1 1995.5 L225.0 1989.3 L225.8 1981.5 L226.7 1976.2 L227.6 1974.4 L228.5 1979.1 L229.4 1977.9 L230.2 1962.5 L231.1 1949.8 L232.0 1951.8 L232.9 1956.8 L233.8 1949.7 L234.6 1942.7 L235.5 1940.2 L236.4 1941.8 L237.3 1940.0 L238.2 1944.5 L239.0 1948.8 L239.9 1953.3 L240.8 1955.8 L241.7 1956.8 L242.6 1961.0 L243.4 1969.1 L244.3 1974.0 L245.2 1979.7 L246.1 1981.3 L247.0 1981.2 L247.8 1986.7 L248.7 1995.9 L249.6 2006.1 L250.5 2005.5 L251.4 2006.3 L252.2 2004.3 L253.1 2010.4 L254.0 2016.9 L254.9 2023.7 L256.0 2023.0 L257.2 2022.7 L258.4 2022.8 L259.3 2025.0 L260.2 2027.9 L261.0 2030.7 L262.2 2031.8 L263.4 2032.8 L264.6 2034.2 L265.7 2034.7 L266.8 2035.0 L267.9 2035.2 L269.0 2035.1 L270.0 2035.4 L271.1 2036.3 L272.1 2036.3 L273.2 2036.5 L274.2 2036.9 L275.2 2036.8 L276.2 2036.7 L277.3 2036.6 L278.3 2036.6 L279.3 2036.5 L280.3 2036.4 L281.3 2036.3 L282.3 2036.6 L283.4 2036.8 L284.4 2037.0 L285.5 2037.2 L286.6 2037.4 L412.8 2037.4" stroke="#8a8a8a" stroke-width="2.10" fill="none" stroke-linejoin="miter" stroke-miterlimit="3"/>
<path d="M483.7 2038.3 L483.7 2038.3 L484.7 2037.4 L485.7 2035.7 L486.8 2035.0 L487.9 2035.2 L489.0 2036.2 L490.1 2035.9 L491.2 2036.8 L492.3 2035.9 L493.4 2036.4 L494.5 2036.5 L495.5 2036.0 L496.5 2035.0 L497.5 2035.4 L498.5 2034.3 L499.5 2034.5 L500.5 2033.7 L501.5 2033.0 L502.7 2030.7 L503.9 2030.7 L505.0 2027.7 L505.9 2028.8 L506.8 2028.2 L507.7 2029.5 L508.6 2027.0 L509.4 2025.8 L510.3 2023.3 L511.2 2024.2 L512.1 2026.0 L513.0 2023.1 L513.8 2021.2 L514.7 2018.9 L515.6 2021.3 L516.5 2021.5 L517.4 2023.3 L518.2 2020.3 L519.1 2019.9 L520.0 2017.2 L520.9 2013.9 L521.8 2013.1 L522.6 2011.9 L523.5 2011.4 L524.4 2015.0 L525.3 2013.7 L526.2 2001.9 L527.0 1994.3 L527.9 1994.3 L528.8 1995.8 L529.7 1999.6 L530.6 1992.8 L531.4 1983.7 L532.3 1985.3 L533.2 1988.0 L534.1 1990.8 L535.0 1985.5 L535.8 1978.2 L536.7 1980.2 L537.6 1980.2 L538.5 1972.0 L539.4 1971.4 L540.2 1973.6 L541.1 1973.6 L542.0 1974.9 L542.9 1971.0 L543.8 1972.4 L544.6 1969.7 L545.5 1969.8 L546.4 1966.5 L547.3 1966.1 L548.2 1965.0 L549.0 1963.7 L549.9 1962.6 L550.8 1958.2 L551.7 1956.3 L552.6 1953.8 L553.4 1950.9 L554.3 1949.4 L555.2 1952.4 L556.1 1955.6 L557.0 1954.2 L557.8 1957.3 L558.7 1957.4 L559.6 1962.6 L560.5 1969.7 L561.4 1974.9 L562.2 1983.9 L563.1 1990.8 L564.0 1996.0 L564.9 1999.6 L565.8 2003.6 L566.6 2007.9 L567.5 2013.7 L568.4 2018.1 L569.3 2022.5 L570.2 2027.1 L571.0 2031.3 L571.9 2032.0 L572.8 2032.7 L573.7 2033.0 L574.6 2034.6 L575.4 2036.2 L576.3 2037.4 L577.2 2037.7 L578.1 2038.0 L579.0 2038.3 L579.0 2038.3Z" stroke="none" stroke-width="0.00" fill="#cfd1d2" fill-opacity="0.60"/>
<path d="M427.5 2038.3 L483.7 2038.3 L484.7 2037.4 L485.7 2035.7 L486.8 2035.0 L487.9 2035.2 L489.0 2036.2 L490.1 2035.9 L491.2 2036.8 L492.3 2035.9 L493.4 2036.4 L494.5 2036.5 L495.5 2036.0 L496.5 2035.0 L497.5 2035.4 L498.5 2034.3 L499.5 2034.5 L500.5 2033.7 L501.5 2033.0 L502.7 2030.7 L503.9 2030.7 L505.0 2027.7 L505.9 2028.8 L506.8 2028.2 L507.7 2029.5 L508.6 2027.0 L509.4 2025.8 L510.3 2023.3 L511.2 2024.2 L512.1 2026.0 L513.0 2023.1 L513.8 2021.2 L514.7 2018.9 L515.6 2021.3 L516.5 2021.5 L517.4 2023.3 L518.2 2020.3 L519.1 2019.9 L520.0 2017.2 L520.9 2013.9 L521.8 2013.1 L522.6 2011.9 L523.5 2011.4 L524.4 2015.0 L525.3 2013.7 L526.2 2001.9 L527.0 1994.3 L527.9 1994.3 L528.8 1995.8 L529.7 1999.6 L530.6 1992.8 L531.4 1983.7 L532.3 1985.3 L533.2 1988.0 L534.1 1990.8 L535.0 1985.5 L535.8 1978.2 L536.7 1980.2 L537.6 1980.2 L538.5 1972.0 L539.4 1971.4 L540.2 1973.6 L541.1 1973.6 L542.0 1974.9 L542.9 1971.0 L543.8 1972.4 L544.6 1969.7 L545.5 1969.8 L546.4 1966.5 L547.3 1966.1 L548.2 1965.0 L549.0 1963.7 L549.9 1962.6 L550.8 1958.2 L551.7 1956.3 L552.6 1953.8 L553.4 1950.9 L554.3 1949.4 L555.2 1952.4 L556.1 1955.6 L557.0 1954.2 L557.8 1957.3 L558.7 1957.4 L559.6 1962.6 L560.5 1969.7 L561.4 1974.9 L562.2 1983.9 L563.1 1990.8 L564.0 1996.0 L564.9 1999.6 L565.8 2003.6 L566.6 2007.9 L567.5 2013.7 L568.4 2018.1 L569.3 2022.5 L570.2 2027.1 L571.0 2031.3 L571.9 2032.0 L572.8 2032.7 L573.7 2033.0 L574.6 2034.6 L575.4 2036.2 L576.3 2037.4 L577.2 2037.7 L578.1 2038.0 L579.0 2038.3 L721.0 2038.3" stroke="#8a8a8a" stroke-width="2.10" fill="none" stroke-linejoin="miter" stroke-miterlimit="3"/>
<text x="126.4" y="1820.3" font-size="24.80">4°C</text>
<text x="438.5" y="1823.2" font-size="24.80">37°C</text>
<text x="86.3" y="1918.0" font-size="24.80" text-anchor="middle" transform="rotate(-90 86.3 1918.0)">Normalized cell counts</text>
<text transform="translate(120.3 2083.8) scale(1.1 1)" font-size="23">0</text>
<text transform="translate(199.1 2083.8) scale(1.1 1)" font-size="23">10</text>
<text transform="translate(226.9 2066.7) scale(1.1 1)" font-size="23">1</text>
<text transform="translate(266.2 2083.8) scale(1.1 1)" font-size="23">10</text>
<text transform="translate(294.6 2066.7) scale(1.1 1)" font-size="23">2</text>
<text transform="translate(324.3 2083.8) scale(1.1 1)" font-size="23">10</text>
<text transform="translate(353.8 2066.7) scale(1.1 1)" font-size="23">3</text>
<text transform="translate(382.4 2083.8) scale(1.1 1)" font-size="23">10</text>
<text transform="translate(410.7 2066.7) scale(1.1 1)" font-size="23">4</text>
<text transform="translate(429.5 2083.8) scale(1.1 1)" font-size="23">0</text>
<text transform="translate(507.9 2083.8) scale(1.1 1)" font-size="23">10</text>
<text transform="translate(535.2 2066.7) scale(1.1 1)" font-size="23">1</text>
<text transform="translate(574.5 2083.8) scale(1.1 1)" font-size="23">10</text>
<text transform="translate(602.9 2066.7) scale(1.1 1)" font-size="23">2</text>
<text transform="translate(632.6 2083.8) scale(1.1 1)" font-size="23">10</text>
<text transform="translate(661.8 2066.7) scale(1.1 1)" font-size="23">3</text>
<text transform="translate(690.7 2083.8) scale(1.1 1)" font-size="23">10</text>
<text transform="translate(718.5 2066.7) scale(1.1 1)" font-size="23">4</text>
<text x="283.0" y="2125.0" font-size="24.50" text-anchor="middle">AF-488</text>
<text x="591.5" y="2125.0" font-size="24.50" text-anchor="middle">AF-488</text>
<text x="728.9" y="1767.5" font-size="24.80">SU-DHL-4</text>
<text x="728.9" y="1796.4" font-size="24.80"><tspan font-family="'Liberation Serif',serif" font-size="28.8" letter-spacing="0.7">α</tspan>CD22</text>
<text x="728.9" y="1857.4" font-size="24.8"><tspan font-weight="bold">APIC</tspan><tspan font-weight="bold" font-size="14.6" dy="-8.6" dx="0.8" fill="#1fa04b">AF488</tspan></text>
<text x="728.9" y="1886.3" font-size="24.80">+ quencher</text>
<text x="726.9" y="1966.4" font-size="24.8"><tspan font-weight="bold">APIC</tspan><tspan font-weight="bold" font-size="14.6" dy="-8.6" dx="0.8" fill="#1fa04b">AF488</tspan></text>
<text x="728.9" y="2022.8" font-size="24.80">unstained</text>
</g>
</svg>
</body></html>
